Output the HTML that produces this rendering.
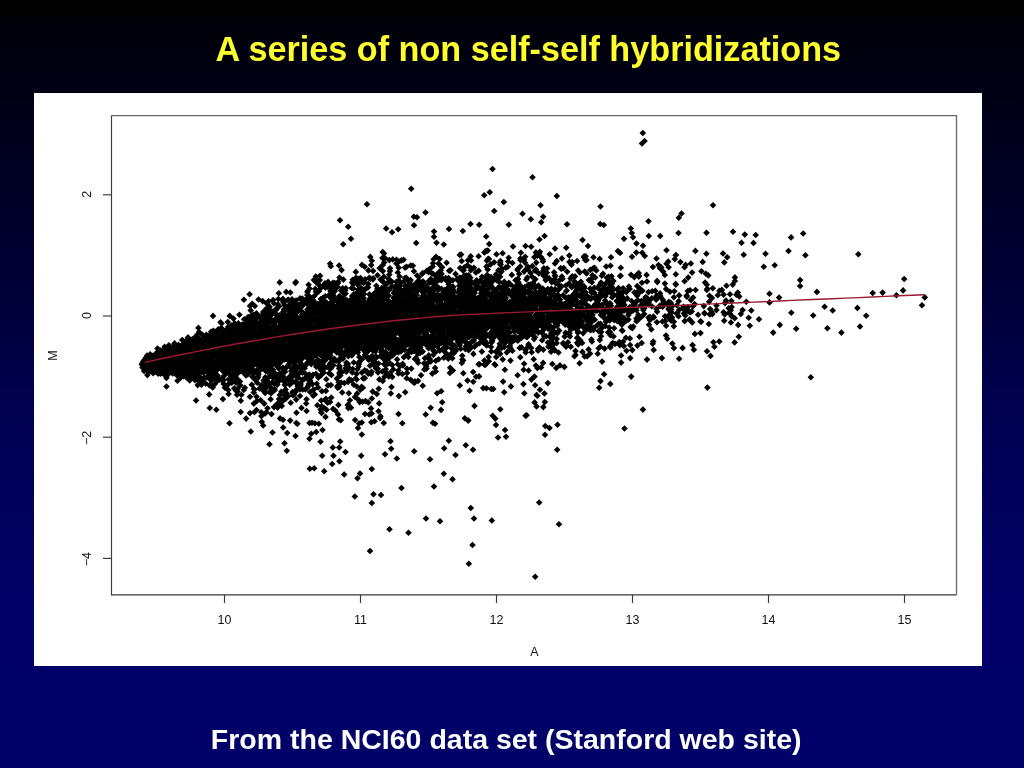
<!DOCTYPE html>
<html><head><meta charset="utf-8"><title>A series of non self-self hybridizations</title>
<style>
html,body{margin:0;padding:0;overflow:hidden;}
html{width:1024px;height:768px;background:#000;}
body{width:1024px;height:768px;overflow:hidden;background:#000;font-family:"Liberation Sans",sans-serif;position:relative;}
#bg{position:absolute;left:0;top:16px;width:1024px;height:752px;background:linear-gradient(to bottom,#000008 0px,#000015 80px,#000035 260px,#000054 420px,#000068 600px,#000069 752px);}
#title{position:absolute;left:31.8px;top:29px;width:992.6px;text-align:center;font-weight:bold;font-size:34.2px;line-height:40px;color:#ffff2e;white-space:nowrap;}
#cap{position:absolute;left:0;top:722.3px;width:1012.4px;text-align:center;font-weight:bold;font-size:28.5px;line-height:34px;color:#fff;white-space:nowrap;}
#plot{position:absolute;left:34px;top:93px;width:948px;height:573px;background:#fff;}
svg{position:absolute;left:0;top:0;will-change:transform;}
#title,#cap{will-change:transform;}
svg text{font-family:"Liberation Sans",sans-serif;font-size:12.5px;fill:#111;}
</style></head><body>
<div id="bg"></div>
<div id="title">A series of non self-self hybridizations</div>
<div id="plot"></div>
<svg width="1024" height="768" viewBox="0 0 1024 768">
<g stroke="#3a3a3a" stroke-width="1.15" fill="none">
<path d="M111.5 115.6V594.8H956.5"/><path d="M111.5 115.6H956.5V594.8" stroke="#666" stroke-width="1.3"/>
<line x1="224.5" y1="595" x2="224.5" y2="603"/><line x1="360.5" y1="595" x2="360.5" y2="603"/><line x1="496.5" y1="595" x2="496.5" y2="603"/><line x1="632.5" y1="595" x2="632.5" y2="603"/><line x1="768.5" y1="595" x2="768.5" y2="603"/><line x1="904.5" y1="595" x2="904.5" y2="603"/><line x1="103" y1="194.8" x2="111.5" y2="194.8"/><line x1="103" y1="316.0" x2="111.5" y2="316.0"/><line x1="103" y1="437.2" x2="111.5" y2="437.2"/><line x1="103" y1="558.4" x2="111.5" y2="558.4"/>
</g>
<text x="224.5" y="624" text-anchor="middle">10</text><text x="360.5" y="624" text-anchor="middle">11</text><text x="496.5" y="624" text-anchor="middle">12</text><text x="632.5" y="624" text-anchor="middle">13</text><text x="768.5" y="624" text-anchor="middle">14</text><text x="904.5" y="624" text-anchor="middle">15</text><text transform="translate(91 194.3) rotate(-90)" text-anchor="middle">2</text><text transform="translate(91 315.5) rotate(-90)" text-anchor="middle">0</text><text transform="translate(91 437.9) rotate(-90)" text-anchor="middle">−2</text><text transform="translate(91 559.1) rotate(-90)" text-anchor="middle">−4</text>
<text x="534.5" y="656" text-anchor="middle">A</text>
<text transform="translate(57.3 355.5) rotate(-90)" text-anchor="middle">M</text>
<path fill="#000" d="M141.8 361.1l3.3 3.3-3.3 3.3-3.3-3.3zM142.2 360.3l3.3 3.3-3.3 3.3-3.3-3.3zM142.2 361.5l3.3 3.3-3.3 3.3-3.3-3.3zM142.5 364.2l3.3 3.3-3.3 3.3-3.3-3.3zM142.7 360.7l3.3 3.3-3.3 3.3-3.3-3.3zM142.9 359.0l3.3 3.3-3.3 3.3-3.3-3.3zM143.0 359.6l3.3 3.3-3.3 3.3-3.3-3.3zM143.3 358.3l3.3 3.3-3.3 3.3-3.3-3.3zM143.8 357.1l3.3 3.3-3.3 3.3-3.3-3.3zM144.1 367.7l3.3 3.3-3.3 3.3-3.3-3.3zM144.6 361.7l3.3 3.3-3.3 3.3-3.3-3.3zM144.8 362.8l3.3 3.3-3.3 3.3-3.3-3.3zM145.7 359.9l3.3 3.3-3.3 3.3-3.3-3.3zM145.8 354.5l3.3 3.3-3.3 3.3-3.3-3.3zM146.3 361.9l3.3 3.3-3.3 3.3-3.3-3.3zM147.1 352.3l3.3 3.3-3.3 3.3-3.3-3.3zM147.2 365.8l3.3 3.3-3.3 3.3-3.3-3.3zM147.3 365.2l3.3 3.3-3.3 3.3-3.3-3.3zM147.4 371.8l3.3 3.3-3.3 3.3-3.3-3.3zM147.5 363.7l3.3 3.3-3.3 3.3-3.3-3.3zM148.0 357.9l3.3 3.3-3.3 3.3-3.3-3.3zM148.1 358.2l3.3 3.3-3.3 3.3-3.3-3.3zM148.2 368.3l3.3 3.3-3.3 3.3-3.3-3.3zM148.2 354.6l3.3 3.3-3.3 3.3-3.3-3.3zM148.3 367.5l3.3 3.3-3.3 3.3-3.3-3.3zM148.8 353.8l3.3 3.3-3.3 3.3-3.3-3.3zM149.7 367.3l3.3 3.3-3.3 3.3-3.3-3.3zM149.7 356.7l3.3 3.3-3.3 3.3-3.3-3.3zM150.2 350.9l3.3 3.3-3.3 3.3-3.3-3.3zM150.3 361.5l3.3 3.3-3.3 3.3-3.3-3.3zM150.3 353.0l3.3 3.3-3.3 3.3-3.3-3.3zM150.4 358.2l3.3 3.3-3.3 3.3-3.3-3.3zM150.5 351.5l3.3 3.3-3.3 3.3-3.3-3.3zM150.8 358.8l3.3 3.3-3.3 3.3-3.3-3.3zM150.9 356.0l3.3 3.3-3.3 3.3-3.3-3.3zM151.0 360.9l3.3 3.3-3.3 3.3-3.3-3.3zM151.3 365.1l3.3 3.3-3.3 3.3-3.3-3.3zM151.5 361.2l3.3 3.3-3.3 3.3-3.3-3.3zM152.1 352.5l3.3 3.3-3.3 3.3-3.3-3.3zM152.4 369.0l3.3 3.3-3.3 3.3-3.3-3.3zM152.6 356.8l3.3 3.3-3.3 3.3-3.3-3.3zM152.6 360.4l3.3 3.3-3.3 3.3-3.3-3.3zM153.0 353.2l3.3 3.3-3.3 3.3-3.3-3.3zM153.1 370.0l3.3 3.3-3.3 3.3-3.3-3.3zM153.7 361.5l3.3 3.3-3.3 3.3-3.3-3.3zM154.0 364.1l3.3 3.3-3.3 3.3-3.3-3.3zM154.0 356.2l3.3 3.3-3.3 3.3-3.3-3.3zM154.1 353.2l3.3 3.3-3.3 3.3-3.3-3.3zM154.1 365.1l3.3 3.3-3.3 3.3-3.3-3.3zM154.4 358.4l3.3 3.3-3.3 3.3-3.3-3.3zM155.1 353.2l3.3 3.3-3.3 3.3-3.3-3.3zM155.5 367.7l3.3 3.3-3.3 3.3-3.3-3.3zM155.6 353.7l3.3 3.3-3.3 3.3-3.3-3.3zM155.9 350.3l3.3 3.3-3.3 3.3-3.3-3.3zM156.0 367.5l3.3 3.3-3.3 3.3-3.3-3.3zM156.1 368.8l3.3 3.3-3.3 3.3-3.3-3.3zM156.3 356.4l3.3 3.3-3.3 3.3-3.3-3.3zM156.8 363.3l3.3 3.3-3.3 3.3-3.3-3.3zM157.4 360.7l3.3 3.3-3.3 3.3-3.3-3.3zM157.5 345.3l3.3 3.3-3.3 3.3-3.3-3.3zM157.9 352.0l3.3 3.3-3.3 3.3-3.3-3.3zM158.1 352.3l3.3 3.3-3.3 3.3-3.3-3.3zM158.2 351.8l3.3 3.3-3.3 3.3-3.3-3.3zM158.2 370.3l3.3 3.3-3.3 3.3-3.3-3.3zM158.3 360.4l3.3 3.3-3.3 3.3-3.3-3.3zM158.3 353.6l3.3 3.3-3.3 3.3-3.3-3.3zM158.5 349.0l3.3 3.3-3.3 3.3-3.3-3.3zM159.1 363.6l3.3 3.3-3.3 3.3-3.3-3.3zM159.4 358.5l3.3 3.3-3.3 3.3-3.3-3.3zM159.9 368.8l3.3 3.3-3.3 3.3-3.3-3.3zM160.5 370.4l3.3 3.3-3.3 3.3-3.3-3.3zM160.6 347.3l3.3 3.3-3.3 3.3-3.3-3.3zM160.7 354.1l3.3 3.3-3.3 3.3-3.3-3.3zM160.8 365.6l3.3 3.3-3.3 3.3-3.3-3.3zM160.9 352.3l3.3 3.3-3.3 3.3-3.3-3.3zM160.9 360.4l3.3 3.3-3.3 3.3-3.3-3.3zM161.1 353.8l3.3 3.3-3.3 3.3-3.3-3.3zM161.2 363.7l3.3 3.3-3.3 3.3-3.3-3.3zM161.5 349.5l3.3 3.3-3.3 3.3-3.3-3.3zM162.4 360.4l3.3 3.3-3.3 3.3-3.3-3.3zM163.1 370.1l3.3 3.3-3.3 3.3-3.3-3.3zM163.2 347.2l3.3 3.3-3.3 3.3-3.3-3.3zM163.3 369.0l3.3 3.3-3.3 3.3-3.3-3.3zM163.3 352.0l3.3 3.3-3.3 3.3-3.3-3.3zM163.6 357.8l3.3 3.3-3.3 3.3-3.3-3.3zM164.2 346.4l3.3 3.3-3.3 3.3-3.3-3.3zM164.3 352.2l3.3 3.3-3.3 3.3-3.3-3.3zM164.5 346.8l3.3 3.3-3.3 3.3-3.3-3.3zM164.6 343.6l3.3 3.3-3.3 3.3-3.3-3.3zM164.6 364.1l3.3 3.3-3.3 3.3-3.3-3.3zM164.8 362.8l3.3 3.3-3.3 3.3-3.3-3.3zM165.0 371.6l3.3 3.3-3.3 3.3-3.3-3.3zM165.0 348.1l3.3 3.3-3.3 3.3-3.3-3.3zM165.2 360.8l3.3 3.3-3.3 3.3-3.3-3.3zM165.6 368.6l3.3 3.3-3.3 3.3-3.3-3.3zM166.4 374.6l3.3 3.3-3.3 3.3-3.3-3.3zM166.5 383.2l3.3 3.3-3.3 3.3-3.3-3.3zM166.6 351.1l3.3 3.3-3.3 3.3-3.3-3.3zM166.7 357.0l3.3 3.3-3.3 3.3-3.3-3.3zM166.8 365.6l3.3 3.3-3.3 3.3-3.3-3.3zM166.9 345.4l3.3 3.3-3.3 3.3-3.3-3.3zM167.0 345.1l3.3 3.3-3.3 3.3-3.3-3.3zM167.3 357.4l3.3 3.3-3.3 3.3-3.3-3.3zM167.5 362.5l3.3 3.3-3.3 3.3-3.3-3.3zM167.5 355.4l3.3 3.3-3.3 3.3-3.3-3.3zM167.7 371.1l3.3 3.3-3.3 3.3-3.3-3.3zM168.0 371.3l3.3 3.3-3.3 3.3-3.3-3.3zM168.0 348.0l3.3 3.3-3.3 3.3-3.3-3.3zM168.9 342.0l3.3 3.3-3.3 3.3-3.3-3.3zM169.0 342.7l3.3 3.3-3.3 3.3-3.3-3.3zM169.0 369.9l3.3 3.3-3.3 3.3-3.3-3.3zM169.1 362.8l3.3 3.3-3.3 3.3-3.3-3.3zM169.5 360.5l3.3 3.3-3.3 3.3-3.3-3.3zM169.5 353.2l3.3 3.3-3.3 3.3-3.3-3.3zM169.8 366.2l3.3 3.3-3.3 3.3-3.3-3.3zM169.9 344.5l3.3 3.3-3.3 3.3-3.3-3.3zM170.3 343.5l3.3 3.3-3.3 3.3-3.3-3.3zM170.3 360.5l3.3 3.3-3.3 3.3-3.3-3.3zM171.3 350.5l3.3 3.3-3.3 3.3-3.3-3.3zM171.9 350.3l3.3 3.3-3.3 3.3-3.3-3.3zM172.1 355.7l3.3 3.3-3.3 3.3-3.3-3.3zM172.3 358.9l3.3 3.3-3.3 3.3-3.3-3.3zM172.4 346.0l3.3 3.3-3.3 3.3-3.3-3.3zM172.7 359.5l3.3 3.3-3.3 3.3-3.3-3.3zM172.7 370.2l3.3 3.3-3.3 3.3-3.3-3.3zM173.2 343.3l3.3 3.3-3.3 3.3-3.3-3.3zM173.7 348.7l3.3 3.3-3.3 3.3-3.3-3.3zM173.8 357.4l3.3 3.3-3.3 3.3-3.3-3.3zM173.8 349.2l3.3 3.3-3.3 3.3-3.3-3.3zM173.9 368.3l3.3 3.3-3.3 3.3-3.3-3.3zM174.0 364.1l3.3 3.3-3.3 3.3-3.3-3.3zM174.1 353.2l3.3 3.3-3.3 3.3-3.3-3.3zM174.2 361.6l3.3 3.3-3.3 3.3-3.3-3.3zM174.3 369.7l3.3 3.3-3.3 3.3-3.3-3.3zM174.4 359.9l3.3 3.3-3.3 3.3-3.3-3.3zM174.5 340.1l3.3 3.3-3.3 3.3-3.3-3.3zM174.8 343.4l3.3 3.3-3.3 3.3-3.3-3.3zM174.8 365.4l3.3 3.3-3.3 3.3-3.3-3.3zM175.0 359.2l3.3 3.3-3.3 3.3-3.3-3.3zM175.3 355.0l3.3 3.3-3.3 3.3-3.3-3.3zM175.5 357.2l3.3 3.3-3.3 3.3-3.3-3.3zM175.6 354.2l3.3 3.3-3.3 3.3-3.3-3.3zM175.9 349.6l3.3 3.3-3.3 3.3-3.3-3.3zM176.1 350.7l3.3 3.3-3.3 3.3-3.3-3.3zM176.2 345.5l3.3 3.3-3.3 3.3-3.3-3.3zM176.2 361.9l3.3 3.3-3.3 3.3-3.3-3.3zM176.3 344.1l3.3 3.3-3.3 3.3-3.3-3.3zM176.4 368.9l3.3 3.3-3.3 3.3-3.3-3.3zM176.5 344.0l3.3 3.3-3.3 3.3-3.3-3.3zM176.5 355.8l3.3 3.3-3.3 3.3-3.3-3.3zM176.6 346.3l3.3 3.3-3.3 3.3-3.3-3.3zM176.9 371.9l3.3 3.3-3.3 3.3-3.3-3.3zM176.9 346.0l3.3 3.3-3.3 3.3-3.3-3.3zM177.5 377.4l3.3 3.3-3.3 3.3-3.3-3.3zM178.1 349.1l3.3 3.3-3.3 3.3-3.3-3.3zM178.4 352.7l3.3 3.3-3.3 3.3-3.3-3.3zM178.5 367.4l3.3 3.3-3.3 3.3-3.3-3.3zM178.6 341.6l3.3 3.3-3.3 3.3-3.3-3.3zM178.7 358.5l3.3 3.3-3.3 3.3-3.3-3.3zM178.8 364.1l3.3 3.3-3.3 3.3-3.3-3.3zM179.0 360.1l3.3 3.3-3.3 3.3-3.3-3.3zM179.8 348.2l3.3 3.3-3.3 3.3-3.3-3.3zM180.0 347.5l3.3 3.3-3.3 3.3-3.3-3.3zM180.2 344.9l3.3 3.3-3.3 3.3-3.3-3.3zM180.3 350.1l3.3 3.3-3.3 3.3-3.3-3.3zM180.4 373.7l3.3 3.3-3.3 3.3-3.3-3.3zM180.5 374.4l3.3 3.3-3.3 3.3-3.3-3.3zM180.5 357.2l3.3 3.3-3.3 3.3-3.3-3.3zM180.6 364.4l3.3 3.3-3.3 3.3-3.3-3.3zM180.7 354.9l3.3 3.3-3.3 3.3-3.3-3.3zM180.9 370.2l3.3 3.3-3.3 3.3-3.3-3.3zM181.1 371.0l3.3 3.3-3.3 3.3-3.3-3.3zM181.5 372.7l3.3 3.3-3.3 3.3-3.3-3.3zM181.5 343.1l3.3 3.3-3.3 3.3-3.3-3.3zM181.7 362.7l3.3 3.3-3.3 3.3-3.3-3.3zM181.7 366.3l3.3 3.3-3.3 3.3-3.3-3.3zM181.9 341.9l3.3 3.3-3.3 3.3-3.3-3.3zM181.9 349.9l3.3 3.3-3.3 3.3-3.3-3.3zM181.9 360.4l3.3 3.3-3.3 3.3-3.3-3.3zM182.2 357.3l3.3 3.3-3.3 3.3-3.3-3.3zM182.2 364.8l3.3 3.3-3.3 3.3-3.3-3.3zM182.2 346.9l3.3 3.3-3.3 3.3-3.3-3.3zM182.2 336.7l3.3 3.3-3.3 3.3-3.3-3.3zM182.4 344.2l3.3 3.3-3.3 3.3-3.3-3.3zM182.6 364.6l3.3 3.3-3.3 3.3-3.3-3.3zM182.9 337.2l3.3 3.3-3.3 3.3-3.3-3.3zM183.0 360.6l3.3 3.3-3.3 3.3-3.3-3.3zM183.1 372.8l3.3 3.3-3.3 3.3-3.3-3.3zM183.3 366.1l3.3 3.3-3.3 3.3-3.3-3.3zM183.6 345.1l3.3 3.3-3.3 3.3-3.3-3.3zM183.7 372.6l3.3 3.3-3.3 3.3-3.3-3.3zM183.8 366.8l3.3 3.3-3.3 3.3-3.3-3.3zM183.9 351.1l3.3 3.3-3.3 3.3-3.3-3.3zM184.2 343.7l3.3 3.3-3.3 3.3-3.3-3.3zM184.3 341.6l3.3 3.3-3.3 3.3-3.3-3.3zM184.4 363.7l3.3 3.3-3.3 3.3-3.3-3.3zM184.4 345.6l3.3 3.3-3.3 3.3-3.3-3.3zM184.5 354.6l3.3 3.3-3.3 3.3-3.3-3.3zM184.5 353.5l3.3 3.3-3.3 3.3-3.3-3.3zM184.8 365.7l3.3 3.3-3.3 3.3-3.3-3.3zM184.8 342.5l3.3 3.3-3.3 3.3-3.3-3.3zM184.8 356.5l3.3 3.3-3.3 3.3-3.3-3.3zM185.1 363.3l3.3 3.3-3.3 3.3-3.3-3.3zM185.4 350.7l3.3 3.3-3.3 3.3-3.3-3.3zM185.5 351.1l3.3 3.3-3.3 3.3-3.3-3.3zM185.7 353.5l3.3 3.3-3.3 3.3-3.3-3.3zM185.7 369.8l3.3 3.3-3.3 3.3-3.3-3.3zM185.7 348.3l3.3 3.3-3.3 3.3-3.3-3.3zM185.7 341.7l3.3 3.3-3.3 3.3-3.3-3.3zM186.0 339.5l3.3 3.3-3.3 3.3-3.3-3.3zM186.1 358.4l3.3 3.3-3.3 3.3-3.3-3.3zM186.8 364.0l3.3 3.3-3.3 3.3-3.3-3.3zM187.0 336.7l3.3 3.3-3.3 3.3-3.3-3.3zM187.1 356.2l3.3 3.3-3.3 3.3-3.3-3.3zM187.3 375.0l3.3 3.3-3.3 3.3-3.3-3.3zM187.4 342.0l3.3 3.3-3.3 3.3-3.3-3.3zM187.4 367.8l3.3 3.3-3.3 3.3-3.3-3.3zM187.5 344.6l3.3 3.3-3.3 3.3-3.3-3.3zM187.7 371.4l3.3 3.3-3.3 3.3-3.3-3.3zM187.8 342.7l3.3 3.3-3.3 3.3-3.3-3.3zM188.0 334.1l3.3 3.3-3.3 3.3-3.3-3.3zM188.1 361.0l3.3 3.3-3.3 3.3-3.3-3.3zM188.5 366.6l3.3 3.3-3.3 3.3-3.3-3.3zM188.6 335.2l3.3 3.3-3.3 3.3-3.3-3.3zM188.9 343.9l3.3 3.3-3.3 3.3-3.3-3.3zM189.1 353.6l3.3 3.3-3.3 3.3-3.3-3.3zM189.1 349.3l3.3 3.3-3.3 3.3-3.3-3.3zM189.2 355.9l3.3 3.3-3.3 3.3-3.3-3.3zM189.2 356.1l3.3 3.3-3.3 3.3-3.3-3.3zM189.4 343.8l3.3 3.3-3.3 3.3-3.3-3.3zM189.6 365.8l3.3 3.3-3.3 3.3-3.3-3.3zM189.6 370.8l3.3 3.3-3.3 3.3-3.3-3.3zM189.7 377.2l3.3 3.3-3.3 3.3-3.3-3.3zM190.1 360.3l3.3 3.3-3.3 3.3-3.3-3.3zM190.2 344.1l3.3 3.3-3.3 3.3-3.3-3.3zM190.3 354.1l3.3 3.3-3.3 3.3-3.3-3.3zM190.4 370.7l3.3 3.3-3.3 3.3-3.3-3.3zM190.6 336.7l3.3 3.3-3.3 3.3-3.3-3.3zM190.7 350.5l3.3 3.3-3.3 3.3-3.3-3.3zM190.7 341.6l3.3 3.3-3.3 3.3-3.3-3.3zM190.8 368.6l3.3 3.3-3.3 3.3-3.3-3.3zM190.9 363.3l3.3 3.3-3.3 3.3-3.3-3.3zM191.4 339.3l3.3 3.3-3.3 3.3-3.3-3.3zM191.4 342.7l3.3 3.3-3.3 3.3-3.3-3.3zM191.4 348.5l3.3 3.3-3.3 3.3-3.3-3.3zM191.7 375.1l3.3 3.3-3.3 3.3-3.3-3.3zM191.7 338.5l3.3 3.3-3.3 3.3-3.3-3.3zM191.7 372.0l3.3 3.3-3.3 3.3-3.3-3.3zM191.7 351.4l3.3 3.3-3.3 3.3-3.3-3.3zM192.3 344.9l3.3 3.3-3.3 3.3-3.3-3.3zM192.4 335.9l3.3 3.3-3.3 3.3-3.3-3.3zM192.6 348.3l3.3 3.3-3.3 3.3-3.3-3.3zM193.0 338.2l3.3 3.3-3.3 3.3-3.3-3.3zM193.3 359.4l3.3 3.3-3.3 3.3-3.3-3.3zM193.3 335.7l3.3 3.3-3.3 3.3-3.3-3.3zM193.3 358.0l3.3 3.3-3.3 3.3-3.3-3.3zM193.7 366.9l3.3 3.3-3.3 3.3-3.3-3.3zM193.8 375.4l3.3 3.3-3.3 3.3-3.3-3.3zM193.9 371.7l3.3 3.3-3.3 3.3-3.3-3.3zM194.1 369.3l3.3 3.3-3.3 3.3-3.3-3.3zM194.3 356.2l3.3 3.3-3.3 3.3-3.3-3.3zM194.4 361.9l3.3 3.3-3.3 3.3-3.3-3.3zM194.6 337.1l3.3 3.3-3.3 3.3-3.3-3.3zM194.6 350.7l3.3 3.3-3.3 3.3-3.3-3.3zM194.6 344.7l3.3 3.3-3.3 3.3-3.3-3.3zM195.0 376.8l3.3 3.3-3.3 3.3-3.3-3.3zM195.2 364.7l3.3 3.3-3.3 3.3-3.3-3.3zM195.7 353.5l3.3 3.3-3.3 3.3-3.3-3.3zM195.7 341.2l3.3 3.3-3.3 3.3-3.3-3.3zM196.1 397.2l3.3 3.3-3.3 3.3-3.3-3.3zM196.3 357.1l3.3 3.3-3.3 3.3-3.3-3.3zM196.5 332.1l3.3 3.3-3.3 3.3-3.3-3.3zM196.5 371.7l3.3 3.3-3.3 3.3-3.3-3.3zM196.5 361.9l3.3 3.3-3.3 3.3-3.3-3.3zM196.5 368.0l3.3 3.3-3.3 3.3-3.3-3.3zM196.7 333.9l3.3 3.3-3.3 3.3-3.3-3.3zM196.8 362.4l3.3 3.3-3.3 3.3-3.3-3.3zM196.8 375.4l3.3 3.3-3.3 3.3-3.3-3.3zM197.1 347.7l3.3 3.3-3.3 3.3-3.3-3.3zM197.4 365.0l3.3 3.3-3.3 3.3-3.3-3.3zM197.5 359.6l3.3 3.3-3.3 3.3-3.3-3.3zM197.7 381.8l3.3 3.3-3.3 3.3-3.3-3.3zM197.9 334.4l3.3 3.3-3.3 3.3-3.3-3.3zM198.0 349.9l3.3 3.3-3.3 3.3-3.3-3.3zM198.1 375.6l3.3 3.3-3.3 3.3-3.3-3.3zM198.4 342.4l3.3 3.3-3.3 3.3-3.3-3.3zM198.4 324.6l3.3 3.3-3.3 3.3-3.3-3.3zM198.4 351.0l3.3 3.3-3.3 3.3-3.3-3.3zM198.7 334.8l3.3 3.3-3.3 3.3-3.3-3.3zM198.8 374.8l3.3 3.3-3.3 3.3-3.3-3.3zM199.0 336.4l3.3 3.3-3.3 3.3-3.3-3.3zM199.1 328.7l3.3 3.3-3.3 3.3-3.3-3.3zM199.1 339.3l3.3 3.3-3.3 3.3-3.3-3.3zM199.4 336.7l3.3 3.3-3.3 3.3-3.3-3.3zM199.4 370.2l3.3 3.3-3.3 3.3-3.3-3.3zM199.5 358.5l3.3 3.3-3.3 3.3-3.3-3.3zM199.5 378.4l3.3 3.3-3.3 3.3-3.3-3.3zM199.6 366.5l3.3 3.3-3.3 3.3-3.3-3.3zM199.6 373.2l3.3 3.3-3.3 3.3-3.3-3.3zM199.6 356.3l3.3 3.3-3.3 3.3-3.3-3.3zM200.1 342.0l3.3 3.3-3.3 3.3-3.3-3.3zM200.3 346.4l3.3 3.3-3.3 3.3-3.3-3.3zM200.6 350.7l3.3 3.3-3.3 3.3-3.3-3.3zM200.6 367.1l3.3 3.3-3.3 3.3-3.3-3.3zM200.7 380.7l3.3 3.3-3.3 3.3-3.3-3.3zM200.8 341.2l3.3 3.3-3.3 3.3-3.3-3.3zM200.9 379.2l3.3 3.3-3.3 3.3-3.3-3.3zM201.1 345.0l3.3 3.3-3.3 3.3-3.3-3.3zM201.2 349.5l3.3 3.3-3.3 3.3-3.3-3.3zM201.2 340.0l3.3 3.3-3.3 3.3-3.3-3.3zM201.3 335.9l3.3 3.3-3.3 3.3-3.3-3.3zM201.4 355.2l3.3 3.3-3.3 3.3-3.3-3.3zM201.4 354.9l3.3 3.3-3.3 3.3-3.3-3.3zM201.5 381.5l3.3 3.3-3.3 3.3-3.3-3.3zM201.6 367.0l3.3 3.3-3.3 3.3-3.3-3.3zM201.8 364.6l3.3 3.3-3.3 3.3-3.3-3.3zM201.8 361.3l3.3 3.3-3.3 3.3-3.3-3.3zM202.2 363.4l3.3 3.3-3.3 3.3-3.3-3.3zM202.4 347.3l3.3 3.3-3.3 3.3-3.3-3.3zM202.4 331.4l3.3 3.3-3.3 3.3-3.3-3.3zM202.5 355.0l3.3 3.3-3.3 3.3-3.3-3.3zM203.0 348.8l3.3 3.3-3.3 3.3-3.3-3.3zM203.1 376.8l3.3 3.3-3.3 3.3-3.3-3.3zM203.6 369.5l3.3 3.3-3.3 3.3-3.3-3.3zM203.8 336.7l3.3 3.3-3.3 3.3-3.3-3.3zM203.8 341.6l3.3 3.3-3.3 3.3-3.3-3.3zM204.0 349.7l3.3 3.3-3.3 3.3-3.3-3.3zM204.0 374.2l3.3 3.3-3.3 3.3-3.3-3.3zM204.0 374.6l3.3 3.3-3.3 3.3-3.3-3.3zM204.2 366.8l3.3 3.3-3.3 3.3-3.3-3.3zM204.2 338.2l3.3 3.3-3.3 3.3-3.3-3.3zM204.5 368.0l3.3 3.3-3.3 3.3-3.3-3.3zM204.5 363.6l3.3 3.3-3.3 3.3-3.3-3.3zM204.8 368.1l3.3 3.3-3.3 3.3-3.3-3.3zM204.9 343.1l3.3 3.3-3.3 3.3-3.3-3.3zM205.1 355.0l3.3 3.3-3.3 3.3-3.3-3.3zM205.2 357.2l3.3 3.3-3.3 3.3-3.3-3.3zM205.4 355.3l3.3 3.3-3.3 3.3-3.3-3.3zM205.5 344.4l3.3 3.3-3.3 3.3-3.3-3.3zM205.5 358.2l3.3 3.3-3.3 3.3-3.3-3.3zM205.7 380.3l3.3 3.3-3.3 3.3-3.3-3.3zM205.9 334.6l3.3 3.3-3.3 3.3-3.3-3.3zM206.1 359.0l3.3 3.3-3.3 3.3-3.3-3.3zM206.2 355.2l3.3 3.3-3.3 3.3-3.3-3.3zM206.3 331.5l3.3 3.3-3.3 3.3-3.3-3.3zM206.5 367.8l3.3 3.3-3.3 3.3-3.3-3.3zM206.6 363.4l3.3 3.3-3.3 3.3-3.3-3.3zM206.6 338.9l3.3 3.3-3.3 3.3-3.3-3.3zM206.8 341.6l3.3 3.3-3.3 3.3-3.3-3.3zM207.1 373.8l3.3 3.3-3.3 3.3-3.3-3.3zM207.1 333.1l3.3 3.3-3.3 3.3-3.3-3.3zM207.2 361.5l3.3 3.3-3.3 3.3-3.3-3.3zM207.2 345.5l3.3 3.3-3.3 3.3-3.3-3.3zM207.6 352.4l3.3 3.3-3.3 3.3-3.3-3.3zM207.8 359.1l3.3 3.3-3.3 3.3-3.3-3.3zM207.8 348.3l3.3 3.3-3.3 3.3-3.3-3.3zM208.1 364.2l3.3 3.3-3.3 3.3-3.3-3.3zM208.3 347.2l3.3 3.3-3.3 3.3-3.3-3.3zM208.4 348.8l3.3 3.3-3.3 3.3-3.3-3.3zM208.5 356.8l3.3 3.3-3.3 3.3-3.3-3.3zM208.8 371.7l3.3 3.3-3.3 3.3-3.3-3.3zM209.0 345.1l3.3 3.3-3.3 3.3-3.3-3.3zM209.0 338.7l3.3 3.3-3.3 3.3-3.3-3.3zM209.1 367.0l3.3 3.3-3.3 3.3-3.3-3.3zM209.1 375.1l3.3 3.3-3.3 3.3-3.3-3.3zM209.1 336.1l3.3 3.3-3.3 3.3-3.3-3.3zM209.2 391.1l3.3 3.3-3.3 3.3-3.3-3.3zM209.2 340.1l3.3 3.3-3.3 3.3-3.3-3.3zM209.3 332.2l3.3 3.3-3.3 3.3-3.3-3.3zM209.4 351.2l3.3 3.3-3.3 3.3-3.3-3.3zM209.5 364.6l3.3 3.3-3.3 3.3-3.3-3.3zM209.7 382.1l3.3 3.3-3.3 3.3-3.3-3.3zM209.8 404.7l3.3 3.3-3.3 3.3-3.3-3.3zM209.9 373.5l3.3 3.3-3.3 3.3-3.3-3.3zM209.9 351.1l3.3 3.3-3.3 3.3-3.3-3.3zM210.2 350.3l3.3 3.3-3.3 3.3-3.3-3.3zM210.2 374.0l3.3 3.3-3.3 3.3-3.3-3.3zM210.2 340.5l3.3 3.3-3.3 3.3-3.3-3.3zM210.2 381.2l3.3 3.3-3.3 3.3-3.3-3.3zM210.3 359.7l3.3 3.3-3.3 3.3-3.3-3.3zM210.3 339.0l3.3 3.3-3.3 3.3-3.3-3.3zM210.5 360.5l3.3 3.3-3.3 3.3-3.3-3.3zM210.8 351.8l3.3 3.3-3.3 3.3-3.3-3.3zM210.9 335.5l3.3 3.3-3.3 3.3-3.3-3.3zM211.1 328.4l3.3 3.3-3.3 3.3-3.3-3.3zM211.2 375.7l3.3 3.3-3.3 3.3-3.3-3.3zM211.2 347.5l3.3 3.3-3.3 3.3-3.3-3.3zM211.4 362.9l3.3 3.3-3.3 3.3-3.3-3.3zM211.4 336.2l3.3 3.3-3.3 3.3-3.3-3.3zM211.4 377.2l3.3 3.3-3.3 3.3-3.3-3.3zM211.5 363.8l3.3 3.3-3.3 3.3-3.3-3.3zM211.5 355.5l3.3 3.3-3.3 3.3-3.3-3.3zM211.5 371.4l3.3 3.3-3.3 3.3-3.3-3.3zM211.6 368.5l3.3 3.3-3.3 3.3-3.3-3.3zM211.8 341.6l3.3 3.3-3.3 3.3-3.3-3.3zM211.9 372.0l3.3 3.3-3.3 3.3-3.3-3.3zM212.0 356.4l3.3 3.3-3.3 3.3-3.3-3.3zM212.2 354.8l3.3 3.3-3.3 3.3-3.3-3.3zM212.3 336.4l3.3 3.3-3.3 3.3-3.3-3.3zM212.4 344.2l3.3 3.3-3.3 3.3-3.3-3.3zM212.7 351.8l3.3 3.3-3.3 3.3-3.3-3.3zM212.7 384.1l3.3 3.3-3.3 3.3-3.3-3.3zM212.8 333.6l3.3 3.3-3.3 3.3-3.3-3.3zM212.8 363.4l3.3 3.3-3.3 3.3-3.3-3.3zM212.8 337.6l3.3 3.3-3.3 3.3-3.3-3.3zM213.0 312.6l3.3 3.3-3.3 3.3-3.3-3.3zM213.0 354.9l3.3 3.3-3.3 3.3-3.3-3.3zM213.0 351.4l3.3 3.3-3.3 3.3-3.3-3.3zM213.1 342.0l3.3 3.3-3.3 3.3-3.3-3.3zM213.4 327.4l3.3 3.3-3.3 3.3-3.3-3.3zM213.4 336.3l3.3 3.3-3.3 3.3-3.3-3.3zM213.4 338.7l3.3 3.3-3.3 3.3-3.3-3.3zM213.6 351.5l3.3 3.3-3.3 3.3-3.3-3.3zM213.7 372.7l3.3 3.3-3.3 3.3-3.3-3.3zM213.7 342.2l3.3 3.3-3.3 3.3-3.3-3.3zM213.8 330.4l3.3 3.3-3.3 3.3-3.3-3.3zM214.5 360.0l3.3 3.3-3.3 3.3-3.3-3.3zM214.5 364.7l3.3 3.3-3.3 3.3-3.3-3.3zM214.7 362.5l3.3 3.3-3.3 3.3-3.3-3.3zM214.8 380.8l3.3 3.3-3.3 3.3-3.3-3.3zM215.0 368.7l3.3 3.3-3.3 3.3-3.3-3.3zM215.1 366.1l3.3 3.3-3.3 3.3-3.3-3.3zM215.1 364.5l3.3 3.3-3.3 3.3-3.3-3.3zM215.2 346.5l3.3 3.3-3.3 3.3-3.3-3.3zM215.4 337.1l3.3 3.3-3.3 3.3-3.3-3.3zM215.4 359.0l3.3 3.3-3.3 3.3-3.3-3.3zM215.5 362.0l3.3 3.3-3.3 3.3-3.3-3.3zM215.6 337.8l3.3 3.3-3.3 3.3-3.3-3.3zM215.8 351.9l3.3 3.3-3.3 3.3-3.3-3.3zM215.9 370.4l3.3 3.3-3.3 3.3-3.3-3.3zM216.0 376.0l3.3 3.3-3.3 3.3-3.3-3.3zM216.1 335.4l3.3 3.3-3.3 3.3-3.3-3.3zM216.1 329.1l3.3 3.3-3.3 3.3-3.3-3.3zM216.3 406.4l3.3 3.3-3.3 3.3-3.3-3.3zM216.4 342.8l3.3 3.3-3.3 3.3-3.3-3.3zM216.4 338.2l3.3 3.3-3.3 3.3-3.3-3.3zM216.7 376.3l3.3 3.3-3.3 3.3-3.3-3.3zM216.7 364.2l3.3 3.3-3.3 3.3-3.3-3.3zM217.2 338.0l3.3 3.3-3.3 3.3-3.3-3.3zM217.3 349.1l3.3 3.3-3.3 3.3-3.3-3.3zM217.4 349.3l3.3 3.3-3.3 3.3-3.3-3.3zM217.5 333.2l3.3 3.3-3.3 3.3-3.3-3.3zM217.5 372.1l3.3 3.3-3.3 3.3-3.3-3.3zM217.5 377.4l3.3 3.3-3.3 3.3-3.3-3.3zM217.6 366.2l3.3 3.3-3.3 3.3-3.3-3.3zM217.6 354.4l3.3 3.3-3.3 3.3-3.3-3.3zM217.7 326.5l3.3 3.3-3.3 3.3-3.3-3.3zM217.9 340.2l3.3 3.3-3.3 3.3-3.3-3.3zM218.0 342.7l3.3 3.3-3.3 3.3-3.3-3.3zM218.2 351.2l3.3 3.3-3.3 3.3-3.3-3.3zM218.3 356.4l3.3 3.3-3.3 3.3-3.3-3.3zM218.5 362.8l3.3 3.3-3.3 3.3-3.3-3.3zM218.6 326.1l3.3 3.3-3.3 3.3-3.3-3.3zM218.6 332.0l3.3 3.3-3.3 3.3-3.3-3.3zM218.7 362.8l3.3 3.3-3.3 3.3-3.3-3.3zM218.8 355.4l3.3 3.3-3.3 3.3-3.3-3.3zM218.9 361.4l3.3 3.3-3.3 3.3-3.3-3.3zM218.9 354.3l3.3 3.3-3.3 3.3-3.3-3.3zM219.1 331.8l3.3 3.3-3.3 3.3-3.3-3.3zM219.2 357.9l3.3 3.3-3.3 3.3-3.3-3.3zM219.3 343.1l3.3 3.3-3.3 3.3-3.3-3.3zM219.4 337.8l3.3 3.3-3.3 3.3-3.3-3.3zM219.6 376.3l3.3 3.3-3.3 3.3-3.3-3.3zM219.9 345.0l3.3 3.3-3.3 3.3-3.3-3.3zM220.1 335.6l3.3 3.3-3.3 3.3-3.3-3.3zM220.2 350.9l3.3 3.3-3.3 3.3-3.3-3.3zM220.5 319.0l3.3 3.3-3.3 3.3-3.3-3.3zM220.6 354.7l3.3 3.3-3.3 3.3-3.3-3.3zM220.9 346.8l3.3 3.3-3.3 3.3-3.3-3.3zM221.0 336.8l3.3 3.3-3.3 3.3-3.3-3.3zM221.1 360.4l3.3 3.3-3.3 3.3-3.3-3.3zM221.1 363.7l3.3 3.3-3.3 3.3-3.3-3.3zM221.4 324.6l3.3 3.3-3.3 3.3-3.3-3.3zM221.5 345.8l3.3 3.3-3.3 3.3-3.3-3.3zM221.5 327.5l3.3 3.3-3.3 3.3-3.3-3.3zM221.6 320.1l3.3 3.3-3.3 3.3-3.3-3.3zM221.7 356.7l3.3 3.3-3.3 3.3-3.3-3.3zM221.8 365.3l3.3 3.3-3.3 3.3-3.3-3.3zM221.8 342.8l3.3 3.3-3.3 3.3-3.3-3.3zM221.8 338.7l3.3 3.3-3.3 3.3-3.3-3.3zM221.8 375.8l3.3 3.3-3.3 3.3-3.3-3.3zM221.8 344.3l3.3 3.3-3.3 3.3-3.3-3.3zM221.9 366.8l3.3 3.3-3.3 3.3-3.3-3.3zM222.0 350.1l3.3 3.3-3.3 3.3-3.3-3.3zM222.2 356.8l3.3 3.3-3.3 3.3-3.3-3.3zM222.4 334.0l3.3 3.3-3.3 3.3-3.3-3.3zM222.5 361.4l3.3 3.3-3.3 3.3-3.3-3.3zM222.7 377.7l3.3 3.3-3.3 3.3-3.3-3.3zM222.8 352.8l3.3 3.3-3.3 3.3-3.3-3.3zM222.8 354.4l3.3 3.3-3.3 3.3-3.3-3.3zM222.9 332.5l3.3 3.3-3.3 3.3-3.3-3.3zM222.9 395.8l3.3 3.3-3.3 3.3-3.3-3.3zM223.0 365.7l3.3 3.3-3.3 3.3-3.3-3.3zM223.1 346.4l3.3 3.3-3.3 3.3-3.3-3.3zM223.3 363.5l3.3 3.3-3.3 3.3-3.3-3.3zM223.3 340.0l3.3 3.3-3.3 3.3-3.3-3.3zM223.4 330.0l3.3 3.3-3.3 3.3-3.3-3.3zM223.5 373.1l3.3 3.3-3.3 3.3-3.3-3.3zM223.5 376.6l3.3 3.3-3.3 3.3-3.3-3.3zM223.5 362.7l3.3 3.3-3.3 3.3-3.3-3.3zM223.7 333.8l3.3 3.3-3.3 3.3-3.3-3.3zM223.7 380.6l3.3 3.3-3.3 3.3-3.3-3.3zM223.8 359.1l3.3 3.3-3.3 3.3-3.3-3.3zM223.8 343.2l3.3 3.3-3.3 3.3-3.3-3.3zM224.1 359.0l3.3 3.3-3.3 3.3-3.3-3.3zM224.1 337.6l3.3 3.3-3.3 3.3-3.3-3.3zM224.5 359.9l3.3 3.3-3.3 3.3-3.3-3.3zM224.5 348.1l3.3 3.3-3.3 3.3-3.3-3.3zM224.6 330.9l3.3 3.3-3.3 3.3-3.3-3.3zM224.8 369.6l3.3 3.3-3.3 3.3-3.3-3.3zM224.8 348.4l3.3 3.3-3.3 3.3-3.3-3.3zM224.9 384.4l3.3 3.3-3.3 3.3-3.3-3.3zM225.0 369.9l3.3 3.3-3.3 3.3-3.3-3.3zM225.0 341.1l3.3 3.3-3.3 3.3-3.3-3.3zM225.4 351.6l3.3 3.3-3.3 3.3-3.3-3.3zM225.5 329.4l3.3 3.3-3.3 3.3-3.3-3.3zM225.5 349.5l3.3 3.3-3.3 3.3-3.3-3.3zM225.5 356.7l3.3 3.3-3.3 3.3-3.3-3.3zM225.6 335.1l3.3 3.3-3.3 3.3-3.3-3.3zM225.7 343.0l3.3 3.3-3.3 3.3-3.3-3.3zM226.0 330.7l3.3 3.3-3.3 3.3-3.3-3.3zM226.1 326.7l3.3 3.3-3.3 3.3-3.3-3.3zM226.4 365.3l3.3 3.3-3.3 3.3-3.3-3.3zM226.4 350.0l3.3 3.3-3.3 3.3-3.3-3.3zM226.5 353.3l3.3 3.3-3.3 3.3-3.3-3.3zM226.7 339.9l3.3 3.3-3.3 3.3-3.3-3.3zM226.7 369.6l3.3 3.3-3.3 3.3-3.3-3.3zM226.7 369.1l3.3 3.3-3.3 3.3-3.3-3.3zM226.8 355.0l3.3 3.3-3.3 3.3-3.3-3.3zM226.9 334.5l3.3 3.3-3.3 3.3-3.3-3.3zM227.0 363.2l3.3 3.3-3.3 3.3-3.3-3.3zM227.1 351.6l3.3 3.3-3.3 3.3-3.3-3.3zM227.1 382.3l3.3 3.3-3.3 3.3-3.3-3.3zM227.4 358.8l3.3 3.3-3.3 3.3-3.3-3.3zM227.7 344.9l3.3 3.3-3.3 3.3-3.3-3.3zM227.8 318.8l3.3 3.3-3.3 3.3-3.3-3.3zM227.8 347.7l3.3 3.3-3.3 3.3-3.3-3.3zM228.0 325.4l3.3 3.3-3.3 3.3-3.3-3.3zM228.1 343.3l3.3 3.3-3.3 3.3-3.3-3.3zM228.2 361.1l3.3 3.3-3.3 3.3-3.3-3.3zM228.3 323.4l3.3 3.3-3.3 3.3-3.3-3.3zM228.3 386.8l3.3 3.3-3.3 3.3-3.3-3.3zM228.5 345.5l3.3 3.3-3.3 3.3-3.3-3.3zM228.6 376.1l3.3 3.3-3.3 3.3-3.3-3.3zM228.6 390.7l3.3 3.3-3.3 3.3-3.3-3.3zM228.7 339.2l3.3 3.3-3.3 3.3-3.3-3.3zM228.7 342.0l3.3 3.3-3.3 3.3-3.3-3.3zM228.8 380.4l3.3 3.3-3.3 3.3-3.3-3.3zM228.8 326.0l3.3 3.3-3.3 3.3-3.3-3.3zM228.9 359.1l3.3 3.3-3.3 3.3-3.3-3.3zM229.3 359.4l3.3 3.3-3.3 3.3-3.3-3.3zM229.4 370.7l3.3 3.3-3.3 3.3-3.3-3.3zM229.5 420.0l3.3 3.3-3.3 3.3-3.3-3.3zM229.6 358.8l3.3 3.3-3.3 3.3-3.3-3.3zM229.6 329.3l3.3 3.3-3.3 3.3-3.3-3.3zM229.7 312.6l3.3 3.3-3.3 3.3-3.3-3.3zM229.8 346.0l3.3 3.3-3.3 3.3-3.3-3.3zM229.9 348.1l3.3 3.3-3.3 3.3-3.3-3.3zM230.1 365.8l3.3 3.3-3.3 3.3-3.3-3.3zM230.2 344.0l3.3 3.3-3.3 3.3-3.3-3.3zM230.5 370.5l3.3 3.3-3.3 3.3-3.3-3.3zM230.7 375.4l3.3 3.3-3.3 3.3-3.3-3.3zM230.9 332.4l3.3 3.3-3.3 3.3-3.3-3.3zM231.0 354.1l3.3 3.3-3.3 3.3-3.3-3.3zM231.0 335.6l3.3 3.3-3.3 3.3-3.3-3.3zM231.1 337.9l3.3 3.3-3.3 3.3-3.3-3.3zM231.1 364.7l3.3 3.3-3.3 3.3-3.3-3.3zM231.1 338.1l3.3 3.3-3.3 3.3-3.3-3.3zM231.2 337.3l3.3 3.3-3.3 3.3-3.3-3.3zM231.4 322.2l3.3 3.3-3.3 3.3-3.3-3.3zM231.5 362.5l3.3 3.3-3.3 3.3-3.3-3.3zM231.8 379.5l3.3 3.3-3.3 3.3-3.3-3.3zM231.9 351.5l3.3 3.3-3.3 3.3-3.3-3.3zM231.9 357.6l3.3 3.3-3.3 3.3-3.3-3.3zM231.9 364.7l3.3 3.3-3.3 3.3-3.3-3.3zM232.0 326.1l3.3 3.3-3.3 3.3-3.3-3.3zM232.1 375.2l3.3 3.3-3.3 3.3-3.3-3.3zM232.2 376.8l3.3 3.3-3.3 3.3-3.3-3.3zM232.3 348.3l3.3 3.3-3.3 3.3-3.3-3.3zM232.4 370.5l3.3 3.3-3.3 3.3-3.3-3.3zM232.4 333.1l3.3 3.3-3.3 3.3-3.3-3.3zM232.4 341.6l3.3 3.3-3.3 3.3-3.3-3.3zM232.5 325.8l3.3 3.3-3.3 3.3-3.3-3.3zM232.5 343.1l3.3 3.3-3.3 3.3-3.3-3.3zM232.6 358.8l3.3 3.3-3.3 3.3-3.3-3.3zM232.6 335.3l3.3 3.3-3.3 3.3-3.3-3.3zM232.7 373.2l3.3 3.3-3.3 3.3-3.3-3.3zM232.9 354.2l3.3 3.3-3.3 3.3-3.3-3.3zM233.1 350.0l3.3 3.3-3.3 3.3-3.3-3.3zM233.2 364.1l3.3 3.3-3.3 3.3-3.3-3.3zM233.3 342.2l3.3 3.3-3.3 3.3-3.3-3.3zM233.4 325.9l3.3 3.3-3.3 3.3-3.3-3.3zM233.4 315.3l3.3 3.3-3.3 3.3-3.3-3.3zM233.5 346.7l3.3 3.3-3.3 3.3-3.3-3.3zM233.6 351.9l3.3 3.3-3.3 3.3-3.3-3.3zM233.6 371.2l3.3 3.3-3.3 3.3-3.3-3.3zM233.7 344.3l3.3 3.3-3.3 3.3-3.3-3.3zM233.7 365.3l3.3 3.3-3.3 3.3-3.3-3.3zM233.9 337.1l3.3 3.3-3.3 3.3-3.3-3.3zM234.0 363.0l3.3 3.3-3.3 3.3-3.3-3.3zM234.0 338.3l3.3 3.3-3.3 3.3-3.3-3.3zM234.0 336.6l3.3 3.3-3.3 3.3-3.3-3.3zM234.2 325.0l3.3 3.3-3.3 3.3-3.3-3.3zM234.3 385.0l3.3 3.3-3.3 3.3-3.3-3.3zM234.4 330.4l3.3 3.3-3.3 3.3-3.3-3.3zM234.4 333.9l3.3 3.3-3.3 3.3-3.3-3.3zM234.5 349.4l3.3 3.3-3.3 3.3-3.3-3.3zM234.8 320.1l3.3 3.3-3.3 3.3-3.3-3.3zM234.8 353.7l3.3 3.3-3.3 3.3-3.3-3.3zM234.9 358.3l3.3 3.3-3.3 3.3-3.3-3.3zM235.2 363.1l3.3 3.3-3.3 3.3-3.3-3.3zM235.5 368.9l3.3 3.3-3.3 3.3-3.3-3.3zM235.5 360.0l3.3 3.3-3.3 3.3-3.3-3.3zM235.7 330.7l3.3 3.3-3.3 3.3-3.3-3.3zM235.9 387.1l3.3 3.3-3.3 3.3-3.3-3.3zM235.9 333.3l3.3 3.3-3.3 3.3-3.3-3.3zM236.0 332.2l3.3 3.3-3.3 3.3-3.3-3.3zM236.1 379.5l3.3 3.3-3.3 3.3-3.3-3.3zM236.3 374.4l3.3 3.3-3.3 3.3-3.3-3.3zM236.3 329.6l3.3 3.3-3.3 3.3-3.3-3.3zM236.4 375.9l3.3 3.3-3.3 3.3-3.3-3.3zM236.5 326.8l3.3 3.3-3.3 3.3-3.3-3.3zM236.5 336.1l3.3 3.3-3.3 3.3-3.3-3.3zM236.6 327.8l3.3 3.3-3.3 3.3-3.3-3.3zM236.7 370.2l3.3 3.3-3.3 3.3-3.3-3.3zM236.7 336.6l3.3 3.3-3.3 3.3-3.3-3.3zM236.8 324.5l3.3 3.3-3.3 3.3-3.3-3.3zM236.8 352.6l3.3 3.3-3.3 3.3-3.3-3.3zM236.8 344.3l3.3 3.3-3.3 3.3-3.3-3.3zM236.8 363.8l3.3 3.3-3.3 3.3-3.3-3.3zM236.9 341.7l3.3 3.3-3.3 3.3-3.3-3.3zM237.0 391.5l3.3 3.3-3.3 3.3-3.3-3.3zM237.2 354.0l3.3 3.3-3.3 3.3-3.3-3.3zM237.3 370.4l3.3 3.3-3.3 3.3-3.3-3.3zM237.5 330.8l3.3 3.3-3.3 3.3-3.3-3.3zM237.5 388.3l3.3 3.3-3.3 3.3-3.3-3.3zM237.5 340.4l3.3 3.3-3.3 3.3-3.3-3.3zM237.6 385.4l3.3 3.3-3.3 3.3-3.3-3.3zM237.6 348.6l3.3 3.3-3.3 3.3-3.3-3.3zM237.6 359.9l3.3 3.3-3.3 3.3-3.3-3.3zM237.6 336.8l3.3 3.3-3.3 3.3-3.3-3.3zM238.0 369.1l3.3 3.3-3.3 3.3-3.3-3.3zM238.3 320.1l3.3 3.3-3.3 3.3-3.3-3.3zM238.5 346.6l3.3 3.3-3.3 3.3-3.3-3.3zM238.8 350.8l3.3 3.3-3.3 3.3-3.3-3.3zM239.0 363.3l3.3 3.3-3.3 3.3-3.3-3.3zM239.4 337.0l3.3 3.3-3.3 3.3-3.3-3.3zM239.4 311.4l3.3 3.3-3.3 3.3-3.3-3.3zM239.4 367.7l3.3 3.3-3.3 3.3-3.3-3.3zM239.6 339.4l3.3 3.3-3.3 3.3-3.3-3.3zM239.7 353.2l3.3 3.3-3.3 3.3-3.3-3.3zM239.9 378.1l3.3 3.3-3.3 3.3-3.3-3.3zM240.1 332.9l3.3 3.3-3.3 3.3-3.3-3.3zM240.1 342.2l3.3 3.3-3.3 3.3-3.3-3.3zM240.3 382.0l3.3 3.3-3.3 3.3-3.3-3.3zM240.3 356.1l3.3 3.3-3.3 3.3-3.3-3.3zM240.3 324.1l3.3 3.3-3.3 3.3-3.3-3.3zM240.3 346.9l3.3 3.3-3.3 3.3-3.3-3.3zM240.3 332.6l3.3 3.3-3.3 3.3-3.3-3.3zM240.7 408.7l3.3 3.3-3.3 3.3-3.3-3.3zM240.7 327.5l3.3 3.3-3.3 3.3-3.3-3.3zM240.8 397.4l3.3 3.3-3.3 3.3-3.3-3.3zM240.9 367.8l3.3 3.3-3.3 3.3-3.3-3.3zM240.9 363.5l3.3 3.3-3.3 3.3-3.3-3.3zM241.1 352.5l3.3 3.3-3.3 3.3-3.3-3.3zM241.4 391.4l3.3 3.3-3.3 3.3-3.3-3.3zM241.4 335.1l3.3 3.3-3.3 3.3-3.3-3.3zM241.5 356.1l3.3 3.3-3.3 3.3-3.3-3.3zM241.6 352.8l3.3 3.3-3.3 3.3-3.3-3.3zM241.8 361.5l3.3 3.3-3.3 3.3-3.3-3.3zM241.9 348.1l3.3 3.3-3.3 3.3-3.3-3.3zM242.0 366.2l3.3 3.3-3.3 3.3-3.3-3.3zM242.1 321.2l3.3 3.3-3.3 3.3-3.3-3.3zM242.3 339.4l3.3 3.3-3.3 3.3-3.3-3.3zM242.5 367.4l3.3 3.3-3.3 3.3-3.3-3.3zM242.6 345.0l3.3 3.3-3.3 3.3-3.3-3.3zM242.9 358.8l3.3 3.3-3.3 3.3-3.3-3.3zM243.0 321.9l3.3 3.3-3.3 3.3-3.3-3.3zM243.1 325.6l3.3 3.3-3.3 3.3-3.3-3.3zM243.2 330.6l3.3 3.3-3.3 3.3-3.3-3.3zM243.5 354.6l3.3 3.3-3.3 3.3-3.3-3.3zM243.6 332.9l3.3 3.3-3.3 3.3-3.3-3.3zM243.8 386.7l3.3 3.3-3.3 3.3-3.3-3.3zM243.9 296.4l3.3 3.3-3.3 3.3-3.3-3.3zM244.2 316.0l3.3 3.3-3.3 3.3-3.3-3.3zM244.3 323.9l3.3 3.3-3.3 3.3-3.3-3.3zM244.5 370.3l3.3 3.3-3.3 3.3-3.3-3.3zM244.6 336.4l3.3 3.3-3.3 3.3-3.3-3.3zM244.7 342.1l3.3 3.3-3.3 3.3-3.3-3.3zM244.8 384.5l3.3 3.3-3.3 3.3-3.3-3.3zM244.9 356.5l3.3 3.3-3.3 3.3-3.3-3.3zM245.0 350.1l3.3 3.3-3.3 3.3-3.3-3.3zM245.2 362.8l3.3 3.3-3.3 3.3-3.3-3.3zM245.3 330.1l3.3 3.3-3.3 3.3-3.3-3.3zM245.3 327.4l3.3 3.3-3.3 3.3-3.3-3.3zM245.4 351.8l3.3 3.3-3.3 3.3-3.3-3.3zM245.4 368.5l3.3 3.3-3.3 3.3-3.3-3.3zM245.4 371.5l3.3 3.3-3.3 3.3-3.3-3.3zM245.5 369.2l3.3 3.3-3.3 3.3-3.3-3.3zM245.6 325.2l3.3 3.3-3.3 3.3-3.3-3.3zM245.7 320.7l3.3 3.3-3.3 3.3-3.3-3.3zM245.7 346.4l3.3 3.3-3.3 3.3-3.3-3.3zM245.9 337.6l3.3 3.3-3.3 3.3-3.3-3.3zM245.9 359.0l3.3 3.3-3.3 3.3-3.3-3.3zM246.0 339.5l3.3 3.3-3.3 3.3-3.3-3.3zM246.0 350.8l3.3 3.3-3.3 3.3-3.3-3.3zM246.0 319.5l3.3 3.3-3.3 3.3-3.3-3.3zM246.1 372.1l3.3 3.3-3.3 3.3-3.3-3.3zM246.1 415.3l3.3 3.3-3.3 3.3-3.3-3.3zM246.7 323.4l3.3 3.3-3.3 3.3-3.3-3.3zM246.8 342.9l3.3 3.3-3.3 3.3-3.3-3.3zM246.8 351.0l3.3 3.3-3.3 3.3-3.3-3.3zM246.8 337.6l3.3 3.3-3.3 3.3-3.3-3.3zM246.9 358.4l3.3 3.3-3.3 3.3-3.3-3.3zM247.1 370.0l3.3 3.3-3.3 3.3-3.3-3.3zM247.2 362.6l3.3 3.3-3.3 3.3-3.3-3.3zM247.4 331.6l3.3 3.3-3.3 3.3-3.3-3.3zM247.5 334.5l3.3 3.3-3.3 3.3-3.3-3.3zM247.5 329.1l3.3 3.3-3.3 3.3-3.3-3.3zM247.5 345.4l3.3 3.3-3.3 3.3-3.3-3.3zM247.5 365.6l3.3 3.3-3.3 3.3-3.3-3.3zM247.6 331.6l3.3 3.3-3.3 3.3-3.3-3.3zM247.6 359.1l3.3 3.3-3.3 3.3-3.3-3.3zM247.8 341.0l3.3 3.3-3.3 3.3-3.3-3.3zM247.9 352.0l3.3 3.3-3.3 3.3-3.3-3.3zM247.9 371.0l3.3 3.3-3.3 3.3-3.3-3.3zM248.1 313.7l3.3 3.3-3.3 3.3-3.3-3.3zM248.3 315.1l3.3 3.3-3.3 3.3-3.3-3.3zM248.3 329.7l3.3 3.3-3.3 3.3-3.3-3.3zM248.4 363.7l3.3 3.3-3.3 3.3-3.3-3.3zM248.7 336.6l3.3 3.3-3.3 3.3-3.3-3.3zM248.8 353.9l3.3 3.3-3.3 3.3-3.3-3.3zM249.2 317.5l3.3 3.3-3.3 3.3-3.3-3.3zM249.3 321.5l3.3 3.3-3.3 3.3-3.3-3.3zM249.3 347.5l3.3 3.3-3.3 3.3-3.3-3.3zM249.3 346.1l3.3 3.3-3.3 3.3-3.3-3.3zM249.5 368.1l3.3 3.3-3.3 3.3-3.3-3.3zM249.5 353.7l3.3 3.3-3.3 3.3-3.3-3.3zM249.5 325.2l3.3 3.3-3.3 3.3-3.3-3.3zM249.6 290.9l3.3 3.3-3.3 3.3-3.3-3.3zM249.7 362.7l3.3 3.3-3.3 3.3-3.3-3.3zM250.0 302.6l3.3 3.3-3.3 3.3-3.3-3.3zM250.0 393.5l3.3 3.3-3.3 3.3-3.3-3.3zM250.0 409.8l3.3 3.3-3.3 3.3-3.3-3.3zM250.0 340.1l3.3 3.3-3.3 3.3-3.3-3.3zM250.1 358.3l3.3 3.3-3.3 3.3-3.3-3.3zM250.1 349.4l3.3 3.3-3.3 3.3-3.3-3.3zM250.2 328.4l3.3 3.3-3.3 3.3-3.3-3.3zM250.2 331.3l3.3 3.3-3.3 3.3-3.3-3.3zM250.2 359.3l3.3 3.3-3.3 3.3-3.3-3.3zM250.3 331.0l3.3 3.3-3.3 3.3-3.3-3.3zM250.3 347.3l3.3 3.3-3.3 3.3-3.3-3.3zM250.3 323.5l3.3 3.3-3.3 3.3-3.3-3.3zM250.4 321.0l3.3 3.3-3.3 3.3-3.3-3.3zM250.6 334.5l3.3 3.3-3.3 3.3-3.3-3.3zM250.6 333.7l3.3 3.3-3.3 3.3-3.3-3.3zM250.7 351.0l3.3 3.3-3.3 3.3-3.3-3.3zM250.7 328.4l3.3 3.3-3.3 3.3-3.3-3.3zM250.7 307.1l3.3 3.3-3.3 3.3-3.3-3.3zM250.8 428.2l3.3 3.3-3.3 3.3-3.3-3.3zM250.8 356.0l3.3 3.3-3.3 3.3-3.3-3.3zM250.8 340.4l3.3 3.3-3.3 3.3-3.3-3.3zM251.0 364.5l3.3 3.3-3.3 3.3-3.3-3.3zM251.0 312.5l3.3 3.3-3.3 3.3-3.3-3.3zM251.3 360.3l3.3 3.3-3.3 3.3-3.3-3.3zM251.4 344.9l3.3 3.3-3.3 3.3-3.3-3.3zM251.4 366.5l3.3 3.3-3.3 3.3-3.3-3.3zM251.5 332.0l3.3 3.3-3.3 3.3-3.3-3.3zM251.6 361.0l3.3 3.3-3.3 3.3-3.3-3.3zM251.6 344.2l3.3 3.3-3.3 3.3-3.3-3.3zM251.7 341.3l3.3 3.3-3.3 3.3-3.3-3.3zM251.7 325.9l3.3 3.3-3.3 3.3-3.3-3.3zM251.8 381.4l3.3 3.3-3.3 3.3-3.3-3.3zM251.9 338.6l3.3 3.3-3.3 3.3-3.3-3.3zM251.9 312.9l3.3 3.3-3.3 3.3-3.3-3.3zM252.1 351.2l3.3 3.3-3.3 3.3-3.3-3.3zM252.1 345.1l3.3 3.3-3.3 3.3-3.3-3.3zM252.2 300.4l3.3 3.3-3.3 3.3-3.3-3.3zM252.3 373.4l3.3 3.3-3.3 3.3-3.3-3.3zM252.4 341.0l3.3 3.3-3.3 3.3-3.3-3.3zM252.5 319.8l3.3 3.3-3.3 3.3-3.3-3.3zM252.6 362.9l3.3 3.3-3.3 3.3-3.3-3.3zM252.6 315.8l3.3 3.3-3.3 3.3-3.3-3.3zM252.7 366.2l3.3 3.3-3.3 3.3-3.3-3.3zM252.8 354.6l3.3 3.3-3.3 3.3-3.3-3.3zM252.8 351.2l3.3 3.3-3.3 3.3-3.3-3.3zM253.2 351.4l3.3 3.3-3.3 3.3-3.3-3.3zM253.2 325.7l3.3 3.3-3.3 3.3-3.3-3.3zM253.3 329.6l3.3 3.3-3.3 3.3-3.3-3.3zM253.3 369.9l3.3 3.3-3.3 3.3-3.3-3.3zM253.4 329.5l3.3 3.3-3.3 3.3-3.3-3.3zM253.4 311.6l3.3 3.3-3.3 3.3-3.3-3.3zM253.6 327.7l3.3 3.3-3.3 3.3-3.3-3.3zM253.8 389.2l3.3 3.3-3.3 3.3-3.3-3.3zM253.9 400.3l3.3 3.3-3.3 3.3-3.3-3.3zM253.9 385.7l3.3 3.3-3.3 3.3-3.3-3.3zM253.9 345.3l3.3 3.3-3.3 3.3-3.3-3.3zM254.0 344.3l3.3 3.3-3.3 3.3-3.3-3.3zM254.0 374.0l3.3 3.3-3.3 3.3-3.3-3.3zM254.0 339.6l3.3 3.3-3.3 3.3-3.3-3.3zM254.2 336.2l3.3 3.3-3.3 3.3-3.3-3.3zM254.2 314.3l3.3 3.3-3.3 3.3-3.3-3.3zM254.3 349.8l3.3 3.3-3.3 3.3-3.3-3.3zM254.4 408.8l3.3 3.3-3.3 3.3-3.3-3.3zM254.4 322.1l3.3 3.3-3.3 3.3-3.3-3.3zM254.4 386.1l3.3 3.3-3.3 3.3-3.3-3.3zM254.5 375.8l3.3 3.3-3.3 3.3-3.3-3.3zM254.8 302.7l3.3 3.3-3.3 3.3-3.3-3.3zM254.9 354.3l3.3 3.3-3.3 3.3-3.3-3.3zM254.9 358.8l3.3 3.3-3.3 3.3-3.3-3.3zM254.9 316.2l3.3 3.3-3.3 3.3-3.3-3.3zM255.0 368.7l3.3 3.3-3.3 3.3-3.3-3.3zM255.3 376.4l3.3 3.3-3.3 3.3-3.3-3.3zM255.4 355.5l3.3 3.3-3.3 3.3-3.3-3.3zM255.5 349.5l3.3 3.3-3.3 3.3-3.3-3.3zM255.6 349.8l3.3 3.3-3.3 3.3-3.3-3.3zM255.6 343.0l3.3 3.3-3.3 3.3-3.3-3.3zM255.7 324.2l3.3 3.3-3.3 3.3-3.3-3.3zM255.8 358.8l3.3 3.3-3.3 3.3-3.3-3.3zM255.8 351.7l3.3 3.3-3.3 3.3-3.3-3.3zM255.8 333.1l3.3 3.3-3.3 3.3-3.3-3.3zM255.9 360.6l3.3 3.3-3.3 3.3-3.3-3.3zM255.9 344.9l3.3 3.3-3.3 3.3-3.3-3.3zM256.0 315.3l3.3 3.3-3.3 3.3-3.3-3.3zM256.0 353.4l3.3 3.3-3.3 3.3-3.3-3.3zM256.0 358.4l3.3 3.3-3.3 3.3-3.3-3.3zM256.1 329.4l3.3 3.3-3.3 3.3-3.3-3.3zM256.2 341.9l3.3 3.3-3.3 3.3-3.3-3.3zM256.2 343.0l3.3 3.3-3.3 3.3-3.3-3.3zM256.4 334.6l3.3 3.3-3.3 3.3-3.3-3.3zM256.4 367.3l3.3 3.3-3.3 3.3-3.3-3.3zM256.4 330.5l3.3 3.3-3.3 3.3-3.3-3.3zM256.4 310.0l3.3 3.3-3.3 3.3-3.3-3.3zM256.5 406.8l3.3 3.3-3.3 3.3-3.3-3.3zM256.6 340.3l3.3 3.3-3.3 3.3-3.3-3.3zM256.6 393.4l3.3 3.3-3.3 3.3-3.3-3.3zM256.8 335.3l3.3 3.3-3.3 3.3-3.3-3.3zM256.8 320.2l3.3 3.3-3.3 3.3-3.3-3.3zM256.9 397.6l3.3 3.3-3.3 3.3-3.3-3.3zM257.0 347.6l3.3 3.3-3.3 3.3-3.3-3.3zM257.1 319.3l3.3 3.3-3.3 3.3-3.3-3.3zM257.2 379.5l3.3 3.3-3.3 3.3-3.3-3.3zM257.4 375.1l3.3 3.3-3.3 3.3-3.3-3.3zM257.5 330.4l3.3 3.3-3.3 3.3-3.3-3.3zM257.6 355.2l3.3 3.3-3.3 3.3-3.3-3.3zM257.7 339.6l3.3 3.3-3.3 3.3-3.3-3.3zM257.9 336.7l3.3 3.3-3.3 3.3-3.3-3.3zM257.9 328.7l3.3 3.3-3.3 3.3-3.3-3.3zM258.0 352.9l3.3 3.3-3.3 3.3-3.3-3.3zM258.1 373.7l3.3 3.3-3.3 3.3-3.3-3.3zM258.1 370.1l3.3 3.3-3.3 3.3-3.3-3.3zM258.1 367.8l3.3 3.3-3.3 3.3-3.3-3.3zM258.3 312.3l3.3 3.3-3.3 3.3-3.3-3.3zM258.4 356.2l3.3 3.3-3.3 3.3-3.3-3.3zM258.4 324.7l3.3 3.3-3.3 3.3-3.3-3.3zM258.4 354.1l3.3 3.3-3.3 3.3-3.3-3.3zM258.5 362.7l3.3 3.3-3.3 3.3-3.3-3.3zM258.5 296.2l3.3 3.3-3.3 3.3-3.3-3.3zM258.5 371.3l3.3 3.3-3.3 3.3-3.3-3.3zM258.5 355.2l3.3 3.3-3.3 3.3-3.3-3.3zM258.6 354.1l3.3 3.3-3.3 3.3-3.3-3.3zM258.8 347.2l3.3 3.3-3.3 3.3-3.3-3.3zM258.8 367.5l3.3 3.3-3.3 3.3-3.3-3.3zM259.1 357.4l3.3 3.3-3.3 3.3-3.3-3.3zM259.2 334.9l3.3 3.3-3.3 3.3-3.3-3.3zM259.5 359.3l3.3 3.3-3.3 3.3-3.3-3.3zM259.5 385.2l3.3 3.3-3.3 3.3-3.3-3.3zM259.6 326.0l3.3 3.3-3.3 3.3-3.3-3.3zM259.6 354.8l3.3 3.3-3.3 3.3-3.3-3.3zM259.6 348.6l3.3 3.3-3.3 3.3-3.3-3.3zM259.6 351.0l3.3 3.3-3.3 3.3-3.3-3.3zM259.8 319.8l3.3 3.3-3.3 3.3-3.3-3.3zM259.9 346.8l3.3 3.3-3.3 3.3-3.3-3.3zM259.9 332.9l3.3 3.3-3.3 3.3-3.3-3.3zM260.0 337.0l3.3 3.3-3.3 3.3-3.3-3.3zM260.1 345.8l3.3 3.3-3.3 3.3-3.3-3.3zM260.2 332.9l3.3 3.3-3.3 3.3-3.3-3.3zM260.3 357.7l3.3 3.3-3.3 3.3-3.3-3.3zM260.5 331.9l3.3 3.3-3.3 3.3-3.3-3.3zM260.7 396.9l3.3 3.3-3.3 3.3-3.3-3.3zM260.7 352.8l3.3 3.3-3.3 3.3-3.3-3.3zM260.7 313.8l3.3 3.3-3.3 3.3-3.3-3.3zM260.8 360.8l3.3 3.3-3.3 3.3-3.3-3.3zM260.9 313.0l3.3 3.3-3.3 3.3-3.3-3.3zM261.0 366.1l3.3 3.3-3.3 3.3-3.3-3.3zM261.1 323.4l3.3 3.3-3.3 3.3-3.3-3.3zM261.2 355.1l3.3 3.3-3.3 3.3-3.3-3.3zM261.3 409.0l3.3 3.3-3.3 3.3-3.3-3.3zM261.4 315.7l3.3 3.3-3.3 3.3-3.3-3.3zM261.4 412.8l3.3 3.3-3.3 3.3-3.3-3.3zM261.4 340.4l3.3 3.3-3.3 3.3-3.3-3.3zM261.4 381.9l3.3 3.3-3.3 3.3-3.3-3.3zM261.5 321.5l3.3 3.3-3.3 3.3-3.3-3.3zM261.6 316.8l3.3 3.3-3.3 3.3-3.3-3.3zM261.6 361.3l3.3 3.3-3.3 3.3-3.3-3.3zM261.6 346.3l3.3 3.3-3.3 3.3-3.3-3.3zM261.7 328.7l3.3 3.3-3.3 3.3-3.3-3.3zM261.8 330.0l3.3 3.3-3.3 3.3-3.3-3.3zM261.8 329.5l3.3 3.3-3.3 3.3-3.3-3.3zM261.8 418.6l3.3 3.3-3.3 3.3-3.3-3.3zM261.8 331.3l3.3 3.3-3.3 3.3-3.3-3.3zM262.0 337.1l3.3 3.3-3.3 3.3-3.3-3.3zM262.1 342.3l3.3 3.3-3.3 3.3-3.3-3.3zM262.2 352.4l3.3 3.3-3.3 3.3-3.3-3.3zM262.4 338.9l3.3 3.3-3.3 3.3-3.3-3.3zM262.5 384.7l3.3 3.3-3.3 3.3-3.3-3.3zM262.6 325.3l3.3 3.3-3.3 3.3-3.3-3.3zM262.6 297.8l3.3 3.3-3.3 3.3-3.3-3.3zM262.7 320.1l3.3 3.3-3.3 3.3-3.3-3.3zM262.7 347.9l3.3 3.3-3.3 3.3-3.3-3.3zM262.7 364.2l3.3 3.3-3.3 3.3-3.3-3.3zM262.7 343.4l3.3 3.3-3.3 3.3-3.3-3.3zM263.1 358.4l3.3 3.3-3.3 3.3-3.3-3.3zM263.2 315.2l3.3 3.3-3.3 3.3-3.3-3.3zM263.2 308.8l3.3 3.3-3.3 3.3-3.3-3.3zM263.2 422.2l3.3 3.3-3.3 3.3-3.3-3.3zM263.3 355.9l3.3 3.3-3.3 3.3-3.3-3.3zM263.5 346.4l3.3 3.3-3.3 3.3-3.3-3.3zM263.6 328.2l3.3 3.3-3.3 3.3-3.3-3.3zM263.6 377.3l3.3 3.3-3.3 3.3-3.3-3.3zM263.6 355.3l3.3 3.3-3.3 3.3-3.3-3.3zM263.6 387.6l3.3 3.3-3.3 3.3-3.3-3.3zM263.8 335.1l3.3 3.3-3.3 3.3-3.3-3.3zM264.0 340.3l3.3 3.3-3.3 3.3-3.3-3.3zM264.1 311.5l3.3 3.3-3.3 3.3-3.3-3.3zM264.1 362.5l3.3 3.3-3.3 3.3-3.3-3.3zM264.2 400.3l3.3 3.3-3.3 3.3-3.3-3.3zM264.2 330.6l3.3 3.3-3.3 3.3-3.3-3.3zM264.5 353.2l3.3 3.3-3.3 3.3-3.3-3.3zM264.7 349.1l3.3 3.3-3.3 3.3-3.3-3.3zM264.7 383.0l3.3 3.3-3.3 3.3-3.3-3.3zM264.7 324.2l3.3 3.3-3.3 3.3-3.3-3.3zM264.7 386.3l3.3 3.3-3.3 3.3-3.3-3.3zM264.8 384.8l3.3 3.3-3.3 3.3-3.3-3.3zM265.0 334.3l3.3 3.3-3.3 3.3-3.3-3.3zM265.1 375.7l3.3 3.3-3.3 3.3-3.3-3.3zM265.1 319.5l3.3 3.3-3.3 3.3-3.3-3.3zM265.1 389.6l3.3 3.3-3.3 3.3-3.3-3.3zM265.2 365.7l3.3 3.3-3.3 3.3-3.3-3.3zM265.2 410.1l3.3 3.3-3.3 3.3-3.3-3.3zM265.3 374.0l3.3 3.3-3.3 3.3-3.3-3.3zM265.3 378.7l3.3 3.3-3.3 3.3-3.3-3.3zM265.6 306.1l3.3 3.3-3.3 3.3-3.3-3.3zM265.7 367.6l3.3 3.3-3.3 3.3-3.3-3.3zM266.0 326.6l3.3 3.3-3.3 3.3-3.3-3.3zM266.0 360.4l3.3 3.3-3.3 3.3-3.3-3.3zM266.1 376.5l3.3 3.3-3.3 3.3-3.3-3.3zM266.2 318.7l3.3 3.3-3.3 3.3-3.3-3.3zM266.2 335.5l3.3 3.3-3.3 3.3-3.3-3.3zM266.3 339.2l3.3 3.3-3.3 3.3-3.3-3.3zM266.4 408.9l3.3 3.3-3.3 3.3-3.3-3.3zM266.5 360.5l3.3 3.3-3.3 3.3-3.3-3.3zM266.6 349.5l3.3 3.3-3.3 3.3-3.3-3.3zM266.7 300.1l3.3 3.3-3.3 3.3-3.3-3.3zM266.7 350.3l3.3 3.3-3.3 3.3-3.3-3.3zM266.8 318.4l3.3 3.3-3.3 3.3-3.3-3.3zM266.8 358.5l3.3 3.3-3.3 3.3-3.3-3.3zM266.8 354.9l3.3 3.3-3.3 3.3-3.3-3.3zM266.9 310.3l3.3 3.3-3.3 3.3-3.3-3.3zM267.1 354.5l3.3 3.3-3.3 3.3-3.3-3.3zM267.1 383.1l3.3 3.3-3.3 3.3-3.3-3.3zM267.2 346.8l3.3 3.3-3.3 3.3-3.3-3.3zM267.2 367.7l3.3 3.3-3.3 3.3-3.3-3.3zM267.3 341.6l3.3 3.3-3.3 3.3-3.3-3.3zM267.3 338.3l3.3 3.3-3.3 3.3-3.3-3.3zM267.5 404.9l3.3 3.3-3.3 3.3-3.3-3.3zM267.6 343.9l3.3 3.3-3.3 3.3-3.3-3.3zM267.7 313.7l3.3 3.3-3.3 3.3-3.3-3.3zM267.8 359.4l3.3 3.3-3.3 3.3-3.3-3.3zM267.8 340.6l3.3 3.3-3.3 3.3-3.3-3.3zM268.1 342.6l3.3 3.3-3.3 3.3-3.3-3.3zM268.1 315.2l3.3 3.3-3.3 3.3-3.3-3.3zM268.1 374.6l3.3 3.3-3.3 3.3-3.3-3.3zM268.1 378.7l3.3 3.3-3.3 3.3-3.3-3.3zM268.2 327.7l3.3 3.3-3.3 3.3-3.3-3.3zM268.3 352.4l3.3 3.3-3.3 3.3-3.3-3.3zM268.4 336.2l3.3 3.3-3.3 3.3-3.3-3.3zM268.4 369.1l3.3 3.3-3.3 3.3-3.3-3.3zM268.5 342.8l3.3 3.3-3.3 3.3-3.3-3.3zM268.5 322.5l3.3 3.3-3.3 3.3-3.3-3.3zM268.6 366.9l3.3 3.3-3.3 3.3-3.3-3.3zM268.6 297.9l3.3 3.3-3.3 3.3-3.3-3.3zM268.7 331.9l3.3 3.3-3.3 3.3-3.3-3.3zM268.7 363.5l3.3 3.3-3.3 3.3-3.3-3.3zM268.7 359.3l3.3 3.3-3.3 3.3-3.3-3.3zM268.8 381.3l3.3 3.3-3.3 3.3-3.3-3.3zM268.8 323.1l3.3 3.3-3.3 3.3-3.3-3.3zM268.8 346.9l3.3 3.3-3.3 3.3-3.3-3.3zM268.9 318.4l3.3 3.3-3.3 3.3-3.3-3.3zM268.9 356.7l3.3 3.3-3.3 3.3-3.3-3.3zM269.0 306.3l3.3 3.3-3.3 3.3-3.3-3.3zM269.0 332.8l3.3 3.3-3.3 3.3-3.3-3.3zM269.2 311.6l3.3 3.3-3.3 3.3-3.3-3.3zM269.3 358.5l3.3 3.3-3.3 3.3-3.3-3.3zM269.4 388.6l3.3 3.3-3.3 3.3-3.3-3.3zM269.4 364.3l3.3 3.3-3.3 3.3-3.3-3.3zM269.5 440.9l3.3 3.3-3.3 3.3-3.3-3.3zM269.6 335.9l3.3 3.3-3.3 3.3-3.3-3.3zM269.6 303.5l3.3 3.3-3.3 3.3-3.3-3.3zM269.6 329.3l3.3 3.3-3.3 3.3-3.3-3.3zM269.6 344.5l3.3 3.3-3.3 3.3-3.3-3.3zM269.6 349.5l3.3 3.3-3.3 3.3-3.3-3.3zM269.7 327.9l3.3 3.3-3.3 3.3-3.3-3.3zM269.8 354.4l3.3 3.3-3.3 3.3-3.3-3.3zM269.9 360.1l3.3 3.3-3.3 3.3-3.3-3.3zM270.1 340.5l3.3 3.3-3.3 3.3-3.3-3.3zM270.2 306.9l3.3 3.3-3.3 3.3-3.3-3.3zM270.6 396.0l3.3 3.3-3.3 3.3-3.3-3.3zM270.6 358.0l3.3 3.3-3.3 3.3-3.3-3.3zM270.7 384.3l3.3 3.3-3.3 3.3-3.3-3.3zM270.8 362.7l3.3 3.3-3.3 3.3-3.3-3.3zM270.8 315.7l3.3 3.3-3.3 3.3-3.3-3.3zM270.9 335.4l3.3 3.3-3.3 3.3-3.3-3.3zM271.0 352.4l3.3 3.3-3.3 3.3-3.3-3.3zM271.1 390.0l3.3 3.3-3.3 3.3-3.3-3.3zM271.1 372.2l3.3 3.3-3.3 3.3-3.3-3.3zM271.5 410.8l3.3 3.3-3.3 3.3-3.3-3.3zM271.5 354.5l3.3 3.3-3.3 3.3-3.3-3.3zM271.7 341.1l3.3 3.3-3.3 3.3-3.3-3.3zM271.8 328.4l3.3 3.3-3.3 3.3-3.3-3.3zM271.8 351.3l3.3 3.3-3.3 3.3-3.3-3.3zM272.0 366.3l3.3 3.3-3.3 3.3-3.3-3.3zM272.2 325.8l3.3 3.3-3.3 3.3-3.3-3.3zM272.3 352.4l3.3 3.3-3.3 3.3-3.3-3.3zM272.3 310.7l3.3 3.3-3.3 3.3-3.3-3.3zM272.3 373.7l3.3 3.3-3.3 3.3-3.3-3.3zM272.4 379.0l3.3 3.3-3.3 3.3-3.3-3.3zM272.5 429.2l3.3 3.3-3.3 3.3-3.3-3.3zM272.7 346.2l3.3 3.3-3.3 3.3-3.3-3.3zM272.7 344.7l3.3 3.3-3.3 3.3-3.3-3.3zM272.9 366.5l3.3 3.3-3.3 3.3-3.3-3.3zM272.9 308.3l3.3 3.3-3.3 3.3-3.3-3.3zM273.0 374.3l3.3 3.3-3.3 3.3-3.3-3.3zM273.0 354.3l3.3 3.3-3.3 3.3-3.3-3.3zM273.0 339.1l3.3 3.3-3.3 3.3-3.3-3.3zM273.0 333.5l3.3 3.3-3.3 3.3-3.3-3.3zM273.1 296.8l3.3 3.3-3.3 3.3-3.3-3.3zM273.1 320.1l3.3 3.3-3.3 3.3-3.3-3.3zM273.2 332.1l3.3 3.3-3.3 3.3-3.3-3.3zM273.2 320.4l3.3 3.3-3.3 3.3-3.3-3.3zM273.2 324.4l3.3 3.3-3.3 3.3-3.3-3.3zM273.3 341.8l3.3 3.3-3.3 3.3-3.3-3.3zM273.9 300.0l3.3 3.3-3.3 3.3-3.3-3.3zM274.0 344.4l3.3 3.3-3.3 3.3-3.3-3.3zM274.0 346.2l3.3 3.3-3.3 3.3-3.3-3.3zM274.0 403.8l3.3 3.3-3.3 3.3-3.3-3.3zM274.0 337.5l3.3 3.3-3.3 3.3-3.3-3.3zM274.1 345.3l3.3 3.3-3.3 3.3-3.3-3.3zM274.1 358.7l3.3 3.3-3.3 3.3-3.3-3.3zM274.1 353.7l3.3 3.3-3.3 3.3-3.3-3.3zM274.2 320.8l3.3 3.3-3.3 3.3-3.3-3.3zM274.3 380.5l3.3 3.3-3.3 3.3-3.3-3.3zM274.4 317.2l3.3 3.3-3.3 3.3-3.3-3.3zM274.5 369.5l3.3 3.3-3.3 3.3-3.3-3.3zM274.5 360.5l3.3 3.3-3.3 3.3-3.3-3.3zM274.6 374.0l3.3 3.3-3.3 3.3-3.3-3.3zM274.6 387.0l3.3 3.3-3.3 3.3-3.3-3.3zM274.6 346.5l3.3 3.3-3.3 3.3-3.3-3.3zM274.6 385.7l3.3 3.3-3.3 3.3-3.3-3.3zM274.8 370.5l3.3 3.3-3.3 3.3-3.3-3.3zM274.9 310.0l3.3 3.3-3.3 3.3-3.3-3.3zM274.9 306.9l3.3 3.3-3.3 3.3-3.3-3.3zM275.0 323.6l3.3 3.3-3.3 3.3-3.3-3.3zM275.0 316.0l3.3 3.3-3.3 3.3-3.3-3.3zM275.1 332.3l3.3 3.3-3.3 3.3-3.3-3.3zM275.2 348.4l3.3 3.3-3.3 3.3-3.3-3.3zM275.4 356.3l3.3 3.3-3.3 3.3-3.3-3.3zM275.5 337.6l3.3 3.3-3.3 3.3-3.3-3.3zM275.5 379.2l3.3 3.3-3.3 3.3-3.3-3.3zM275.6 317.9l3.3 3.3-3.3 3.3-3.3-3.3zM275.6 326.6l3.3 3.3-3.3 3.3-3.3-3.3zM275.7 353.8l3.3 3.3-3.3 3.3-3.3-3.3zM275.9 330.6l3.3 3.3-3.3 3.3-3.3-3.3zM276.0 306.6l3.3 3.3-3.3 3.3-3.3-3.3zM276.1 310.7l3.3 3.3-3.3 3.3-3.3-3.3zM276.1 362.1l3.3 3.3-3.3 3.3-3.3-3.3zM276.2 327.2l3.3 3.3-3.3 3.3-3.3-3.3zM276.2 353.6l3.3 3.3-3.3 3.3-3.3-3.3zM276.3 326.7l3.3 3.3-3.3 3.3-3.3-3.3zM276.3 314.6l3.3 3.3-3.3 3.3-3.3-3.3zM276.4 306.0l3.3 3.3-3.3 3.3-3.3-3.3zM276.5 333.4l3.3 3.3-3.3 3.3-3.3-3.3zM276.5 360.0l3.3 3.3-3.3 3.3-3.3-3.3zM276.6 323.6l3.3 3.3-3.3 3.3-3.3-3.3zM276.9 352.3l3.3 3.3-3.3 3.3-3.3-3.3zM276.9 375.7l3.3 3.3-3.3 3.3-3.3-3.3zM276.9 304.7l3.3 3.3-3.3 3.3-3.3-3.3zM276.9 348.6l3.3 3.3-3.3 3.3-3.3-3.3zM277.1 350.4l3.3 3.3-3.3 3.3-3.3-3.3zM277.3 328.1l3.3 3.3-3.3 3.3-3.3-3.3zM277.3 400.4l3.3 3.3-3.3 3.3-3.3-3.3zM277.3 381.3l3.3 3.3-3.3 3.3-3.3-3.3zM277.5 331.4l3.3 3.3-3.3 3.3-3.3-3.3zM277.5 341.7l3.3 3.3-3.3 3.3-3.3-3.3zM277.6 404.3l3.3 3.3-3.3 3.3-3.3-3.3zM277.6 371.7l3.3 3.3-3.3 3.3-3.3-3.3zM277.7 337.7l3.3 3.3-3.3 3.3-3.3-3.3zM277.7 316.5l3.3 3.3-3.3 3.3-3.3-3.3zM277.8 313.0l3.3 3.3-3.3 3.3-3.3-3.3zM277.9 301.0l3.3 3.3-3.3 3.3-3.3-3.3zM277.9 336.1l3.3 3.3-3.3 3.3-3.3-3.3zM278.0 342.1l3.3 3.3-3.3 3.3-3.3-3.3zM278.1 362.9l3.3 3.3-3.3 3.3-3.3-3.3zM278.2 351.7l3.3 3.3-3.3 3.3-3.3-3.3zM278.4 295.7l3.3 3.3-3.3 3.3-3.3-3.3zM278.6 317.8l3.3 3.3-3.3 3.3-3.3-3.3zM278.7 371.5l3.3 3.3-3.3 3.3-3.3-3.3zM278.8 365.3l3.3 3.3-3.3 3.3-3.3-3.3zM278.8 333.7l3.3 3.3-3.3 3.3-3.3-3.3zM278.8 290.0l3.3 3.3-3.3 3.3-3.3-3.3zM278.8 377.9l3.3 3.3-3.3 3.3-3.3-3.3zM279.0 303.1l3.3 3.3-3.3 3.3-3.3-3.3zM279.0 395.8l3.3 3.3-3.3 3.3-3.3-3.3zM279.1 344.3l3.3 3.3-3.3 3.3-3.3-3.3zM279.2 370.9l3.3 3.3-3.3 3.3-3.3-3.3zM279.3 347.6l3.3 3.3-3.3 3.3-3.3-3.3zM279.3 357.1l3.3 3.3-3.3 3.3-3.3-3.3zM279.4 312.0l3.3 3.3-3.3 3.3-3.3-3.3zM279.6 360.3l3.3 3.3-3.3 3.3-3.3-3.3zM279.6 317.3l3.3 3.3-3.3 3.3-3.3-3.3zM279.7 279.1l3.3 3.3-3.3 3.3-3.3-3.3zM279.7 400.8l3.3 3.3-3.3 3.3-3.3-3.3zM279.8 391.6l3.3 3.3-3.3 3.3-3.3-3.3zM279.8 325.6l3.3 3.3-3.3 3.3-3.3-3.3zM280.0 356.9l3.3 3.3-3.3 3.3-3.3-3.3zM280.1 415.1l3.3 3.3-3.3 3.3-3.3-3.3zM280.1 358.9l3.3 3.3-3.3 3.3-3.3-3.3zM280.3 352.6l3.3 3.3-3.3 3.3-3.3-3.3zM280.6 338.5l3.3 3.3-3.3 3.3-3.3-3.3zM280.7 321.6l3.3 3.3-3.3 3.3-3.3-3.3zM280.7 312.0l3.3 3.3-3.3 3.3-3.3-3.3zM280.9 325.7l3.3 3.3-3.3 3.3-3.3-3.3zM280.9 343.7l3.3 3.3-3.3 3.3-3.3-3.3zM281.1 328.9l3.3 3.3-3.3 3.3-3.3-3.3zM281.2 313.8l3.3 3.3-3.3 3.3-3.3-3.3zM281.3 374.8l3.3 3.3-3.3 3.3-3.3-3.3zM281.3 388.4l3.3 3.3-3.3 3.3-3.3-3.3zM281.3 321.6l3.3 3.3-3.3 3.3-3.3-3.3zM281.3 327.8l3.3 3.3-3.3 3.3-3.3-3.3zM281.4 336.2l3.3 3.3-3.3 3.3-3.3-3.3zM281.4 318.8l3.3 3.3-3.3 3.3-3.3-3.3zM281.5 345.2l3.3 3.3-3.3 3.3-3.3-3.3zM281.7 357.0l3.3 3.3-3.3 3.3-3.3-3.3zM281.8 402.7l3.3 3.3-3.3 3.3-3.3-3.3zM282.0 396.4l3.3 3.3-3.3 3.3-3.3-3.3zM282.0 339.9l3.3 3.3-3.3 3.3-3.3-3.3zM282.0 348.9l3.3 3.3-3.3 3.3-3.3-3.3zM282.3 333.4l3.3 3.3-3.3 3.3-3.3-3.3zM282.4 372.1l3.3 3.3-3.3 3.3-3.3-3.3zM282.4 343.3l3.3 3.3-3.3 3.3-3.3-3.3zM282.6 330.5l3.3 3.3-3.3 3.3-3.3-3.3zM282.7 330.8l3.3 3.3-3.3 3.3-3.3-3.3zM282.8 317.7l3.3 3.3-3.3 3.3-3.3-3.3zM282.9 368.2l3.3 3.3-3.3 3.3-3.3-3.3zM282.9 295.6l3.3 3.3-3.3 3.3-3.3-3.3zM283.0 416.4l3.3 3.3-3.3 3.3-3.3-3.3zM283.0 364.4l3.3 3.3-3.3 3.3-3.3-3.3zM283.1 397.5l3.3 3.3-3.3 3.3-3.3-3.3zM283.1 373.3l3.3 3.3-3.3 3.3-3.3-3.3zM283.2 424.2l3.3 3.3-3.3 3.3-3.3-3.3zM283.3 308.4l3.3 3.3-3.3 3.3-3.3-3.3zM283.3 297.1l3.3 3.3-3.3 3.3-3.3-3.3zM283.3 297.9l3.3 3.3-3.3 3.3-3.3-3.3zM283.4 377.7l3.3 3.3-3.3 3.3-3.3-3.3zM283.5 299.2l3.3 3.3-3.3 3.3-3.3-3.3zM283.7 339.0l3.3 3.3-3.3 3.3-3.3-3.3zM283.8 308.4l3.3 3.3-3.3 3.3-3.3-3.3zM283.9 367.4l3.3 3.3-3.3 3.3-3.3-3.3zM284.0 310.3l3.3 3.3-3.3 3.3-3.3-3.3zM284.0 306.1l3.3 3.3-3.3 3.3-3.3-3.3zM284.1 354.8l3.3 3.3-3.3 3.3-3.3-3.3zM284.1 320.3l3.3 3.3-3.3 3.3-3.3-3.3zM284.1 369.5l3.3 3.3-3.3 3.3-3.3-3.3zM284.2 368.7l3.3 3.3-3.3 3.3-3.3-3.3zM284.2 354.5l3.3 3.3-3.3 3.3-3.3-3.3zM284.2 356.5l3.3 3.3-3.3 3.3-3.3-3.3zM284.2 329.1l3.3 3.3-3.3 3.3-3.3-3.3zM284.4 301.8l3.3 3.3-3.3 3.3-3.3-3.3zM284.5 391.9l3.3 3.3-3.3 3.3-3.3-3.3zM284.5 439.9l3.3 3.3-3.3 3.3-3.3-3.3zM284.5 311.4l3.3 3.3-3.3 3.3-3.3-3.3zM284.6 377.4l3.3 3.3-3.3 3.3-3.3-3.3zM284.6 337.9l3.3 3.3-3.3 3.3-3.3-3.3zM284.6 352.1l3.3 3.3-3.3 3.3-3.3-3.3zM284.6 325.0l3.3 3.3-3.3 3.3-3.3-3.3zM284.8 381.6l3.3 3.3-3.3 3.3-3.3-3.3zM284.8 346.5l3.3 3.3-3.3 3.3-3.3-3.3zM284.9 354.9l3.3 3.3-3.3 3.3-3.3-3.3zM285.0 315.6l3.3 3.3-3.3 3.3-3.3-3.3zM285.2 368.4l3.3 3.3-3.3 3.3-3.3-3.3zM285.2 333.9l3.3 3.3-3.3 3.3-3.3-3.3zM285.3 365.3l3.3 3.3-3.3 3.3-3.3-3.3zM285.3 302.3l3.3 3.3-3.3 3.3-3.3-3.3zM285.5 381.2l3.3 3.3-3.3 3.3-3.3-3.3zM285.6 386.3l3.3 3.3-3.3 3.3-3.3-3.3zM285.7 320.8l3.3 3.3-3.3 3.3-3.3-3.3zM285.8 395.5l3.3 3.3-3.3 3.3-3.3-3.3zM286.0 350.5l3.3 3.3-3.3 3.3-3.3-3.3zM286.0 303.0l3.3 3.3-3.3 3.3-3.3-3.3zM286.1 305.5l3.3 3.3-3.3 3.3-3.3-3.3zM286.2 314.9l3.3 3.3-3.3 3.3-3.3-3.3zM286.2 355.6l3.3 3.3-3.3 3.3-3.3-3.3zM286.2 344.7l3.3 3.3-3.3 3.3-3.3-3.3zM286.2 376.8l3.3 3.3-3.3 3.3-3.3-3.3zM286.2 288.6l3.3 3.3-3.3 3.3-3.3-3.3zM286.5 390.0l3.3 3.3-3.3 3.3-3.3-3.3zM286.5 341.4l3.3 3.3-3.3 3.3-3.3-3.3zM286.5 343.5l3.3 3.3-3.3 3.3-3.3-3.3zM286.7 390.7l3.3 3.3-3.3 3.3-3.3-3.3zM286.7 337.0l3.3 3.3-3.3 3.3-3.3-3.3zM286.8 447.4l3.3 3.3-3.3 3.3-3.3-3.3zM286.8 304.5l3.3 3.3-3.3 3.3-3.3-3.3zM286.8 355.5l3.3 3.3-3.3 3.3-3.3-3.3zM286.8 314.3l3.3 3.3-3.3 3.3-3.3-3.3zM287.0 323.4l3.3 3.3-3.3 3.3-3.3-3.3zM287.2 429.7l3.3 3.3-3.3 3.3-3.3-3.3zM287.5 327.8l3.3 3.3-3.3 3.3-3.3-3.3zM287.6 330.3l3.3 3.3-3.3 3.3-3.3-3.3zM287.6 296.7l3.3 3.3-3.3 3.3-3.3-3.3zM287.9 326.2l3.3 3.3-3.3 3.3-3.3-3.3zM287.9 393.3l3.3 3.3-3.3 3.3-3.3-3.3zM288.1 319.0l3.3 3.3-3.3 3.3-3.3-3.3zM288.2 362.0l3.3 3.3-3.3 3.3-3.3-3.3zM288.2 305.0l3.3 3.3-3.3 3.3-3.3-3.3zM288.3 332.8l3.3 3.3-3.3 3.3-3.3-3.3zM288.4 296.4l3.3 3.3-3.3 3.3-3.3-3.3zM288.5 354.8l3.3 3.3-3.3 3.3-3.3-3.3zM288.5 377.2l3.3 3.3-3.3 3.3-3.3-3.3zM288.6 348.8l3.3 3.3-3.3 3.3-3.3-3.3zM288.7 311.1l3.3 3.3-3.3 3.3-3.3-3.3zM288.8 343.5l3.3 3.3-3.3 3.3-3.3-3.3zM288.9 315.5l3.3 3.3-3.3 3.3-3.3-3.3zM289.0 327.9l3.3 3.3-3.3 3.3-3.3-3.3zM289.0 342.9l3.3 3.3-3.3 3.3-3.3-3.3zM289.0 336.3l3.3 3.3-3.3 3.3-3.3-3.3zM289.0 357.4l3.3 3.3-3.3 3.3-3.3-3.3zM289.0 322.2l3.3 3.3-3.3 3.3-3.3-3.3zM289.0 373.9l3.3 3.3-3.3 3.3-3.3-3.3zM289.1 360.6l3.3 3.3-3.3 3.3-3.3-3.3zM289.5 340.9l3.3 3.3-3.3 3.3-3.3-3.3zM289.5 352.2l3.3 3.3-3.3 3.3-3.3-3.3zM289.8 381.3l3.3 3.3-3.3 3.3-3.3-3.3zM289.9 315.5l3.3 3.3-3.3 3.3-3.3-3.3zM289.9 308.8l3.3 3.3-3.3 3.3-3.3-3.3zM290.1 325.3l3.3 3.3-3.3 3.3-3.3-3.3zM290.1 308.3l3.3 3.3-3.3 3.3-3.3-3.3zM290.1 353.7l3.3 3.3-3.3 3.3-3.3-3.3zM290.2 417.3l3.3 3.3-3.3 3.3-3.3-3.3zM290.3 289.2l3.3 3.3-3.3 3.3-3.3-3.3zM290.4 300.7l3.3 3.3-3.3 3.3-3.3-3.3zM290.7 399.4l3.3 3.3-3.3 3.3-3.3-3.3zM290.8 375.6l3.3 3.3-3.3 3.3-3.3-3.3zM290.8 311.2l3.3 3.3-3.3 3.3-3.3-3.3zM290.8 339.6l3.3 3.3-3.3 3.3-3.3-3.3zM290.9 322.0l3.3 3.3-3.3 3.3-3.3-3.3zM291.0 330.0l3.3 3.3-3.3 3.3-3.3-3.3zM291.1 315.7l3.3 3.3-3.3 3.3-3.3-3.3zM291.1 334.7l3.3 3.3-3.3 3.3-3.3-3.3zM291.2 357.2l3.3 3.3-3.3 3.3-3.3-3.3zM291.2 351.1l3.3 3.3-3.3 3.3-3.3-3.3zM291.3 345.8l3.3 3.3-3.3 3.3-3.3-3.3zM291.3 367.7l3.3 3.3-3.3 3.3-3.3-3.3zM291.3 306.4l3.3 3.3-3.3 3.3-3.3-3.3zM291.4 349.8l3.3 3.3-3.3 3.3-3.3-3.3zM291.4 351.4l3.3 3.3-3.3 3.3-3.3-3.3zM291.6 365.2l3.3 3.3-3.3 3.3-3.3-3.3zM291.7 355.2l3.3 3.3-3.3 3.3-3.3-3.3zM291.8 319.1l3.3 3.3-3.3 3.3-3.3-3.3zM291.8 335.8l3.3 3.3-3.3 3.3-3.3-3.3zM291.9 370.3l3.3 3.3-3.3 3.3-3.3-3.3zM292.0 295.9l3.3 3.3-3.3 3.3-3.3-3.3zM292.1 352.5l3.3 3.3-3.3 3.3-3.3-3.3zM292.2 373.3l3.3 3.3-3.3 3.3-3.3-3.3zM292.2 321.5l3.3 3.3-3.3 3.3-3.3-3.3zM292.3 353.1l3.3 3.3-3.3 3.3-3.3-3.3zM292.4 332.7l3.3 3.3-3.3 3.3-3.3-3.3zM292.4 345.9l3.3 3.3-3.3 3.3-3.3-3.3zM292.4 299.4l3.3 3.3-3.3 3.3-3.3-3.3zM292.5 379.0l3.3 3.3-3.3 3.3-3.3-3.3zM292.5 346.2l3.3 3.3-3.3 3.3-3.3-3.3zM292.6 388.7l3.3 3.3-3.3 3.3-3.3-3.3zM292.7 316.6l3.3 3.3-3.3 3.3-3.3-3.3zM292.7 329.9l3.3 3.3-3.3 3.3-3.3-3.3zM292.8 391.9l3.3 3.3-3.3 3.3-3.3-3.3zM292.8 306.8l3.3 3.3-3.3 3.3-3.3-3.3zM292.8 313.4l3.3 3.3-3.3 3.3-3.3-3.3zM292.8 326.9l3.3 3.3-3.3 3.3-3.3-3.3zM292.9 390.0l3.3 3.3-3.3 3.3-3.3-3.3zM292.9 302.6l3.3 3.3-3.3 3.3-3.3-3.3zM293.1 323.8l3.3 3.3-3.3 3.3-3.3-3.3zM293.1 301.4l3.3 3.3-3.3 3.3-3.3-3.3zM293.3 356.1l3.3 3.3-3.3 3.3-3.3-3.3zM293.3 319.7l3.3 3.3-3.3 3.3-3.3-3.3zM293.3 356.0l3.3 3.3-3.3 3.3-3.3-3.3zM293.5 359.1l3.3 3.3-3.3 3.3-3.3-3.3zM293.5 342.6l3.3 3.3-3.3 3.3-3.3-3.3zM293.6 359.9l3.3 3.3-3.3 3.3-3.3-3.3zM293.6 346.2l3.3 3.3-3.3 3.3-3.3-3.3zM293.7 355.2l3.3 3.3-3.3 3.3-3.3-3.3zM293.7 314.0l3.3 3.3-3.3 3.3-3.3-3.3zM293.7 363.6l3.3 3.3-3.3 3.3-3.3-3.3zM294.0 391.5l3.3 3.3-3.3 3.3-3.3-3.3zM294.2 339.5l3.3 3.3-3.3 3.3-3.3-3.3zM294.2 307.3l3.3 3.3-3.3 3.3-3.3-3.3zM294.5 329.3l3.3 3.3-3.3 3.3-3.3-3.3zM294.6 359.5l3.3 3.3-3.3 3.3-3.3-3.3zM294.7 325.4l3.3 3.3-3.3 3.3-3.3-3.3zM294.8 328.2l3.3 3.3-3.3 3.3-3.3-3.3zM294.8 322.1l3.3 3.3-3.3 3.3-3.3-3.3zM294.8 352.3l3.3 3.3-3.3 3.3-3.3-3.3zM294.8 313.9l3.3 3.3-3.3 3.3-3.3-3.3zM294.9 343.8l3.3 3.3-3.3 3.3-3.3-3.3zM295.1 308.9l3.3 3.3-3.3 3.3-3.3-3.3zM295.2 351.1l3.3 3.3-3.3 3.3-3.3-3.3zM295.3 310.5l3.3 3.3-3.3 3.3-3.3-3.3zM295.4 332.4l3.3 3.3-3.3 3.3-3.3-3.3zM295.4 279.7l3.3 3.3-3.3 3.3-3.3-3.3zM295.4 368.2l3.3 3.3-3.3 3.3-3.3-3.3zM295.4 388.8l3.3 3.3-3.3 3.3-3.3-3.3zM295.5 432.7l3.3 3.3-3.3 3.3-3.3-3.3zM295.6 378.3l3.3 3.3-3.3 3.3-3.3-3.3zM295.6 302.0l3.3 3.3-3.3 3.3-3.3-3.3zM295.8 372.9l3.3 3.3-3.3 3.3-3.3-3.3zM295.9 278.8l3.3 3.3-3.3 3.3-3.3-3.3zM295.9 387.0l3.3 3.3-3.3 3.3-3.3-3.3zM296.0 297.2l3.3 3.3-3.3 3.3-3.3-3.3zM296.0 366.3l3.3 3.3-3.3 3.3-3.3-3.3zM296.2 396.3l3.3 3.3-3.3 3.3-3.3-3.3zM296.2 297.2l3.3 3.3-3.3 3.3-3.3-3.3zM296.2 419.7l3.3 3.3-3.3 3.3-3.3-3.3zM296.3 303.4l3.3 3.3-3.3 3.3-3.3-3.3zM296.3 372.3l3.3 3.3-3.3 3.3-3.3-3.3zM296.4 362.7l3.3 3.3-3.3 3.3-3.3-3.3zM296.4 355.7l3.3 3.3-3.3 3.3-3.3-3.3zM296.5 409.4l3.3 3.3-3.3 3.3-3.3-3.3zM296.5 313.2l3.3 3.3-3.3 3.3-3.3-3.3zM296.6 349.7l3.3 3.3-3.3 3.3-3.3-3.3zM296.6 315.3l3.3 3.3-3.3 3.3-3.3-3.3zM296.6 340.6l3.3 3.3-3.3 3.3-3.3-3.3zM296.7 300.5l3.3 3.3-3.3 3.3-3.3-3.3zM296.7 323.8l3.3 3.3-3.3 3.3-3.3-3.3zM296.7 335.5l3.3 3.3-3.3 3.3-3.3-3.3zM296.7 330.2l3.3 3.3-3.3 3.3-3.3-3.3zM296.9 343.9l3.3 3.3-3.3 3.3-3.3-3.3zM297.0 380.4l3.3 3.3-3.3 3.3-3.3-3.3zM297.1 344.4l3.3 3.3-3.3 3.3-3.3-3.3zM297.2 344.6l3.3 3.3-3.3 3.3-3.3-3.3zM297.2 316.8l3.3 3.3-3.3 3.3-3.3-3.3zM297.2 347.5l3.3 3.3-3.3 3.3-3.3-3.3zM297.2 318.5l3.3 3.3-3.3 3.3-3.3-3.3zM297.3 335.8l3.3 3.3-3.3 3.3-3.3-3.3zM297.3 334.6l3.3 3.3-3.3 3.3-3.3-3.3zM297.4 346.2l3.3 3.3-3.3 3.3-3.3-3.3zM297.4 420.5l3.3 3.3-3.3 3.3-3.3-3.3zM297.6 353.2l3.3 3.3-3.3 3.3-3.3-3.3zM297.7 382.9l3.3 3.3-3.3 3.3-3.3-3.3zM297.7 342.6l3.3 3.3-3.3 3.3-3.3-3.3zM297.8 316.4l3.3 3.3-3.3 3.3-3.3-3.3zM298.0 317.0l3.3 3.3-3.3 3.3-3.3-3.3zM298.0 323.6l3.3 3.3-3.3 3.3-3.3-3.3zM298.1 308.0l3.3 3.3-3.3 3.3-3.3-3.3zM298.3 344.4l3.3 3.3-3.3 3.3-3.3-3.3zM298.3 320.2l3.3 3.3-3.3 3.3-3.3-3.3zM298.4 345.8l3.3 3.3-3.3 3.3-3.3-3.3zM298.4 356.9l3.3 3.3-3.3 3.3-3.3-3.3zM298.5 374.5l3.3 3.3-3.3 3.3-3.3-3.3zM298.6 355.5l3.3 3.3-3.3 3.3-3.3-3.3zM298.8 325.8l3.3 3.3-3.3 3.3-3.3-3.3zM298.8 384.2l3.3 3.3-3.3 3.3-3.3-3.3zM298.8 338.1l3.3 3.3-3.3 3.3-3.3-3.3zM299.1 370.2l3.3 3.3-3.3 3.3-3.3-3.3zM299.3 320.8l3.3 3.3-3.3 3.3-3.3-3.3zM299.3 363.5l3.3 3.3-3.3 3.3-3.3-3.3zM299.4 341.7l3.3 3.3-3.3 3.3-3.3-3.3zM299.4 315.7l3.3 3.3-3.3 3.3-3.3-3.3zM299.5 305.9l3.3 3.3-3.3 3.3-3.3-3.3zM299.6 301.7l3.3 3.3-3.3 3.3-3.3-3.3zM299.6 350.8l3.3 3.3-3.3 3.3-3.3-3.3zM299.7 314.9l3.3 3.3-3.3 3.3-3.3-3.3zM299.8 353.3l3.3 3.3-3.3 3.3-3.3-3.3zM299.9 386.2l3.3 3.3-3.3 3.3-3.3-3.3zM299.9 381.3l3.3 3.3-3.3 3.3-3.3-3.3zM300.0 392.7l3.3 3.3-3.3 3.3-3.3-3.3zM300.0 295.1l3.3 3.3-3.3 3.3-3.3-3.3zM300.2 359.1l3.3 3.3-3.3 3.3-3.3-3.3zM300.3 354.3l3.3 3.3-3.3 3.3-3.3-3.3zM300.3 332.3l3.3 3.3-3.3 3.3-3.3-3.3zM300.4 382.2l3.3 3.3-3.3 3.3-3.3-3.3zM300.4 321.5l3.3 3.3-3.3 3.3-3.3-3.3zM300.4 325.8l3.3 3.3-3.3 3.3-3.3-3.3zM300.4 328.4l3.3 3.3-3.3 3.3-3.3-3.3zM300.4 353.7l3.3 3.3-3.3 3.3-3.3-3.3zM300.5 349.6l3.3 3.3-3.3 3.3-3.3-3.3zM300.5 381.5l3.3 3.3-3.3 3.3-3.3-3.3zM300.7 379.6l3.3 3.3-3.3 3.3-3.3-3.3zM300.8 365.4l3.3 3.3-3.3 3.3-3.3-3.3zM300.9 320.9l3.3 3.3-3.3 3.3-3.3-3.3zM301.0 333.3l3.3 3.3-3.3 3.3-3.3-3.3zM301.0 314.3l3.3 3.3-3.3 3.3-3.3-3.3zM301.2 345.6l3.3 3.3-3.3 3.3-3.3-3.3zM301.4 300.1l3.3 3.3-3.3 3.3-3.3-3.3zM301.4 303.7l3.3 3.3-3.3 3.3-3.3-3.3zM301.5 404.6l3.3 3.3-3.3 3.3-3.3-3.3zM301.5 330.5l3.3 3.3-3.3 3.3-3.3-3.3zM301.6 362.1l3.3 3.3-3.3 3.3-3.3-3.3zM301.7 331.9l3.3 3.3-3.3 3.3-3.3-3.3zM301.7 339.2l3.3 3.3-3.3 3.3-3.3-3.3zM301.7 361.2l3.3 3.3-3.3 3.3-3.3-3.3zM301.9 332.4l3.3 3.3-3.3 3.3-3.3-3.3zM302.1 311.2l3.3 3.3-3.3 3.3-3.3-3.3zM302.1 315.3l3.3 3.3-3.3 3.3-3.3-3.3zM302.2 337.2l3.3 3.3-3.3 3.3-3.3-3.3zM302.2 326.8l3.3 3.3-3.3 3.3-3.3-3.3zM302.3 295.2l3.3 3.3-3.3 3.3-3.3-3.3zM302.3 362.6l3.3 3.3-3.3 3.3-3.3-3.3zM302.3 302.3l3.3 3.3-3.3 3.3-3.3-3.3zM302.3 343.8l3.3 3.3-3.3 3.3-3.3-3.3zM302.4 369.5l3.3 3.3-3.3 3.3-3.3-3.3zM302.4 335.3l3.3 3.3-3.3 3.3-3.3-3.3zM302.5 337.9l3.3 3.3-3.3 3.3-3.3-3.3zM302.5 352.6l3.3 3.3-3.3 3.3-3.3-3.3zM302.6 354.9l3.3 3.3-3.3 3.3-3.3-3.3zM302.7 318.5l3.3 3.3-3.3 3.3-3.3-3.3zM302.7 308.9l3.3 3.3-3.3 3.3-3.3-3.3zM302.7 376.2l3.3 3.3-3.3 3.3-3.3-3.3zM302.7 328.1l3.3 3.3-3.3 3.3-3.3-3.3zM302.7 386.2l3.3 3.3-3.3 3.3-3.3-3.3zM302.9 337.3l3.3 3.3-3.3 3.3-3.3-3.3zM303.1 310.9l3.3 3.3-3.3 3.3-3.3-3.3zM303.2 318.3l3.3 3.3-3.3 3.3-3.3-3.3zM303.3 319.4l3.3 3.3-3.3 3.3-3.3-3.3zM303.3 364.1l3.3 3.3-3.3 3.3-3.3-3.3zM303.3 320.6l3.3 3.3-3.3 3.3-3.3-3.3zM303.4 301.4l3.3 3.3-3.3 3.3-3.3-3.3zM303.4 326.4l3.3 3.3-3.3 3.3-3.3-3.3zM303.5 332.6l3.3 3.3-3.3 3.3-3.3-3.3zM303.5 323.7l3.3 3.3-3.3 3.3-3.3-3.3zM303.6 334.5l3.3 3.3-3.3 3.3-3.3-3.3zM303.6 347.7l3.3 3.3-3.3 3.3-3.3-3.3zM304.0 329.1l3.3 3.3-3.3 3.3-3.3-3.3zM304.1 339.7l3.3 3.3-3.3 3.3-3.3-3.3zM304.2 324.6l3.3 3.3-3.3 3.3-3.3-3.3zM304.3 375.7l3.3 3.3-3.3 3.3-3.3-3.3zM304.3 316.3l3.3 3.3-3.3 3.3-3.3-3.3zM304.5 340.0l3.3 3.3-3.3 3.3-3.3-3.3zM304.6 365.0l3.3 3.3-3.3 3.3-3.3-3.3zM304.7 363.2l3.3 3.3-3.3 3.3-3.3-3.3zM305.1 297.4l3.3 3.3-3.3 3.3-3.3-3.3zM305.1 327.2l3.3 3.3-3.3 3.3-3.3-3.3zM305.2 313.5l3.3 3.3-3.3 3.3-3.3-3.3zM305.2 350.9l3.3 3.3-3.3 3.3-3.3-3.3zM305.3 343.5l3.3 3.3-3.3 3.3-3.3-3.3zM305.3 320.7l3.3 3.3-3.3 3.3-3.3-3.3zM305.4 386.2l3.3 3.3-3.3 3.3-3.3-3.3zM305.5 325.0l3.3 3.3-3.3 3.3-3.3-3.3zM305.8 370.7l3.3 3.3-3.3 3.3-3.3-3.3zM305.9 341.2l3.3 3.3-3.3 3.3-3.3-3.3zM305.9 349.1l3.3 3.3-3.3 3.3-3.3-3.3zM306.1 311.2l3.3 3.3-3.3 3.3-3.3-3.3zM306.2 309.9l3.3 3.3-3.3 3.3-3.3-3.3zM306.2 328.6l3.3 3.3-3.3 3.3-3.3-3.3zM306.2 400.2l3.3 3.3-3.3 3.3-3.3-3.3zM306.4 354.0l3.3 3.3-3.3 3.3-3.3-3.3zM306.5 396.0l3.3 3.3-3.3 3.3-3.3-3.3zM306.5 317.8l3.3 3.3-3.3 3.3-3.3-3.3zM306.6 407.7l3.3 3.3-3.3 3.3-3.3-3.3zM306.6 319.9l3.3 3.3-3.3 3.3-3.3-3.3zM306.7 352.4l3.3 3.3-3.3 3.3-3.3-3.3zM306.7 300.2l3.3 3.3-3.3 3.3-3.3-3.3zM306.8 310.9l3.3 3.3-3.3 3.3-3.3-3.3zM306.9 337.0l3.3 3.3-3.3 3.3-3.3-3.3zM307.0 344.8l3.3 3.3-3.3 3.3-3.3-3.3zM307.1 360.7l3.3 3.3-3.3 3.3-3.3-3.3zM307.1 359.8l3.3 3.3-3.3 3.3-3.3-3.3zM307.2 351.7l3.3 3.3-3.3 3.3-3.3-3.3zM307.2 310.7l3.3 3.3-3.3 3.3-3.3-3.3zM307.3 333.6l3.3 3.3-3.3 3.3-3.3-3.3zM307.3 291.8l3.3 3.3-3.3 3.3-3.3-3.3zM307.3 318.9l3.3 3.3-3.3 3.3-3.3-3.3zM307.4 306.1l3.3 3.3-3.3 3.3-3.3-3.3zM307.5 288.7l3.3 3.3-3.3 3.3-3.3-3.3zM307.5 384.1l3.3 3.3-3.3 3.3-3.3-3.3zM307.6 325.4l3.3 3.3-3.3 3.3-3.3-3.3zM307.6 287.9l3.3 3.3-3.3 3.3-3.3-3.3zM307.7 376.0l3.3 3.3-3.3 3.3-3.3-3.3zM307.8 319.5l3.3 3.3-3.3 3.3-3.3-3.3zM307.9 351.0l3.3 3.3-3.3 3.3-3.3-3.3zM307.9 383.0l3.3 3.3-3.3 3.3-3.3-3.3zM307.9 373.2l3.3 3.3-3.3 3.3-3.3-3.3zM307.9 346.8l3.3 3.3-3.3 3.3-3.3-3.3zM308.0 294.1l3.3 3.3-3.3 3.3-3.3-3.3zM308.2 305.8l3.3 3.3-3.3 3.3-3.3-3.3zM308.2 317.0l3.3 3.3-3.3 3.3-3.3-3.3zM308.4 344.1l3.3 3.3-3.3 3.3-3.3-3.3zM308.5 302.3l3.3 3.3-3.3 3.3-3.3-3.3zM308.6 281.5l3.3 3.3-3.3 3.3-3.3-3.3zM308.8 333.4l3.3 3.3-3.3 3.3-3.3-3.3zM308.8 380.6l3.3 3.3-3.3 3.3-3.3-3.3zM308.9 329.1l3.3 3.3-3.3 3.3-3.3-3.3zM309.0 340.4l3.3 3.3-3.3 3.3-3.3-3.3zM309.0 316.5l3.3 3.3-3.3 3.3-3.3-3.3zM309.2 297.0l3.3 3.3-3.3 3.3-3.3-3.3zM309.2 371.2l3.3 3.3-3.3 3.3-3.3-3.3zM309.3 298.0l3.3 3.3-3.3 3.3-3.3-3.3zM309.4 312.8l3.3 3.3-3.3 3.3-3.3-3.3zM309.5 356.4l3.3 3.3-3.3 3.3-3.3-3.3zM309.5 419.7l3.3 3.3-3.3 3.3-3.3-3.3zM309.5 435.4l3.3 3.3-3.3 3.3-3.3-3.3zM309.5 285.3l3.3 3.3-3.3 3.3-3.3-3.3zM309.6 293.3l3.3 3.3-3.3 3.3-3.3-3.3zM309.6 343.5l3.3 3.3-3.3 3.3-3.3-3.3zM309.6 331.1l3.3 3.3-3.3 3.3-3.3-3.3zM309.7 328.6l3.3 3.3-3.3 3.3-3.3-3.3zM309.7 308.8l3.3 3.3-3.3 3.3-3.3-3.3zM309.8 465.4l3.3 3.3-3.3 3.3-3.3-3.3zM309.9 331.2l3.3 3.3-3.3 3.3-3.3-3.3zM310.0 340.7l3.3 3.3-3.3 3.3-3.3-3.3zM310.0 377.2l3.3 3.3-3.3 3.3-3.3-3.3zM310.0 354.3l3.3 3.3-3.3 3.3-3.3-3.3zM310.1 388.7l3.3 3.3-3.3 3.3-3.3-3.3zM310.1 332.9l3.3 3.3-3.3 3.3-3.3-3.3zM310.1 295.1l3.3 3.3-3.3 3.3-3.3-3.3zM310.2 338.2l3.3 3.3-3.3 3.3-3.3-3.3zM310.4 346.0l3.3 3.3-3.3 3.3-3.3-3.3zM310.5 323.3l3.3 3.3-3.3 3.3-3.3-3.3zM310.7 328.7l3.3 3.3-3.3 3.3-3.3-3.3zM310.7 327.7l3.3 3.3-3.3 3.3-3.3-3.3zM310.8 336.8l3.3 3.3-3.3 3.3-3.3-3.3zM310.9 322.4l3.3 3.3-3.3 3.3-3.3-3.3zM311.0 374.2l3.3 3.3-3.3 3.3-3.3-3.3zM311.1 348.4l3.3 3.3-3.3 3.3-3.3-3.3zM311.2 360.8l3.3 3.3-3.3 3.3-3.3-3.3zM311.2 329.0l3.3 3.3-3.3 3.3-3.3-3.3zM311.2 430.4l3.3 3.3-3.3 3.3-3.3-3.3zM311.3 330.4l3.3 3.3-3.3 3.3-3.3-3.3zM311.6 319.3l3.3 3.3-3.3 3.3-3.3-3.3zM311.6 297.3l3.3 3.3-3.3 3.3-3.3-3.3zM312.0 301.7l3.3 3.3-3.3 3.3-3.3-3.3zM312.0 419.5l3.3 3.3-3.3 3.3-3.3-3.3zM312.0 358.0l3.3 3.3-3.3 3.3-3.3-3.3zM312.0 310.1l3.3 3.3-3.3 3.3-3.3-3.3zM312.3 380.8l3.3 3.3-3.3 3.3-3.3-3.3zM312.3 309.4l3.3 3.3-3.3 3.3-3.3-3.3zM312.3 352.3l3.3 3.3-3.3 3.3-3.3-3.3zM312.4 310.1l3.3 3.3-3.3 3.3-3.3-3.3zM312.4 348.8l3.3 3.3-3.3 3.3-3.3-3.3zM312.5 325.6l3.3 3.3-3.3 3.3-3.3-3.3zM312.9 371.5l3.3 3.3-3.3 3.3-3.3-3.3zM312.9 339.6l3.3 3.3-3.3 3.3-3.3-3.3zM313.0 307.5l3.3 3.3-3.3 3.3-3.3-3.3zM313.0 353.7l3.3 3.3-3.3 3.3-3.3-3.3zM313.0 308.4l3.3 3.3-3.3 3.3-3.3-3.3zM313.1 347.6l3.3 3.3-3.3 3.3-3.3-3.3zM313.1 304.4l3.3 3.3-3.3 3.3-3.3-3.3zM313.2 304.6l3.3 3.3-3.3 3.3-3.3-3.3zM313.2 392.5l3.3 3.3-3.3 3.3-3.3-3.3zM313.3 342.9l3.3 3.3-3.3 3.3-3.3-3.3zM313.7 386.3l3.3 3.3-3.3 3.3-3.3-3.3zM313.7 297.6l3.3 3.3-3.3 3.3-3.3-3.3zM313.7 314.9l3.3 3.3-3.3 3.3-3.3-3.3zM313.9 333.9l3.3 3.3-3.3 3.3-3.3-3.3zM313.9 276.8l3.3 3.3-3.3 3.3-3.3-3.3zM314.1 292.9l3.3 3.3-3.3 3.3-3.3-3.3zM314.1 358.9l3.3 3.3-3.3 3.3-3.3-3.3zM314.1 328.1l3.3 3.3-3.3 3.3-3.3-3.3zM314.2 464.9l3.3 3.3-3.3 3.3-3.3-3.3zM314.3 339.1l3.3 3.3-3.3 3.3-3.3-3.3zM314.3 359.4l3.3 3.3-3.3 3.3-3.3-3.3zM314.4 323.2l3.3 3.3-3.3 3.3-3.3-3.3zM314.6 300.0l3.3 3.3-3.3 3.3-3.3-3.3zM314.6 349.0l3.3 3.3-3.3 3.3-3.3-3.3zM314.8 391.1l3.3 3.3-3.3 3.3-3.3-3.3zM314.9 420.0l3.3 3.3-3.3 3.3-3.3-3.3zM315.0 323.8l3.3 3.3-3.3 3.3-3.3-3.3zM315.1 346.7l3.3 3.3-3.3 3.3-3.3-3.3zM315.1 347.4l3.3 3.3-3.3 3.3-3.3-3.3zM315.1 341.0l3.3 3.3-3.3 3.3-3.3-3.3zM315.3 275.2l3.3 3.3-3.3 3.3-3.3-3.3zM315.3 308.2l3.3 3.3-3.3 3.3-3.3-3.3zM315.3 301.6l3.3 3.3-3.3 3.3-3.3-3.3zM315.3 285.6l3.3 3.3-3.3 3.3-3.3-3.3zM315.4 315.0l3.3 3.3-3.3 3.3-3.3-3.3zM315.7 331.5l3.3 3.3-3.3 3.3-3.3-3.3zM315.7 310.1l3.3 3.3-3.3 3.3-3.3-3.3zM315.8 336.5l3.3 3.3-3.3 3.3-3.3-3.3zM315.8 329.4l3.3 3.3-3.3 3.3-3.3-3.3zM315.8 273.3l3.3 3.3-3.3 3.3-3.3-3.3zM315.9 288.5l3.3 3.3-3.3 3.3-3.3-3.3zM315.9 352.2l3.3 3.3-3.3 3.3-3.3-3.3zM316.0 370.5l3.3 3.3-3.3 3.3-3.3-3.3zM316.1 334.3l3.3 3.3-3.3 3.3-3.3-3.3zM316.1 347.9l3.3 3.3-3.3 3.3-3.3-3.3zM316.1 279.0l3.3 3.3-3.3 3.3-3.3-3.3zM316.2 344.6l3.3 3.3-3.3 3.3-3.3-3.3zM316.2 428.7l3.3 3.3-3.3 3.3-3.3-3.3zM316.3 304.8l3.3 3.3-3.3 3.3-3.3-3.3zM316.3 363.5l3.3 3.3-3.3 3.3-3.3-3.3zM316.3 318.7l3.3 3.3-3.3 3.3-3.3-3.3zM316.4 322.6l3.3 3.3-3.3 3.3-3.3-3.3zM316.6 329.1l3.3 3.3-3.3 3.3-3.3-3.3zM316.7 380.4l3.3 3.3-3.3 3.3-3.3-3.3zM316.7 311.2l3.3 3.3-3.3 3.3-3.3-3.3zM316.8 289.8l3.3 3.3-3.3 3.3-3.3-3.3zM316.8 318.7l3.3 3.3-3.3 3.3-3.3-3.3zM316.9 332.6l3.3 3.3-3.3 3.3-3.3-3.3zM316.9 334.4l3.3 3.3-3.3 3.3-3.3-3.3zM317.0 305.1l3.3 3.3-3.3 3.3-3.3-3.3zM317.0 345.2l3.3 3.3-3.3 3.3-3.3-3.3zM317.1 321.0l3.3 3.3-3.3 3.3-3.3-3.3zM317.2 331.0l3.3 3.3-3.3 3.3-3.3-3.3zM317.2 315.5l3.3 3.3-3.3 3.3-3.3-3.3zM317.4 401.9l3.3 3.3-3.3 3.3-3.3-3.3zM317.4 322.9l3.3 3.3-3.3 3.3-3.3-3.3zM317.5 325.5l3.3 3.3-3.3 3.3-3.3-3.3zM317.5 324.0l3.3 3.3-3.3 3.3-3.3-3.3zM317.6 356.6l3.3 3.3-3.3 3.3-3.3-3.3zM317.7 350.1l3.3 3.3-3.3 3.3-3.3-3.3zM317.9 349.5l3.3 3.3-3.3 3.3-3.3-3.3zM317.9 314.7l3.3 3.3-3.3 3.3-3.3-3.3zM317.9 300.4l3.3 3.3-3.3 3.3-3.3-3.3zM318.1 360.5l3.3 3.3-3.3 3.3-3.3-3.3zM318.1 356.8l3.3 3.3-3.3 3.3-3.3-3.3zM318.1 300.8l3.3 3.3-3.3 3.3-3.3-3.3zM318.2 384.2l3.3 3.3-3.3 3.3-3.3-3.3zM318.2 310.4l3.3 3.3-3.3 3.3-3.3-3.3zM318.3 331.1l3.3 3.3-3.3 3.3-3.3-3.3zM318.3 374.3l3.3 3.3-3.3 3.3-3.3-3.3zM318.3 319.2l3.3 3.3-3.3 3.3-3.3-3.3zM318.6 373.5l3.3 3.3-3.3 3.3-3.3-3.3zM318.7 281.3l3.3 3.3-3.3 3.3-3.3-3.3zM318.7 335.0l3.3 3.3-3.3 3.3-3.3-3.3zM318.8 420.4l3.3 3.3-3.3 3.3-3.3-3.3zM319.0 311.7l3.3 3.3-3.3 3.3-3.3-3.3zM319.0 287.9l3.3 3.3-3.3 3.3-3.3-3.3zM319.1 314.5l3.3 3.3-3.3 3.3-3.3-3.3zM319.3 339.5l3.3 3.3-3.3 3.3-3.3-3.3zM319.5 363.6l3.3 3.3-3.3 3.3-3.3-3.3zM319.6 362.7l3.3 3.3-3.3 3.3-3.3-3.3zM319.6 363.9l3.3 3.3-3.3 3.3-3.3-3.3zM319.6 303.3l3.3 3.3-3.3 3.3-3.3-3.3zM319.8 344.5l3.3 3.3-3.3 3.3-3.3-3.3zM319.8 276.8l3.3 3.3-3.3 3.3-3.3-3.3zM319.9 341.9l3.3 3.3-3.3 3.3-3.3-3.3zM319.9 285.7l3.3 3.3-3.3 3.3-3.3-3.3zM319.9 309.0l3.3 3.3-3.3 3.3-3.3-3.3zM320.1 272.5l3.3 3.3-3.3 3.3-3.3-3.3zM320.2 301.2l3.3 3.3-3.3 3.3-3.3-3.3zM320.2 326.4l3.3 3.3-3.3 3.3-3.3-3.3zM320.3 323.2l3.3 3.3-3.3 3.3-3.3-3.3zM320.4 351.7l3.3 3.3-3.3 3.3-3.3-3.3zM320.5 346.0l3.3 3.3-3.3 3.3-3.3-3.3zM320.5 438.4l3.3 3.3-3.3 3.3-3.3-3.3zM320.6 328.8l3.3 3.3-3.3 3.3-3.3-3.3zM320.6 366.2l3.3 3.3-3.3 3.3-3.3-3.3zM320.7 372.3l3.3 3.3-3.3 3.3-3.3-3.3zM320.7 406.3l3.3 3.3-3.3 3.3-3.3-3.3zM320.9 295.8l3.3 3.3-3.3 3.3-3.3-3.3zM321.1 342.0l3.3 3.3-3.3 3.3-3.3-3.3zM321.1 351.7l3.3 3.3-3.3 3.3-3.3-3.3zM321.2 326.9l3.3 3.3-3.3 3.3-3.3-3.3zM321.2 409.3l3.3 3.3-3.3 3.3-3.3-3.3zM321.2 397.2l3.3 3.3-3.3 3.3-3.3-3.3zM321.3 367.1l3.3 3.3-3.3 3.3-3.3-3.3zM321.3 314.9l3.3 3.3-3.3 3.3-3.3-3.3zM321.4 307.0l3.3 3.3-3.3 3.3-3.3-3.3zM321.6 409.7l3.3 3.3-3.3 3.3-3.3-3.3zM321.6 311.9l3.3 3.3-3.3 3.3-3.3-3.3zM321.6 359.2l3.3 3.3-3.3 3.3-3.3-3.3zM321.7 343.3l3.3 3.3-3.3 3.3-3.3-3.3zM321.7 322.6l3.3 3.3-3.3 3.3-3.3-3.3zM321.8 347.0l3.3 3.3-3.3 3.3-3.3-3.3zM321.9 403.1l3.3 3.3-3.3 3.3-3.3-3.3zM321.9 321.8l3.3 3.3-3.3 3.3-3.3-3.3zM321.9 387.9l3.3 3.3-3.3 3.3-3.3-3.3zM322.0 357.6l3.3 3.3-3.3 3.3-3.3-3.3zM322.1 298.1l3.3 3.3-3.3 3.3-3.3-3.3zM322.2 333.9l3.3 3.3-3.3 3.3-3.3-3.3zM322.2 452.4l3.3 3.3-3.3 3.3-3.3-3.3zM322.3 302.0l3.3 3.3-3.3 3.3-3.3-3.3zM322.4 322.6l3.3 3.3-3.3 3.3-3.3-3.3zM322.4 347.8l3.3 3.3-3.3 3.3-3.3-3.3zM322.5 426.7l3.3 3.3-3.3 3.3-3.3-3.3zM322.5 344.8l3.3 3.3-3.3 3.3-3.3-3.3zM322.6 339.5l3.3 3.3-3.3 3.3-3.3-3.3zM322.6 317.3l3.3 3.3-3.3 3.3-3.3-3.3zM322.7 330.8l3.3 3.3-3.3 3.3-3.3-3.3zM322.7 309.6l3.3 3.3-3.3 3.3-3.3-3.3zM322.8 362.8l3.3 3.3-3.3 3.3-3.3-3.3zM322.9 282.9l3.3 3.3-3.3 3.3-3.3-3.3zM322.9 294.8l3.3 3.3-3.3 3.3-3.3-3.3zM322.9 336.3l3.3 3.3-3.3 3.3-3.3-3.3zM323.0 298.3l3.3 3.3-3.3 3.3-3.3-3.3zM323.1 325.2l3.3 3.3-3.3 3.3-3.3-3.3zM323.2 319.0l3.3 3.3-3.3 3.3-3.3-3.3zM323.3 343.3l3.3 3.3-3.3 3.3-3.3-3.3zM323.3 337.0l3.3 3.3-3.3 3.3-3.3-3.3zM323.5 306.8l3.3 3.3-3.3 3.3-3.3-3.3zM323.5 282.2l3.3 3.3-3.3 3.3-3.3-3.3zM323.6 304.8l3.3 3.3-3.3 3.3-3.3-3.3zM323.6 363.2l3.3 3.3-3.3 3.3-3.3-3.3zM323.7 369.3l3.3 3.3-3.3 3.3-3.3-3.3zM323.8 330.2l3.3 3.3-3.3 3.3-3.3-3.3zM323.8 323.6l3.3 3.3-3.3 3.3-3.3-3.3zM323.8 303.7l3.3 3.3-3.3 3.3-3.3-3.3zM323.8 308.1l3.3 3.3-3.3 3.3-3.3-3.3zM323.9 357.8l3.3 3.3-3.3 3.3-3.3-3.3zM323.9 355.2l3.3 3.3-3.3 3.3-3.3-3.3zM324.2 404.8l3.3 3.3-3.3 3.3-3.3-3.3zM324.2 467.9l3.3 3.3-3.3 3.3-3.3-3.3zM324.4 351.2l3.3 3.3-3.3 3.3-3.3-3.3zM324.4 315.2l3.3 3.3-3.3 3.3-3.3-3.3zM324.4 327.3l3.3 3.3-3.3 3.3-3.3-3.3zM324.4 298.3l3.3 3.3-3.3 3.3-3.3-3.3zM324.6 314.3l3.3 3.3-3.3 3.3-3.3-3.3zM324.6 317.4l3.3 3.3-3.3 3.3-3.3-3.3zM324.7 348.9l3.3 3.3-3.3 3.3-3.3-3.3zM324.7 329.6l3.3 3.3-3.3 3.3-3.3-3.3zM324.7 320.4l3.3 3.3-3.3 3.3-3.3-3.3zM324.8 363.6l3.3 3.3-3.3 3.3-3.3-3.3zM324.9 303.4l3.3 3.3-3.3 3.3-3.3-3.3zM324.9 364.7l3.3 3.3-3.3 3.3-3.3-3.3zM325.0 280.0l3.3 3.3-3.3 3.3-3.3-3.3zM325.0 343.3l3.3 3.3-3.3 3.3-3.3-3.3zM325.1 357.3l3.3 3.3-3.3 3.3-3.3-3.3zM325.2 352.9l3.3 3.3-3.3 3.3-3.3-3.3zM325.2 293.0l3.3 3.3-3.3 3.3-3.3-3.3zM325.2 355.2l3.3 3.3-3.3 3.3-3.3-3.3zM325.4 284.3l3.3 3.3-3.3 3.3-3.3-3.3zM325.5 413.6l3.3 3.3-3.3 3.3-3.3-3.3zM325.6 329.8l3.3 3.3-3.3 3.3-3.3-3.3zM325.6 311.7l3.3 3.3-3.3 3.3-3.3-3.3zM325.6 330.7l3.3 3.3-3.3 3.3-3.3-3.3zM325.9 387.6l3.3 3.3-3.3 3.3-3.3-3.3zM325.9 397.6l3.3 3.3-3.3 3.3-3.3-3.3zM325.9 395.4l3.3 3.3-3.3 3.3-3.3-3.3zM326.0 320.7l3.3 3.3-3.3 3.3-3.3-3.3zM326.1 341.1l3.3 3.3-3.3 3.3-3.3-3.3zM326.2 299.0l3.3 3.3-3.3 3.3-3.3-3.3zM326.2 306.3l3.3 3.3-3.3 3.3-3.3-3.3zM326.3 375.9l3.3 3.3-3.3 3.3-3.3-3.3zM326.4 325.7l3.3 3.3-3.3 3.3-3.3-3.3zM326.6 406.5l3.3 3.3-3.3 3.3-3.3-3.3zM326.7 338.6l3.3 3.3-3.3 3.3-3.3-3.3zM326.9 318.3l3.3 3.3-3.3 3.3-3.3-3.3zM327.0 334.1l3.3 3.3-3.3 3.3-3.3-3.3zM327.1 315.4l3.3 3.3-3.3 3.3-3.3-3.3zM327.2 354.4l3.3 3.3-3.3 3.3-3.3-3.3zM327.2 336.5l3.3 3.3-3.3 3.3-3.3-3.3zM327.3 344.9l3.3 3.3-3.3 3.3-3.3-3.3zM327.4 349.6l3.3 3.3-3.3 3.3-3.3-3.3zM327.6 311.3l3.3 3.3-3.3 3.3-3.3-3.3zM327.6 303.4l3.3 3.3-3.3 3.3-3.3-3.3zM327.6 399.4l3.3 3.3-3.3 3.3-3.3-3.3zM327.6 283.5l3.3 3.3-3.3 3.3-3.3-3.3zM327.7 347.5l3.3 3.3-3.3 3.3-3.3-3.3zM327.9 353.5l3.3 3.3-3.3 3.3-3.3-3.3zM327.9 382.1l3.3 3.3-3.3 3.3-3.3-3.3zM328.1 278.6l3.3 3.3-3.3 3.3-3.3-3.3zM328.1 342.5l3.3 3.3-3.3 3.3-3.3-3.3zM328.3 319.2l3.3 3.3-3.3 3.3-3.3-3.3zM328.3 363.5l3.3 3.3-3.3 3.3-3.3-3.3zM328.4 344.1l3.3 3.3-3.3 3.3-3.3-3.3zM328.4 292.4l3.3 3.3-3.3 3.3-3.3-3.3zM328.5 329.7l3.3 3.3-3.3 3.3-3.3-3.3zM328.5 340.0l3.3 3.3-3.3 3.3-3.3-3.3zM328.5 323.1l3.3 3.3-3.3 3.3-3.3-3.3zM328.7 353.4l3.3 3.3-3.3 3.3-3.3-3.3zM328.7 352.5l3.3 3.3-3.3 3.3-3.3-3.3zM329.1 345.5l3.3 3.3-3.3 3.3-3.3-3.3zM329.1 283.3l3.3 3.3-3.3 3.3-3.3-3.3zM329.2 352.2l3.3 3.3-3.3 3.3-3.3-3.3zM329.2 370.1l3.3 3.3-3.3 3.3-3.3-3.3zM329.3 306.6l3.3 3.3-3.3 3.3-3.3-3.3zM329.4 313.5l3.3 3.3-3.3 3.3-3.3-3.3zM329.5 349.7l3.3 3.3-3.3 3.3-3.3-3.3zM329.6 335.6l3.3 3.3-3.3 3.3-3.3-3.3zM329.6 365.5l3.3 3.3-3.3 3.3-3.3-3.3zM329.7 335.7l3.3 3.3-3.3 3.3-3.3-3.3zM329.7 348.7l3.3 3.3-3.3 3.3-3.3-3.3zM329.8 291.8l3.3 3.3-3.3 3.3-3.3-3.3zM329.9 360.6l3.3 3.3-3.3 3.3-3.3-3.3zM330.0 398.6l3.3 3.3-3.3 3.3-3.3-3.3zM330.0 310.9l3.3 3.3-3.3 3.3-3.3-3.3zM330.1 260.5l3.3 3.3-3.3 3.3-3.3-3.3zM330.1 290.8l3.3 3.3-3.3 3.3-3.3-3.3zM330.3 341.0l3.3 3.3-3.3 3.3-3.3-3.3zM330.3 304.9l3.3 3.3-3.3 3.3-3.3-3.3zM330.4 352.1l3.3 3.3-3.3 3.3-3.3-3.3zM330.5 287.6l3.3 3.3-3.3 3.3-3.3-3.3zM330.6 318.7l3.3 3.3-3.3 3.3-3.3-3.3zM330.7 300.3l3.3 3.3-3.3 3.3-3.3-3.3zM330.7 326.2l3.3 3.3-3.3 3.3-3.3-3.3zM330.8 331.5l3.3 3.3-3.3 3.3-3.3-3.3zM330.8 365.1l3.3 3.3-3.3 3.3-3.3-3.3zM330.8 316.3l3.3 3.3-3.3 3.3-3.3-3.3zM330.8 262.9l3.3 3.3-3.3 3.3-3.3-3.3zM330.9 381.8l3.3 3.3-3.3 3.3-3.3-3.3zM331.0 345.7l3.3 3.3-3.3 3.3-3.3-3.3zM331.0 311.7l3.3 3.3-3.3 3.3-3.3-3.3zM331.1 295.1l3.3 3.3-3.3 3.3-3.3-3.3zM331.2 348.5l3.3 3.3-3.3 3.3-3.3-3.3zM331.2 313.1l3.3 3.3-3.3 3.3-3.3-3.3zM331.2 359.0l3.3 3.3-3.3 3.3-3.3-3.3zM331.3 355.9l3.3 3.3-3.3 3.3-3.3-3.3zM331.3 394.2l3.3 3.3-3.3 3.3-3.3-3.3zM331.4 371.7l3.3 3.3-3.3 3.3-3.3-3.3zM331.5 345.7l3.3 3.3-3.3 3.3-3.3-3.3zM331.6 322.2l3.3 3.3-3.3 3.3-3.3-3.3zM331.6 298.6l3.3 3.3-3.3 3.3-3.3-3.3zM331.6 281.0l3.3 3.3-3.3 3.3-3.3-3.3zM331.7 305.2l3.3 3.3-3.3 3.3-3.3-3.3zM331.8 287.0l3.3 3.3-3.3 3.3-3.3-3.3zM331.8 320.8l3.3 3.3-3.3 3.3-3.3-3.3zM331.8 303.3l3.3 3.3-3.3 3.3-3.3-3.3zM331.9 348.0l3.3 3.3-3.3 3.3-3.3-3.3zM331.9 327.7l3.3 3.3-3.3 3.3-3.3-3.3zM332.0 325.6l3.3 3.3-3.3 3.3-3.3-3.3zM332.0 318.4l3.3 3.3-3.3 3.3-3.3-3.3zM332.0 345.2l3.3 3.3-3.3 3.3-3.3-3.3zM332.1 358.9l3.3 3.3-3.3 3.3-3.3-3.3zM332.1 342.4l3.3 3.3-3.3 3.3-3.3-3.3zM332.2 308.9l3.3 3.3-3.3 3.3-3.3-3.3zM332.2 325.0l3.3 3.3-3.3 3.3-3.3-3.3zM332.2 460.7l3.3 3.3-3.3 3.3-3.3-3.3zM332.3 328.5l3.3 3.3-3.3 3.3-3.3-3.3zM332.5 281.5l3.3 3.3-3.3 3.3-3.3-3.3zM332.7 337.8l3.3 3.3-3.3 3.3-3.3-3.3zM332.7 300.9l3.3 3.3-3.3 3.3-3.3-3.3zM332.8 444.2l3.3 3.3-3.3 3.3-3.3-3.3zM332.8 330.1l3.3 3.3-3.3 3.3-3.3-3.3zM332.8 332.5l3.3 3.3-3.3 3.3-3.3-3.3zM333.0 279.4l3.3 3.3-3.3 3.3-3.3-3.3zM333.0 293.7l3.3 3.3-3.3 3.3-3.3-3.3zM333.1 291.8l3.3 3.3-3.3 3.3-3.3-3.3zM333.1 405.6l3.3 3.3-3.3 3.3-3.3-3.3zM333.2 318.0l3.3 3.3-3.3 3.3-3.3-3.3zM333.4 362.0l3.3 3.3-3.3 3.3-3.3-3.3zM333.4 339.1l3.3 3.3-3.3 3.3-3.3-3.3zM333.5 452.4l3.3 3.3-3.3 3.3-3.3-3.3zM333.6 337.4l3.3 3.3-3.3 3.3-3.3-3.3zM333.7 293.3l3.3 3.3-3.3 3.3-3.3-3.3zM334.0 327.0l3.3 3.3-3.3 3.3-3.3-3.3zM334.0 314.3l3.3 3.3-3.3 3.3-3.3-3.3zM334.4 297.2l3.3 3.3-3.3 3.3-3.3-3.3zM334.4 331.7l3.3 3.3-3.3 3.3-3.3-3.3zM334.4 355.4l3.3 3.3-3.3 3.3-3.3-3.3zM334.5 310.9l3.3 3.3-3.3 3.3-3.3-3.3zM334.7 279.9l3.3 3.3-3.3 3.3-3.3-3.3zM334.7 279.8l3.3 3.3-3.3 3.3-3.3-3.3zM334.7 338.9l3.3 3.3-3.3 3.3-3.3-3.3zM334.8 287.9l3.3 3.3-3.3 3.3-3.3-3.3zM335.1 285.5l3.3 3.3-3.3 3.3-3.3-3.3zM335.3 329.0l3.3 3.3-3.3 3.3-3.3-3.3zM335.3 305.8l3.3 3.3-3.3 3.3-3.3-3.3zM335.3 407.2l3.3 3.3-3.3 3.3-3.3-3.3zM335.3 306.6l3.3 3.3-3.3 3.3-3.3-3.3zM335.5 341.0l3.3 3.3-3.3 3.3-3.3-3.3zM335.5 342.6l3.3 3.3-3.3 3.3-3.3-3.3zM335.6 319.5l3.3 3.3-3.3 3.3-3.3-3.3zM335.7 341.9l3.3 3.3-3.3 3.3-3.3-3.3zM335.9 342.9l3.3 3.3-3.3 3.3-3.3-3.3zM336.0 327.5l3.3 3.3-3.3 3.3-3.3-3.3zM336.1 314.4l3.3 3.3-3.3 3.3-3.3-3.3zM336.2 303.6l3.3 3.3-3.3 3.3-3.3-3.3zM336.2 357.5l3.3 3.3-3.3 3.3-3.3-3.3zM336.3 337.0l3.3 3.3-3.3 3.3-3.3-3.3zM336.3 344.3l3.3 3.3-3.3 3.3-3.3-3.3zM336.4 336.2l3.3 3.3-3.3 3.3-3.3-3.3zM336.5 324.0l3.3 3.3-3.3 3.3-3.3-3.3zM336.7 346.7l3.3 3.3-3.3 3.3-3.3-3.3zM336.7 314.3l3.3 3.3-3.3 3.3-3.3-3.3zM336.8 349.2l3.3 3.3-3.3 3.3-3.3-3.3zM336.9 310.0l3.3 3.3-3.3 3.3-3.3-3.3zM336.9 375.3l3.3 3.3-3.3 3.3-3.3-3.3zM337.1 324.2l3.3 3.3-3.3 3.3-3.3-3.3zM337.3 383.0l3.3 3.3-3.3 3.3-3.3-3.3zM337.4 320.9l3.3 3.3-3.3 3.3-3.3-3.3zM337.5 283.4l3.3 3.3-3.3 3.3-3.3-3.3zM337.5 333.1l3.3 3.3-3.3 3.3-3.3-3.3zM337.6 384.5l3.3 3.3-3.3 3.3-3.3-3.3zM337.7 330.4l3.3 3.3-3.3 3.3-3.3-3.3zM337.7 298.7l3.3 3.3-3.3 3.3-3.3-3.3zM337.8 295.9l3.3 3.3-3.3 3.3-3.3-3.3zM337.9 280.0l3.3 3.3-3.3 3.3-3.3-3.3zM337.9 331.8l3.3 3.3-3.3 3.3-3.3-3.3zM338.0 411.1l3.3 3.3-3.3 3.3-3.3-3.3zM338.2 278.4l3.3 3.3-3.3 3.3-3.3-3.3zM338.3 339.8l3.3 3.3-3.3 3.3-3.3-3.3zM338.4 401.6l3.3 3.3-3.3 3.3-3.3-3.3zM338.5 322.7l3.3 3.3-3.3 3.3-3.3-3.3zM338.5 321.4l3.3 3.3-3.3 3.3-3.3-3.3zM338.6 341.4l3.3 3.3-3.3 3.3-3.3-3.3zM338.6 344.7l3.3 3.3-3.3 3.3-3.3-3.3zM338.7 378.9l3.3 3.3-3.3 3.3-3.3-3.3zM338.7 358.2l3.3 3.3-3.3 3.3-3.3-3.3zM338.8 339.4l3.3 3.3-3.3 3.3-3.3-3.3zM338.9 318.7l3.3 3.3-3.3 3.3-3.3-3.3zM339.0 416.1l3.3 3.3-3.3 3.3-3.3-3.3zM339.0 306.9l3.3 3.3-3.3 3.3-3.3-3.3zM339.0 296.0l3.3 3.3-3.3 3.3-3.3-3.3zM339.0 383.8l3.3 3.3-3.3 3.3-3.3-3.3zM339.1 262.2l3.3 3.3-3.3 3.3-3.3-3.3zM339.1 349.9l3.3 3.3-3.3 3.3-3.3-3.3zM339.2 365.5l3.3 3.3-3.3 3.3-3.3-3.3zM339.2 444.2l3.3 3.3-3.3 3.3-3.3-3.3zM339.3 362.5l3.3 3.3-3.3 3.3-3.3-3.3zM339.3 293.0l3.3 3.3-3.3 3.3-3.3-3.3zM339.4 363.7l3.3 3.3-3.3 3.3-3.3-3.3zM339.5 370.7l3.3 3.3-3.3 3.3-3.3-3.3zM339.5 457.9l3.3 3.3-3.3 3.3-3.3-3.3zM339.5 274.2l3.3 3.3-3.3 3.3-3.3-3.3zM339.6 323.9l3.3 3.3-3.3 3.3-3.3-3.3zM339.6 369.2l3.3 3.3-3.3 3.3-3.3-3.3zM339.8 293.0l3.3 3.3-3.3 3.3-3.3-3.3zM339.8 326.9l3.3 3.3-3.3 3.3-3.3-3.3zM339.9 313.4l3.3 3.3-3.3 3.3-3.3-3.3zM340.0 216.9l3.3 3.3-3.3 3.3-3.3-3.3zM340.2 438.2l3.3 3.3-3.3 3.3-3.3-3.3zM340.3 323.3l3.3 3.3-3.3 3.3-3.3-3.3zM340.3 320.0l3.3 3.3-3.3 3.3-3.3-3.3zM340.3 349.6l3.3 3.3-3.3 3.3-3.3-3.3zM340.4 344.3l3.3 3.3-3.3 3.3-3.3-3.3zM340.4 295.0l3.3 3.3-3.3 3.3-3.3-3.3zM340.4 354.7l3.3 3.3-3.3 3.3-3.3-3.3zM340.4 372.2l3.3 3.3-3.3 3.3-3.3-3.3zM340.5 301.3l3.3 3.3-3.3 3.3-3.3-3.3zM340.6 334.5l3.3 3.3-3.3 3.3-3.3-3.3zM340.7 315.6l3.3 3.3-3.3 3.3-3.3-3.3zM340.7 312.8l3.3 3.3-3.3 3.3-3.3-3.3zM340.8 417.0l3.3 3.3-3.3 3.3-3.3-3.3zM340.8 354.8l3.3 3.3-3.3 3.3-3.3-3.3zM340.9 308.0l3.3 3.3-3.3 3.3-3.3-3.3zM341.0 368.1l3.3 3.3-3.3 3.3-3.3-3.3zM341.0 300.0l3.3 3.3-3.3 3.3-3.3-3.3zM341.0 287.1l3.3 3.3-3.3 3.3-3.3-3.3zM341.0 329.9l3.3 3.3-3.3 3.3-3.3-3.3zM341.0 305.9l3.3 3.3-3.3 3.3-3.3-3.3zM341.0 340.2l3.3 3.3-3.3 3.3-3.3-3.3zM341.1 305.3l3.3 3.3-3.3 3.3-3.3-3.3zM341.1 301.2l3.3 3.3-3.3 3.3-3.3-3.3zM341.1 324.9l3.3 3.3-3.3 3.3-3.3-3.3zM341.1 367.9l3.3 3.3-3.3 3.3-3.3-3.3zM341.2 347.5l3.3 3.3-3.3 3.3-3.3-3.3zM341.3 379.4l3.3 3.3-3.3 3.3-3.3-3.3zM341.5 323.9l3.3 3.3-3.3 3.3-3.3-3.3zM341.6 337.4l3.3 3.3-3.3 3.3-3.3-3.3zM341.6 266.8l3.3 3.3-3.3 3.3-3.3-3.3zM341.6 323.3l3.3 3.3-3.3 3.3-3.3-3.3zM341.7 348.8l3.3 3.3-3.3 3.3-3.3-3.3zM341.7 326.0l3.3 3.3-3.3 3.3-3.3-3.3zM341.8 317.4l3.3 3.3-3.3 3.3-3.3-3.3zM341.8 368.9l3.3 3.3-3.3 3.3-3.3-3.3zM341.9 327.3l3.3 3.3-3.3 3.3-3.3-3.3zM342.2 313.8l3.3 3.3-3.3 3.3-3.3-3.3zM342.2 389.2l3.3 3.3-3.3 3.3-3.3-3.3zM342.4 316.6l3.3 3.3-3.3 3.3-3.3-3.3zM342.5 316.8l3.3 3.3-3.3 3.3-3.3-3.3zM342.5 319.9l3.3 3.3-3.3 3.3-3.3-3.3zM342.6 332.3l3.3 3.3-3.3 3.3-3.3-3.3zM342.6 285.0l3.3 3.3-3.3 3.3-3.3-3.3zM342.7 342.9l3.3 3.3-3.3 3.3-3.3-3.3zM342.8 298.4l3.3 3.3-3.3 3.3-3.3-3.3zM342.8 286.7l3.3 3.3-3.3 3.3-3.3-3.3zM342.8 351.3l3.3 3.3-3.3 3.3-3.3-3.3zM342.9 352.7l3.3 3.3-3.3 3.3-3.3-3.3zM343.0 355.4l3.3 3.3-3.3 3.3-3.3-3.3zM343.2 289.5l3.3 3.3-3.3 3.3-3.3-3.3zM343.2 240.9l3.3 3.3-3.3 3.3-3.3-3.3zM343.3 295.0l3.3 3.3-3.3 3.3-3.3-3.3zM343.3 301.7l3.3 3.3-3.3 3.3-3.3-3.3zM343.3 335.0l3.3 3.3-3.3 3.3-3.3-3.3zM343.4 350.6l3.3 3.3-3.3 3.3-3.3-3.3zM343.4 276.3l3.3 3.3-3.3 3.3-3.3-3.3zM343.4 336.2l3.3 3.3-3.3 3.3-3.3-3.3zM343.4 338.0l3.3 3.3-3.3 3.3-3.3-3.3zM343.5 308.6l3.3 3.3-3.3 3.3-3.3-3.3zM343.8 313.3l3.3 3.3-3.3 3.3-3.3-3.3zM343.8 308.0l3.3 3.3-3.3 3.3-3.3-3.3zM343.9 352.3l3.3 3.3-3.3 3.3-3.3-3.3zM344.1 289.2l3.3 3.3-3.3 3.3-3.3-3.3zM344.1 301.4l3.3 3.3-3.3 3.3-3.3-3.3zM344.2 471.2l3.3 3.3-3.3 3.3-3.3-3.3zM344.4 379.7l3.3 3.3-3.3 3.3-3.3-3.3zM344.5 311.1l3.3 3.3-3.3 3.3-3.3-3.3zM344.5 316.8l3.3 3.3-3.3 3.3-3.3-3.3zM344.9 339.3l3.3 3.3-3.3 3.3-3.3-3.3zM345.1 306.4l3.3 3.3-3.3 3.3-3.3-3.3zM345.1 287.1l3.3 3.3-3.3 3.3-3.3-3.3zM345.1 286.6l3.3 3.3-3.3 3.3-3.3-3.3zM345.2 323.3l3.3 3.3-3.3 3.3-3.3-3.3zM345.2 298.0l3.3 3.3-3.3 3.3-3.3-3.3zM345.4 290.3l3.3 3.3-3.3 3.3-3.3-3.3zM345.5 331.6l3.3 3.3-3.3 3.3-3.3-3.3zM345.5 448.7l3.3 3.3-3.3 3.3-3.3-3.3zM345.5 327.7l3.3 3.3-3.3 3.3-3.3-3.3zM345.6 365.0l3.3 3.3-3.3 3.3-3.3-3.3zM345.6 290.3l3.3 3.3-3.3 3.3-3.3-3.3zM345.7 301.3l3.3 3.3-3.3 3.3-3.3-3.3zM345.8 335.3l3.3 3.3-3.3 3.3-3.3-3.3zM345.8 285.0l3.3 3.3-3.3 3.3-3.3-3.3zM345.9 329.1l3.3 3.3-3.3 3.3-3.3-3.3zM346.2 362.2l3.3 3.3-3.3 3.3-3.3-3.3zM346.2 365.9l3.3 3.3-3.3 3.3-3.3-3.3zM346.2 367.7l3.3 3.3-3.3 3.3-3.3-3.3zM346.3 368.5l3.3 3.3-3.3 3.3-3.3-3.3zM346.4 350.3l3.3 3.3-3.3 3.3-3.3-3.3zM346.5 359.4l3.3 3.3-3.3 3.3-3.3-3.3zM346.5 297.0l3.3 3.3-3.3 3.3-3.3-3.3zM346.5 347.1l3.3 3.3-3.3 3.3-3.3-3.3zM346.6 310.5l3.3 3.3-3.3 3.3-3.3-3.3zM346.7 296.7l3.3 3.3-3.3 3.3-3.3-3.3zM346.7 341.2l3.3 3.3-3.3 3.3-3.3-3.3zM346.7 327.8l3.3 3.3-3.3 3.3-3.3-3.3zM346.7 315.1l3.3 3.3-3.3 3.3-3.3-3.3zM346.7 344.7l3.3 3.3-3.3 3.3-3.3-3.3zM346.8 335.4l3.3 3.3-3.3 3.3-3.3-3.3zM346.8 348.6l3.3 3.3-3.3 3.3-3.3-3.3zM346.9 320.2l3.3 3.3-3.3 3.3-3.3-3.3zM347.0 305.3l3.3 3.3-3.3 3.3-3.3-3.3zM347.2 328.7l3.3 3.3-3.3 3.3-3.3-3.3zM347.2 316.1l3.3 3.3-3.3 3.3-3.3-3.3zM347.2 319.8l3.3 3.3-3.3 3.3-3.3-3.3zM347.2 350.4l3.3 3.3-3.3 3.3-3.3-3.3zM347.5 303.6l3.3 3.3-3.3 3.3-3.3-3.3zM347.7 304.8l3.3 3.3-3.3 3.3-3.3-3.3zM347.7 318.0l3.3 3.3-3.3 3.3-3.3-3.3zM347.8 401.9l3.3 3.3-3.3 3.3-3.3-3.3zM347.9 302.6l3.3 3.3-3.3 3.3-3.3-3.3zM348.0 336.6l3.3 3.3-3.3 3.3-3.3-3.3zM348.0 360.7l3.3 3.3-3.3 3.3-3.3-3.3zM348.1 378.6l3.3 3.3-3.3 3.3-3.3-3.3zM348.1 330.4l3.3 3.3-3.3 3.3-3.3-3.3zM348.1 326.7l3.3 3.3-3.3 3.3-3.3-3.3zM348.2 401.3l3.3 3.3-3.3 3.3-3.3-3.3zM348.2 223.4l3.3 3.3-3.3 3.3-3.3-3.3zM348.3 404.8l3.3 3.3-3.3 3.3-3.3-3.3zM348.3 352.9l3.3 3.3-3.3 3.3-3.3-3.3zM348.3 347.9l3.3 3.3-3.3 3.3-3.3-3.3zM348.4 311.6l3.3 3.3-3.3 3.3-3.3-3.3zM348.4 320.6l3.3 3.3-3.3 3.3-3.3-3.3zM348.8 308.7l3.3 3.3-3.3 3.3-3.3-3.3zM348.8 390.0l3.3 3.3-3.3 3.3-3.3-3.3zM349.1 331.9l3.3 3.3-3.3 3.3-3.3-3.3zM349.1 348.9l3.3 3.3-3.3 3.3-3.3-3.3zM349.2 351.9l3.3 3.3-3.3 3.3-3.3-3.3zM349.3 376.1l3.3 3.3-3.3 3.3-3.3-3.3zM349.4 302.3l3.3 3.3-3.3 3.3-3.3-3.3zM349.4 311.5l3.3 3.3-3.3 3.3-3.3-3.3zM349.5 305.6l3.3 3.3-3.3 3.3-3.3-3.3zM349.5 339.7l3.3 3.3-3.3 3.3-3.3-3.3zM349.5 364.9l3.3 3.3-3.3 3.3-3.3-3.3zM349.6 309.7l3.3 3.3-3.3 3.3-3.3-3.3zM349.6 337.9l3.3 3.3-3.3 3.3-3.3-3.3zM349.7 345.0l3.3 3.3-3.3 3.3-3.3-3.3zM349.7 299.5l3.3 3.3-3.3 3.3-3.3-3.3zM349.8 307.9l3.3 3.3-3.3 3.3-3.3-3.3zM349.9 297.2l3.3 3.3-3.3 3.3-3.3-3.3zM349.9 396.9l3.3 3.3-3.3 3.3-3.3-3.3zM350.2 324.3l3.3 3.3-3.3 3.3-3.3-3.3zM350.3 310.2l3.3 3.3-3.3 3.3-3.3-3.3zM350.4 320.1l3.3 3.3-3.3 3.3-3.3-3.3zM350.6 334.9l3.3 3.3-3.3 3.3-3.3-3.3zM350.6 298.4l3.3 3.3-3.3 3.3-3.3-3.3zM350.8 336.9l3.3 3.3-3.3 3.3-3.3-3.3zM350.9 303.3l3.3 3.3-3.3 3.3-3.3-3.3zM350.9 350.1l3.3 3.3-3.3 3.3-3.3-3.3zM350.9 340.6l3.3 3.3-3.3 3.3-3.3-3.3zM351.0 404.5l3.3 3.3-3.3 3.3-3.3-3.3zM351.0 235.4l3.3 3.3-3.3 3.3-3.3-3.3zM351.0 322.7l3.3 3.3-3.3 3.3-3.3-3.3zM351.2 313.5l3.3 3.3-3.3 3.3-3.3-3.3zM351.3 335.1l3.3 3.3-3.3 3.3-3.3-3.3zM351.3 377.1l3.3 3.3-3.3 3.3-3.3-3.3zM351.4 334.2l3.3 3.3-3.3 3.3-3.3-3.3zM351.4 303.2l3.3 3.3-3.3 3.3-3.3-3.3zM351.6 317.0l3.3 3.3-3.3 3.3-3.3-3.3zM351.7 284.7l3.3 3.3-3.3 3.3-3.3-3.3zM351.8 351.3l3.3 3.3-3.3 3.3-3.3-3.3zM351.8 352.1l3.3 3.3-3.3 3.3-3.3-3.3zM352.0 346.3l3.3 3.3-3.3 3.3-3.3-3.3zM352.1 279.2l3.3 3.3-3.3 3.3-3.3-3.3zM352.2 292.8l3.3 3.3-3.3 3.3-3.3-3.3zM352.3 308.7l3.3 3.3-3.3 3.3-3.3-3.3zM352.3 330.3l3.3 3.3-3.3 3.3-3.3-3.3zM352.3 369.2l3.3 3.3-3.3 3.3-3.3-3.3zM352.3 294.9l3.3 3.3-3.3 3.3-3.3-3.3zM352.5 341.2l3.3 3.3-3.3 3.3-3.3-3.3zM352.6 294.0l3.3 3.3-3.3 3.3-3.3-3.3zM352.8 365.7l3.3 3.3-3.3 3.3-3.3-3.3zM352.8 328.3l3.3 3.3-3.3 3.3-3.3-3.3zM352.8 276.4l3.3 3.3-3.3 3.3-3.3-3.3zM352.9 321.8l3.3 3.3-3.3 3.3-3.3-3.3zM353.1 301.8l3.3 3.3-3.3 3.3-3.3-3.3zM353.1 344.3l3.3 3.3-3.3 3.3-3.3-3.3zM353.2 280.6l3.3 3.3-3.3 3.3-3.3-3.3zM353.2 305.8l3.3 3.3-3.3 3.3-3.3-3.3zM353.3 285.2l3.3 3.3-3.3 3.3-3.3-3.3zM353.5 291.2l3.3 3.3-3.3 3.3-3.3-3.3zM353.5 317.3l3.3 3.3-3.3 3.3-3.3-3.3zM353.7 381.5l3.3 3.3-3.3 3.3-3.3-3.3zM353.8 338.7l3.3 3.3-3.3 3.3-3.3-3.3zM353.8 327.7l3.3 3.3-3.3 3.3-3.3-3.3zM353.8 359.2l3.3 3.3-3.3 3.3-3.3-3.3zM353.8 311.8l3.3 3.3-3.3 3.3-3.3-3.3zM353.9 349.7l3.3 3.3-3.3 3.3-3.3-3.3zM354.0 323.6l3.3 3.3-3.3 3.3-3.3-3.3zM354.0 333.9l3.3 3.3-3.3 3.3-3.3-3.3zM354.0 301.6l3.3 3.3-3.3 3.3-3.3-3.3zM354.0 322.1l3.3 3.3-3.3 3.3-3.3-3.3zM354.2 346.7l3.3 3.3-3.3 3.3-3.3-3.3zM354.2 330.6l3.3 3.3-3.3 3.3-3.3-3.3zM354.4 311.0l3.3 3.3-3.3 3.3-3.3-3.3zM354.4 327.3l3.3 3.3-3.3 3.3-3.3-3.3zM354.4 279.5l3.3 3.3-3.3 3.3-3.3-3.3zM354.6 305.2l3.3 3.3-3.3 3.3-3.3-3.3zM354.6 329.9l3.3 3.3-3.3 3.3-3.3-3.3zM354.8 493.2l3.3 3.3-3.3 3.3-3.3-3.3zM355.0 393.6l3.3 3.3-3.3 3.3-3.3-3.3zM355.0 311.7l3.3 3.3-3.3 3.3-3.3-3.3zM355.1 416.7l3.3 3.3-3.3 3.3-3.3-3.3zM355.5 337.7l3.3 3.3-3.3 3.3-3.3-3.3zM355.5 290.6l3.3 3.3-3.3 3.3-3.3-3.3zM355.6 279.0l3.3 3.3-3.3 3.3-3.3-3.3zM355.7 375.1l3.3 3.3-3.3 3.3-3.3-3.3zM355.8 268.6l3.3 3.3-3.3 3.3-3.3-3.3zM355.9 297.7l3.3 3.3-3.3 3.3-3.3-3.3zM356.0 274.5l3.3 3.3-3.3 3.3-3.3-3.3zM356.2 310.0l3.3 3.3-3.3 3.3-3.3-3.3zM356.2 314.7l3.3 3.3-3.3 3.3-3.3-3.3zM356.3 318.6l3.3 3.3-3.3 3.3-3.3-3.3zM356.3 337.0l3.3 3.3-3.3 3.3-3.3-3.3zM356.3 323.0l3.3 3.3-3.3 3.3-3.3-3.3zM356.5 370.6l3.3 3.3-3.3 3.3-3.3-3.3zM356.6 306.4l3.3 3.3-3.3 3.3-3.3-3.3zM356.6 294.4l3.3 3.3-3.3 3.3-3.3-3.3zM356.6 299.4l3.3 3.3-3.3 3.3-3.3-3.3zM356.7 305.1l3.3 3.3-3.3 3.3-3.3-3.3zM356.7 376.2l3.3 3.3-3.3 3.3-3.3-3.3zM356.8 343.2l3.3 3.3-3.3 3.3-3.3-3.3zM356.8 383.2l3.3 3.3-3.3 3.3-3.3-3.3zM356.9 289.7l3.3 3.3-3.3 3.3-3.3-3.3zM356.9 280.7l3.3 3.3-3.3 3.3-3.3-3.3zM357.1 390.3l3.3 3.3-3.3 3.3-3.3-3.3zM357.2 328.9l3.3 3.3-3.3 3.3-3.3-3.3zM357.2 320.3l3.3 3.3-3.3 3.3-3.3-3.3zM357.3 332.5l3.3 3.3-3.3 3.3-3.3-3.3zM357.4 345.6l3.3 3.3-3.3 3.3-3.3-3.3zM357.4 292.8l3.3 3.3-3.3 3.3-3.3-3.3zM357.4 366.0l3.3 3.3-3.3 3.3-3.3-3.3zM357.5 474.9l3.3 3.3-3.3 3.3-3.3-3.3zM357.6 339.6l3.3 3.3-3.3 3.3-3.3-3.3zM357.7 316.9l3.3 3.3-3.3 3.3-3.3-3.3zM357.8 349.2l3.3 3.3-3.3 3.3-3.3-3.3zM358.0 315.9l3.3 3.3-3.3 3.3-3.3-3.3zM358.0 424.7l3.3 3.3-3.3 3.3-3.3-3.3zM358.1 281.5l3.3 3.3-3.3 3.3-3.3-3.3zM358.1 295.6l3.3 3.3-3.3 3.3-3.3-3.3zM358.3 286.3l3.3 3.3-3.3 3.3-3.3-3.3zM358.5 311.9l3.3 3.3-3.3 3.3-3.3-3.3zM358.5 363.3l3.3 3.3-3.3 3.3-3.3-3.3zM358.5 275.6l3.3 3.3-3.3 3.3-3.3-3.3zM358.6 359.3l3.3 3.3-3.3 3.3-3.3-3.3zM358.7 396.6l3.3 3.3-3.3 3.3-3.3-3.3zM358.9 360.8l3.3 3.3-3.3 3.3-3.3-3.3zM359.0 289.7l3.3 3.3-3.3 3.3-3.3-3.3zM359.1 292.5l3.3 3.3-3.3 3.3-3.3-3.3zM359.1 306.9l3.3 3.3-3.3 3.3-3.3-3.3zM359.1 420.2l3.3 3.3-3.3 3.3-3.3-3.3zM359.3 353.7l3.3 3.3-3.3 3.3-3.3-3.3zM359.4 338.8l3.3 3.3-3.3 3.3-3.3-3.3zM359.5 301.2l3.3 3.3-3.3 3.3-3.3-3.3zM359.5 294.9l3.3 3.3-3.3 3.3-3.3-3.3zM359.6 325.9l3.3 3.3-3.3 3.3-3.3-3.3zM359.7 398.8l3.3 3.3-3.3 3.3-3.3-3.3zM359.7 295.7l3.3 3.3-3.3 3.3-3.3-3.3zM359.8 318.4l3.3 3.3-3.3 3.3-3.3-3.3zM360.0 305.4l3.3 3.3-3.3 3.3-3.3-3.3zM360.0 470.2l3.3 3.3-3.3 3.3-3.3-3.3zM360.1 306.7l3.3 3.3-3.3 3.3-3.3-3.3zM360.1 345.0l3.3 3.3-3.3 3.3-3.3-3.3zM360.4 386.5l3.3 3.3-3.3 3.3-3.3-3.3zM360.5 274.8l3.3 3.3-3.3 3.3-3.3-3.3zM360.5 293.2l3.3 3.3-3.3 3.3-3.3-3.3zM360.5 308.3l3.3 3.3-3.3 3.3-3.3-3.3zM360.6 322.7l3.3 3.3-3.3 3.3-3.3-3.3zM360.6 327.7l3.3 3.3-3.3 3.3-3.3-3.3zM360.7 342.5l3.3 3.3-3.3 3.3-3.3-3.3zM360.7 335.2l3.3 3.3-3.3 3.3-3.3-3.3zM360.9 315.2l3.3 3.3-3.3 3.3-3.3-3.3zM360.9 325.1l3.3 3.3-3.3 3.3-3.3-3.3zM361.1 278.4l3.3 3.3-3.3 3.3-3.3-3.3zM361.1 333.8l3.3 3.3-3.3 3.3-3.3-3.3zM361.2 452.4l3.3 3.3-3.3 3.3-3.3-3.3zM361.3 307.2l3.3 3.3-3.3 3.3-3.3-3.3zM361.4 311.5l3.3 3.3-3.3 3.3-3.3-3.3zM361.4 306.9l3.3 3.3-3.3 3.3-3.3-3.3zM361.4 285.0l3.3 3.3-3.3 3.3-3.3-3.3zM361.5 330.1l3.3 3.3-3.3 3.3-3.3-3.3zM361.6 383.5l3.3 3.3-3.3 3.3-3.3-3.3zM361.6 310.6l3.3 3.3-3.3 3.3-3.3-3.3zM361.7 313.9l3.3 3.3-3.3 3.3-3.3-3.3zM361.8 419.2l3.3 3.3-3.3 3.3-3.3-3.3zM361.8 431.2l3.3 3.3-3.3 3.3-3.3-3.3zM361.8 318.5l3.3 3.3-3.3 3.3-3.3-3.3zM361.9 261.6l3.3 3.3-3.3 3.3-3.3-3.3zM361.9 356.2l3.3 3.3-3.3 3.3-3.3-3.3zM361.9 369.3l3.3 3.3-3.3 3.3-3.3-3.3zM362.0 345.0l3.3 3.3-3.3 3.3-3.3-3.3zM362.0 335.5l3.3 3.3-3.3 3.3-3.3-3.3zM362.0 298.9l3.3 3.3-3.3 3.3-3.3-3.3zM362.1 287.6l3.3 3.3-3.3 3.3-3.3-3.3zM362.2 328.6l3.3 3.3-3.3 3.3-3.3-3.3zM362.2 321.3l3.3 3.3-3.3 3.3-3.3-3.3zM362.5 292.5l3.3 3.3-3.3 3.3-3.3-3.3zM362.7 398.5l3.3 3.3-3.3 3.3-3.3-3.3zM362.8 298.5l3.3 3.3-3.3 3.3-3.3-3.3zM362.9 384.5l3.3 3.3-3.3 3.3-3.3-3.3zM363.0 323.0l3.3 3.3-3.3 3.3-3.3-3.3zM363.2 375.1l3.3 3.3-3.3 3.3-3.3-3.3zM363.3 321.6l3.3 3.3-3.3 3.3-3.3-3.3zM363.4 302.6l3.3 3.3-3.3 3.3-3.3-3.3zM363.5 338.9l3.3 3.3-3.3 3.3-3.3-3.3zM363.5 294.8l3.3 3.3-3.3 3.3-3.3-3.3zM363.6 279.7l3.3 3.3-3.3 3.3-3.3-3.3zM363.6 297.1l3.3 3.3-3.3 3.3-3.3-3.3zM363.8 286.8l3.3 3.3-3.3 3.3-3.3-3.3zM363.9 305.8l3.3 3.3-3.3 3.3-3.3-3.3zM363.9 278.7l3.3 3.3-3.3 3.3-3.3-3.3zM363.9 300.7l3.3 3.3-3.3 3.3-3.3-3.3zM364.1 290.7l3.3 3.3-3.3 3.3-3.3-3.3zM364.4 325.0l3.3 3.3-3.3 3.3-3.3-3.3zM364.4 315.3l3.3 3.3-3.3 3.3-3.3-3.3zM364.7 330.7l3.3 3.3-3.3 3.3-3.3-3.3zM364.7 263.5l3.3 3.3-3.3 3.3-3.3-3.3zM364.7 367.1l3.3 3.3-3.3 3.3-3.3-3.3zM364.8 374.8l3.3 3.3-3.3 3.3-3.3-3.3zM364.8 348.3l3.3 3.3-3.3 3.3-3.3-3.3zM364.8 310.8l3.3 3.3-3.3 3.3-3.3-3.3zM364.8 300.9l3.3 3.3-3.3 3.3-3.3-3.3zM364.9 332.8l3.3 3.3-3.3 3.3-3.3-3.3zM365.0 410.7l3.3 3.3-3.3 3.3-3.3-3.3zM365.0 328.3l3.3 3.3-3.3 3.3-3.3-3.3zM365.1 304.1l3.3 3.3-3.3 3.3-3.3-3.3zM365.1 276.1l3.3 3.3-3.3 3.3-3.3-3.3zM365.2 351.2l3.3 3.3-3.3 3.3-3.3-3.3zM365.2 352.6l3.3 3.3-3.3 3.3-3.3-3.3zM365.3 302.7l3.3 3.3-3.3 3.3-3.3-3.3zM365.3 345.6l3.3 3.3-3.3 3.3-3.3-3.3zM365.3 313.0l3.3 3.3-3.3 3.3-3.3-3.3zM365.4 313.9l3.3 3.3-3.3 3.3-3.3-3.3zM365.5 311.5l3.3 3.3-3.3 3.3-3.3-3.3zM365.5 334.3l3.3 3.3-3.3 3.3-3.3-3.3zM365.6 344.0l3.3 3.3-3.3 3.3-3.3-3.3zM365.6 397.8l3.3 3.3-3.3 3.3-3.3-3.3zM365.7 309.0l3.3 3.3-3.3 3.3-3.3-3.3zM365.8 318.8l3.3 3.3-3.3 3.3-3.3-3.3zM365.8 285.5l3.3 3.3-3.3 3.3-3.3-3.3zM365.8 285.2l3.3 3.3-3.3 3.3-3.3-3.3zM366.0 340.4l3.3 3.3-3.3 3.3-3.3-3.3zM366.2 331.5l3.3 3.3-3.3 3.3-3.3-3.3zM366.2 312.0l3.3 3.3-3.3 3.3-3.3-3.3zM366.2 323.0l3.3 3.3-3.3 3.3-3.3-3.3zM366.4 323.3l3.3 3.3-3.3 3.3-3.3-3.3zM366.6 340.4l3.3 3.3-3.3 3.3-3.3-3.3zM366.8 313.3l3.3 3.3-3.3 3.3-3.3-3.3zM366.9 284.4l3.3 3.3-3.3 3.3-3.3-3.3zM366.9 368.1l3.3 3.3-3.3 3.3-3.3-3.3zM367.0 200.9l3.3 3.3-3.3 3.3-3.3-3.3zM367.5 316.3l3.3 3.3-3.3 3.3-3.3-3.3zM367.7 299.6l3.3 3.3-3.3 3.3-3.3-3.3zM367.8 332.5l3.3 3.3-3.3 3.3-3.3-3.3zM367.8 328.0l3.3 3.3-3.3 3.3-3.3-3.3zM367.9 336.3l3.3 3.3-3.3 3.3-3.3-3.3zM368.0 313.5l3.3 3.3-3.3 3.3-3.3-3.3zM368.0 284.1l3.3 3.3-3.3 3.3-3.3-3.3zM368.2 347.8l3.3 3.3-3.3 3.3-3.3-3.3zM368.2 307.3l3.3 3.3-3.3 3.3-3.3-3.3zM368.3 399.1l3.3 3.3-3.3 3.3-3.3-3.3zM368.3 280.6l3.3 3.3-3.3 3.3-3.3-3.3zM368.3 370.5l3.3 3.3-3.3 3.3-3.3-3.3zM368.4 323.5l3.3 3.3-3.3 3.3-3.3-3.3zM368.4 267.1l3.3 3.3-3.3 3.3-3.3-3.3zM368.6 356.4l3.3 3.3-3.3 3.3-3.3-3.3zM368.6 321.7l3.3 3.3-3.3 3.3-3.3-3.3zM368.7 316.1l3.3 3.3-3.3 3.3-3.3-3.3zM368.7 326.1l3.3 3.3-3.3 3.3-3.3-3.3zM368.7 354.8l3.3 3.3-3.3 3.3-3.3-3.3zM368.8 341.4l3.3 3.3-3.3 3.3-3.3-3.3zM368.9 343.5l3.3 3.3-3.3 3.3-3.3-3.3zM369.0 321.7l3.3 3.3-3.3 3.3-3.3-3.3zM369.1 345.4l3.3 3.3-3.3 3.3-3.3-3.3zM369.1 336.5l3.3 3.3-3.3 3.3-3.3-3.3zM369.2 274.7l3.3 3.3-3.3 3.3-3.3-3.3zM369.2 274.4l3.3 3.3-3.3 3.3-3.3-3.3zM369.3 411.1l3.3 3.3-3.3 3.3-3.3-3.3zM369.3 338.6l3.3 3.3-3.3 3.3-3.3-3.3zM369.3 303.9l3.3 3.3-3.3 3.3-3.3-3.3zM369.5 291.1l3.3 3.3-3.3 3.3-3.3-3.3zM369.6 295.6l3.3 3.3-3.3 3.3-3.3-3.3zM369.9 296.1l3.3 3.3-3.3 3.3-3.3-3.3zM370.0 296.1l3.3 3.3-3.3 3.3-3.3-3.3zM370.0 312.0l3.3 3.3-3.3 3.3-3.3-3.3zM370.0 362.5l3.3 3.3-3.3 3.3-3.3-3.3zM370.0 547.7l3.3 3.3-3.3 3.3-3.3-3.3zM370.3 330.4l3.3 3.3-3.3 3.3-3.3-3.3zM370.3 253.6l3.3 3.3-3.3 3.3-3.3-3.3zM370.4 275.3l3.3 3.3-3.3 3.3-3.3-3.3zM370.4 335.0l3.3 3.3-3.3 3.3-3.3-3.3zM370.4 329.7l3.3 3.3-3.3 3.3-3.3-3.3zM370.5 309.1l3.3 3.3-3.3 3.3-3.3-3.3zM370.7 327.7l3.3 3.3-3.3 3.3-3.3-3.3zM370.7 305.8l3.3 3.3-3.3 3.3-3.3-3.3zM371.0 299.3l3.3 3.3-3.3 3.3-3.3-3.3zM371.0 370.6l3.3 3.3-3.3 3.3-3.3-3.3zM371.0 405.1l3.3 3.3-3.3 3.3-3.3-3.3zM371.0 301.6l3.3 3.3-3.3 3.3-3.3-3.3zM371.2 261.8l3.3 3.3-3.3 3.3-3.3-3.3zM371.2 305.2l3.3 3.3-3.3 3.3-3.3-3.3zM371.2 312.8l3.3 3.3-3.3 3.3-3.3-3.3zM371.3 419.0l3.3 3.3-3.3 3.3-3.3-3.3zM371.4 326.4l3.3 3.3-3.3 3.3-3.3-3.3zM371.4 307.3l3.3 3.3-3.3 3.3-3.3-3.3zM371.5 354.6l3.3 3.3-3.3 3.3-3.3-3.3zM371.5 317.6l3.3 3.3-3.3 3.3-3.3-3.3zM371.6 295.4l3.3 3.3-3.3 3.3-3.3-3.3zM371.6 368.4l3.3 3.3-3.3 3.3-3.3-3.3zM371.7 356.5l3.3 3.3-3.3 3.3-3.3-3.3zM371.7 410.2l3.3 3.3-3.3 3.3-3.3-3.3zM371.7 327.2l3.3 3.3-3.3 3.3-3.3-3.3zM371.8 465.7l3.3 3.3-3.3 3.3-3.3-3.3zM371.8 499.7l3.3 3.3-3.3 3.3-3.3-3.3zM371.8 345.1l3.3 3.3-3.3 3.3-3.3-3.3zM371.8 395.2l3.3 3.3-3.3 3.3-3.3-3.3zM371.8 330.6l3.3 3.3-3.3 3.3-3.3-3.3zM371.8 257.4l3.3 3.3-3.3 3.3-3.3-3.3zM372.0 320.8l3.3 3.3-3.3 3.3-3.3-3.3zM372.1 352.7l3.3 3.3-3.3 3.3-3.3-3.3zM372.3 317.5l3.3 3.3-3.3 3.3-3.3-3.3zM372.4 298.2l3.3 3.3-3.3 3.3-3.3-3.3zM372.6 292.9l3.3 3.3-3.3 3.3-3.3-3.3zM372.7 388.3l3.3 3.3-3.3 3.3-3.3-3.3zM372.7 360.1l3.3 3.3-3.3 3.3-3.3-3.3zM372.9 276.1l3.3 3.3-3.3 3.3-3.3-3.3zM373.0 347.4l3.3 3.3-3.3 3.3-3.3-3.3zM373.0 305.8l3.3 3.3-3.3 3.3-3.3-3.3zM373.1 267.6l3.3 3.3-3.3 3.3-3.3-3.3zM373.1 291.2l3.3 3.3-3.3 3.3-3.3-3.3zM373.2 274.9l3.3 3.3-3.3 3.3-3.3-3.3zM373.3 339.8l3.3 3.3-3.3 3.3-3.3-3.3zM373.3 306.0l3.3 3.3-3.3 3.3-3.3-3.3zM373.4 337.9l3.3 3.3-3.3 3.3-3.3-3.3zM373.5 314.8l3.3 3.3-3.3 3.3-3.3-3.3zM373.5 490.9l3.3 3.3-3.3 3.3-3.3-3.3zM373.5 331.9l3.3 3.3-3.3 3.3-3.3-3.3zM373.8 337.6l3.3 3.3-3.3 3.3-3.3-3.3zM373.9 362.0l3.3 3.3-3.3 3.3-3.3-3.3zM374.0 324.8l3.3 3.3-3.3 3.3-3.3-3.3zM374.0 342.0l3.3 3.3-3.3 3.3-3.3-3.3zM374.1 308.1l3.3 3.3-3.3 3.3-3.3-3.3zM374.5 417.9l3.3 3.3-3.3 3.3-3.3-3.3zM374.6 343.6l3.3 3.3-3.3 3.3-3.3-3.3zM374.6 325.4l3.3 3.3-3.3 3.3-3.3-3.3zM374.7 302.6l3.3 3.3-3.3 3.3-3.3-3.3zM374.7 311.6l3.3 3.3-3.3 3.3-3.3-3.3zM374.7 300.7l3.3 3.3-3.3 3.3-3.3-3.3zM374.7 334.8l3.3 3.3-3.3 3.3-3.3-3.3zM374.8 297.8l3.3 3.3-3.3 3.3-3.3-3.3zM374.8 311.7l3.3 3.3-3.3 3.3-3.3-3.3zM374.8 319.6l3.3 3.3-3.3 3.3-3.3-3.3zM374.9 312.8l3.3 3.3-3.3 3.3-3.3-3.3zM374.9 316.4l3.3 3.3-3.3 3.3-3.3-3.3zM374.9 313.1l3.3 3.3-3.3 3.3-3.3-3.3zM374.9 326.6l3.3 3.3-3.3 3.3-3.3-3.3zM375.0 359.0l3.3 3.3-3.3 3.3-3.3-3.3zM375.1 289.4l3.3 3.3-3.3 3.3-3.3-3.3zM375.3 297.6l3.3 3.3-3.3 3.3-3.3-3.3zM375.3 325.7l3.3 3.3-3.3 3.3-3.3-3.3zM375.4 348.2l3.3 3.3-3.3 3.3-3.3-3.3zM375.4 334.4l3.3 3.3-3.3 3.3-3.3-3.3zM375.5 301.1l3.3 3.3-3.3 3.3-3.3-3.3zM375.5 345.8l3.3 3.3-3.3 3.3-3.3-3.3zM375.7 342.0l3.3 3.3-3.3 3.3-3.3-3.3zM375.8 339.0l3.3 3.3-3.3 3.3-3.3-3.3zM375.8 355.0l3.3 3.3-3.3 3.3-3.3-3.3zM375.9 330.0l3.3 3.3-3.3 3.3-3.3-3.3zM376.0 365.2l3.3 3.3-3.3 3.3-3.3-3.3zM376.0 353.1l3.3 3.3-3.3 3.3-3.3-3.3zM376.1 307.9l3.3 3.3-3.3 3.3-3.3-3.3zM376.1 292.5l3.3 3.3-3.3 3.3-3.3-3.3zM376.2 335.6l3.3 3.3-3.3 3.3-3.3-3.3zM376.3 282.4l3.3 3.3-3.3 3.3-3.3-3.3zM376.3 345.6l3.3 3.3-3.3 3.3-3.3-3.3zM376.4 318.8l3.3 3.3-3.3 3.3-3.3-3.3zM376.5 343.6l3.3 3.3-3.3 3.3-3.3-3.3zM376.5 320.5l3.3 3.3-3.3 3.3-3.3-3.3zM376.5 291.6l3.3 3.3-3.3 3.3-3.3-3.3zM376.8 390.7l3.3 3.3-3.3 3.3-3.3-3.3zM376.8 343.7l3.3 3.3-3.3 3.3-3.3-3.3zM377.0 321.5l3.3 3.3-3.3 3.3-3.3-3.3zM377.0 323.3l3.3 3.3-3.3 3.3-3.3-3.3zM377.0 326.4l3.3 3.3-3.3 3.3-3.3-3.3zM377.1 365.4l3.3 3.3-3.3 3.3-3.3-3.3zM377.3 337.8l3.3 3.3-3.3 3.3-3.3-3.3zM377.3 296.0l3.3 3.3-3.3 3.3-3.3-3.3zM377.4 301.2l3.3 3.3-3.3 3.3-3.3-3.3zM377.4 285.5l3.3 3.3-3.3 3.3-3.3-3.3zM377.5 271.9l3.3 3.3-3.3 3.3-3.3-3.3zM377.5 319.2l3.3 3.3-3.3 3.3-3.3-3.3zM377.5 301.4l3.3 3.3-3.3 3.3-3.3-3.3zM377.6 286.5l3.3 3.3-3.3 3.3-3.3-3.3zM377.6 304.1l3.3 3.3-3.3 3.3-3.3-3.3zM377.8 365.4l3.3 3.3-3.3 3.3-3.3-3.3zM377.8 299.7l3.3 3.3-3.3 3.3-3.3-3.3zM377.8 317.7l3.3 3.3-3.3 3.3-3.3-3.3zM378.0 328.0l3.3 3.3-3.3 3.3-3.3-3.3zM378.0 369.1l3.3 3.3-3.3 3.3-3.3-3.3zM378.3 303.5l3.3 3.3-3.3 3.3-3.3-3.3zM378.4 314.9l3.3 3.3-3.3 3.3-3.3-3.3zM378.5 360.2l3.3 3.3-3.3 3.3-3.3-3.3zM378.5 407.9l3.3 3.3-3.3 3.3-3.3-3.3zM378.5 294.0l3.3 3.3-3.3 3.3-3.3-3.3zM378.7 385.5l3.3 3.3-3.3 3.3-3.3-3.3zM378.8 328.4l3.3 3.3-3.3 3.3-3.3-3.3zM378.9 319.1l3.3 3.3-3.3 3.3-3.3-3.3zM378.9 292.1l3.3 3.3-3.3 3.3-3.3-3.3zM378.9 343.3l3.3 3.3-3.3 3.3-3.3-3.3zM379.0 317.4l3.3 3.3-3.3 3.3-3.3-3.3zM379.1 335.4l3.3 3.3-3.3 3.3-3.3-3.3zM379.2 331.9l3.3 3.3-3.3 3.3-3.3-3.3zM379.2 306.2l3.3 3.3-3.3 3.3-3.3-3.3zM379.2 335.3l3.3 3.3-3.3 3.3-3.3-3.3zM379.2 400.1l3.3 3.3-3.3 3.3-3.3-3.3zM379.4 376.1l3.3 3.3-3.3 3.3-3.3-3.3zM379.6 264.9l3.3 3.3-3.3 3.3-3.3-3.3zM379.7 292.0l3.3 3.3-3.3 3.3-3.3-3.3zM379.7 339.7l3.3 3.3-3.3 3.3-3.3-3.3zM379.7 326.3l3.3 3.3-3.3 3.3-3.3-3.3zM379.9 342.1l3.3 3.3-3.3 3.3-3.3-3.3zM380.1 414.8l3.3 3.3-3.3 3.3-3.3-3.3zM380.1 310.4l3.3 3.3-3.3 3.3-3.3-3.3zM380.3 353.0l3.3 3.3-3.3 3.3-3.3-3.3zM380.3 324.3l3.3 3.3-3.3 3.3-3.3-3.3zM380.5 339.1l3.3 3.3-3.3 3.3-3.3-3.3zM380.5 412.9l3.3 3.3-3.3 3.3-3.3-3.3zM380.6 276.3l3.3 3.3-3.3 3.3-3.3-3.3zM380.6 288.5l3.3 3.3-3.3 3.3-3.3-3.3zM380.9 297.5l3.3 3.3-3.3 3.3-3.3-3.3zM380.9 317.3l3.3 3.3-3.3 3.3-3.3-3.3zM381.0 317.0l3.3 3.3-3.3 3.3-3.3-3.3zM381.0 491.7l3.3 3.3-3.3 3.3-3.3-3.3zM381.1 300.6l3.3 3.3-3.3 3.3-3.3-3.3zM381.3 335.0l3.3 3.3-3.3 3.3-3.3-3.3zM381.4 326.6l3.3 3.3-3.3 3.3-3.3-3.3zM381.4 349.2l3.3 3.3-3.3 3.3-3.3-3.3zM381.4 345.8l3.3 3.3-3.3 3.3-3.3-3.3zM381.6 322.8l3.3 3.3-3.3 3.3-3.3-3.3zM381.7 323.9l3.3 3.3-3.3 3.3-3.3-3.3zM381.7 347.4l3.3 3.3-3.3 3.3-3.3-3.3zM381.8 284.7l3.3 3.3-3.3 3.3-3.3-3.3zM381.8 298.5l3.3 3.3-3.3 3.3-3.3-3.3zM381.9 353.6l3.3 3.3-3.3 3.3-3.3-3.3zM382.0 286.5l3.3 3.3-3.3 3.3-3.3-3.3zM382.0 292.7l3.3 3.3-3.3 3.3-3.3-3.3zM382.0 327.0l3.3 3.3-3.3 3.3-3.3-3.3zM382.1 308.2l3.3 3.3-3.3 3.3-3.3-3.3zM382.2 315.9l3.3 3.3-3.3 3.3-3.3-3.3zM382.2 330.9l3.3 3.3-3.3 3.3-3.3-3.3zM382.3 277.6l3.3 3.3-3.3 3.3-3.3-3.3zM382.3 314.0l3.3 3.3-3.3 3.3-3.3-3.3zM382.4 254.7l3.3 3.3-3.3 3.3-3.3-3.3zM382.4 368.2l3.3 3.3-3.3 3.3-3.3-3.3zM382.5 299.3l3.3 3.3-3.3 3.3-3.3-3.3zM382.5 342.6l3.3 3.3-3.3 3.3-3.3-3.3zM382.7 248.7l3.3 3.3-3.3 3.3-3.3-3.3zM382.8 267.8l3.3 3.3-3.3 3.3-3.3-3.3zM382.8 316.3l3.3 3.3-3.3 3.3-3.3-3.3zM382.8 377.6l3.3 3.3-3.3 3.3-3.3-3.3zM382.8 261.7l3.3 3.3-3.3 3.3-3.3-3.3zM382.9 291.4l3.3 3.3-3.3 3.3-3.3-3.3zM383.0 303.0l3.3 3.3-3.3 3.3-3.3-3.3zM383.1 339.0l3.3 3.3-3.3 3.3-3.3-3.3zM383.3 273.9l3.3 3.3-3.3 3.3-3.3-3.3zM383.3 339.5l3.3 3.3-3.3 3.3-3.3-3.3zM383.4 335.7l3.3 3.3-3.3 3.3-3.3-3.3zM383.4 285.3l3.3 3.3-3.3 3.3-3.3-3.3zM383.6 304.3l3.3 3.3-3.3 3.3-3.3-3.3zM383.6 318.1l3.3 3.3-3.3 3.3-3.3-3.3zM383.6 329.8l3.3 3.3-3.3 3.3-3.3-3.3zM383.6 287.4l3.3 3.3-3.3 3.3-3.3-3.3zM383.7 318.9l3.3 3.3-3.3 3.3-3.3-3.3zM383.8 419.7l3.3 3.3-3.3 3.3-3.3-3.3zM383.9 312.3l3.3 3.3-3.3 3.3-3.3-3.3zM383.9 329.0l3.3 3.3-3.3 3.3-3.3-3.3zM383.9 250.3l3.3 3.3-3.3 3.3-3.3-3.3zM383.9 294.5l3.3 3.3-3.3 3.3-3.3-3.3zM384.0 273.4l3.3 3.3-3.3 3.3-3.3-3.3zM384.1 326.3l3.3 3.3-3.3 3.3-3.3-3.3zM384.1 294.8l3.3 3.3-3.3 3.3-3.3-3.3zM384.1 279.7l3.3 3.3-3.3 3.3-3.3-3.3zM384.1 293.4l3.3 3.3-3.3 3.3-3.3-3.3zM384.2 361.0l3.3 3.3-3.3 3.3-3.3-3.3zM384.2 356.3l3.3 3.3-3.3 3.3-3.3-3.3zM384.2 259.2l3.3 3.3-3.3 3.3-3.3-3.3zM384.3 326.6l3.3 3.3-3.3 3.3-3.3-3.3zM384.4 334.3l3.3 3.3-3.3 3.3-3.3-3.3zM384.4 291.9l3.3 3.3-3.3 3.3-3.3-3.3zM384.4 337.0l3.3 3.3-3.3 3.3-3.3-3.3zM384.4 323.5l3.3 3.3-3.3 3.3-3.3-3.3zM384.5 334.5l3.3 3.3-3.3 3.3-3.3-3.3zM384.5 373.5l3.3 3.3-3.3 3.3-3.3-3.3zM384.7 305.1l3.3 3.3-3.3 3.3-3.3-3.3zM384.7 354.6l3.3 3.3-3.3 3.3-3.3-3.3zM384.9 328.5l3.3 3.3-3.3 3.3-3.3-3.3zM384.9 254.7l3.3 3.3-3.3 3.3-3.3-3.3zM384.9 329.2l3.3 3.3-3.3 3.3-3.3-3.3zM385.0 450.9l3.3 3.3-3.3 3.3-3.3-3.3zM385.3 355.4l3.3 3.3-3.3 3.3-3.3-3.3zM385.4 351.8l3.3 3.3-3.3 3.3-3.3-3.3zM385.4 348.8l3.3 3.3-3.3 3.3-3.3-3.3zM385.5 360.9l3.3 3.3-3.3 3.3-3.3-3.3zM385.6 336.4l3.3 3.3-3.3 3.3-3.3-3.3zM385.8 302.0l3.3 3.3-3.3 3.3-3.3-3.3zM385.8 365.9l3.3 3.3-3.3 3.3-3.3-3.3zM385.8 339.2l3.3 3.3-3.3 3.3-3.3-3.3zM386.0 281.5l3.3 3.3-3.3 3.3-3.3-3.3zM386.1 301.5l3.3 3.3-3.3 3.3-3.3-3.3zM386.2 225.2l3.3 3.3-3.3 3.3-3.3-3.3zM386.3 343.2l3.3 3.3-3.3 3.3-3.3-3.3zM386.3 286.2l3.3 3.3-3.3 3.3-3.3-3.3zM386.4 310.0l3.3 3.3-3.3 3.3-3.3-3.3zM386.4 285.6l3.3 3.3-3.3 3.3-3.3-3.3zM386.4 353.3l3.3 3.3-3.3 3.3-3.3-3.3zM386.6 296.3l3.3 3.3-3.3 3.3-3.3-3.3zM386.8 331.9l3.3 3.3-3.3 3.3-3.3-3.3zM387.0 315.8l3.3 3.3-3.3 3.3-3.3-3.3zM387.0 370.3l3.3 3.3-3.3 3.3-3.3-3.3zM387.0 305.3l3.3 3.3-3.3 3.3-3.3-3.3zM387.1 304.0l3.3 3.3-3.3 3.3-3.3-3.3zM387.1 288.4l3.3 3.3-3.3 3.3-3.3-3.3zM387.1 355.8l3.3 3.3-3.3 3.3-3.3-3.3zM387.1 320.6l3.3 3.3-3.3 3.3-3.3-3.3zM387.2 340.0l3.3 3.3-3.3 3.3-3.3-3.3zM387.4 292.1l3.3 3.3-3.3 3.3-3.3-3.3zM387.5 360.7l3.3 3.3-3.3 3.3-3.3-3.3zM387.5 308.7l3.3 3.3-3.3 3.3-3.3-3.3zM387.6 337.0l3.3 3.3-3.3 3.3-3.3-3.3zM387.7 314.6l3.3 3.3-3.3 3.3-3.3-3.3zM387.7 279.2l3.3 3.3-3.3 3.3-3.3-3.3zM387.8 341.5l3.3 3.3-3.3 3.3-3.3-3.3zM388.0 330.9l3.3 3.3-3.3 3.3-3.3-3.3zM388.1 322.7l3.3 3.3-3.3 3.3-3.3-3.3zM388.2 318.9l3.3 3.3-3.3 3.3-3.3-3.3zM388.4 302.4l3.3 3.3-3.3 3.3-3.3-3.3zM388.5 297.3l3.3 3.3-3.3 3.3-3.3-3.3zM388.5 332.4l3.3 3.3-3.3 3.3-3.3-3.3zM388.6 344.6l3.3 3.3-3.3 3.3-3.3-3.3zM388.7 275.5l3.3 3.3-3.3 3.3-3.3-3.3zM388.7 292.3l3.3 3.3-3.3 3.3-3.3-3.3zM388.7 314.6l3.3 3.3-3.3 3.3-3.3-3.3zM388.8 373.1l3.3 3.3-3.3 3.3-3.3-3.3zM388.9 314.7l3.3 3.3-3.3 3.3-3.3-3.3zM388.9 325.4l3.3 3.3-3.3 3.3-3.3-3.3zM389.0 355.0l3.3 3.3-3.3 3.3-3.3-3.3zM389.0 314.8l3.3 3.3-3.3 3.3-3.3-3.3zM389.1 286.6l3.3 3.3-3.3 3.3-3.3-3.3zM389.2 311.5l3.3 3.3-3.3 3.3-3.3-3.3zM389.3 271.3l3.3 3.3-3.3 3.3-3.3-3.3zM389.3 256.8l3.3 3.3-3.3 3.3-3.3-3.3zM389.4 351.0l3.3 3.3-3.3 3.3-3.3-3.3zM389.4 304.2l3.3 3.3-3.3 3.3-3.3-3.3zM389.5 526.0l3.3 3.3-3.3 3.3-3.3-3.3zM389.6 343.3l3.3 3.3-3.3 3.3-3.3-3.3zM389.7 300.0l3.3 3.3-3.3 3.3-3.3-3.3zM389.8 278.3l3.3 3.3-3.3 3.3-3.3-3.3zM389.9 285.1l3.3 3.3-3.3 3.3-3.3-3.3zM389.9 267.8l3.3 3.3-3.3 3.3-3.3-3.3zM389.9 325.1l3.3 3.3-3.3 3.3-3.3-3.3zM390.0 327.2l3.3 3.3-3.3 3.3-3.3-3.3zM390.0 325.8l3.3 3.3-3.3 3.3-3.3-3.3zM390.0 265.0l3.3 3.3-3.3 3.3-3.3-3.3zM390.0 340.0l3.3 3.3-3.3 3.3-3.3-3.3zM390.0 267.6l3.3 3.3-3.3 3.3-3.3-3.3zM390.1 369.8l3.3 3.3-3.3 3.3-3.3-3.3zM390.1 301.6l3.3 3.3-3.3 3.3-3.3-3.3zM390.2 326.7l3.3 3.3-3.3 3.3-3.3-3.3zM390.2 304.2l3.3 3.3-3.3 3.3-3.3-3.3zM390.2 333.3l3.3 3.3-3.3 3.3-3.3-3.3zM390.3 312.7l3.3 3.3-3.3 3.3-3.3-3.3zM390.3 360.2l3.3 3.3-3.3 3.3-3.3-3.3zM390.4 304.7l3.3 3.3-3.3 3.3-3.3-3.3zM390.5 437.9l3.3 3.3-3.3 3.3-3.3-3.3zM390.5 319.9l3.3 3.3-3.3 3.3-3.3-3.3zM390.8 390.2l3.3 3.3-3.3 3.3-3.3-3.3zM390.9 284.2l3.3 3.3-3.3 3.3-3.3-3.3zM391.0 315.9l3.3 3.3-3.3 3.3-3.3-3.3zM391.1 303.0l3.3 3.3-3.3 3.3-3.3-3.3zM391.1 321.8l3.3 3.3-3.3 3.3-3.3-3.3zM391.2 325.7l3.3 3.3-3.3 3.3-3.3-3.3zM391.2 309.5l3.3 3.3-3.3 3.3-3.3-3.3zM391.2 445.4l3.3 3.3-3.3 3.3-3.3-3.3zM391.4 299.9l3.3 3.3-3.3 3.3-3.3-3.3zM391.5 383.7l3.3 3.3-3.3 3.3-3.3-3.3zM391.6 329.3l3.3 3.3-3.3 3.3-3.3-3.3zM391.6 349.7l3.3 3.3-3.3 3.3-3.3-3.3zM391.6 335.9l3.3 3.3-3.3 3.3-3.3-3.3zM391.7 278.3l3.3 3.3-3.3 3.3-3.3-3.3zM391.8 346.3l3.3 3.3-3.3 3.3-3.3-3.3zM391.8 302.8l3.3 3.3-3.3 3.3-3.3-3.3zM391.9 309.7l3.3 3.3-3.3 3.3-3.3-3.3zM392.0 228.9l3.3 3.3-3.3 3.3-3.3-3.3zM392.1 282.9l3.3 3.3-3.3 3.3-3.3-3.3zM392.2 361.7l3.3 3.3-3.3 3.3-3.3-3.3zM392.2 373.6l3.3 3.3-3.3 3.3-3.3-3.3zM392.7 352.1l3.3 3.3-3.3 3.3-3.3-3.3zM392.7 304.0l3.3 3.3-3.3 3.3-3.3-3.3zM392.7 304.6l3.3 3.3-3.3 3.3-3.3-3.3zM392.8 256.1l3.3 3.3-3.3 3.3-3.3-3.3zM392.9 310.3l3.3 3.3-3.3 3.3-3.3-3.3zM393.1 326.0l3.3 3.3-3.3 3.3-3.3-3.3zM393.3 366.1l3.3 3.3-3.3 3.3-3.3-3.3zM393.3 349.1l3.3 3.3-3.3 3.3-3.3-3.3zM393.5 298.4l3.3 3.3-3.3 3.3-3.3-3.3zM393.5 311.6l3.3 3.3-3.3 3.3-3.3-3.3zM393.5 307.3l3.3 3.3-3.3 3.3-3.3-3.3zM393.6 314.5l3.3 3.3-3.3 3.3-3.3-3.3zM393.6 332.1l3.3 3.3-3.3 3.3-3.3-3.3zM393.6 345.1l3.3 3.3-3.3 3.3-3.3-3.3zM393.7 313.0l3.3 3.3-3.3 3.3-3.3-3.3zM393.8 309.7l3.3 3.3-3.3 3.3-3.3-3.3zM393.8 294.1l3.3 3.3-3.3 3.3-3.3-3.3zM393.9 331.4l3.3 3.3-3.3 3.3-3.3-3.3zM393.9 315.6l3.3 3.3-3.3 3.3-3.3-3.3zM393.9 289.6l3.3 3.3-3.3 3.3-3.3-3.3zM394.0 317.1l3.3 3.3-3.3 3.3-3.3-3.3zM394.0 350.8l3.3 3.3-3.3 3.3-3.3-3.3zM394.0 295.1l3.3 3.3-3.3 3.3-3.3-3.3zM394.0 301.1l3.3 3.3-3.3 3.3-3.3-3.3zM394.1 289.2l3.3 3.3-3.3 3.3-3.3-3.3zM394.2 320.8l3.3 3.3-3.3 3.3-3.3-3.3zM394.2 298.5l3.3 3.3-3.3 3.3-3.3-3.3zM394.3 347.1l3.3 3.3-3.3 3.3-3.3-3.3zM394.4 341.7l3.3 3.3-3.3 3.3-3.3-3.3zM394.6 337.6l3.3 3.3-3.3 3.3-3.3-3.3zM394.7 338.9l3.3 3.3-3.3 3.3-3.3-3.3zM394.8 334.9l3.3 3.3-3.3 3.3-3.3-3.3zM394.9 330.9l3.3 3.3-3.3 3.3-3.3-3.3zM394.9 283.8l3.3 3.3-3.3 3.3-3.3-3.3zM395.1 301.1l3.3 3.3-3.3 3.3-3.3-3.3zM395.1 287.2l3.3 3.3-3.3 3.3-3.3-3.3zM395.4 312.4l3.3 3.3-3.3 3.3-3.3-3.3zM395.5 324.0l3.3 3.3-3.3 3.3-3.3-3.3zM395.6 300.9l3.3 3.3-3.3 3.3-3.3-3.3zM395.7 303.1l3.3 3.3-3.3 3.3-3.3-3.3zM396.4 278.4l3.3 3.3-3.3 3.3-3.3-3.3zM396.4 326.6l3.3 3.3-3.3 3.3-3.3-3.3zM396.5 256.4l3.3 3.3-3.3 3.3-3.3-3.3zM396.5 311.5l3.3 3.3-3.3 3.3-3.3-3.3zM396.5 260.3l3.3 3.3-3.3 3.3-3.3-3.3zM396.5 318.3l3.3 3.3-3.3 3.3-3.3-3.3zM396.6 292.8l3.3 3.3-3.3 3.3-3.3-3.3zM396.6 286.0l3.3 3.3-3.3 3.3-3.3-3.3zM396.6 295.3l3.3 3.3-3.3 3.3-3.3-3.3zM396.8 455.2l3.3 3.3-3.3 3.3-3.3-3.3zM396.8 327.5l3.3 3.3-3.3 3.3-3.3-3.3zM396.9 336.4l3.3 3.3-3.3 3.3-3.3-3.3zM397.0 293.2l3.3 3.3-3.3 3.3-3.3-3.3zM397.1 340.7l3.3 3.3-3.3 3.3-3.3-3.3zM397.1 279.5l3.3 3.3-3.3 3.3-3.3-3.3zM397.1 329.0l3.3 3.3-3.3 3.3-3.3-3.3zM397.1 356.1l3.3 3.3-3.3 3.3-3.3-3.3zM397.4 308.8l3.3 3.3-3.3 3.3-3.3-3.3zM397.4 306.6l3.3 3.3-3.3 3.3-3.3-3.3zM397.5 290.3l3.3 3.3-3.3 3.3-3.3-3.3zM397.5 281.7l3.3 3.3-3.3 3.3-3.3-3.3zM397.6 290.6l3.3 3.3-3.3 3.3-3.3-3.3zM397.6 328.1l3.3 3.3-3.3 3.3-3.3-3.3zM397.6 291.2l3.3 3.3-3.3 3.3-3.3-3.3zM397.7 361.0l3.3 3.3-3.3 3.3-3.3-3.3zM397.8 344.6l3.3 3.3-3.3 3.3-3.3-3.3zM397.8 305.9l3.3 3.3-3.3 3.3-3.3-3.3zM397.8 269.2l3.3 3.3-3.3 3.3-3.3-3.3zM397.9 338.6l3.3 3.3-3.3 3.3-3.3-3.3zM398.0 277.9l3.3 3.3-3.3 3.3-3.3-3.3zM398.1 315.5l3.3 3.3-3.3 3.3-3.3-3.3zM398.1 323.4l3.3 3.3-3.3 3.3-3.3-3.3zM398.2 225.9l3.3 3.3-3.3 3.3-3.3-3.3zM398.3 349.1l3.3 3.3-3.3 3.3-3.3-3.3zM398.4 367.2l3.3 3.3-3.3 3.3-3.3-3.3zM398.4 337.1l3.3 3.3-3.3 3.3-3.3-3.3zM398.4 370.1l3.3 3.3-3.3 3.3-3.3-3.3zM398.5 410.7l3.3 3.3-3.3 3.3-3.3-3.3zM398.7 264.4l3.3 3.3-3.3 3.3-3.3-3.3zM398.8 300.3l3.3 3.3-3.3 3.3-3.3-3.3zM398.9 392.8l3.3 3.3-3.3 3.3-3.3-3.3zM398.9 297.0l3.3 3.3-3.3 3.3-3.3-3.3zM399.1 258.2l3.3 3.3-3.3 3.3-3.3-3.3zM399.1 315.8l3.3 3.3-3.3 3.3-3.3-3.3zM399.1 341.7l3.3 3.3-3.3 3.3-3.3-3.3zM399.1 324.5l3.3 3.3-3.3 3.3-3.3-3.3zM399.2 340.7l3.3 3.3-3.3 3.3-3.3-3.3zM399.2 307.7l3.3 3.3-3.3 3.3-3.3-3.3zM399.2 317.5l3.3 3.3-3.3 3.3-3.3-3.3zM399.3 339.4l3.3 3.3-3.3 3.3-3.3-3.3zM399.3 327.7l3.3 3.3-3.3 3.3-3.3-3.3zM399.5 273.3l3.3 3.3-3.3 3.3-3.3-3.3zM399.6 341.1l3.3 3.3-3.3 3.3-3.3-3.3zM399.7 321.2l3.3 3.3-3.3 3.3-3.3-3.3zM399.7 298.3l3.3 3.3-3.3 3.3-3.3-3.3zM399.7 312.0l3.3 3.3-3.3 3.3-3.3-3.3zM399.7 300.1l3.3 3.3-3.3 3.3-3.3-3.3zM399.7 344.4l3.3 3.3-3.3 3.3-3.3-3.3zM399.8 301.3l3.3 3.3-3.3 3.3-3.3-3.3zM399.8 282.7l3.3 3.3-3.3 3.3-3.3-3.3zM400.1 330.9l3.3 3.3-3.3 3.3-3.3-3.3zM400.1 288.2l3.3 3.3-3.3 3.3-3.3-3.3zM400.2 278.5l3.3 3.3-3.3 3.3-3.3-3.3zM400.2 362.6l3.3 3.3-3.3 3.3-3.3-3.3zM400.3 321.9l3.3 3.3-3.3 3.3-3.3-3.3zM400.6 279.9l3.3 3.3-3.3 3.3-3.3-3.3zM400.6 287.2l3.3 3.3-3.3 3.3-3.3-3.3zM400.6 296.1l3.3 3.3-3.3 3.3-3.3-3.3zM400.6 331.8l3.3 3.3-3.3 3.3-3.3-3.3zM400.7 315.8l3.3 3.3-3.3 3.3-3.3-3.3zM400.7 286.2l3.3 3.3-3.3 3.3-3.3-3.3zM400.7 306.1l3.3 3.3-3.3 3.3-3.3-3.3zM400.7 327.6l3.3 3.3-3.3 3.3-3.3-3.3zM400.8 299.0l3.3 3.3-3.3 3.3-3.3-3.3zM400.9 348.2l3.3 3.3-3.3 3.3-3.3-3.3zM401.0 308.8l3.3 3.3-3.3 3.3-3.3-3.3zM401.2 347.8l3.3 3.3-3.3 3.3-3.3-3.3zM401.2 311.5l3.3 3.3-3.3 3.3-3.3-3.3zM401.4 257.1l3.3 3.3-3.3 3.3-3.3-3.3zM401.5 484.7l3.3 3.3-3.3 3.3-3.3-3.3zM401.6 315.8l3.3 3.3-3.3 3.3-3.3-3.3zM401.6 335.3l3.3 3.3-3.3 3.3-3.3-3.3zM401.7 342.5l3.3 3.3-3.3 3.3-3.3-3.3zM401.7 325.7l3.3 3.3-3.3 3.3-3.3-3.3zM401.9 311.2l3.3 3.3-3.3 3.3-3.3-3.3zM401.9 297.5l3.3 3.3-3.3 3.3-3.3-3.3zM402.0 321.3l3.3 3.3-3.3 3.3-3.3-3.3zM402.1 292.4l3.3 3.3-3.3 3.3-3.3-3.3zM402.1 326.8l3.3 3.3-3.3 3.3-3.3-3.3zM402.2 334.1l3.3 3.3-3.3 3.3-3.3-3.3zM402.3 420.0l3.3 3.3-3.3 3.3-3.3-3.3zM402.3 301.7l3.3 3.3-3.3 3.3-3.3-3.3zM402.4 331.8l3.3 3.3-3.3 3.3-3.3-3.3zM402.4 304.8l3.3 3.3-3.3 3.3-3.3-3.3zM402.4 370.7l3.3 3.3-3.3 3.3-3.3-3.3zM402.5 293.7l3.3 3.3-3.3 3.3-3.3-3.3zM402.5 339.7l3.3 3.3-3.3 3.3-3.3-3.3zM402.6 301.8l3.3 3.3-3.3 3.3-3.3-3.3zM402.7 360.6l3.3 3.3-3.3 3.3-3.3-3.3zM402.7 307.7l3.3 3.3-3.3 3.3-3.3-3.3zM402.7 337.2l3.3 3.3-3.3 3.3-3.3-3.3zM402.8 298.1l3.3 3.3-3.3 3.3-3.3-3.3zM402.9 338.2l3.3 3.3-3.3 3.3-3.3-3.3zM403.0 362.1l3.3 3.3-3.3 3.3-3.3-3.3zM403.0 330.5l3.3 3.3-3.3 3.3-3.3-3.3zM403.2 325.1l3.3 3.3-3.3 3.3-3.3-3.3zM403.5 343.9l3.3 3.3-3.3 3.3-3.3-3.3zM403.6 301.3l3.3 3.3-3.3 3.3-3.3-3.3zM403.6 256.5l3.3 3.3-3.3 3.3-3.3-3.3zM403.7 318.4l3.3 3.3-3.3 3.3-3.3-3.3zM403.8 325.2l3.3 3.3-3.3 3.3-3.3-3.3zM403.9 302.4l3.3 3.3-3.3 3.3-3.3-3.3zM403.9 354.0l3.3 3.3-3.3 3.3-3.3-3.3zM404.0 290.1l3.3 3.3-3.3 3.3-3.3-3.3zM404.0 290.8l3.3 3.3-3.3 3.3-3.3-3.3zM404.1 310.3l3.3 3.3-3.3 3.3-3.3-3.3zM404.2 340.1l3.3 3.3-3.3 3.3-3.3-3.3zM404.2 320.2l3.3 3.3-3.3 3.3-3.3-3.3zM404.3 289.3l3.3 3.3-3.3 3.3-3.3-3.3zM404.3 316.3l3.3 3.3-3.3 3.3-3.3-3.3zM404.3 303.8l3.3 3.3-3.3 3.3-3.3-3.3zM404.5 277.6l3.3 3.3-3.3 3.3-3.3-3.3zM404.5 346.4l3.3 3.3-3.3 3.3-3.3-3.3zM404.6 312.5l3.3 3.3-3.3 3.3-3.3-3.3zM404.7 317.9l3.3 3.3-3.3 3.3-3.3-3.3zM404.9 274.7l3.3 3.3-3.3 3.3-3.3-3.3zM405.0 282.6l3.3 3.3-3.3 3.3-3.3-3.3zM405.0 264.3l3.3 3.3-3.3 3.3-3.3-3.3zM405.0 326.3l3.3 3.3-3.3 3.3-3.3-3.3zM405.1 296.1l3.3 3.3-3.3 3.3-3.3-3.3zM405.1 335.1l3.3 3.3-3.3 3.3-3.3-3.3zM405.2 389.0l3.3 3.3-3.3 3.3-3.3-3.3zM405.3 342.4l3.3 3.3-3.3 3.3-3.3-3.3zM405.3 285.4l3.3 3.3-3.3 3.3-3.3-3.3zM405.5 290.0l3.3 3.3-3.3 3.3-3.3-3.3zM405.5 342.1l3.3 3.3-3.3 3.3-3.3-3.3zM405.8 336.7l3.3 3.3-3.3 3.3-3.3-3.3zM406.0 316.6l3.3 3.3-3.3 3.3-3.3-3.3zM406.1 319.1l3.3 3.3-3.3 3.3-3.3-3.3zM406.2 311.5l3.3 3.3-3.3 3.3-3.3-3.3zM406.2 308.1l3.3 3.3-3.3 3.3-3.3-3.3zM406.3 319.9l3.3 3.3-3.3 3.3-3.3-3.3zM406.3 283.7l3.3 3.3-3.3 3.3-3.3-3.3zM406.4 298.3l3.3 3.3-3.3 3.3-3.3-3.3zM406.4 274.6l3.3 3.3-3.3 3.3-3.3-3.3zM406.5 326.5l3.3 3.3-3.3 3.3-3.3-3.3zM406.6 263.4l3.3 3.3-3.3 3.3-3.3-3.3zM406.6 375.0l3.3 3.3-3.3 3.3-3.3-3.3zM406.7 327.6l3.3 3.3-3.3 3.3-3.3-3.3zM406.7 326.4l3.3 3.3-3.3 3.3-3.3-3.3zM406.7 341.7l3.3 3.3-3.3 3.3-3.3-3.3zM406.7 322.6l3.3 3.3-3.3 3.3-3.3-3.3zM406.7 288.8l3.3 3.3-3.3 3.3-3.3-3.3zM406.8 285.0l3.3 3.3-3.3 3.3-3.3-3.3zM406.8 305.4l3.3 3.3-3.3 3.3-3.3-3.3zM407.0 291.2l3.3 3.3-3.3 3.3-3.3-3.3zM407.0 369.6l3.3 3.3-3.3 3.3-3.3-3.3zM407.0 365.5l3.3 3.3-3.3 3.3-3.3-3.3zM407.0 350.9l3.3 3.3-3.3 3.3-3.3-3.3zM407.1 332.1l3.3 3.3-3.3 3.3-3.3-3.3zM407.3 318.5l3.3 3.3-3.3 3.3-3.3-3.3zM407.3 296.7l3.3 3.3-3.3 3.3-3.3-3.3zM407.4 282.6l3.3 3.3-3.3 3.3-3.3-3.3zM407.4 327.8l3.3 3.3-3.3 3.3-3.3-3.3zM407.7 329.8l3.3 3.3-3.3 3.3-3.3-3.3zM408.0 307.4l3.3 3.3-3.3 3.3-3.3-3.3zM408.1 324.2l3.3 3.3-3.3 3.3-3.3-3.3zM408.1 291.2l3.3 3.3-3.3 3.3-3.3-3.3zM408.4 277.4l3.3 3.3-3.3 3.3-3.3-3.3zM408.4 353.7l3.3 3.3-3.3 3.3-3.3-3.3zM408.4 315.8l3.3 3.3-3.3 3.3-3.3-3.3zM408.5 529.5l3.3 3.3-3.3 3.3-3.3-3.3zM408.5 303.6l3.3 3.3-3.3 3.3-3.3-3.3zM408.5 330.1l3.3 3.3-3.3 3.3-3.3-3.3zM408.7 323.9l3.3 3.3-3.3 3.3-3.3-3.3zM408.7 313.5l3.3 3.3-3.3 3.3-3.3-3.3zM408.8 339.9l3.3 3.3-3.3 3.3-3.3-3.3zM408.8 288.7l3.3 3.3-3.3 3.3-3.3-3.3zM409.0 290.8l3.3 3.3-3.3 3.3-3.3-3.3zM409.1 297.6l3.3 3.3-3.3 3.3-3.3-3.3zM409.2 347.1l3.3 3.3-3.3 3.3-3.3-3.3zM409.4 301.7l3.3 3.3-3.3 3.3-3.3-3.3zM409.4 337.7l3.3 3.3-3.3 3.3-3.3-3.3zM409.5 279.9l3.3 3.3-3.3 3.3-3.3-3.3zM409.9 335.9l3.3 3.3-3.3 3.3-3.3-3.3zM409.9 285.2l3.3 3.3-3.3 3.3-3.3-3.3zM410.1 277.7l3.3 3.3-3.3 3.3-3.3-3.3zM410.4 342.4l3.3 3.3-3.3 3.3-3.3-3.3zM410.6 276.7l3.3 3.3-3.3 3.3-3.3-3.3zM410.6 330.2l3.3 3.3-3.3 3.3-3.3-3.3zM410.6 293.8l3.3 3.3-3.3 3.3-3.3-3.3zM410.7 262.2l3.3 3.3-3.3 3.3-3.3-3.3zM410.8 376.6l3.3 3.3-3.3 3.3-3.3-3.3zM411.0 286.6l3.3 3.3-3.3 3.3-3.3-3.3zM411.1 296.0l3.3 3.3-3.3 3.3-3.3-3.3zM411.2 320.9l3.3 3.3-3.3 3.3-3.3-3.3zM411.2 334.2l3.3 3.3-3.3 3.3-3.3-3.3zM411.2 296.8l3.3 3.3-3.3 3.3-3.3-3.3zM411.2 302.6l3.3 3.3-3.3 3.3-3.3-3.3zM411.2 185.4l3.3 3.3-3.3 3.3-3.3-3.3zM411.3 365.3l3.3 3.3-3.3 3.3-3.3-3.3zM411.3 342.4l3.3 3.3-3.3 3.3-3.3-3.3zM411.4 348.7l3.3 3.3-3.3 3.3-3.3-3.3zM411.5 315.5l3.3 3.3-3.3 3.3-3.3-3.3zM411.5 300.3l3.3 3.3-3.3 3.3-3.3-3.3zM411.5 327.3l3.3 3.3-3.3 3.3-3.3-3.3zM411.7 287.8l3.3 3.3-3.3 3.3-3.3-3.3zM411.7 317.3l3.3 3.3-3.3 3.3-3.3-3.3zM411.8 282.0l3.3 3.3-3.3 3.3-3.3-3.3zM411.8 337.2l3.3 3.3-3.3 3.3-3.3-3.3zM411.8 309.8l3.3 3.3-3.3 3.3-3.3-3.3zM411.9 299.0l3.3 3.3-3.3 3.3-3.3-3.3zM411.9 306.1l3.3 3.3-3.3 3.3-3.3-3.3zM411.9 293.8l3.3 3.3-3.3 3.3-3.3-3.3zM412.0 337.3l3.3 3.3-3.3 3.3-3.3-3.3zM412.4 339.6l3.3 3.3-3.3 3.3-3.3-3.3zM412.4 326.2l3.3 3.3-3.3 3.3-3.3-3.3zM412.5 324.3l3.3 3.3-3.3 3.3-3.3-3.3zM412.6 285.1l3.3 3.3-3.3 3.3-3.3-3.3zM412.9 262.4l3.3 3.3-3.3 3.3-3.3-3.3zM413.0 331.2l3.3 3.3-3.3 3.3-3.3-3.3zM413.0 325.3l3.3 3.3-3.3 3.3-3.3-3.3zM413.3 311.7l3.3 3.3-3.3 3.3-3.3-3.3zM413.4 379.0l3.3 3.3-3.3 3.3-3.3-3.3zM413.5 347.6l3.3 3.3-3.3 3.3-3.3-3.3zM413.6 332.1l3.3 3.3-3.3 3.3-3.3-3.3zM413.6 291.9l3.3 3.3-3.3 3.3-3.3-3.3zM413.7 344.4l3.3 3.3-3.3 3.3-3.3-3.3zM413.7 322.6l3.3 3.3-3.3 3.3-3.3-3.3zM413.8 213.4l3.3 3.3-3.3 3.3-3.3-3.3zM413.9 304.3l3.3 3.3-3.3 3.3-3.3-3.3zM413.9 268.0l3.3 3.3-3.3 3.3-3.3-3.3zM414.0 337.5l3.3 3.3-3.3 3.3-3.3-3.3zM414.0 221.9l3.3 3.3-3.3 3.3-3.3-3.3zM414.0 311.7l3.3 3.3-3.3 3.3-3.3-3.3zM414.2 307.1l3.3 3.3-3.3 3.3-3.3-3.3zM414.2 347.1l3.3 3.3-3.3 3.3-3.3-3.3zM414.2 347.7l3.3 3.3-3.3 3.3-3.3-3.3zM414.2 447.9l3.3 3.3-3.3 3.3-3.3-3.3zM414.4 342.1l3.3 3.3-3.3 3.3-3.3-3.3zM414.5 283.9l3.3 3.3-3.3 3.3-3.3-3.3zM414.5 379.5l3.3 3.3-3.3 3.3-3.3-3.3zM414.6 317.6l3.3 3.3-3.3 3.3-3.3-3.3zM414.7 341.2l3.3 3.3-3.3 3.3-3.3-3.3zM414.9 308.6l3.3 3.3-3.3 3.3-3.3-3.3zM414.9 355.7l3.3 3.3-3.3 3.3-3.3-3.3zM414.9 377.9l3.3 3.3-3.3 3.3-3.3-3.3zM415.0 330.9l3.3 3.3-3.3 3.3-3.3-3.3zM415.1 321.9l3.3 3.3-3.3 3.3-3.3-3.3zM415.3 296.3l3.3 3.3-3.3 3.3-3.3-3.3zM415.4 302.0l3.3 3.3-3.3 3.3-3.3-3.3zM415.4 280.5l3.3 3.3-3.3 3.3-3.3-3.3zM415.5 313.8l3.3 3.3-3.3 3.3-3.3-3.3zM415.6 299.6l3.3 3.3-3.3 3.3-3.3-3.3zM415.6 303.9l3.3 3.3-3.3 3.3-3.3-3.3zM415.6 321.7l3.3 3.3-3.3 3.3-3.3-3.3zM415.7 339.9l3.3 3.3-3.3 3.3-3.3-3.3zM415.7 290.8l3.3 3.3-3.3 3.3-3.3-3.3zM415.7 312.3l3.3 3.3-3.3 3.3-3.3-3.3zM415.8 313.6l3.3 3.3-3.3 3.3-3.3-3.3zM415.9 342.6l3.3 3.3-3.3 3.3-3.3-3.3zM415.9 354.6l3.3 3.3-3.3 3.3-3.3-3.3zM415.9 321.8l3.3 3.3-3.3 3.3-3.3-3.3zM416.0 318.3l3.3 3.3-3.3 3.3-3.3-3.3zM416.1 286.4l3.3 3.3-3.3 3.3-3.3-3.3zM416.2 345.9l3.3 3.3-3.3 3.3-3.3-3.3zM416.2 299.7l3.3 3.3-3.3 3.3-3.3-3.3zM416.2 239.7l3.3 3.3-3.3 3.3-3.3-3.3zM416.3 326.9l3.3 3.3-3.3 3.3-3.3-3.3zM416.4 291.3l3.3 3.3-3.3 3.3-3.3-3.3zM416.5 286.0l3.3 3.3-3.3 3.3-3.3-3.3zM416.5 328.7l3.3 3.3-3.3 3.3-3.3-3.3zM416.6 334.3l3.3 3.3-3.3 3.3-3.3-3.3zM416.6 335.8l3.3 3.3-3.3 3.3-3.3-3.3zM416.7 332.5l3.3 3.3-3.3 3.3-3.3-3.3zM416.8 333.1l3.3 3.3-3.3 3.3-3.3-3.3zM416.8 314.1l3.3 3.3-3.3 3.3-3.3-3.3zM416.9 298.1l3.3 3.3-3.3 3.3-3.3-3.3zM416.9 291.7l3.3 3.3-3.3 3.3-3.3-3.3zM417.0 213.9l3.3 3.3-3.3 3.3-3.3-3.3zM417.1 272.2l3.3 3.3-3.3 3.3-3.3-3.3zM417.3 331.3l3.3 3.3-3.3 3.3-3.3-3.3zM417.3 323.8l3.3 3.3-3.3 3.3-3.3-3.3zM417.3 295.9l3.3 3.3-3.3 3.3-3.3-3.3zM417.3 356.8l3.3 3.3-3.3 3.3-3.3-3.3zM417.6 298.4l3.3 3.3-3.3 3.3-3.3-3.3zM417.8 308.2l3.3 3.3-3.3 3.3-3.3-3.3zM417.9 348.6l3.3 3.3-3.3 3.3-3.3-3.3zM418.0 377.6l3.3 3.3-3.3 3.3-3.3-3.3zM418.0 350.4l3.3 3.3-3.3 3.3-3.3-3.3zM418.1 359.4l3.3 3.3-3.3 3.3-3.3-3.3zM418.1 341.6l3.3 3.3-3.3 3.3-3.3-3.3zM418.2 324.9l3.3 3.3-3.3 3.3-3.3-3.3zM418.2 340.3l3.3 3.3-3.3 3.3-3.3-3.3zM418.3 333.4l3.3 3.3-3.3 3.3-3.3-3.3zM418.3 279.1l3.3 3.3-3.3 3.3-3.3-3.3zM418.3 286.8l3.3 3.3-3.3 3.3-3.3-3.3zM418.4 303.9l3.3 3.3-3.3 3.3-3.3-3.3zM418.4 284.3l3.3 3.3-3.3 3.3-3.3-3.3zM418.5 312.9l3.3 3.3-3.3 3.3-3.3-3.3zM418.5 277.2l3.3 3.3-3.3 3.3-3.3-3.3zM418.6 302.6l3.3 3.3-3.3 3.3-3.3-3.3zM418.6 330.9l3.3 3.3-3.3 3.3-3.3-3.3zM418.6 325.3l3.3 3.3-3.3 3.3-3.3-3.3zM418.7 321.1l3.3 3.3-3.3 3.3-3.3-3.3zM418.8 273.7l3.3 3.3-3.3 3.3-3.3-3.3zM418.8 329.6l3.3 3.3-3.3 3.3-3.3-3.3zM418.8 336.8l3.3 3.3-3.3 3.3-3.3-3.3zM418.9 326.6l3.3 3.3-3.3 3.3-3.3-3.3zM418.9 310.5l3.3 3.3-3.3 3.3-3.3-3.3zM419.4 303.3l3.3 3.3-3.3 3.3-3.3-3.3zM419.4 309.5l3.3 3.3-3.3 3.3-3.3-3.3zM419.5 317.4l3.3 3.3-3.3 3.3-3.3-3.3zM419.5 341.9l3.3 3.3-3.3 3.3-3.3-3.3zM419.8 309.6l3.3 3.3-3.3 3.3-3.3-3.3zM419.9 325.5l3.3 3.3-3.3 3.3-3.3-3.3zM420.0 312.2l3.3 3.3-3.3 3.3-3.3-3.3zM420.0 281.3l3.3 3.3-3.3 3.3-3.3-3.3zM420.0 349.7l3.3 3.3-3.3 3.3-3.3-3.3zM420.3 344.1l3.3 3.3-3.3 3.3-3.3-3.3zM420.3 348.5l3.3 3.3-3.3 3.3-3.3-3.3zM420.4 278.9l3.3 3.3-3.3 3.3-3.3-3.3zM420.4 299.8l3.3 3.3-3.3 3.3-3.3-3.3zM420.5 339.1l3.3 3.3-3.3 3.3-3.3-3.3zM420.8 325.0l3.3 3.3-3.3 3.3-3.3-3.3zM420.9 283.8l3.3 3.3-3.3 3.3-3.3-3.3zM421.0 371.9l3.3 3.3-3.3 3.3-3.3-3.3zM421.0 318.9l3.3 3.3-3.3 3.3-3.3-3.3zM421.0 305.5l3.3 3.3-3.3 3.3-3.3-3.3zM421.1 340.1l3.3 3.3-3.3 3.3-3.3-3.3zM421.4 287.3l3.3 3.3-3.3 3.3-3.3-3.3zM421.4 335.5l3.3 3.3-3.3 3.3-3.3-3.3zM421.6 325.0l3.3 3.3-3.3 3.3-3.3-3.3zM421.7 294.3l3.3 3.3-3.3 3.3-3.3-3.3zM421.7 325.1l3.3 3.3-3.3 3.3-3.3-3.3zM421.8 280.9l3.3 3.3-3.3 3.3-3.3-3.3zM421.9 340.9l3.3 3.3-3.3 3.3-3.3-3.3zM421.9 337.9l3.3 3.3-3.3 3.3-3.3-3.3zM422.0 279.1l3.3 3.3-3.3 3.3-3.3-3.3zM422.2 295.6l3.3 3.3-3.3 3.3-3.3-3.3zM422.2 334.4l3.3 3.3-3.3 3.3-3.3-3.3zM422.4 327.9l3.3 3.3-3.3 3.3-3.3-3.3zM422.4 270.4l3.3 3.3-3.3 3.3-3.3-3.3zM422.4 325.4l3.3 3.3-3.3 3.3-3.3-3.3zM422.6 293.5l3.3 3.3-3.3 3.3-3.3-3.3zM422.7 348.3l3.3 3.3-3.3 3.3-3.3-3.3zM422.7 269.8l3.3 3.3-3.3 3.3-3.3-3.3zM422.7 382.4l3.3 3.3-3.3 3.3-3.3-3.3zM422.8 278.2l3.3 3.3-3.3 3.3-3.3-3.3zM422.9 317.7l3.3 3.3-3.3 3.3-3.3-3.3zM423.0 306.3l3.3 3.3-3.3 3.3-3.3-3.3zM423.0 302.0l3.3 3.3-3.3 3.3-3.3-3.3zM423.0 315.8l3.3 3.3-3.3 3.3-3.3-3.3zM423.0 292.5l3.3 3.3-3.3 3.3-3.3-3.3zM423.1 278.3l3.3 3.3-3.3 3.3-3.3-3.3zM423.1 285.6l3.3 3.3-3.3 3.3-3.3-3.3zM423.4 290.0l3.3 3.3-3.3 3.3-3.3-3.3zM423.4 309.8l3.3 3.3-3.3 3.3-3.3-3.3zM423.6 323.3l3.3 3.3-3.3 3.3-3.3-3.3zM423.8 297.4l3.3 3.3-3.3 3.3-3.3-3.3zM423.8 324.0l3.3 3.3-3.3 3.3-3.3-3.3zM423.9 313.8l3.3 3.3-3.3 3.3-3.3-3.3zM424.0 283.0l3.3 3.3-3.3 3.3-3.3-3.3zM424.0 329.2l3.3 3.3-3.3 3.3-3.3-3.3zM424.1 359.9l3.3 3.3-3.3 3.3-3.3-3.3zM424.1 291.6l3.3 3.3-3.3 3.3-3.3-3.3zM424.2 281.2l3.3 3.3-3.3 3.3-3.3-3.3zM424.2 321.5l3.3 3.3-3.3 3.3-3.3-3.3zM424.2 318.5l3.3 3.3-3.3 3.3-3.3-3.3zM424.3 366.2l3.3 3.3-3.3 3.3-3.3-3.3zM424.5 316.1l3.3 3.3-3.3 3.3-3.3-3.3zM424.7 332.6l3.3 3.3-3.3 3.3-3.3-3.3zM424.9 296.5l3.3 3.3-3.3 3.3-3.3-3.3zM424.9 355.0l3.3 3.3-3.3 3.3-3.3-3.3zM425.1 296.0l3.3 3.3-3.3 3.3-3.3-3.3zM425.1 295.0l3.3 3.3-3.3 3.3-3.3-3.3zM425.3 304.4l3.3 3.3-3.3 3.3-3.3-3.3zM425.3 361.1l3.3 3.3-3.3 3.3-3.3-3.3zM425.3 313.8l3.3 3.3-3.3 3.3-3.3-3.3zM425.4 281.6l3.3 3.3-3.3 3.3-3.3-3.3zM425.4 308.9l3.3 3.3-3.3 3.3-3.3-3.3zM425.5 209.2l3.3 3.3-3.3 3.3-3.3-3.3zM425.5 293.7l3.3 3.3-3.3 3.3-3.3-3.3zM425.6 337.6l3.3 3.3-3.3 3.3-3.3-3.3zM425.6 287.0l3.3 3.3-3.3 3.3-3.3-3.3zM425.6 338.5l3.3 3.3-3.3 3.3-3.3-3.3zM425.7 411.2l3.3 3.3-3.3 3.3-3.3-3.3zM425.7 341.1l3.3 3.3-3.3 3.3-3.3-3.3zM425.8 327.2l3.3 3.3-3.3 3.3-3.3-3.3zM426.0 515.2l3.3 3.3-3.3 3.3-3.3-3.3zM426.0 336.3l3.3 3.3-3.3 3.3-3.3-3.3zM426.1 329.7l3.3 3.3-3.3 3.3-3.3-3.3zM426.1 329.5l3.3 3.3-3.3 3.3-3.3-3.3zM426.1 321.7l3.3 3.3-3.3 3.3-3.3-3.3zM426.2 363.0l3.3 3.3-3.3 3.3-3.3-3.3zM426.2 302.0l3.3 3.3-3.3 3.3-3.3-3.3zM426.4 299.3l3.3 3.3-3.3 3.3-3.3-3.3zM426.4 334.5l3.3 3.3-3.3 3.3-3.3-3.3zM426.5 365.3l3.3 3.3-3.3 3.3-3.3-3.3zM426.6 283.4l3.3 3.3-3.3 3.3-3.3-3.3zM426.6 317.0l3.3 3.3-3.3 3.3-3.3-3.3zM426.7 267.6l3.3 3.3-3.3 3.3-3.3-3.3zM426.7 331.3l3.3 3.3-3.3 3.3-3.3-3.3zM426.7 305.7l3.3 3.3-3.3 3.3-3.3-3.3zM426.9 310.7l3.3 3.3-3.3 3.3-3.3-3.3zM427.1 319.6l3.3 3.3-3.3 3.3-3.3-3.3zM427.2 287.4l3.3 3.3-3.3 3.3-3.3-3.3zM427.2 325.0l3.3 3.3-3.3 3.3-3.3-3.3zM427.5 360.0l3.3 3.3-3.3 3.3-3.3-3.3zM427.6 333.6l3.3 3.3-3.3 3.3-3.3-3.3zM427.7 333.0l3.3 3.3-3.3 3.3-3.3-3.3zM428.1 309.1l3.3 3.3-3.3 3.3-3.3-3.3zM428.3 306.6l3.3 3.3-3.3 3.3-3.3-3.3zM428.3 301.2l3.3 3.3-3.3 3.3-3.3-3.3zM428.4 342.2l3.3 3.3-3.3 3.3-3.3-3.3zM428.4 269.0l3.3 3.3-3.3 3.3-3.3-3.3zM428.4 303.8l3.3 3.3-3.3 3.3-3.3-3.3zM428.5 344.9l3.3 3.3-3.3 3.3-3.3-3.3zM428.5 295.7l3.3 3.3-3.3 3.3-3.3-3.3zM428.6 301.0l3.3 3.3-3.3 3.3-3.3-3.3zM428.7 322.0l3.3 3.3-3.3 3.3-3.3-3.3zM428.7 320.9l3.3 3.3-3.3 3.3-3.3-3.3zM428.8 352.1l3.3 3.3-3.3 3.3-3.3-3.3zM428.9 338.0l3.3 3.3-3.3 3.3-3.3-3.3zM428.9 277.7l3.3 3.3-3.3 3.3-3.3-3.3zM428.9 295.5l3.3 3.3-3.3 3.3-3.3-3.3zM429.1 266.1l3.3 3.3-3.3 3.3-3.3-3.3zM429.2 334.3l3.3 3.3-3.3 3.3-3.3-3.3zM429.2 355.5l3.3 3.3-3.3 3.3-3.3-3.3zM429.3 340.9l3.3 3.3-3.3 3.3-3.3-3.3zM429.3 317.2l3.3 3.3-3.3 3.3-3.3-3.3zM429.4 338.7l3.3 3.3-3.3 3.3-3.3-3.3zM429.4 292.2l3.3 3.3-3.3 3.3-3.3-3.3zM429.4 297.1l3.3 3.3-3.3 3.3-3.3-3.3zM429.5 309.7l3.3 3.3-3.3 3.3-3.3-3.3zM429.7 318.9l3.3 3.3-3.3 3.3-3.3-3.3zM429.7 279.5l3.3 3.3-3.3 3.3-3.3-3.3zM429.9 320.8l3.3 3.3-3.3 3.3-3.3-3.3zM429.9 355.8l3.3 3.3-3.3 3.3-3.3-3.3zM429.9 325.1l3.3 3.3-3.3 3.3-3.3-3.3zM429.9 277.9l3.3 3.3-3.3 3.3-3.3-3.3zM430.0 289.0l3.3 3.3-3.3 3.3-3.3-3.3zM430.0 300.2l3.3 3.3-3.3 3.3-3.3-3.3zM430.0 455.9l3.3 3.3-3.3 3.3-3.3-3.3zM430.0 314.0l3.3 3.3-3.3 3.3-3.3-3.3zM430.2 288.0l3.3 3.3-3.3 3.3-3.3-3.3zM430.4 341.1l3.3 3.3-3.3 3.3-3.3-3.3zM430.5 334.2l3.3 3.3-3.3 3.3-3.3-3.3zM430.5 290.6l3.3 3.3-3.3 3.3-3.3-3.3zM430.6 286.0l3.3 3.3-3.3 3.3-3.3-3.3zM430.7 404.5l3.3 3.3-3.3 3.3-3.3-3.3zM430.7 358.2l3.3 3.3-3.3 3.3-3.3-3.3zM430.7 307.6l3.3 3.3-3.3 3.3-3.3-3.3zM430.7 275.8l3.3 3.3-3.3 3.3-3.3-3.3zM430.8 295.1l3.3 3.3-3.3 3.3-3.3-3.3zM430.8 333.3l3.3 3.3-3.3 3.3-3.3-3.3zM430.9 338.0l3.3 3.3-3.3 3.3-3.3-3.3zM430.9 327.2l3.3 3.3-3.3 3.3-3.3-3.3zM431.0 343.5l3.3 3.3-3.3 3.3-3.3-3.3zM431.1 323.2l3.3 3.3-3.3 3.3-3.3-3.3zM431.1 327.2l3.3 3.3-3.3 3.3-3.3-3.3zM431.2 312.5l3.3 3.3-3.3 3.3-3.3-3.3zM431.4 294.8l3.3 3.3-3.3 3.3-3.3-3.3zM431.4 304.6l3.3 3.3-3.3 3.3-3.3-3.3zM431.4 316.7l3.3 3.3-3.3 3.3-3.3-3.3zM431.6 296.7l3.3 3.3-3.3 3.3-3.3-3.3zM431.7 269.9l3.3 3.3-3.3 3.3-3.3-3.3zM432.0 333.8l3.3 3.3-3.3 3.3-3.3-3.3zM432.1 304.9l3.3 3.3-3.3 3.3-3.3-3.3zM432.2 318.1l3.3 3.3-3.3 3.3-3.3-3.3zM432.2 337.3l3.3 3.3-3.3 3.3-3.3-3.3zM432.3 370.3l3.3 3.3-3.3 3.3-3.3-3.3zM432.3 333.1l3.3 3.3-3.3 3.3-3.3-3.3zM432.3 312.0l3.3 3.3-3.3 3.3-3.3-3.3zM432.5 289.6l3.3 3.3-3.3 3.3-3.3-3.3zM432.6 263.2l3.3 3.3-3.3 3.3-3.3-3.3zM432.6 341.0l3.3 3.3-3.3 3.3-3.3-3.3zM432.6 284.9l3.3 3.3-3.3 3.3-3.3-3.3zM432.6 288.1l3.3 3.3-3.3 3.3-3.3-3.3zM432.6 300.6l3.3 3.3-3.3 3.3-3.3-3.3zM432.7 309.4l3.3 3.3-3.3 3.3-3.3-3.3zM432.8 419.4l3.3 3.3-3.3 3.3-3.3-3.3zM432.8 278.1l3.3 3.3-3.3 3.3-3.3-3.3zM433.0 259.9l3.3 3.3-3.3 3.3-3.3-3.3zM433.1 270.6l3.3 3.3-3.3 3.3-3.3-3.3zM433.3 296.6l3.3 3.3-3.3 3.3-3.3-3.3zM433.3 347.3l3.3 3.3-3.3 3.3-3.3-3.3zM433.4 305.9l3.3 3.3-3.3 3.3-3.3-3.3zM433.4 351.4l3.3 3.3-3.3 3.3-3.3-3.3zM433.6 255.9l3.3 3.3-3.3 3.3-3.3-3.3zM433.6 324.6l3.3 3.3-3.3 3.3-3.3-3.3zM433.6 292.4l3.3 3.3-3.3 3.3-3.3-3.3zM433.9 336.6l3.3 3.3-3.3 3.3-3.3-3.3zM433.9 281.3l3.3 3.3-3.3 3.3-3.3-3.3zM433.9 306.7l3.3 3.3-3.3 3.3-3.3-3.3zM434.0 228.2l3.3 3.3-3.3 3.3-3.3-3.3zM434.0 233.4l3.3 3.3-3.3 3.3-3.3-3.3zM434.0 483.2l3.3 3.3-3.3 3.3-3.3-3.3zM434.0 347.6l3.3 3.3-3.3 3.3-3.3-3.3zM434.2 330.1l3.3 3.3-3.3 3.3-3.3-3.3zM434.2 320.5l3.3 3.3-3.3 3.3-3.3-3.3zM434.2 278.3l3.3 3.3-3.3 3.3-3.3-3.3zM434.3 305.6l3.3 3.3-3.3 3.3-3.3-3.3zM434.3 302.4l3.3 3.3-3.3 3.3-3.3-3.3zM434.4 332.5l3.3 3.3-3.3 3.3-3.3-3.3zM434.4 337.4l3.3 3.3-3.3 3.3-3.3-3.3zM434.6 291.2l3.3 3.3-3.3 3.3-3.3-3.3zM434.7 282.1l3.3 3.3-3.3 3.3-3.3-3.3zM434.7 303.8l3.3 3.3-3.3 3.3-3.3-3.3zM434.8 341.7l3.3 3.3-3.3 3.3-3.3-3.3zM434.8 326.8l3.3 3.3-3.3 3.3-3.3-3.3zM434.8 296.0l3.3 3.3-3.3 3.3-3.3-3.3zM434.8 278.3l3.3 3.3-3.3 3.3-3.3-3.3zM435.0 420.4l3.3 3.3-3.3 3.3-3.3-3.3zM435.0 349.4l3.3 3.3-3.3 3.3-3.3-3.3zM435.1 284.5l3.3 3.3-3.3 3.3-3.3-3.3zM435.1 364.6l3.3 3.3-3.3 3.3-3.3-3.3zM435.2 281.3l3.3 3.3-3.3 3.3-3.3-3.3zM435.3 307.8l3.3 3.3-3.3 3.3-3.3-3.3zM435.4 326.2l3.3 3.3-3.3 3.3-3.3-3.3zM435.4 315.1l3.3 3.3-3.3 3.3-3.3-3.3zM435.5 319.5l3.3 3.3-3.3 3.3-3.3-3.3zM435.6 294.1l3.3 3.3-3.3 3.3-3.3-3.3zM435.7 333.9l3.3 3.3-3.3 3.3-3.3-3.3zM435.8 275.5l3.3 3.3-3.3 3.3-3.3-3.3zM435.8 368.2l3.3 3.3-3.3 3.3-3.3-3.3zM435.8 357.5l3.3 3.3-3.3 3.3-3.3-3.3zM436.0 253.5l3.3 3.3-3.3 3.3-3.3-3.3zM436.1 278.3l3.3 3.3-3.3 3.3-3.3-3.3zM436.2 317.5l3.3 3.3-3.3 3.3-3.3-3.3zM436.3 338.6l3.3 3.3-3.3 3.3-3.3-3.3zM436.4 294.2l3.3 3.3-3.3 3.3-3.3-3.3zM436.4 324.4l3.3 3.3-3.3 3.3-3.3-3.3zM436.5 274.6l3.3 3.3-3.3 3.3-3.3-3.3zM436.5 239.4l3.3 3.3-3.3 3.3-3.3-3.3zM437.0 285.9l3.3 3.3-3.3 3.3-3.3-3.3zM437.1 273.2l3.3 3.3-3.3 3.3-3.3-3.3zM437.1 390.0l3.3 3.3-3.3 3.3-3.3-3.3zM437.1 335.0l3.3 3.3-3.3 3.3-3.3-3.3zM437.1 311.4l3.3 3.3-3.3 3.3-3.3-3.3zM437.3 343.5l3.3 3.3-3.3 3.3-3.3-3.3zM437.3 270.4l3.3 3.3-3.3 3.3-3.3-3.3zM437.4 303.6l3.3 3.3-3.3 3.3-3.3-3.3zM437.5 310.5l3.3 3.3-3.3 3.3-3.3-3.3zM437.6 290.9l3.3 3.3-3.3 3.3-3.3-3.3zM437.6 339.0l3.3 3.3-3.3 3.3-3.3-3.3zM437.7 322.8l3.3 3.3-3.3 3.3-3.3-3.3zM437.7 285.9l3.3 3.3-3.3 3.3-3.3-3.3zM437.8 299.0l3.3 3.3-3.3 3.3-3.3-3.3zM437.8 283.7l3.3 3.3-3.3 3.3-3.3-3.3zM438.0 328.6l3.3 3.3-3.3 3.3-3.3-3.3zM438.1 306.5l3.3 3.3-3.3 3.3-3.3-3.3zM438.3 286.7l3.3 3.3-3.3 3.3-3.3-3.3zM438.5 260.2l3.3 3.3-3.3 3.3-3.3-3.3zM438.6 276.8l3.3 3.3-3.3 3.3-3.3-3.3zM438.6 356.0l3.3 3.3-3.3 3.3-3.3-3.3zM438.9 332.5l3.3 3.3-3.3 3.3-3.3-3.3zM439.0 316.3l3.3 3.3-3.3 3.3-3.3-3.3zM439.0 297.5l3.3 3.3-3.3 3.3-3.3-3.3zM439.0 304.1l3.3 3.3-3.3 3.3-3.3-3.3zM439.1 320.1l3.3 3.3-3.3 3.3-3.3-3.3zM439.1 260.8l3.3 3.3-3.3 3.3-3.3-3.3zM439.1 274.1l3.3 3.3-3.3 3.3-3.3-3.3zM439.2 334.6l3.3 3.3-3.3 3.3-3.3-3.3zM439.2 298.2l3.3 3.3-3.3 3.3-3.3-3.3zM439.3 275.5l3.3 3.3-3.3 3.3-3.3-3.3zM439.3 325.8l3.3 3.3-3.3 3.3-3.3-3.3zM439.3 314.0l3.3 3.3-3.3 3.3-3.3-3.3zM439.3 292.8l3.3 3.3-3.3 3.3-3.3-3.3zM439.5 340.4l3.3 3.3-3.3 3.3-3.3-3.3zM439.6 310.4l3.3 3.3-3.3 3.3-3.3-3.3zM439.6 336.0l3.3 3.3-3.3 3.3-3.3-3.3zM439.6 255.7l3.3 3.3-3.3 3.3-3.3-3.3zM439.7 347.5l3.3 3.3-3.3 3.3-3.3-3.3zM439.8 326.0l3.3 3.3-3.3 3.3-3.3-3.3zM439.8 271.0l3.3 3.3-3.3 3.3-3.3-3.3zM439.8 298.8l3.3 3.3-3.3 3.3-3.3-3.3zM439.9 321.4l3.3 3.3-3.3 3.3-3.3-3.3zM440.0 518.0l3.3 3.3-3.3 3.3-3.3-3.3zM440.2 300.9l3.3 3.3-3.3 3.3-3.3-3.3zM440.3 296.0l3.3 3.3-3.3 3.3-3.3-3.3zM440.6 292.9l3.3 3.3-3.3 3.3-3.3-3.3zM440.7 321.4l3.3 3.3-3.3 3.3-3.3-3.3zM440.7 267.1l3.3 3.3-3.3 3.3-3.3-3.3zM440.8 318.0l3.3 3.3-3.3 3.3-3.3-3.3zM440.9 273.4l3.3 3.3-3.3 3.3-3.3-3.3zM441.0 406.6l3.3 3.3-3.3 3.3-3.3-3.3zM441.1 292.2l3.3 3.3-3.3 3.3-3.3-3.3zM441.2 304.5l3.3 3.3-3.3 3.3-3.3-3.3zM441.2 388.0l3.3 3.3-3.3 3.3-3.3-3.3zM441.2 300.7l3.3 3.3-3.3 3.3-3.3-3.3zM441.3 339.5l3.3 3.3-3.3 3.3-3.3-3.3zM441.4 276.9l3.3 3.3-3.3 3.3-3.3-3.3zM441.4 313.4l3.3 3.3-3.3 3.3-3.3-3.3zM441.5 285.6l3.3 3.3-3.3 3.3-3.3-3.3zM441.5 270.6l3.3 3.3-3.3 3.3-3.3-3.3zM441.5 294.5l3.3 3.3-3.3 3.3-3.3-3.3zM441.5 302.5l3.3 3.3-3.3 3.3-3.3-3.3zM442.0 308.7l3.3 3.3-3.3 3.3-3.3-3.3zM442.0 333.3l3.3 3.3-3.3 3.3-3.3-3.3zM442.0 295.9l3.3 3.3-3.3 3.3-3.3-3.3zM442.0 328.4l3.3 3.3-3.3 3.3-3.3-3.3zM442.1 321.4l3.3 3.3-3.3 3.3-3.3-3.3zM442.1 263.9l3.3 3.3-3.3 3.3-3.3-3.3zM442.2 399.0l3.3 3.3-3.3 3.3-3.3-3.3zM442.2 301.5l3.3 3.3-3.3 3.3-3.3-3.3zM442.2 303.9l3.3 3.3-3.3 3.3-3.3-3.3zM442.3 330.0l3.3 3.3-3.3 3.3-3.3-3.3zM442.3 286.7l3.3 3.3-3.3 3.3-3.3-3.3zM442.4 320.7l3.3 3.3-3.3 3.3-3.3-3.3zM442.6 334.4l3.3 3.3-3.3 3.3-3.3-3.3zM442.8 313.2l3.3 3.3-3.3 3.3-3.3-3.3zM442.8 333.4l3.3 3.3-3.3 3.3-3.3-3.3zM442.9 346.6l3.3 3.3-3.3 3.3-3.3-3.3zM442.9 324.6l3.3 3.3-3.3 3.3-3.3-3.3zM443.2 322.4l3.3 3.3-3.3 3.3-3.3-3.3zM443.3 339.0l3.3 3.3-3.3 3.3-3.3-3.3zM443.3 345.0l3.3 3.3-3.3 3.3-3.3-3.3zM443.4 314.2l3.3 3.3-3.3 3.3-3.3-3.3zM443.5 289.1l3.3 3.3-3.3 3.3-3.3-3.3zM443.8 241.2l3.3 3.3-3.3 3.3-3.3-3.3zM443.8 470.4l3.3 3.3-3.3 3.3-3.3-3.3zM443.8 325.7l3.3 3.3-3.3 3.3-3.3-3.3zM443.9 354.5l3.3 3.3-3.3 3.3-3.3-3.3zM443.9 329.7l3.3 3.3-3.3 3.3-3.3-3.3zM443.9 302.7l3.3 3.3-3.3 3.3-3.3-3.3zM444.1 301.4l3.3 3.3-3.3 3.3-3.3-3.3zM444.2 444.9l3.3 3.3-3.3 3.3-3.3-3.3zM444.5 307.5l3.3 3.3-3.3 3.3-3.3-3.3zM444.5 315.8l3.3 3.3-3.3 3.3-3.3-3.3zM444.6 303.3l3.3 3.3-3.3 3.3-3.3-3.3zM444.7 286.7l3.3 3.3-3.3 3.3-3.3-3.3zM444.9 335.6l3.3 3.3-3.3 3.3-3.3-3.3zM445.1 312.3l3.3 3.3-3.3 3.3-3.3-3.3zM445.5 289.1l3.3 3.3-3.3 3.3-3.3-3.3zM445.5 341.9l3.3 3.3-3.3 3.3-3.3-3.3zM445.6 294.1l3.3 3.3-3.3 3.3-3.3-3.3zM445.7 274.7l3.3 3.3-3.3 3.3-3.3-3.3zM445.7 309.1l3.3 3.3-3.3 3.3-3.3-3.3zM445.8 317.9l3.3 3.3-3.3 3.3-3.3-3.3zM445.9 344.3l3.3 3.3-3.3 3.3-3.3-3.3zM445.9 349.8l3.3 3.3-3.3 3.3-3.3-3.3zM446.2 296.3l3.3 3.3-3.3 3.3-3.3-3.3zM446.5 277.5l3.3 3.3-3.3 3.3-3.3-3.3zM446.6 259.5l3.3 3.3-3.3 3.3-3.3-3.3zM446.6 298.8l3.3 3.3-3.3 3.3-3.3-3.3zM446.8 344.2l3.3 3.3-3.3 3.3-3.3-3.3zM447.1 329.1l3.3 3.3-3.3 3.3-3.3-3.3zM447.1 335.2l3.3 3.3-3.3 3.3-3.3-3.3zM447.1 340.0l3.3 3.3-3.3 3.3-3.3-3.3zM447.2 321.7l3.3 3.3-3.3 3.3-3.3-3.3zM447.2 333.2l3.3 3.3-3.3 3.3-3.3-3.3zM447.3 306.3l3.3 3.3-3.3 3.3-3.3-3.3zM447.6 321.5l3.3 3.3-3.3 3.3-3.3-3.3zM447.6 311.5l3.3 3.3-3.3 3.3-3.3-3.3zM447.8 318.0l3.3 3.3-3.3 3.3-3.3-3.3zM447.9 285.0l3.3 3.3-3.3 3.3-3.3-3.3zM448.1 314.7l3.3 3.3-3.3 3.3-3.3-3.3zM448.2 297.6l3.3 3.3-3.3 3.3-3.3-3.3zM448.2 316.6l3.3 3.3-3.3 3.3-3.3-3.3zM448.3 355.4l3.3 3.3-3.3 3.3-3.3-3.3zM448.3 330.5l3.3 3.3-3.3 3.3-3.3-3.3zM448.3 324.5l3.3 3.3-3.3 3.3-3.3-3.3zM448.4 330.9l3.3 3.3-3.3 3.3-3.3-3.3zM448.4 287.3l3.3 3.3-3.3 3.3-3.3-3.3zM448.4 284.0l3.3 3.3-3.3 3.3-3.3-3.3zM448.5 300.8l3.3 3.3-3.3 3.3-3.3-3.3zM448.6 274.8l3.3 3.3-3.3 3.3-3.3-3.3zM448.7 280.9l3.3 3.3-3.3 3.3-3.3-3.3zM448.8 437.4l3.3 3.3-3.3 3.3-3.3-3.3zM448.9 326.9l3.3 3.3-3.3 3.3-3.3-3.3zM449.0 292.1l3.3 3.3-3.3 3.3-3.3-3.3zM449.0 279.0l3.3 3.3-3.3 3.3-3.3-3.3zM449.0 225.7l3.3 3.3-3.3 3.3-3.3-3.3zM449.1 267.4l3.3 3.3-3.3 3.3-3.3-3.3zM449.2 278.8l3.3 3.3-3.3 3.3-3.3-3.3zM449.3 308.5l3.3 3.3-3.3 3.3-3.3-3.3zM449.4 324.8l3.3 3.3-3.3 3.3-3.3-3.3zM449.4 352.9l3.3 3.3-3.3 3.3-3.3-3.3zM449.6 301.9l3.3 3.3-3.3 3.3-3.3-3.3zM449.7 300.2l3.3 3.3-3.3 3.3-3.3-3.3zM449.7 321.7l3.3 3.3-3.3 3.3-3.3-3.3zM449.8 328.3l3.3 3.3-3.3 3.3-3.3-3.3zM449.8 286.7l3.3 3.3-3.3 3.3-3.3-3.3zM449.9 338.0l3.3 3.3-3.3 3.3-3.3-3.3zM449.9 369.6l3.3 3.3-3.3 3.3-3.3-3.3zM450.1 267.3l3.3 3.3-3.3 3.3-3.3-3.3zM450.2 364.4l3.3 3.3-3.3 3.3-3.3-3.3zM450.3 335.7l3.3 3.3-3.3 3.3-3.3-3.3zM450.3 320.2l3.3 3.3-3.3 3.3-3.3-3.3zM450.4 322.2l3.3 3.3-3.3 3.3-3.3-3.3zM450.5 297.7l3.3 3.3-3.3 3.3-3.3-3.3zM450.5 266.9l3.3 3.3-3.3 3.3-3.3-3.3zM450.5 340.6l3.3 3.3-3.3 3.3-3.3-3.3zM450.6 277.2l3.3 3.3-3.3 3.3-3.3-3.3zM451.1 305.3l3.3 3.3-3.3 3.3-3.3-3.3zM451.1 314.6l3.3 3.3-3.3 3.3-3.3-3.3zM451.3 344.9l3.3 3.3-3.3 3.3-3.3-3.3zM451.4 296.5l3.3 3.3-3.3 3.3-3.3-3.3zM451.4 290.0l3.3 3.3-3.3 3.3-3.3-3.3zM451.4 336.3l3.3 3.3-3.3 3.3-3.3-3.3zM451.6 309.0l3.3 3.3-3.3 3.3-3.3-3.3zM451.8 349.8l3.3 3.3-3.3 3.3-3.3-3.3zM451.9 319.2l3.3 3.3-3.3 3.3-3.3-3.3zM451.9 293.2l3.3 3.3-3.3 3.3-3.3-3.3zM451.9 329.4l3.3 3.3-3.3 3.3-3.3-3.3zM452.0 340.6l3.3 3.3-3.3 3.3-3.3-3.3zM452.1 283.9l3.3 3.3-3.3 3.3-3.3-3.3zM452.1 303.6l3.3 3.3-3.3 3.3-3.3-3.3zM452.2 319.4l3.3 3.3-3.3 3.3-3.3-3.3zM452.2 332.6l3.3 3.3-3.3 3.3-3.3-3.3zM452.3 354.9l3.3 3.3-3.3 3.3-3.3-3.3zM452.5 475.9l3.3 3.3-3.3 3.3-3.3-3.3zM452.6 343.8l3.3 3.3-3.3 3.3-3.3-3.3zM452.7 290.9l3.3 3.3-3.3 3.3-3.3-3.3zM452.9 367.2l3.3 3.3-3.3 3.3-3.3-3.3zM452.9 313.1l3.3 3.3-3.3 3.3-3.3-3.3zM452.9 283.2l3.3 3.3-3.3 3.3-3.3-3.3zM452.9 276.9l3.3 3.3-3.3 3.3-3.3-3.3zM453.0 286.3l3.3 3.3-3.3 3.3-3.3-3.3zM453.2 313.9l3.3 3.3-3.3 3.3-3.3-3.3zM453.2 325.3l3.3 3.3-3.3 3.3-3.3-3.3zM453.2 283.6l3.3 3.3-3.3 3.3-3.3-3.3zM453.5 297.1l3.3 3.3-3.3 3.3-3.3-3.3zM453.7 312.1l3.3 3.3-3.3 3.3-3.3-3.3zM453.9 296.3l3.3 3.3-3.3 3.3-3.3-3.3zM454.0 308.4l3.3 3.3-3.3 3.3-3.3-3.3zM454.0 349.6l3.3 3.3-3.3 3.3-3.3-3.3zM454.1 295.6l3.3 3.3-3.3 3.3-3.3-3.3zM454.1 317.8l3.3 3.3-3.3 3.3-3.3-3.3zM454.2 322.0l3.3 3.3-3.3 3.3-3.3-3.3zM454.2 288.2l3.3 3.3-3.3 3.3-3.3-3.3zM454.3 300.7l3.3 3.3-3.3 3.3-3.3-3.3zM454.4 323.9l3.3 3.3-3.3 3.3-3.3-3.3zM454.5 325.6l3.3 3.3-3.3 3.3-3.3-3.3zM454.6 300.6l3.3 3.3-3.3 3.3-3.3-3.3zM454.6 334.1l3.3 3.3-3.3 3.3-3.3-3.3zM454.6 342.4l3.3 3.3-3.3 3.3-3.3-3.3zM455.0 304.2l3.3 3.3-3.3 3.3-3.3-3.3zM455.2 330.1l3.3 3.3-3.3 3.3-3.3-3.3zM455.2 316.9l3.3 3.3-3.3 3.3-3.3-3.3zM455.3 294.7l3.3 3.3-3.3 3.3-3.3-3.3zM455.4 343.0l3.3 3.3-3.3 3.3-3.3-3.3zM455.5 270.6l3.3 3.3-3.3 3.3-3.3-3.3zM455.5 451.7l3.3 3.3-3.3 3.3-3.3-3.3zM455.6 347.7l3.3 3.3-3.3 3.3-3.3-3.3zM455.8 334.5l3.3 3.3-3.3 3.3-3.3-3.3zM455.8 310.4l3.3 3.3-3.3 3.3-3.3-3.3zM456.0 311.6l3.3 3.3-3.3 3.3-3.3-3.3zM456.1 294.6l3.3 3.3-3.3 3.3-3.3-3.3zM456.2 346.2l3.3 3.3-3.3 3.3-3.3-3.3zM456.3 298.9l3.3 3.3-3.3 3.3-3.3-3.3zM456.8 331.3l3.3 3.3-3.3 3.3-3.3-3.3zM456.8 321.5l3.3 3.3-3.3 3.3-3.3-3.3zM457.0 325.3l3.3 3.3-3.3 3.3-3.3-3.3zM457.0 294.7l3.3 3.3-3.3 3.3-3.3-3.3zM457.3 275.5l3.3 3.3-3.3 3.3-3.3-3.3zM457.5 328.8l3.3 3.3-3.3 3.3-3.3-3.3zM457.6 324.3l3.3 3.3-3.3 3.3-3.3-3.3zM457.8 324.5l3.3 3.3-3.3 3.3-3.3-3.3zM457.9 338.3l3.3 3.3-3.3 3.3-3.3-3.3zM458.0 296.3l3.3 3.3-3.3 3.3-3.3-3.3zM458.0 318.3l3.3 3.3-3.3 3.3-3.3-3.3zM458.0 308.0l3.3 3.3-3.3 3.3-3.3-3.3zM458.0 277.3l3.3 3.3-3.3 3.3-3.3-3.3zM458.1 302.5l3.3 3.3-3.3 3.3-3.3-3.3zM458.1 300.7l3.3 3.3-3.3 3.3-3.3-3.3zM458.2 289.2l3.3 3.3-3.3 3.3-3.3-3.3zM458.3 334.8l3.3 3.3-3.3 3.3-3.3-3.3zM458.3 295.6l3.3 3.3-3.3 3.3-3.3-3.3zM458.5 334.0l3.3 3.3-3.3 3.3-3.3-3.3zM458.6 289.7l3.3 3.3-3.3 3.3-3.3-3.3zM458.7 339.5l3.3 3.3-3.3 3.3-3.3-3.3zM458.8 299.1l3.3 3.3-3.3 3.3-3.3-3.3zM459.0 324.2l3.3 3.3-3.3 3.3-3.3-3.3zM459.0 317.1l3.3 3.3-3.3 3.3-3.3-3.3zM459.1 307.9l3.3 3.3-3.3 3.3-3.3-3.3zM459.3 282.7l3.3 3.3-3.3 3.3-3.3-3.3zM459.3 320.7l3.3 3.3-3.3 3.3-3.3-3.3zM459.3 330.2l3.3 3.3-3.3 3.3-3.3-3.3zM459.3 314.5l3.3 3.3-3.3 3.3-3.3-3.3zM459.4 293.3l3.3 3.3-3.3 3.3-3.3-3.3zM459.5 282.1l3.3 3.3-3.3 3.3-3.3-3.3zM459.5 307.0l3.3 3.3-3.3 3.3-3.3-3.3zM459.5 274.4l3.3 3.3-3.3 3.3-3.3-3.3zM459.6 286.1l3.3 3.3-3.3 3.3-3.3-3.3zM459.7 285.5l3.3 3.3-3.3 3.3-3.3-3.3zM459.7 311.4l3.3 3.3-3.3 3.3-3.3-3.3zM459.7 341.8l3.3 3.3-3.3 3.3-3.3-3.3zM459.8 382.1l3.3 3.3-3.3 3.3-3.3-3.3zM459.8 327.3l3.3 3.3-3.3 3.3-3.3-3.3zM459.8 251.6l3.3 3.3-3.3 3.3-3.3-3.3zM459.9 316.2l3.3 3.3-3.3 3.3-3.3-3.3zM460.1 264.7l3.3 3.3-3.3 3.3-3.3-3.3zM460.2 303.5l3.3 3.3-3.3 3.3-3.3-3.3zM460.3 323.3l3.3 3.3-3.3 3.3-3.3-3.3zM460.3 326.0l3.3 3.3-3.3 3.3-3.3-3.3zM460.5 292.8l3.3 3.3-3.3 3.3-3.3-3.3zM460.5 286.7l3.3 3.3-3.3 3.3-3.3-3.3zM460.6 336.3l3.3 3.3-3.3 3.3-3.3-3.3zM460.7 345.5l3.3 3.3-3.3 3.3-3.3-3.3zM460.9 274.7l3.3 3.3-3.3 3.3-3.3-3.3zM461.1 314.3l3.3 3.3-3.3 3.3-3.3-3.3zM461.1 251.3l3.3 3.3-3.3 3.3-3.3-3.3zM461.2 306.3l3.3 3.3-3.3 3.3-3.3-3.3zM461.3 330.7l3.3 3.3-3.3 3.3-3.3-3.3zM461.7 257.7l3.3 3.3-3.3 3.3-3.3-3.3zM461.7 293.9l3.3 3.3-3.3 3.3-3.3-3.3zM461.8 359.6l3.3 3.3-3.3 3.3-3.3-3.3zM462.0 324.1l3.3 3.3-3.3 3.3-3.3-3.3zM462.1 333.3l3.3 3.3-3.3 3.3-3.3-3.3zM462.1 299.1l3.3 3.3-3.3 3.3-3.3-3.3zM462.1 296.0l3.3 3.3-3.3 3.3-3.3-3.3zM462.1 301.2l3.3 3.3-3.3 3.3-3.3-3.3zM462.1 337.7l3.3 3.3-3.3 3.3-3.3-3.3zM462.2 319.2l3.3 3.3-3.3 3.3-3.3-3.3zM462.2 295.0l3.3 3.3-3.3 3.3-3.3-3.3zM462.3 352.4l3.3 3.3-3.3 3.3-3.3-3.3zM462.4 356.2l3.3 3.3-3.3 3.3-3.3-3.3zM462.5 316.3l3.3 3.3-3.3 3.3-3.3-3.3zM462.6 291.2l3.3 3.3-3.3 3.3-3.3-3.3zM462.6 311.4l3.3 3.3-3.3 3.3-3.3-3.3zM462.6 279.7l3.3 3.3-3.3 3.3-3.3-3.3zM462.8 227.7l3.3 3.3-3.3 3.3-3.3-3.3zM462.8 278.2l3.3 3.3-3.3 3.3-3.3-3.3zM463.0 276.5l3.3 3.3-3.3 3.3-3.3-3.3zM463.1 267.5l3.3 3.3-3.3 3.3-3.3-3.3zM463.1 357.2l3.3 3.3-3.3 3.3-3.3-3.3zM463.3 278.8l3.3 3.3-3.3 3.3-3.3-3.3zM463.3 370.0l3.3 3.3-3.3 3.3-3.3-3.3zM463.5 276.2l3.3 3.3-3.3 3.3-3.3-3.3zM463.6 284.4l3.3 3.3-3.3 3.3-3.3-3.3zM463.7 267.0l3.3 3.3-3.3 3.3-3.3-3.3zM463.7 309.1l3.3 3.3-3.3 3.3-3.3-3.3zM463.9 272.6l3.3 3.3-3.3 3.3-3.3-3.3zM463.9 287.4l3.3 3.3-3.3 3.3-3.3-3.3zM464.3 314.4l3.3 3.3-3.3 3.3-3.3-3.3zM464.3 305.7l3.3 3.3-3.3 3.3-3.3-3.3zM464.4 263.9l3.3 3.3-3.3 3.3-3.3-3.3zM464.4 321.2l3.3 3.3-3.3 3.3-3.3-3.3zM464.6 301.6l3.3 3.3-3.3 3.3-3.3-3.3zM464.6 273.4l3.3 3.3-3.3 3.3-3.3-3.3zM464.6 338.1l3.3 3.3-3.3 3.3-3.3-3.3zM464.8 326.1l3.3 3.3-3.3 3.3-3.3-3.3zM464.8 414.9l3.3 3.3-3.3 3.3-3.3-3.3zM464.8 337.9l3.3 3.3-3.3 3.3-3.3-3.3zM464.8 302.1l3.3 3.3-3.3 3.3-3.3-3.3zM464.8 292.7l3.3 3.3-3.3 3.3-3.3-3.3zM465.0 281.1l3.3 3.3-3.3 3.3-3.3-3.3zM465.0 328.2l3.3 3.3-3.3 3.3-3.3-3.3zM465.1 332.2l3.3 3.3-3.3 3.3-3.3-3.3zM465.1 302.1l3.3 3.3-3.3 3.3-3.3-3.3zM465.3 295.7l3.3 3.3-3.3 3.3-3.3-3.3zM465.4 345.8l3.3 3.3-3.3 3.3-3.3-3.3zM465.6 272.4l3.3 3.3-3.3 3.3-3.3-3.3zM465.6 328.3l3.3 3.3-3.3 3.3-3.3-3.3zM465.6 327.6l3.3 3.3-3.3 3.3-3.3-3.3zM465.7 335.6l3.3 3.3-3.3 3.3-3.3-3.3zM465.8 441.9l3.3 3.3-3.3 3.3-3.3-3.3zM465.8 343.1l3.3 3.3-3.3 3.3-3.3-3.3zM465.9 296.4l3.3 3.3-3.3 3.3-3.3-3.3zM466.0 318.8l3.3 3.3-3.3 3.3-3.3-3.3zM466.0 297.4l3.3 3.3-3.3 3.3-3.3-3.3zM466.2 288.6l3.3 3.3-3.3 3.3-3.3-3.3zM466.3 272.2l3.3 3.3-3.3 3.3-3.3-3.3zM466.3 279.5l3.3 3.3-3.3 3.3-3.3-3.3zM466.5 318.4l3.3 3.3-3.3 3.3-3.3-3.3zM466.5 330.4l3.3 3.3-3.3 3.3-3.3-3.3zM466.8 289.4l3.3 3.3-3.3 3.3-3.3-3.3zM466.8 324.7l3.3 3.3-3.3 3.3-3.3-3.3zM466.9 283.6l3.3 3.3-3.3 3.3-3.3-3.3zM467.2 339.8l3.3 3.3-3.3 3.3-3.3-3.3zM467.2 295.5l3.3 3.3-3.3 3.3-3.3-3.3zM467.2 309.4l3.3 3.3-3.3 3.3-3.3-3.3zM467.2 311.7l3.3 3.3-3.3 3.3-3.3-3.3zM467.4 314.0l3.3 3.3-3.3 3.3-3.3-3.3zM467.4 319.7l3.3 3.3-3.3 3.3-3.3-3.3zM467.4 262.0l3.3 3.3-3.3 3.3-3.3-3.3zM467.5 303.2l3.3 3.3-3.3 3.3-3.3-3.3zM467.5 282.7l3.3 3.3-3.3 3.3-3.3-3.3zM467.5 377.3l3.3 3.3-3.3 3.3-3.3-3.3zM467.6 343.1l3.3 3.3-3.3 3.3-3.3-3.3zM467.6 326.6l3.3 3.3-3.3 3.3-3.3-3.3zM467.6 292.5l3.3 3.3-3.3 3.3-3.3-3.3zM467.8 287.3l3.3 3.3-3.3 3.3-3.3-3.3zM467.9 417.2l3.3 3.3-3.3 3.3-3.3-3.3zM467.9 311.5l3.3 3.3-3.3 3.3-3.3-3.3zM467.9 302.1l3.3 3.3-3.3 3.3-3.3-3.3zM467.9 273.9l3.3 3.3-3.3 3.3-3.3-3.3zM468.0 257.0l3.3 3.3-3.3 3.3-3.3-3.3zM468.2 344.7l3.3 3.3-3.3 3.3-3.3-3.3zM468.3 276.4l3.3 3.3-3.3 3.3-3.3-3.3zM468.3 417.3l3.3 3.3-3.3 3.3-3.3-3.3zM468.4 293.9l3.3 3.3-3.3 3.3-3.3-3.3zM468.5 306.2l3.3 3.3-3.3 3.3-3.3-3.3zM468.6 272.0l3.3 3.3-3.3 3.3-3.3-3.3zM468.6 318.3l3.3 3.3-3.3 3.3-3.3-3.3zM468.6 346.9l3.3 3.3-3.3 3.3-3.3-3.3zM468.6 280.3l3.3 3.3-3.3 3.3-3.3-3.3zM468.8 560.5l3.3 3.3-3.3 3.3-3.3-3.3zM468.8 326.4l3.3 3.3-3.3 3.3-3.3-3.3zM468.8 302.3l3.3 3.3-3.3 3.3-3.3-3.3zM469.2 333.6l3.3 3.3-3.3 3.3-3.3-3.3zM469.2 328.9l3.3 3.3-3.3 3.3-3.3-3.3zM469.5 342.3l3.3 3.3-3.3 3.3-3.3-3.3zM469.5 323.2l3.3 3.3-3.3 3.3-3.3-3.3zM469.6 387.4l3.3 3.3-3.3 3.3-3.3-3.3zM469.7 288.1l3.3 3.3-3.3 3.3-3.3-3.3zM469.9 286.2l3.3 3.3-3.3 3.3-3.3-3.3zM470.2 345.3l3.3 3.3-3.3 3.3-3.3-3.3zM470.2 280.7l3.3 3.3-3.3 3.3-3.3-3.3zM470.2 314.3l3.3 3.3-3.3 3.3-3.3-3.3zM470.3 277.3l3.3 3.3-3.3 3.3-3.3-3.3zM470.3 274.4l3.3 3.3-3.3 3.3-3.3-3.3zM470.3 306.3l3.3 3.3-3.3 3.3-3.3-3.3zM470.5 298.4l3.3 3.3-3.3 3.3-3.3-3.3zM470.5 220.7l3.3 3.3-3.3 3.3-3.3-3.3zM470.5 323.0l3.3 3.3-3.3 3.3-3.3-3.3zM470.5 344.9l3.3 3.3-3.3 3.3-3.3-3.3zM470.6 326.6l3.3 3.3-3.3 3.3-3.3-3.3zM470.6 278.3l3.3 3.3-3.3 3.3-3.3-3.3zM470.7 253.0l3.3 3.3-3.3 3.3-3.3-3.3zM470.7 264.5l3.3 3.3-3.3 3.3-3.3-3.3zM470.8 504.7l3.3 3.3-3.3 3.3-3.3-3.3zM470.8 267.0l3.3 3.3-3.3 3.3-3.3-3.3zM470.9 286.8l3.3 3.3-3.3 3.3-3.3-3.3zM471.0 306.2l3.3 3.3-3.3 3.3-3.3-3.3zM471.0 279.7l3.3 3.3-3.3 3.3-3.3-3.3zM471.0 257.1l3.3 3.3-3.3 3.3-3.3-3.3zM471.4 284.9l3.3 3.3-3.3 3.3-3.3-3.3zM471.4 331.8l3.3 3.3-3.3 3.3-3.3-3.3zM471.5 338.8l3.3 3.3-3.3 3.3-3.3-3.3zM471.7 290.9l3.3 3.3-3.3 3.3-3.3-3.3zM471.8 332.2l3.3 3.3-3.3 3.3-3.3-3.3zM471.8 309.6l3.3 3.3-3.3 3.3-3.3-3.3zM471.9 297.5l3.3 3.3-3.3 3.3-3.3-3.3zM471.9 299.8l3.3 3.3-3.3 3.3-3.3-3.3zM472.0 317.8l3.3 3.3-3.3 3.3-3.3-3.3zM472.1 296.7l3.3 3.3-3.3 3.3-3.3-3.3zM472.2 310.1l3.3 3.3-3.3 3.3-3.3-3.3zM472.4 319.3l3.3 3.3-3.3 3.3-3.3-3.3zM472.5 541.7l3.3 3.3-3.3 3.3-3.3-3.3zM472.5 295.9l3.3 3.3-3.3 3.3-3.3-3.3zM472.7 291.2l3.3 3.3-3.3 3.3-3.3-3.3zM472.8 315.2l3.3 3.3-3.3 3.3-3.3-3.3zM472.8 316.5l3.3 3.3-3.3 3.3-3.3-3.3zM472.8 291.4l3.3 3.3-3.3 3.3-3.3-3.3zM473.0 446.4l3.3 3.3-3.3 3.3-3.3-3.3zM473.1 368.7l3.3 3.3-3.3 3.3-3.3-3.3zM473.1 323.5l3.3 3.3-3.3 3.3-3.3-3.3zM473.2 291.8l3.3 3.3-3.3 3.3-3.3-3.3zM473.2 303.3l3.3 3.3-3.3 3.3-3.3-3.3zM473.3 378.5l3.3 3.3-3.3 3.3-3.3-3.3zM473.4 350.6l3.3 3.3-3.3 3.3-3.3-3.3zM473.5 289.4l3.3 3.3-3.3 3.3-3.3-3.3zM473.7 337.2l3.3 3.3-3.3 3.3-3.3-3.3zM473.8 295.2l3.3 3.3-3.3 3.3-3.3-3.3zM473.9 328.6l3.3 3.3-3.3 3.3-3.3-3.3zM473.9 264.4l3.3 3.3-3.3 3.3-3.3-3.3zM474.0 515.2l3.3 3.3-3.3 3.3-3.3-3.3zM474.1 320.2l3.3 3.3-3.3 3.3-3.3-3.3zM474.2 287.1l3.3 3.3-3.3 3.3-3.3-3.3zM474.3 316.4l3.3 3.3-3.3 3.3-3.3-3.3zM474.3 297.2l3.3 3.3-3.3 3.3-3.3-3.3zM474.4 280.8l3.3 3.3-3.3 3.3-3.3-3.3zM474.5 343.3l3.3 3.3-3.3 3.3-3.3-3.3zM474.5 324.1l3.3 3.3-3.3 3.3-3.3-3.3zM474.5 402.6l3.3 3.3-3.3 3.3-3.3-3.3zM474.6 301.5l3.3 3.3-3.3 3.3-3.3-3.3zM474.7 289.6l3.3 3.3-3.3 3.3-3.3-3.3zM474.8 306.7l3.3 3.3-3.3 3.3-3.3-3.3zM474.9 313.5l3.3 3.3-3.3 3.3-3.3-3.3zM475.1 333.1l3.3 3.3-3.3 3.3-3.3-3.3zM475.2 329.0l3.3 3.3-3.3 3.3-3.3-3.3zM475.3 334.3l3.3 3.3-3.3 3.3-3.3-3.3zM475.3 313.4l3.3 3.3-3.3 3.3-3.3-3.3zM475.5 294.8l3.3 3.3-3.3 3.3-3.3-3.3zM475.8 321.5l3.3 3.3-3.3 3.3-3.3-3.3zM475.9 306.5l3.3 3.3-3.3 3.3-3.3-3.3zM475.9 285.6l3.3 3.3-3.3 3.3-3.3-3.3zM475.9 269.2l3.3 3.3-3.3 3.3-3.3-3.3zM476.1 373.4l3.3 3.3-3.3 3.3-3.3-3.3zM476.3 341.6l3.3 3.3-3.3 3.3-3.3-3.3zM476.6 297.5l3.3 3.3-3.3 3.3-3.3-3.3zM476.6 276.9l3.3 3.3-3.3 3.3-3.3-3.3zM476.7 284.6l3.3 3.3-3.3 3.3-3.3-3.3zM476.8 285.2l3.3 3.3-3.3 3.3-3.3-3.3zM476.8 280.1l3.3 3.3-3.3 3.3-3.3-3.3zM476.9 296.4l3.3 3.3-3.3 3.3-3.3-3.3zM477.0 305.9l3.3 3.3-3.3 3.3-3.3-3.3zM477.1 326.3l3.3 3.3-3.3 3.3-3.3-3.3zM477.1 301.2l3.3 3.3-3.3 3.3-3.3-3.3zM477.5 320.3l3.3 3.3-3.3 3.3-3.3-3.3zM477.8 323.9l3.3 3.3-3.3 3.3-3.3-3.3zM478.0 298.1l3.3 3.3-3.3 3.3-3.3-3.3zM478.1 310.0l3.3 3.3-3.3 3.3-3.3-3.3zM478.1 282.7l3.3 3.3-3.3 3.3-3.3-3.3zM478.1 318.3l3.3 3.3-3.3 3.3-3.3-3.3zM478.2 294.5l3.3 3.3-3.3 3.3-3.3-3.3zM478.3 283.7l3.3 3.3-3.3 3.3-3.3-3.3zM478.6 253.0l3.3 3.3-3.3 3.3-3.3-3.3zM478.6 361.0l3.3 3.3-3.3 3.3-3.3-3.3zM478.7 267.4l3.3 3.3-3.3 3.3-3.3-3.3zM478.9 332.0l3.3 3.3-3.3 3.3-3.3-3.3zM479.1 373.1l3.3 3.3-3.3 3.3-3.3-3.3zM479.1 294.4l3.3 3.3-3.3 3.3-3.3-3.3zM479.1 315.5l3.3 3.3-3.3 3.3-3.3-3.3zM479.2 221.4l3.3 3.3-3.3 3.3-3.3-3.3zM479.4 304.0l3.3 3.3-3.3 3.3-3.3-3.3zM479.5 340.0l3.3 3.3-3.3 3.3-3.3-3.3zM479.6 361.0l3.3 3.3-3.3 3.3-3.3-3.3zM479.6 305.6l3.3 3.3-3.3 3.3-3.3-3.3zM479.8 294.4l3.3 3.3-3.3 3.3-3.3-3.3zM479.8 285.6l3.3 3.3-3.3 3.3-3.3-3.3zM479.8 313.2l3.3 3.3-3.3 3.3-3.3-3.3zM479.8 330.0l3.3 3.3-3.3 3.3-3.3-3.3zM479.9 319.8l3.3 3.3-3.3 3.3-3.3-3.3zM479.9 294.4l3.3 3.3-3.3 3.3-3.3-3.3zM480.0 277.4l3.3 3.3-3.3 3.3-3.3-3.3zM480.1 319.0l3.3 3.3-3.3 3.3-3.3-3.3zM480.3 294.2l3.3 3.3-3.3 3.3-3.3-3.3zM480.3 317.0l3.3 3.3-3.3 3.3-3.3-3.3zM480.4 314.7l3.3 3.3-3.3 3.3-3.3-3.3zM480.4 326.0l3.3 3.3-3.3 3.3-3.3-3.3zM480.6 320.1l3.3 3.3-3.3 3.3-3.3-3.3zM480.6 329.9l3.3 3.3-3.3 3.3-3.3-3.3zM480.7 335.3l3.3 3.3-3.3 3.3-3.3-3.3zM480.9 329.4l3.3 3.3-3.3 3.3-3.3-3.3zM481.0 299.9l3.3 3.3-3.3 3.3-3.3-3.3zM481.2 301.0l3.3 3.3-3.3 3.3-3.3-3.3zM481.2 290.0l3.3 3.3-3.3 3.3-3.3-3.3zM481.3 335.6l3.3 3.3-3.3 3.3-3.3-3.3zM481.5 277.8l3.3 3.3-3.3 3.3-3.3-3.3zM481.6 332.3l3.3 3.3-3.3 3.3-3.3-3.3zM481.7 320.5l3.3 3.3-3.3 3.3-3.3-3.3zM481.7 317.1l3.3 3.3-3.3 3.3-3.3-3.3zM481.8 305.8l3.3 3.3-3.3 3.3-3.3-3.3zM481.8 317.6l3.3 3.3-3.3 3.3-3.3-3.3zM481.9 325.4l3.3 3.3-3.3 3.3-3.3-3.3zM481.9 348.3l3.3 3.3-3.3 3.3-3.3-3.3zM482.0 273.4l3.3 3.3-3.3 3.3-3.3-3.3zM482.0 319.9l3.3 3.3-3.3 3.3-3.3-3.3zM482.1 327.7l3.3 3.3-3.3 3.3-3.3-3.3zM482.2 283.6l3.3 3.3-3.3 3.3-3.3-3.3zM482.2 337.0l3.3 3.3-3.3 3.3-3.3-3.3zM482.3 319.9l3.3 3.3-3.3 3.3-3.3-3.3zM482.3 279.6l3.3 3.3-3.3 3.3-3.3-3.3zM482.3 307.5l3.3 3.3-3.3 3.3-3.3-3.3zM482.4 333.1l3.3 3.3-3.3 3.3-3.3-3.3zM482.5 309.7l3.3 3.3-3.3 3.3-3.3-3.3zM482.5 309.6l3.3 3.3-3.3 3.3-3.3-3.3zM482.6 296.0l3.3 3.3-3.3 3.3-3.3-3.3zM482.7 286.6l3.3 3.3-3.3 3.3-3.3-3.3zM482.7 294.7l3.3 3.3-3.3 3.3-3.3-3.3zM482.7 333.7l3.3 3.3-3.3 3.3-3.3-3.3zM482.9 293.7l3.3 3.3-3.3 3.3-3.3-3.3zM483.2 384.8l3.3 3.3-3.3 3.3-3.3-3.3zM483.4 315.0l3.3 3.3-3.3 3.3-3.3-3.3zM483.5 285.5l3.3 3.3-3.3 3.3-3.3-3.3zM483.5 283.5l3.3 3.3-3.3 3.3-3.3-3.3zM483.6 339.7l3.3 3.3-3.3 3.3-3.3-3.3zM483.6 320.6l3.3 3.3-3.3 3.3-3.3-3.3zM483.7 304.7l3.3 3.3-3.3 3.3-3.3-3.3zM483.8 281.5l3.3 3.3-3.3 3.3-3.3-3.3zM484.0 309.9l3.3 3.3-3.3 3.3-3.3-3.3zM484.1 286.3l3.3 3.3-3.3 3.3-3.3-3.3zM484.2 300.2l3.3 3.3-3.3 3.3-3.3-3.3zM484.2 191.9l3.3 3.3-3.3 3.3-3.3-3.3zM484.3 289.7l3.3 3.3-3.3 3.3-3.3-3.3zM484.3 361.3l3.3 3.3-3.3 3.3-3.3-3.3zM484.4 357.3l3.3 3.3-3.3 3.3-3.3-3.3zM484.4 249.1l3.3 3.3-3.3 3.3-3.3-3.3zM484.4 327.1l3.3 3.3-3.3 3.3-3.3-3.3zM484.5 324.4l3.3 3.3-3.3 3.3-3.3-3.3zM484.5 317.2l3.3 3.3-3.3 3.3-3.3-3.3zM484.6 311.0l3.3 3.3-3.3 3.3-3.3-3.3zM485.1 330.3l3.3 3.3-3.3 3.3-3.3-3.3zM485.2 333.0l3.3 3.3-3.3 3.3-3.3-3.3zM485.3 306.2l3.3 3.3-3.3 3.3-3.3-3.3zM485.3 293.3l3.3 3.3-3.3 3.3-3.3-3.3zM485.3 320.6l3.3 3.3-3.3 3.3-3.3-3.3zM485.3 306.6l3.3 3.3-3.3 3.3-3.3-3.3zM485.3 288.8l3.3 3.3-3.3 3.3-3.3-3.3zM485.4 312.5l3.3 3.3-3.3 3.3-3.3-3.3zM485.4 338.0l3.3 3.3-3.3 3.3-3.3-3.3zM485.5 274.6l3.3 3.3-3.3 3.3-3.3-3.3zM485.5 248.0l3.3 3.3-3.3 3.3-3.3-3.3zM485.6 278.1l3.3 3.3-3.3 3.3-3.3-3.3zM485.7 361.3l3.3 3.3-3.3 3.3-3.3-3.3zM486.1 340.1l3.3 3.3-3.3 3.3-3.3-3.3zM486.1 247.8l3.3 3.3-3.3 3.3-3.3-3.3zM486.2 233.2l3.3 3.3-3.3 3.3-3.3-3.3zM486.3 325.8l3.3 3.3-3.3 3.3-3.3-3.3zM486.4 303.1l3.3 3.3-3.3 3.3-3.3-3.3zM486.4 385.0l3.3 3.3-3.3 3.3-3.3-3.3zM486.4 263.3l3.3 3.3-3.3 3.3-3.3-3.3zM486.6 321.8l3.3 3.3-3.3 3.3-3.3-3.3zM486.6 342.2l3.3 3.3-3.3 3.3-3.3-3.3zM486.6 332.7l3.3 3.3-3.3 3.3-3.3-3.3zM486.7 296.9l3.3 3.3-3.3 3.3-3.3-3.3zM486.7 287.0l3.3 3.3-3.3 3.3-3.3-3.3zM486.9 257.3l3.3 3.3-3.3 3.3-3.3-3.3zM487.1 271.6l3.3 3.3-3.3 3.3-3.3-3.3zM487.3 317.8l3.3 3.3-3.3 3.3-3.3-3.3zM487.6 315.1l3.3 3.3-3.3 3.3-3.3-3.3zM487.7 320.4l3.3 3.3-3.3 3.3-3.3-3.3zM487.7 308.5l3.3 3.3-3.3 3.3-3.3-3.3zM487.7 247.3l3.3 3.3-3.3 3.3-3.3-3.3zM487.7 266.2l3.3 3.3-3.3 3.3-3.3-3.3zM487.8 315.9l3.3 3.3-3.3 3.3-3.3-3.3zM488.0 298.0l3.3 3.3-3.3 3.3-3.3-3.3zM488.0 331.7l3.3 3.3-3.3 3.3-3.3-3.3zM488.0 314.9l3.3 3.3-3.3 3.3-3.3-3.3zM488.1 315.4l3.3 3.3-3.3 3.3-3.3-3.3zM488.1 312.1l3.3 3.3-3.3 3.3-3.3-3.3zM488.2 255.4l3.3 3.3-3.3 3.3-3.3-3.3zM488.4 332.2l3.3 3.3-3.3 3.3-3.3-3.3zM488.6 353.7l3.3 3.3-3.3 3.3-3.3-3.3zM488.6 280.4l3.3 3.3-3.3 3.3-3.3-3.3zM488.8 275.7l3.3 3.3-3.3 3.3-3.3-3.3zM488.8 358.0l3.3 3.3-3.3 3.3-3.3-3.3zM488.9 323.0l3.3 3.3-3.3 3.3-3.3-3.3zM488.9 309.3l3.3 3.3-3.3 3.3-3.3-3.3zM488.9 304.4l3.3 3.3-3.3 3.3-3.3-3.3zM488.9 303.1l3.3 3.3-3.3 3.3-3.3-3.3zM488.9 282.3l3.3 3.3-3.3 3.3-3.3-3.3zM489.0 255.7l3.3 3.3-3.3 3.3-3.3-3.3zM489.0 314.9l3.3 3.3-3.3 3.3-3.3-3.3zM489.2 240.7l3.3 3.3-3.3 3.3-3.3-3.3zM489.3 292.1l3.3 3.3-3.3 3.3-3.3-3.3zM489.4 290.9l3.3 3.3-3.3 3.3-3.3-3.3zM489.4 285.0l3.3 3.3-3.3 3.3-3.3-3.3zM489.5 331.4l3.3 3.3-3.3 3.3-3.3-3.3zM489.7 279.6l3.3 3.3-3.3 3.3-3.3-3.3zM489.7 302.3l3.3 3.3-3.3 3.3-3.3-3.3zM489.8 188.9l3.3 3.3-3.3 3.3-3.3-3.3zM489.8 319.9l3.3 3.3-3.3 3.3-3.3-3.3zM489.9 305.7l3.3 3.3-3.3 3.3-3.3-3.3zM489.9 316.2l3.3 3.3-3.3 3.3-3.3-3.3zM490.0 291.1l3.3 3.3-3.3 3.3-3.3-3.3zM490.3 274.0l3.3 3.3-3.3 3.3-3.3-3.3zM490.3 322.7l3.3 3.3-3.3 3.3-3.3-3.3zM490.4 313.5l3.3 3.3-3.3 3.3-3.3-3.3zM490.5 301.4l3.3 3.3-3.3 3.3-3.3-3.3zM490.5 261.1l3.3 3.3-3.3 3.3-3.3-3.3zM490.7 333.9l3.3 3.3-3.3 3.3-3.3-3.3zM490.7 296.7l3.3 3.3-3.3 3.3-3.3-3.3zM490.8 301.9l3.3 3.3-3.3 3.3-3.3-3.3zM491.0 343.6l3.3 3.3-3.3 3.3-3.3-3.3zM491.2 282.4l3.3 3.3-3.3 3.3-3.3-3.3zM491.2 274.1l3.3 3.3-3.3 3.3-3.3-3.3zM491.3 348.2l3.3 3.3-3.3 3.3-3.3-3.3zM491.3 385.7l3.3 3.3-3.3 3.3-3.3-3.3zM491.4 282.9l3.3 3.3-3.3 3.3-3.3-3.3zM491.4 329.8l3.3 3.3-3.3 3.3-3.3-3.3zM491.4 279.5l3.3 3.3-3.3 3.3-3.3-3.3zM491.5 324.2l3.3 3.3-3.3 3.3-3.3-3.3zM491.5 277.6l3.3 3.3-3.3 3.3-3.3-3.3zM491.5 339.3l3.3 3.3-3.3 3.3-3.3-3.3zM491.7 332.7l3.3 3.3-3.3 3.3-3.3-3.3zM491.8 517.2l3.3 3.3-3.3 3.3-3.3-3.3zM491.8 320.5l3.3 3.3-3.3 3.3-3.3-3.3zM491.9 328.1l3.3 3.3-3.3 3.3-3.3-3.3zM492.0 337.0l3.3 3.3-3.3 3.3-3.3-3.3zM492.1 284.1l3.3 3.3-3.3 3.3-3.3-3.3zM492.2 337.6l3.3 3.3-3.3 3.3-3.3-3.3zM492.5 165.7l3.3 3.3-3.3 3.3-3.3-3.3zM492.6 310.7l3.3 3.3-3.3 3.3-3.3-3.3zM492.6 293.7l3.3 3.3-3.3 3.3-3.3-3.3zM492.6 335.5l3.3 3.3-3.3 3.3-3.3-3.3zM492.7 412.5l3.3 3.3-3.3 3.3-3.3-3.3zM492.8 290.7l3.3 3.3-3.3 3.3-3.3-3.3zM493.1 308.2l3.3 3.3-3.3 3.3-3.3-3.3zM493.3 385.7l3.3 3.3-3.3 3.3-3.3-3.3zM493.5 301.0l3.3 3.3-3.3 3.3-3.3-3.3zM493.5 311.2l3.3 3.3-3.3 3.3-3.3-3.3zM493.6 287.9l3.3 3.3-3.3 3.3-3.3-3.3zM493.6 301.5l3.3 3.3-3.3 3.3-3.3-3.3zM493.6 276.5l3.3 3.3-3.3 3.3-3.3-3.3zM493.8 289.3l3.3 3.3-3.3 3.3-3.3-3.3zM493.8 305.1l3.3 3.3-3.3 3.3-3.3-3.3zM493.9 319.1l3.3 3.3-3.3 3.3-3.3-3.3zM493.9 300.3l3.3 3.3-3.3 3.3-3.3-3.3zM493.9 324.8l3.3 3.3-3.3 3.3-3.3-3.3zM493.9 318.2l3.3 3.3-3.3 3.3-3.3-3.3zM494.0 299.3l3.3 3.3-3.3 3.3-3.3-3.3zM494.2 323.3l3.3 3.3-3.3 3.3-3.3-3.3zM494.2 258.9l3.3 3.3-3.3 3.3-3.3-3.3zM494.2 207.7l3.3 3.3-3.3 3.3-3.3-3.3zM494.5 288.5l3.3 3.3-3.3 3.3-3.3-3.3zM494.5 315.1l3.3 3.3-3.3 3.3-3.3-3.3zM494.5 306.5l3.3 3.3-3.3 3.3-3.3-3.3zM494.6 361.0l3.3 3.3-3.3 3.3-3.3-3.3zM494.7 302.6l3.3 3.3-3.3 3.3-3.3-3.3zM494.8 291.1l3.3 3.3-3.3 3.3-3.3-3.3zM495.0 333.2l3.3 3.3-3.3 3.3-3.3-3.3zM495.0 328.6l3.3 3.3-3.3 3.3-3.3-3.3zM495.3 415.3l3.3 3.3-3.3 3.3-3.3-3.3zM495.4 361.7l3.3 3.3-3.3 3.3-3.3-3.3zM495.5 323.8l3.3 3.3-3.3 3.3-3.3-3.3zM495.5 310.8l3.3 3.3-3.3 3.3-3.3-3.3zM495.8 308.6l3.3 3.3-3.3 3.3-3.3-3.3zM495.9 274.7l3.3 3.3-3.3 3.3-3.3-3.3zM495.9 271.2l3.3 3.3-3.3 3.3-3.3-3.3zM495.9 348.5l3.3 3.3-3.3 3.3-3.3-3.3zM496.0 291.0l3.3 3.3-3.3 3.3-3.3-3.3zM496.0 421.7l3.3 3.3-3.3 3.3-3.3-3.3zM496.0 288.5l3.3 3.3-3.3 3.3-3.3-3.3zM496.0 295.5l3.3 3.3-3.3 3.3-3.3-3.3zM496.1 330.0l3.3 3.3-3.3 3.3-3.3-3.3zM496.1 303.5l3.3 3.3-3.3 3.3-3.3-3.3zM496.2 316.2l3.3 3.3-3.3 3.3-3.3-3.3zM496.2 273.1l3.3 3.3-3.3 3.3-3.3-3.3zM496.2 271.4l3.3 3.3-3.3 3.3-3.3-3.3zM496.2 353.7l3.3 3.3-3.3 3.3-3.3-3.3zM496.3 300.6l3.3 3.3-3.3 3.3-3.3-3.3zM496.5 251.0l3.3 3.3-3.3 3.3-3.3-3.3zM496.5 277.0l3.3 3.3-3.3 3.3-3.3-3.3zM496.7 312.5l3.3 3.3-3.3 3.3-3.3-3.3zM496.8 326.1l3.3 3.3-3.3 3.3-3.3-3.3zM496.9 311.7l3.3 3.3-3.3 3.3-3.3-3.3zM496.9 347.7l3.3 3.3-3.3 3.3-3.3-3.3zM497.3 296.2l3.3 3.3-3.3 3.3-3.3-3.3zM497.4 295.4l3.3 3.3-3.3 3.3-3.3-3.3zM497.5 285.4l3.3 3.3-3.3 3.3-3.3-3.3zM497.9 284.8l3.3 3.3-3.3 3.3-3.3-3.3zM497.9 306.2l3.3 3.3-3.3 3.3-3.3-3.3zM498.0 319.7l3.3 3.3-3.3 3.3-3.3-3.3zM498.0 434.2l3.3 3.3-3.3 3.3-3.3-3.3zM498.0 303.3l3.3 3.3-3.3 3.3-3.3-3.3zM498.3 277.8l3.3 3.3-3.3 3.3-3.3-3.3zM498.4 333.0l3.3 3.3-3.3 3.3-3.3-3.3zM498.4 314.0l3.3 3.3-3.3 3.3-3.3-3.3zM498.5 267.0l3.3 3.3-3.3 3.3-3.3-3.3zM498.7 317.6l3.3 3.3-3.3 3.3-3.3-3.3zM498.7 297.1l3.3 3.3-3.3 3.3-3.3-3.3zM498.7 323.8l3.3 3.3-3.3 3.3-3.3-3.3zM498.7 291.2l3.3 3.3-3.3 3.3-3.3-3.3zM498.9 295.2l3.3 3.3-3.3 3.3-3.3-3.3zM498.9 344.7l3.3 3.3-3.3 3.3-3.3-3.3zM499.1 331.5l3.3 3.3-3.3 3.3-3.3-3.3zM499.3 278.4l3.3 3.3-3.3 3.3-3.3-3.3zM499.3 283.2l3.3 3.3-3.3 3.3-3.3-3.3zM499.4 316.8l3.3 3.3-3.3 3.3-3.3-3.3zM499.4 306.7l3.3 3.3-3.3 3.3-3.3-3.3zM499.7 308.4l3.3 3.3-3.3 3.3-3.3-3.3zM499.8 309.0l3.3 3.3-3.3 3.3-3.3-3.3zM499.8 340.4l3.3 3.3-3.3 3.3-3.3-3.3zM499.9 350.3l3.3 3.3-3.3 3.3-3.3-3.3zM499.9 293.2l3.3 3.3-3.3 3.3-3.3-3.3zM500.0 296.1l3.3 3.3-3.3 3.3-3.3-3.3zM500.0 320.7l3.3 3.3-3.3 3.3-3.3-3.3zM500.0 328.9l3.3 3.3-3.3 3.3-3.3-3.3zM500.1 350.6l3.3 3.3-3.3 3.3-3.3-3.3zM500.1 273.5l3.3 3.3-3.3 3.3-3.3-3.3zM500.1 342.6l3.3 3.3-3.3 3.3-3.3-3.3zM500.2 303.4l3.3 3.3-3.3 3.3-3.3-3.3zM500.2 259.5l3.3 3.3-3.3 3.3-3.3-3.3zM500.2 261.2l3.3 3.3-3.3 3.3-3.3-3.3zM500.3 406.0l3.3 3.3-3.3 3.3-3.3-3.3zM500.4 257.7l3.3 3.3-3.3 3.3-3.3-3.3zM500.5 303.0l3.3 3.3-3.3 3.3-3.3-3.3zM500.7 335.9l3.3 3.3-3.3 3.3-3.3-3.3zM500.7 261.1l3.3 3.3-3.3 3.3-3.3-3.3zM500.8 268.9l3.3 3.3-3.3 3.3-3.3-3.3zM500.8 285.4l3.3 3.3-3.3 3.3-3.3-3.3zM500.9 336.0l3.3 3.3-3.3 3.3-3.3-3.3zM500.9 289.4l3.3 3.3-3.3 3.3-3.3-3.3zM501.3 300.7l3.3 3.3-3.3 3.3-3.3-3.3zM501.3 296.3l3.3 3.3-3.3 3.3-3.3-3.3zM501.4 310.8l3.3 3.3-3.3 3.3-3.3-3.3zM501.5 289.3l3.3 3.3-3.3 3.3-3.3-3.3zM501.5 268.3l3.3 3.3-3.3 3.3-3.3-3.3zM501.5 331.3l3.3 3.3-3.3 3.3-3.3-3.3zM501.5 344.8l3.3 3.3-3.3 3.3-3.3-3.3zM502.0 265.7l3.3 3.3-3.3 3.3-3.3-3.3zM502.0 327.0l3.3 3.3-3.3 3.3-3.3-3.3zM502.0 286.8l3.3 3.3-3.3 3.3-3.3-3.3zM502.1 321.0l3.3 3.3-3.3 3.3-3.3-3.3zM502.3 332.8l3.3 3.3-3.3 3.3-3.3-3.3zM502.4 317.0l3.3 3.3-3.3 3.3-3.3-3.3zM502.4 313.1l3.3 3.3-3.3 3.3-3.3-3.3zM502.5 337.8l3.3 3.3-3.3 3.3-3.3-3.3zM502.6 250.0l3.3 3.3-3.3 3.3-3.3-3.3zM502.7 356.1l3.3 3.3-3.3 3.3-3.3-3.3zM502.9 297.9l3.3 3.3-3.3 3.3-3.3-3.3zM503.0 318.7l3.3 3.3-3.3 3.3-3.3-3.3zM503.1 378.3l3.3 3.3-3.3 3.3-3.3-3.3zM503.2 291.7l3.3 3.3-3.3 3.3-3.3-3.3zM503.3 338.6l3.3 3.3-3.3 3.3-3.3-3.3zM503.3 330.7l3.3 3.3-3.3 3.3-3.3-3.3zM503.4 337.5l3.3 3.3-3.3 3.3-3.3-3.3zM503.4 279.8l3.3 3.3-3.3 3.3-3.3-3.3zM503.6 304.4l3.3 3.3-3.3 3.3-3.3-3.3zM503.6 307.4l3.3 3.3-3.3 3.3-3.3-3.3zM503.8 198.7l3.3 3.3-3.3 3.3-3.3-3.3zM503.8 282.6l3.3 3.3-3.3 3.3-3.3-3.3zM504.0 338.2l3.3 3.3-3.3 3.3-3.3-3.3zM504.1 338.6l3.3 3.3-3.3 3.3-3.3-3.3zM504.1 292.2l3.3 3.3-3.3 3.3-3.3-3.3zM504.2 389.0l3.3 3.3-3.3 3.3-3.3-3.3zM504.3 332.0l3.3 3.3-3.3 3.3-3.3-3.3zM504.3 322.8l3.3 3.3-3.3 3.3-3.3-3.3zM504.3 278.4l3.3 3.3-3.3 3.3-3.3-3.3zM504.5 310.4l3.3 3.3-3.3 3.3-3.3-3.3zM504.5 343.6l3.3 3.3-3.3 3.3-3.3-3.3zM504.6 285.7l3.3 3.3-3.3 3.3-3.3-3.3zM504.7 318.8l3.3 3.3-3.3 3.3-3.3-3.3zM504.9 366.5l3.3 3.3-3.3 3.3-3.3-3.3zM505.0 426.7l3.3 3.3-3.3 3.3-3.3-3.3zM505.1 296.0l3.3 3.3-3.3 3.3-3.3-3.3zM505.3 333.2l3.3 3.3-3.3 3.3-3.3-3.3zM505.3 312.1l3.3 3.3-3.3 3.3-3.3-3.3zM505.5 314.3l3.3 3.3-3.3 3.3-3.3-3.3zM505.5 326.4l3.3 3.3-3.3 3.3-3.3-3.3zM505.7 281.7l3.3 3.3-3.3 3.3-3.3-3.3zM505.7 298.7l3.3 3.3-3.3 3.3-3.3-3.3zM505.8 289.0l3.3 3.3-3.3 3.3-3.3-3.3zM505.8 264.3l3.3 3.3-3.3 3.3-3.3-3.3zM505.8 294.7l3.3 3.3-3.3 3.3-3.3-3.3zM505.9 320.8l3.3 3.3-3.3 3.3-3.3-3.3zM505.9 338.8l3.3 3.3-3.3 3.3-3.3-3.3zM506.0 433.4l3.3 3.3-3.3 3.3-3.3-3.3zM506.0 331.0l3.3 3.3-3.3 3.3-3.3-3.3zM506.1 309.5l3.3 3.3-3.3 3.3-3.3-3.3zM506.1 318.0l3.3 3.3-3.3 3.3-3.3-3.3zM506.3 327.3l3.3 3.3-3.3 3.3-3.3-3.3zM506.5 329.1l3.3 3.3-3.3 3.3-3.3-3.3zM506.7 300.6l3.3 3.3-3.3 3.3-3.3-3.3zM506.8 323.0l3.3 3.3-3.3 3.3-3.3-3.3zM506.8 349.2l3.3 3.3-3.3 3.3-3.3-3.3zM506.9 308.0l3.3 3.3-3.3 3.3-3.3-3.3zM506.9 330.8l3.3 3.3-3.3 3.3-3.3-3.3zM507.0 301.6l3.3 3.3-3.3 3.3-3.3-3.3zM507.2 281.8l3.3 3.3-3.3 3.3-3.3-3.3zM507.3 335.4l3.3 3.3-3.3 3.3-3.3-3.3zM507.3 286.2l3.3 3.3-3.3 3.3-3.3-3.3zM507.5 317.7l3.3 3.3-3.3 3.3-3.3-3.3zM507.6 286.8l3.3 3.3-3.3 3.3-3.3-3.3zM507.8 318.6l3.3 3.3-3.3 3.3-3.3-3.3zM507.8 263.5l3.3 3.3-3.3 3.3-3.3-3.3zM507.8 306.1l3.3 3.3-3.3 3.3-3.3-3.3zM507.8 305.4l3.3 3.3-3.3 3.3-3.3-3.3zM507.9 306.0l3.3 3.3-3.3 3.3-3.3-3.3zM507.9 332.5l3.3 3.3-3.3 3.3-3.3-3.3zM508.0 300.3l3.3 3.3-3.3 3.3-3.3-3.3zM508.2 258.2l3.3 3.3-3.3 3.3-3.3-3.3zM508.2 281.4l3.3 3.3-3.3 3.3-3.3-3.3zM508.4 347.4l3.3 3.3-3.3 3.3-3.3-3.3zM508.5 289.7l3.3 3.3-3.3 3.3-3.3-3.3zM508.7 254.4l3.3 3.3-3.3 3.3-3.3-3.3zM508.7 290.4l3.3 3.3-3.3 3.3-3.3-3.3zM508.7 324.9l3.3 3.3-3.3 3.3-3.3-3.3zM508.8 221.4l3.3 3.3-3.3 3.3-3.3-3.3zM508.9 279.5l3.3 3.3-3.3 3.3-3.3-3.3zM509.0 309.1l3.3 3.3-3.3 3.3-3.3-3.3zM509.3 287.6l3.3 3.3-3.3 3.3-3.3-3.3zM509.3 328.4l3.3 3.3-3.3 3.3-3.3-3.3zM509.4 333.7l3.3 3.3-3.3 3.3-3.3-3.3zM509.5 316.8l3.3 3.3-3.3 3.3-3.3-3.3zM509.5 312.1l3.3 3.3-3.3 3.3-3.3-3.3zM509.5 305.9l3.3 3.3-3.3 3.3-3.3-3.3zM509.6 335.7l3.3 3.3-3.3 3.3-3.3-3.3zM509.7 314.0l3.3 3.3-3.3 3.3-3.3-3.3zM509.8 329.5l3.3 3.3-3.3 3.3-3.3-3.3zM509.8 333.2l3.3 3.3-3.3 3.3-3.3-3.3zM509.9 298.5l3.3 3.3-3.3 3.3-3.3-3.3zM509.9 318.7l3.3 3.3-3.3 3.3-3.3-3.3zM509.9 342.7l3.3 3.3-3.3 3.3-3.3-3.3zM510.0 307.0l3.3 3.3-3.3 3.3-3.3-3.3zM510.3 344.6l3.3 3.3-3.3 3.3-3.3-3.3zM510.4 318.5l3.3 3.3-3.3 3.3-3.3-3.3zM510.5 357.3l3.3 3.3-3.3 3.3-3.3-3.3zM510.5 339.4l3.3 3.3-3.3 3.3-3.3-3.3zM510.9 383.1l3.3 3.3-3.3 3.3-3.3-3.3zM511.0 281.4l3.3 3.3-3.3 3.3-3.3-3.3zM511.0 299.4l3.3 3.3-3.3 3.3-3.3-3.3zM511.2 301.9l3.3 3.3-3.3 3.3-3.3-3.3zM511.7 314.2l3.3 3.3-3.3 3.3-3.3-3.3zM511.8 304.5l3.3 3.3-3.3 3.3-3.3-3.3zM511.8 271.6l3.3 3.3-3.3 3.3-3.3-3.3zM511.9 317.3l3.3 3.3-3.3 3.3-3.3-3.3zM511.9 322.3l3.3 3.3-3.3 3.3-3.3-3.3zM511.9 309.2l3.3 3.3-3.3 3.3-3.3-3.3zM512.1 298.3l3.3 3.3-3.3 3.3-3.3-3.3zM512.3 338.5l3.3 3.3-3.3 3.3-3.3-3.3zM512.4 303.3l3.3 3.3-3.3 3.3-3.3-3.3zM512.4 259.7l3.3 3.3-3.3 3.3-3.3-3.3zM512.4 347.4l3.3 3.3-3.3 3.3-3.3-3.3zM512.5 287.2l3.3 3.3-3.3 3.3-3.3-3.3zM512.5 293.7l3.3 3.3-3.3 3.3-3.3-3.3zM512.5 324.2l3.3 3.3-3.3 3.3-3.3-3.3zM512.5 293.0l3.3 3.3-3.3 3.3-3.3-3.3zM512.6 321.5l3.3 3.3-3.3 3.3-3.3-3.3zM512.8 305.1l3.3 3.3-3.3 3.3-3.3-3.3zM513.0 243.2l3.3 3.3-3.3 3.3-3.3-3.3zM513.0 334.1l3.3 3.3-3.3 3.3-3.3-3.3zM513.1 289.7l3.3 3.3-3.3 3.3-3.3-3.3zM513.3 300.3l3.3 3.3-3.3 3.3-3.3-3.3zM513.4 319.8l3.3 3.3-3.3 3.3-3.3-3.3zM513.4 306.0l3.3 3.3-3.3 3.3-3.3-3.3zM513.6 297.5l3.3 3.3-3.3 3.3-3.3-3.3zM513.6 321.5l3.3 3.3-3.3 3.3-3.3-3.3zM514.2 315.3l3.3 3.3-3.3 3.3-3.3-3.3zM514.2 328.0l3.3 3.3-3.3 3.3-3.3-3.3zM514.5 302.8l3.3 3.3-3.3 3.3-3.3-3.3zM514.7 336.6l3.3 3.3-3.3 3.3-3.3-3.3zM514.8 293.0l3.3 3.3-3.3 3.3-3.3-3.3zM514.9 313.8l3.3 3.3-3.3 3.3-3.3-3.3zM515.0 283.7l3.3 3.3-3.3 3.3-3.3-3.3zM515.2 285.5l3.3 3.3-3.3 3.3-3.3-3.3zM515.3 325.9l3.3 3.3-3.3 3.3-3.3-3.3zM515.4 333.2l3.3 3.3-3.3 3.3-3.3-3.3zM515.5 277.0l3.3 3.3-3.3 3.3-3.3-3.3zM515.7 312.0l3.3 3.3-3.3 3.3-3.3-3.3zM515.9 304.7l3.3 3.3-3.3 3.3-3.3-3.3zM515.9 296.1l3.3 3.3-3.3 3.3-3.3-3.3zM515.9 312.3l3.3 3.3-3.3 3.3-3.3-3.3zM516.1 308.6l3.3 3.3-3.3 3.3-3.3-3.3zM516.1 323.4l3.3 3.3-3.3 3.3-3.3-3.3zM516.1 301.5l3.3 3.3-3.3 3.3-3.3-3.3zM516.2 323.7l3.3 3.3-3.3 3.3-3.3-3.3zM516.2 294.2l3.3 3.3-3.3 3.3-3.3-3.3zM516.4 287.2l3.3 3.3-3.3 3.3-3.3-3.3zM516.8 290.5l3.3 3.3-3.3 3.3-3.3-3.3zM516.8 318.9l3.3 3.3-3.3 3.3-3.3-3.3zM517.0 314.6l3.3 3.3-3.3 3.3-3.3-3.3zM517.2 283.8l3.3 3.3-3.3 3.3-3.3-3.3zM517.3 309.0l3.3 3.3-3.3 3.3-3.3-3.3zM517.5 266.6l3.3 3.3-3.3 3.3-3.3-3.3zM517.5 327.8l3.3 3.3-3.3 3.3-3.3-3.3zM517.6 315.4l3.3 3.3-3.3 3.3-3.3-3.3zM517.6 371.9l3.3 3.3-3.3 3.3-3.3-3.3zM517.7 337.4l3.3 3.3-3.3 3.3-3.3-3.3zM517.8 265.7l3.3 3.3-3.3 3.3-3.3-3.3zM517.9 280.7l3.3 3.3-3.3 3.3-3.3-3.3zM517.9 275.4l3.3 3.3-3.3 3.3-3.3-3.3zM518.0 318.8l3.3 3.3-3.3 3.3-3.3-3.3zM518.0 275.7l3.3 3.3-3.3 3.3-3.3-3.3zM518.1 326.5l3.3 3.3-3.3 3.3-3.3-3.3zM518.2 335.9l3.3 3.3-3.3 3.3-3.3-3.3zM518.3 315.4l3.3 3.3-3.3 3.3-3.3-3.3zM518.3 322.3l3.3 3.3-3.3 3.3-3.3-3.3zM518.4 278.9l3.3 3.3-3.3 3.3-3.3-3.3zM518.5 282.4l3.3 3.3-3.3 3.3-3.3-3.3zM518.5 311.6l3.3 3.3-3.3 3.3-3.3-3.3zM518.6 281.7l3.3 3.3-3.3 3.3-3.3-3.3zM518.6 304.8l3.3 3.3-3.3 3.3-3.3-3.3zM518.7 297.6l3.3 3.3-3.3 3.3-3.3-3.3zM518.9 334.5l3.3 3.3-3.3 3.3-3.3-3.3zM519.1 317.6l3.3 3.3-3.3 3.3-3.3-3.3zM519.1 308.4l3.3 3.3-3.3 3.3-3.3-3.3zM519.2 306.0l3.3 3.3-3.3 3.3-3.3-3.3zM519.2 270.8l3.3 3.3-3.3 3.3-3.3-3.3zM519.3 320.2l3.3 3.3-3.3 3.3-3.3-3.3zM519.3 315.7l3.3 3.3-3.3 3.3-3.3-3.3zM519.4 335.9l3.3 3.3-3.3 3.3-3.3-3.3zM519.6 329.3l3.3 3.3-3.3 3.3-3.3-3.3zM519.7 344.6l3.3 3.3-3.3 3.3-3.3-3.3zM519.7 307.8l3.3 3.3-3.3 3.3-3.3-3.3zM519.9 292.4l3.3 3.3-3.3 3.3-3.3-3.3zM519.9 307.3l3.3 3.3-3.3 3.3-3.3-3.3zM520.1 287.7l3.3 3.3-3.3 3.3-3.3-3.3zM520.1 300.2l3.3 3.3-3.3 3.3-3.3-3.3zM520.2 263.3l3.3 3.3-3.3 3.3-3.3-3.3zM520.3 354.0l3.3 3.3-3.3 3.3-3.3-3.3zM520.3 295.0l3.3 3.3-3.3 3.3-3.3-3.3zM520.3 315.4l3.3 3.3-3.3 3.3-3.3-3.3zM520.3 282.1l3.3 3.3-3.3 3.3-3.3-3.3zM520.4 255.3l3.3 3.3-3.3 3.3-3.3-3.3zM520.5 257.0l3.3 3.3-3.3 3.3-3.3-3.3zM520.6 322.9l3.3 3.3-3.3 3.3-3.3-3.3zM520.7 314.5l3.3 3.3-3.3 3.3-3.3-3.3zM520.9 249.4l3.3 3.3-3.3 3.3-3.3-3.3zM520.9 302.6l3.3 3.3-3.3 3.3-3.3-3.3zM520.9 288.3l3.3 3.3-3.3 3.3-3.3-3.3zM520.9 329.5l3.3 3.3-3.3 3.3-3.3-3.3zM521.3 324.6l3.3 3.3-3.3 3.3-3.3-3.3zM521.4 344.0l3.3 3.3-3.3 3.3-3.3-3.3zM521.4 334.6l3.3 3.3-3.3 3.3-3.3-3.3zM521.7 305.3l3.3 3.3-3.3 3.3-3.3-3.3zM521.8 296.3l3.3 3.3-3.3 3.3-3.3-3.3zM521.9 331.1l3.3 3.3-3.3 3.3-3.3-3.3zM521.9 285.0l3.3 3.3-3.3 3.3-3.3-3.3zM521.9 301.7l3.3 3.3-3.3 3.3-3.3-3.3zM522.0 292.0l3.3 3.3-3.3 3.3-3.3-3.3zM522.2 322.1l3.3 3.3-3.3 3.3-3.3-3.3zM522.3 333.0l3.3 3.3-3.3 3.3-3.3-3.3zM522.3 308.3l3.3 3.3-3.3 3.3-3.3-3.3zM522.4 286.8l3.3 3.3-3.3 3.3-3.3-3.3zM522.5 327.4l3.3 3.3-3.3 3.3-3.3-3.3zM522.5 210.4l3.3 3.3-3.3 3.3-3.3-3.3zM522.6 317.1l3.3 3.3-3.3 3.3-3.3-3.3zM522.7 302.7l3.3 3.3-3.3 3.3-3.3-3.3zM522.7 329.9l3.3 3.3-3.3 3.3-3.3-3.3zM522.7 314.2l3.3 3.3-3.3 3.3-3.3-3.3zM522.9 313.4l3.3 3.3-3.3 3.3-3.3-3.3zM523.1 292.1l3.3 3.3-3.3 3.3-3.3-3.3zM523.1 309.6l3.3 3.3-3.3 3.3-3.3-3.3zM523.1 297.9l3.3 3.3-3.3 3.3-3.3-3.3zM523.4 380.8l3.3 3.3-3.3 3.3-3.3-3.3zM523.6 297.3l3.3 3.3-3.3 3.3-3.3-3.3zM523.7 366.4l3.3 3.3-3.3 3.3-3.3-3.3zM523.9 289.5l3.3 3.3-3.3 3.3-3.3-3.3zM524.1 256.5l3.3 3.3-3.3 3.3-3.3-3.3zM524.1 268.3l3.3 3.3-3.3 3.3-3.3-3.3zM524.1 360.4l3.3 3.3-3.3 3.3-3.3-3.3zM524.1 307.4l3.3 3.3-3.3 3.3-3.3-3.3zM524.3 390.0l3.3 3.3-3.3 3.3-3.3-3.3zM524.3 293.2l3.3 3.3-3.3 3.3-3.3-3.3zM524.5 314.8l3.3 3.3-3.3 3.3-3.3-3.3zM524.7 287.1l3.3 3.3-3.3 3.3-3.3-3.3zM524.8 332.5l3.3 3.3-3.3 3.3-3.3-3.3zM524.8 283.7l3.3 3.3-3.3 3.3-3.3-3.3zM524.9 299.5l3.3 3.3-3.3 3.3-3.3-3.3zM524.9 289.4l3.3 3.3-3.3 3.3-3.3-3.3zM525.1 259.4l3.3 3.3-3.3 3.3-3.3-3.3zM525.1 332.3l3.3 3.3-3.3 3.3-3.3-3.3zM525.2 253.5l3.3 3.3-3.3 3.3-3.3-3.3zM525.2 322.3l3.3 3.3-3.3 3.3-3.3-3.3zM525.3 307.5l3.3 3.3-3.3 3.3-3.3-3.3zM525.5 320.5l3.3 3.3-3.3 3.3-3.3-3.3zM525.5 319.1l3.3 3.3-3.3 3.3-3.3-3.3zM525.5 412.4l3.3 3.3-3.3 3.3-3.3-3.3zM525.5 242.7l3.3 3.3-3.3 3.3-3.3-3.3zM525.5 312.9l3.3 3.3-3.3 3.3-3.3-3.3zM525.5 346.6l3.3 3.3-3.3 3.3-3.3-3.3zM525.7 349.2l3.3 3.3-3.3 3.3-3.3-3.3zM525.8 310.5l3.3 3.3-3.3 3.3-3.3-3.3zM525.8 266.2l3.3 3.3-3.3 3.3-3.3-3.3zM526.1 303.9l3.3 3.3-3.3 3.3-3.3-3.3zM526.3 276.2l3.3 3.3-3.3 3.3-3.3-3.3zM526.3 320.4l3.3 3.3-3.3 3.3-3.3-3.3zM526.4 295.8l3.3 3.3-3.3 3.3-3.3-3.3zM526.4 321.9l3.3 3.3-3.3 3.3-3.3-3.3zM526.4 326.0l3.3 3.3-3.3 3.3-3.3-3.3zM526.5 333.6l3.3 3.3-3.3 3.3-3.3-3.3zM526.6 412.0l3.3 3.3-3.3 3.3-3.3-3.3zM526.8 317.1l3.3 3.3-3.3 3.3-3.3-3.3zM526.8 328.8l3.3 3.3-3.3 3.3-3.3-3.3zM527.2 311.4l3.3 3.3-3.3 3.3-3.3-3.3zM527.2 333.6l3.3 3.3-3.3 3.3-3.3-3.3zM527.3 274.2l3.3 3.3-3.3 3.3-3.3-3.3zM527.4 299.3l3.3 3.3-3.3 3.3-3.3-3.3zM527.5 288.1l3.3 3.3-3.3 3.3-3.3-3.3zM527.6 332.6l3.3 3.3-3.3 3.3-3.3-3.3zM527.6 300.8l3.3 3.3-3.3 3.3-3.3-3.3zM527.6 318.7l3.3 3.3-3.3 3.3-3.3-3.3zM527.6 321.4l3.3 3.3-3.3 3.3-3.3-3.3zM527.6 303.1l3.3 3.3-3.3 3.3-3.3-3.3zM527.8 322.7l3.3 3.3-3.3 3.3-3.3-3.3zM527.9 263.5l3.3 3.3-3.3 3.3-3.3-3.3zM528.0 288.8l3.3 3.3-3.3 3.3-3.3-3.3zM528.2 281.6l3.3 3.3-3.3 3.3-3.3-3.3zM528.3 342.8l3.3 3.3-3.3 3.3-3.3-3.3zM528.3 310.5l3.3 3.3-3.3 3.3-3.3-3.3zM528.3 266.1l3.3 3.3-3.3 3.3-3.3-3.3zM528.3 316.4l3.3 3.3-3.3 3.3-3.3-3.3zM528.6 310.8l3.3 3.3-3.3 3.3-3.3-3.3zM528.6 340.9l3.3 3.3-3.3 3.3-3.3-3.3zM528.6 367.2l3.3 3.3-3.3 3.3-3.3-3.3zM529.0 328.4l3.3 3.3-3.3 3.3-3.3-3.3zM529.1 312.7l3.3 3.3-3.3 3.3-3.3-3.3zM529.1 295.4l3.3 3.3-3.3 3.3-3.3-3.3zM529.1 331.8l3.3 3.3-3.3 3.3-3.3-3.3zM529.2 309.3l3.3 3.3-3.3 3.3-3.3-3.3zM529.3 290.9l3.3 3.3-3.3 3.3-3.3-3.3zM529.4 294.6l3.3 3.3-3.3 3.3-3.3-3.3zM529.5 311.1l3.3 3.3-3.3 3.3-3.3-3.3zM529.6 302.3l3.3 3.3-3.3 3.3-3.3-3.3zM530.2 281.3l3.3 3.3-3.3 3.3-3.3-3.3zM530.2 314.9l3.3 3.3-3.3 3.3-3.3-3.3zM530.4 284.4l3.3 3.3-3.3 3.3-3.3-3.3zM530.4 320.9l3.3 3.3-3.3 3.3-3.3-3.3zM530.5 306.2l3.3 3.3-3.3 3.3-3.3-3.3zM530.6 269.8l3.3 3.3-3.3 3.3-3.3-3.3zM530.6 308.9l3.3 3.3-3.3 3.3-3.3-3.3zM530.8 215.9l3.3 3.3-3.3 3.3-3.3-3.3zM530.9 301.0l3.3 3.3-3.3 3.3-3.3-3.3zM530.9 307.8l3.3 3.3-3.3 3.3-3.3-3.3zM531.1 288.3l3.3 3.3-3.3 3.3-3.3-3.3zM531.2 283.8l3.3 3.3-3.3 3.3-3.3-3.3zM531.2 298.5l3.3 3.3-3.3 3.3-3.3-3.3zM531.2 344.7l3.3 3.3-3.3 3.3-3.3-3.3zM531.2 243.4l3.3 3.3-3.3 3.3-3.3-3.3zM531.3 303.8l3.3 3.3-3.3 3.3-3.3-3.3zM531.3 317.1l3.3 3.3-3.3 3.3-3.3-3.3zM531.4 376.3l3.3 3.3-3.3 3.3-3.3-3.3zM531.7 324.4l3.3 3.3-3.3 3.3-3.3-3.3zM531.7 327.5l3.3 3.3-3.3 3.3-3.3-3.3zM531.7 300.2l3.3 3.3-3.3 3.3-3.3-3.3zM531.7 348.9l3.3 3.3-3.3 3.3-3.3-3.3zM531.7 292.0l3.3 3.3-3.3 3.3-3.3-3.3zM531.8 331.1l3.3 3.3-3.3 3.3-3.3-3.3zM532.0 314.8l3.3 3.3-3.3 3.3-3.3-3.3zM532.1 307.9l3.3 3.3-3.3 3.3-3.3-3.3zM532.2 299.3l3.3 3.3-3.3 3.3-3.3-3.3zM532.2 273.4l3.3 3.3-3.3 3.3-3.3-3.3zM532.3 262.8l3.3 3.3-3.3 3.3-3.3-3.3zM532.4 293.9l3.3 3.3-3.3 3.3-3.3-3.3zM532.5 173.9l3.3 3.3-3.3 3.3-3.3-3.3zM532.6 307.5l3.3 3.3-3.3 3.3-3.3-3.3zM532.6 298.8l3.3 3.3-3.3 3.3-3.3-3.3zM532.8 307.4l3.3 3.3-3.3 3.3-3.3-3.3zM533.1 318.1l3.3 3.3-3.3 3.3-3.3-3.3zM533.1 279.6l3.3 3.3-3.3 3.3-3.3-3.3zM533.6 313.9l3.3 3.3-3.3 3.3-3.3-3.3zM533.7 355.9l3.3 3.3-3.3 3.3-3.3-3.3zM534.1 327.7l3.3 3.3-3.3 3.3-3.3-3.3zM534.1 335.8l3.3 3.3-3.3 3.3-3.3-3.3zM534.2 305.0l3.3 3.3-3.3 3.3-3.3-3.3zM534.4 253.8l3.3 3.3-3.3 3.3-3.3-3.3zM534.5 373.3l3.3 3.3-3.3 3.3-3.3-3.3zM534.6 399.1l3.3 3.3-3.3 3.3-3.3-3.3zM534.6 316.3l3.3 3.3-3.3 3.3-3.3-3.3zM534.6 322.8l3.3 3.3-3.3 3.3-3.3-3.3zM534.6 304.2l3.3 3.3-3.3 3.3-3.3-3.3zM534.6 327.5l3.3 3.3-3.3 3.3-3.3-3.3zM534.6 321.5l3.3 3.3-3.3 3.3-3.3-3.3zM534.6 328.6l3.3 3.3-3.3 3.3-3.3-3.3zM534.9 284.9l3.3 3.3-3.3 3.3-3.3-3.3zM535.1 381.9l3.3 3.3-3.3 3.3-3.3-3.3zM535.1 334.0l3.3 3.3-3.3 3.3-3.3-3.3zM535.1 295.3l3.3 3.3-3.3 3.3-3.3-3.3zM535.2 267.4l3.3 3.3-3.3 3.3-3.3-3.3zM535.2 573.5l3.3 3.3-3.3 3.3-3.3-3.3zM535.3 302.9l3.3 3.3-3.3 3.3-3.3-3.3zM535.4 276.0l3.3 3.3-3.3 3.3-3.3-3.3zM535.4 301.1l3.3 3.3-3.3 3.3-3.3-3.3zM535.4 290.3l3.3 3.3-3.3 3.3-3.3-3.3zM535.6 282.9l3.3 3.3-3.3 3.3-3.3-3.3zM535.8 305.2l3.3 3.3-3.3 3.3-3.3-3.3zM535.8 311.6l3.3 3.3-3.3 3.3-3.3-3.3zM535.9 306.4l3.3 3.3-3.3 3.3-3.3-3.3zM535.9 362.3l3.3 3.3-3.3 3.3-3.3-3.3zM535.9 266.2l3.3 3.3-3.3 3.3-3.3-3.3zM535.9 249.1l3.3 3.3-3.3 3.3-3.3-3.3zM536.0 301.0l3.3 3.3-3.3 3.3-3.3-3.3zM536.0 295.8l3.3 3.3-3.3 3.3-3.3-3.3zM536.3 259.3l3.3 3.3-3.3 3.3-3.3-3.3zM536.3 323.5l3.3 3.3-3.3 3.3-3.3-3.3zM536.4 289.6l3.3 3.3-3.3 3.3-3.3-3.3zM536.5 403.1l3.3 3.3-3.3 3.3-3.3-3.3zM536.6 301.8l3.3 3.3-3.3 3.3-3.3-3.3zM536.6 391.8l3.3 3.3-3.3 3.3-3.3-3.3zM536.6 324.5l3.3 3.3-3.3 3.3-3.3-3.3zM536.7 319.8l3.3 3.3-3.3 3.3-3.3-3.3zM536.8 315.7l3.3 3.3-3.3 3.3-3.3-3.3zM537.0 307.6l3.3 3.3-3.3 3.3-3.3-3.3zM537.3 364.7l3.3 3.3-3.3 3.3-3.3-3.3zM537.3 299.1l3.3 3.3-3.3 3.3-3.3-3.3zM537.3 252.3l3.3 3.3-3.3 3.3-3.3-3.3zM537.4 392.5l3.3 3.3-3.3 3.3-3.3-3.3zM537.7 292.0l3.3 3.3-3.3 3.3-3.3-3.3zM537.8 328.1l3.3 3.3-3.3 3.3-3.3-3.3zM538.1 347.5l3.3 3.3-3.3 3.3-3.3-3.3zM538.2 345.5l3.3 3.3-3.3 3.3-3.3-3.3zM538.2 329.3l3.3 3.3-3.3 3.3-3.3-3.3zM538.3 311.9l3.3 3.3-3.3 3.3-3.3-3.3zM538.3 290.4l3.3 3.3-3.3 3.3-3.3-3.3zM538.4 300.4l3.3 3.3-3.3 3.3-3.3-3.3zM538.5 282.2l3.3 3.3-3.3 3.3-3.3-3.3zM538.9 283.6l3.3 3.3-3.3 3.3-3.3-3.3zM538.9 270.2l3.3 3.3-3.3 3.3-3.3-3.3zM539.2 499.2l3.3 3.3-3.3 3.3-3.3-3.3zM539.3 294.4l3.3 3.3-3.3 3.3-3.3-3.3zM539.3 249.6l3.3 3.3-3.3 3.3-3.3-3.3zM539.5 344.3l3.3 3.3-3.3 3.3-3.3-3.3zM539.5 236.2l3.3 3.3-3.3 3.3-3.3-3.3zM539.6 315.8l3.3 3.3-3.3 3.3-3.3-3.3zM539.7 313.8l3.3 3.3-3.3 3.3-3.3-3.3zM539.7 316.7l3.3 3.3-3.3 3.3-3.3-3.3zM539.8 248.4l3.3 3.3-3.3 3.3-3.3-3.3zM539.9 308.5l3.3 3.3-3.3 3.3-3.3-3.3zM540.0 386.4l3.3 3.3-3.3 3.3-3.3-3.3zM540.3 296.5l3.3 3.3-3.3 3.3-3.3-3.3zM540.5 201.9l3.3 3.3-3.3 3.3-3.3-3.3zM540.5 321.0l3.3 3.3-3.3 3.3-3.3-3.3zM540.6 287.3l3.3 3.3-3.3 3.3-3.3-3.3zM540.8 302.2l3.3 3.3-3.3 3.3-3.3-3.3zM540.8 293.9l3.3 3.3-3.3 3.3-3.3-3.3zM540.8 322.2l3.3 3.3-3.3 3.3-3.3-3.3zM540.9 291.1l3.3 3.3-3.3 3.3-3.3-3.3zM541.0 364.2l3.3 3.3-3.3 3.3-3.3-3.3zM541.1 306.0l3.3 3.3-3.3 3.3-3.3-3.3zM541.1 291.8l3.3 3.3-3.3 3.3-3.3-3.3zM541.2 253.9l3.3 3.3-3.3 3.3-3.3-3.3zM541.2 218.9l3.3 3.3-3.3 3.3-3.3-3.3zM541.3 312.6l3.3 3.3-3.3 3.3-3.3-3.3zM541.4 310.5l3.3 3.3-3.3 3.3-3.3-3.3zM541.5 286.8l3.3 3.3-3.3 3.3-3.3-3.3zM541.6 303.9l3.3 3.3-3.3 3.3-3.3-3.3zM541.8 287.0l3.3 3.3-3.3 3.3-3.3-3.3zM541.8 309.5l3.3 3.3-3.3 3.3-3.3-3.3zM542.1 336.9l3.3 3.3-3.3 3.3-3.3-3.3zM542.3 330.0l3.3 3.3-3.3 3.3-3.3-3.3zM542.4 290.8l3.3 3.3-3.3 3.3-3.3-3.3zM542.5 310.5l3.3 3.3-3.3 3.3-3.3-3.3zM542.6 256.3l3.3 3.3-3.3 3.3-3.3-3.3zM542.8 317.8l3.3 3.3-3.3 3.3-3.3-3.3zM542.8 285.3l3.3 3.3-3.3 3.3-3.3-3.3zM542.8 290.0l3.3 3.3-3.3 3.3-3.3-3.3zM542.9 312.8l3.3 3.3-3.3 3.3-3.3-3.3zM542.9 327.1l3.3 3.3-3.3 3.3-3.3-3.3zM542.9 322.1l3.3 3.3-3.3 3.3-3.3-3.3zM542.9 306.4l3.3 3.3-3.3 3.3-3.3-3.3zM542.9 269.1l3.3 3.3-3.3 3.3-3.3-3.3zM543.0 258.1l3.3 3.3-3.3 3.3-3.3-3.3zM543.0 314.4l3.3 3.3-3.3 3.3-3.3-3.3zM543.1 287.2l3.3 3.3-3.3 3.3-3.3-3.3zM543.1 359.6l3.3 3.3-3.3 3.3-3.3-3.3zM543.1 292.8l3.3 3.3-3.3 3.3-3.3-3.3zM543.2 213.4l3.3 3.3-3.3 3.3-3.3-3.3zM543.3 346.4l3.3 3.3-3.3 3.3-3.3-3.3zM543.3 317.5l3.3 3.3-3.3 3.3-3.3-3.3zM543.3 403.8l3.3 3.3-3.3 3.3-3.3-3.3zM543.3 300.0l3.3 3.3-3.3 3.3-3.3-3.3zM543.4 267.3l3.3 3.3-3.3 3.3-3.3-3.3zM543.6 272.4l3.3 3.3-3.3 3.3-3.3-3.3zM543.9 265.0l3.3 3.3-3.3 3.3-3.3-3.3zM544.1 325.1l3.3 3.3-3.3 3.3-3.3-3.3zM544.3 332.9l3.3 3.3-3.3 3.3-3.3-3.3zM544.4 390.2l3.3 3.3-3.3 3.3-3.3-3.3zM544.5 232.7l3.3 3.3-3.3 3.3-3.3-3.3zM544.8 398.7l3.3 3.3-3.3 3.3-3.3-3.3zM544.9 306.3l3.3 3.3-3.3 3.3-3.3-3.3zM545.0 431.4l3.3 3.3-3.3 3.3-3.3-3.3zM545.2 422.7l3.3 3.3-3.3 3.3-3.3-3.3zM545.3 294.2l3.3 3.3-3.3 3.3-3.3-3.3zM545.5 321.9l3.3 3.3-3.3 3.3-3.3-3.3zM545.7 276.8l3.3 3.3-3.3 3.3-3.3-3.3zM545.7 295.6l3.3 3.3-3.3 3.3-3.3-3.3zM545.7 302.5l3.3 3.3-3.3 3.3-3.3-3.3zM546.1 290.2l3.3 3.3-3.3 3.3-3.3-3.3zM546.1 333.0l3.3 3.3-3.3 3.3-3.3-3.3zM546.2 308.0l3.3 3.3-3.3 3.3-3.3-3.3zM546.3 302.4l3.3 3.3-3.3 3.3-3.3-3.3zM546.3 273.4l3.3 3.3-3.3 3.3-3.3-3.3zM546.6 322.9l3.3 3.3-3.3 3.3-3.3-3.3zM546.7 297.5l3.3 3.3-3.3 3.3-3.3-3.3zM546.8 269.4l3.3 3.3-3.3 3.3-3.3-3.3zM546.8 322.5l3.3 3.3-3.3 3.3-3.3-3.3zM546.9 298.4l3.3 3.3-3.3 3.3-3.3-3.3zM547.1 314.3l3.3 3.3-3.3 3.3-3.3-3.3zM547.1 318.4l3.3 3.3-3.3 3.3-3.3-3.3zM547.1 265.2l3.3 3.3-3.3 3.3-3.3-3.3zM547.2 306.9l3.3 3.3-3.3 3.3-3.3-3.3zM547.2 315.6l3.3 3.3-3.3 3.3-3.3-3.3zM547.2 303.0l3.3 3.3-3.3 3.3-3.3-3.3zM547.5 317.2l3.3 3.3-3.3 3.3-3.3-3.3zM547.8 285.8l3.3 3.3-3.3 3.3-3.3-3.3zM547.8 379.8l3.3 3.3-3.3 3.3-3.3-3.3zM547.9 339.2l3.3 3.3-3.3 3.3-3.3-3.3zM547.9 314.5l3.3 3.3-3.3 3.3-3.3-3.3zM547.9 312.1l3.3 3.3-3.3 3.3-3.3-3.3zM548.0 325.3l3.3 3.3-3.3 3.3-3.3-3.3zM548.3 296.0l3.3 3.3-3.3 3.3-3.3-3.3zM548.3 312.7l3.3 3.3-3.3 3.3-3.3-3.3zM548.4 343.5l3.3 3.3-3.3 3.3-3.3-3.3zM548.6 318.6l3.3 3.3-3.3 3.3-3.3-3.3zM548.7 304.1l3.3 3.3-3.3 3.3-3.3-3.3zM549.2 275.1l3.3 3.3-3.3 3.3-3.3-3.3zM549.4 296.0l3.3 3.3-3.3 3.3-3.3-3.3zM549.5 342.6l3.3 3.3-3.3 3.3-3.3-3.3zM549.5 424.7l3.3 3.3-3.3 3.3-3.3-3.3zM549.6 289.8l3.3 3.3-3.3 3.3-3.3-3.3zM549.6 317.3l3.3 3.3-3.3 3.3-3.3-3.3zM549.7 297.3l3.3 3.3-3.3 3.3-3.3-3.3zM549.7 333.3l3.3 3.3-3.3 3.3-3.3-3.3zM549.7 251.0l3.3 3.3-3.3 3.3-3.3-3.3zM549.9 318.5l3.3 3.3-3.3 3.3-3.3-3.3zM550.0 294.0l3.3 3.3-3.3 3.3-3.3-3.3zM550.3 338.6l3.3 3.3-3.3 3.3-3.3-3.3zM550.4 312.3l3.3 3.3-3.3 3.3-3.3-3.3zM550.4 310.0l3.3 3.3-3.3 3.3-3.3-3.3zM550.6 326.4l3.3 3.3-3.3 3.3-3.3-3.3zM550.6 343.0l3.3 3.3-3.3 3.3-3.3-3.3zM550.7 291.4l3.3 3.3-3.3 3.3-3.3-3.3zM550.7 323.2l3.3 3.3-3.3 3.3-3.3-3.3zM550.9 316.0l3.3 3.3-3.3 3.3-3.3-3.3zM551.0 348.4l3.3 3.3-3.3 3.3-3.3-3.3zM551.2 330.0l3.3 3.3-3.3 3.3-3.3-3.3zM551.2 300.3l3.3 3.3-3.3 3.3-3.3-3.3zM551.2 298.2l3.3 3.3-3.3 3.3-3.3-3.3zM551.3 285.4l3.3 3.3-3.3 3.3-3.3-3.3zM551.8 279.0l3.3 3.3-3.3 3.3-3.3-3.3zM551.8 310.0l3.3 3.3-3.3 3.3-3.3-3.3zM551.8 344.7l3.3 3.3-3.3 3.3-3.3-3.3zM551.9 298.5l3.3 3.3-3.3 3.3-3.3-3.3zM552.1 286.5l3.3 3.3-3.3 3.3-3.3-3.3zM552.3 360.7l3.3 3.3-3.3 3.3-3.3-3.3zM552.3 286.9l3.3 3.3-3.3 3.3-3.3-3.3zM552.6 333.8l3.3 3.3-3.3 3.3-3.3-3.3zM552.7 344.7l3.3 3.3-3.3 3.3-3.3-3.3zM552.8 290.4l3.3 3.3-3.3 3.3-3.3-3.3zM552.9 335.3l3.3 3.3-3.3 3.3-3.3-3.3zM552.9 331.5l3.3 3.3-3.3 3.3-3.3-3.3zM553.1 305.7l3.3 3.3-3.3 3.3-3.3-3.3zM553.2 317.0l3.3 3.3-3.3 3.3-3.3-3.3zM553.3 315.1l3.3 3.3-3.3 3.3-3.3-3.3zM553.6 340.8l3.3 3.3-3.3 3.3-3.3-3.3zM553.6 324.0l3.3 3.3-3.3 3.3-3.3-3.3zM553.7 303.0l3.3 3.3-3.3 3.3-3.3-3.3zM553.9 298.6l3.3 3.3-3.3 3.3-3.3-3.3zM554.1 346.0l3.3 3.3-3.3 3.3-3.3-3.3zM554.1 268.9l3.3 3.3-3.3 3.3-3.3-3.3zM554.1 302.3l3.3 3.3-3.3 3.3-3.3-3.3zM554.3 291.9l3.3 3.3-3.3 3.3-3.3-3.3zM554.4 296.8l3.3 3.3-3.3 3.3-3.3-3.3zM554.4 296.4l3.3 3.3-3.3 3.3-3.3-3.3zM554.5 328.5l3.3 3.3-3.3 3.3-3.3-3.3zM554.6 275.9l3.3 3.3-3.3 3.3-3.3-3.3zM554.6 300.9l3.3 3.3-3.3 3.3-3.3-3.3zM554.7 347.2l3.3 3.3-3.3 3.3-3.3-3.3zM554.7 291.5l3.3 3.3-3.3 3.3-3.3-3.3zM554.8 286.0l3.3 3.3-3.3 3.3-3.3-3.3zM554.8 311.0l3.3 3.3-3.3 3.3-3.3-3.3zM554.9 272.0l3.3 3.3-3.3 3.3-3.3-3.3zM555.0 260.2l3.3 3.3-3.3 3.3-3.3-3.3zM555.0 245.2l3.3 3.3-3.3 3.3-3.3-3.3zM555.1 285.7l3.3 3.3-3.3 3.3-3.3-3.3zM555.2 273.1l3.3 3.3-3.3 3.3-3.3-3.3zM555.3 314.0l3.3 3.3-3.3 3.3-3.3-3.3zM555.3 299.8l3.3 3.3-3.3 3.3-3.3-3.3zM555.4 279.6l3.3 3.3-3.3 3.3-3.3-3.3zM555.7 320.3l3.3 3.3-3.3 3.3-3.3-3.3zM555.8 302.8l3.3 3.3-3.3 3.3-3.3-3.3zM556.0 311.1l3.3 3.3-3.3 3.3-3.3-3.3zM556.2 364.6l3.3 3.3-3.3 3.3-3.3-3.3zM556.4 322.1l3.3 3.3-3.3 3.3-3.3-3.3zM556.4 306.8l3.3 3.3-3.3 3.3-3.3-3.3zM556.4 309.5l3.3 3.3-3.3 3.3-3.3-3.3zM556.6 339.8l3.3 3.3-3.3 3.3-3.3-3.3zM556.7 315.3l3.3 3.3-3.3 3.3-3.3-3.3zM556.7 308.6l3.3 3.3-3.3 3.3-3.3-3.3zM556.7 257.8l3.3 3.3-3.3 3.3-3.3-3.3zM556.7 335.6l3.3 3.3-3.3 3.3-3.3-3.3zM556.8 192.7l3.3 3.3-3.3 3.3-3.3-3.3zM556.9 312.6l3.3 3.3-3.3 3.3-3.3-3.3zM556.9 306.7l3.3 3.3-3.3 3.3-3.3-3.3zM557.2 322.3l3.3 3.3-3.3 3.3-3.3-3.3zM557.2 295.1l3.3 3.3-3.3 3.3-3.3-3.3zM557.2 446.4l3.3 3.3-3.3 3.3-3.3-3.3zM557.5 329.8l3.3 3.3-3.3 3.3-3.3-3.3zM557.5 421.4l3.3 3.3-3.3 3.3-3.3-3.3zM557.5 294.4l3.3 3.3-3.3 3.3-3.3-3.3zM557.8 287.1l3.3 3.3-3.3 3.3-3.3-3.3zM557.8 280.6l3.3 3.3-3.3 3.3-3.3-3.3zM557.9 293.2l3.3 3.3-3.3 3.3-3.3-3.3zM557.9 310.3l3.3 3.3-3.3 3.3-3.3-3.3zM558.0 309.1l3.3 3.3-3.3 3.3-3.3-3.3zM558.1 291.8l3.3 3.3-3.3 3.3-3.3-3.3zM558.2 317.3l3.3 3.3-3.3 3.3-3.3-3.3zM558.4 319.1l3.3 3.3-3.3 3.3-3.3-3.3zM558.5 349.2l3.3 3.3-3.3 3.3-3.3-3.3zM558.8 306.1l3.3 3.3-3.3 3.3-3.3-3.3zM559.0 521.0l3.3 3.3-3.3 3.3-3.3-3.3zM559.1 327.3l3.3 3.3-3.3 3.3-3.3-3.3zM559.2 296.1l3.3 3.3-3.3 3.3-3.3-3.3zM559.2 282.1l3.3 3.3-3.3 3.3-3.3-3.3zM559.3 285.8l3.3 3.3-3.3 3.3-3.3-3.3zM559.3 302.8l3.3 3.3-3.3 3.3-3.3-3.3zM559.3 302.7l3.3 3.3-3.3 3.3-3.3-3.3zM559.9 276.7l3.3 3.3-3.3 3.3-3.3-3.3zM560.0 301.2l3.3 3.3-3.3 3.3-3.3-3.3zM560.0 362.1l3.3 3.3-3.3 3.3-3.3-3.3zM560.1 296.3l3.3 3.3-3.3 3.3-3.3-3.3zM560.5 265.0l3.3 3.3-3.3 3.3-3.3-3.3zM560.6 299.4l3.3 3.3-3.3 3.3-3.3-3.3zM560.8 314.8l3.3 3.3-3.3 3.3-3.3-3.3zM561.0 302.4l3.3 3.3-3.3 3.3-3.3-3.3zM561.1 308.5l3.3 3.3-3.3 3.3-3.3-3.3zM561.5 283.1l3.3 3.3-3.3 3.3-3.3-3.3zM561.5 265.4l3.3 3.3-3.3 3.3-3.3-3.3zM561.9 273.2l3.3 3.3-3.3 3.3-3.3-3.3zM561.9 255.1l3.3 3.3-3.3 3.3-3.3-3.3zM562.1 311.8l3.3 3.3-3.3 3.3-3.3-3.3zM562.2 275.5l3.3 3.3-3.3 3.3-3.3-3.3zM562.5 318.7l3.3 3.3-3.3 3.3-3.3-3.3zM562.6 304.6l3.3 3.3-3.3 3.3-3.3-3.3zM562.6 275.5l3.3 3.3-3.3 3.3-3.3-3.3zM563.1 292.0l3.3 3.3-3.3 3.3-3.3-3.3zM563.2 339.7l3.3 3.3-3.3 3.3-3.3-3.3zM563.2 303.6l3.3 3.3-3.3 3.3-3.3-3.3zM563.5 340.8l3.3 3.3-3.3 3.3-3.3-3.3zM563.7 264.8l3.3 3.3-3.3 3.3-3.3-3.3zM563.8 310.2l3.3 3.3-3.3 3.3-3.3-3.3zM564.2 300.7l3.3 3.3-3.3 3.3-3.3-3.3zM564.4 363.6l3.3 3.3-3.3 3.3-3.3-3.3zM564.7 333.3l3.3 3.3-3.3 3.3-3.3-3.3zM565.0 301.0l3.3 3.3-3.3 3.3-3.3-3.3zM565.1 314.6l3.3 3.3-3.3 3.3-3.3-3.3zM565.2 321.5l3.3 3.3-3.3 3.3-3.3-3.3zM565.2 307.5l3.3 3.3-3.3 3.3-3.3-3.3zM565.3 310.3l3.3 3.3-3.3 3.3-3.3-3.3zM565.6 329.5l3.3 3.3-3.3 3.3-3.3-3.3zM565.9 294.6l3.3 3.3-3.3 3.3-3.3-3.3zM565.9 282.3l3.3 3.3-3.3 3.3-3.3-3.3zM565.9 308.5l3.3 3.3-3.3 3.3-3.3-3.3zM566.0 343.5l3.3 3.3-3.3 3.3-3.3-3.3zM566.1 287.9l3.3 3.3-3.3 3.3-3.3-3.3zM566.2 244.4l3.3 3.3-3.3 3.3-3.3-3.3zM566.3 318.8l3.3 3.3-3.3 3.3-3.3-3.3zM566.4 343.0l3.3 3.3-3.3 3.3-3.3-3.3zM566.5 303.6l3.3 3.3-3.3 3.3-3.3-3.3zM566.7 287.3l3.3 3.3-3.3 3.3-3.3-3.3zM566.8 310.7l3.3 3.3-3.3 3.3-3.3-3.3zM566.8 303.6l3.3 3.3-3.3 3.3-3.3-3.3zM566.9 313.0l3.3 3.3-3.3 3.3-3.3-3.3zM566.9 306.2l3.3 3.3-3.3 3.3-3.3-3.3zM566.9 342.6l3.3 3.3-3.3 3.3-3.3-3.3zM567.0 220.9l3.3 3.3-3.3 3.3-3.3-3.3zM567.2 268.4l3.3 3.3-3.3 3.3-3.3-3.3zM567.2 299.3l3.3 3.3-3.3 3.3-3.3-3.3zM567.9 339.0l3.3 3.3-3.3 3.3-3.3-3.3zM568.2 317.4l3.3 3.3-3.3 3.3-3.3-3.3zM568.2 313.5l3.3 3.3-3.3 3.3-3.3-3.3zM568.2 321.7l3.3 3.3-3.3 3.3-3.3-3.3zM568.3 293.9l3.3 3.3-3.3 3.3-3.3-3.3zM568.3 304.3l3.3 3.3-3.3 3.3-3.3-3.3zM568.5 320.5l3.3 3.3-3.3 3.3-3.3-3.3zM568.6 330.0l3.3 3.3-3.3 3.3-3.3-3.3zM568.9 280.3l3.3 3.3-3.3 3.3-3.3-3.3zM569.2 323.3l3.3 3.3-3.3 3.3-3.3-3.3zM569.2 295.2l3.3 3.3-3.3 3.3-3.3-3.3zM569.3 252.3l3.3 3.3-3.3 3.3-3.3-3.3zM569.5 258.6l3.3 3.3-3.3 3.3-3.3-3.3zM569.6 329.9l3.3 3.3-3.3 3.3-3.3-3.3zM569.6 296.6l3.3 3.3-3.3 3.3-3.3-3.3zM569.7 311.2l3.3 3.3-3.3 3.3-3.3-3.3zM570.0 333.1l3.3 3.3-3.3 3.3-3.3-3.3zM570.1 299.8l3.3 3.3-3.3 3.3-3.3-3.3zM570.3 306.1l3.3 3.3-3.3 3.3-3.3-3.3zM570.3 298.9l3.3 3.3-3.3 3.3-3.3-3.3zM570.5 275.1l3.3 3.3-3.3 3.3-3.3-3.3zM570.8 315.9l3.3 3.3-3.3 3.3-3.3-3.3zM570.8 343.5l3.3 3.3-3.3 3.3-3.3-3.3zM570.8 314.6l3.3 3.3-3.3 3.3-3.3-3.3zM570.8 326.3l3.3 3.3-3.3 3.3-3.3-3.3zM571.0 296.5l3.3 3.3-3.3 3.3-3.3-3.3zM571.0 301.4l3.3 3.3-3.3 3.3-3.3-3.3zM571.3 317.3l3.3 3.3-3.3 3.3-3.3-3.3zM571.5 261.5l3.3 3.3-3.3 3.3-3.3-3.3zM571.6 306.4l3.3 3.3-3.3 3.3-3.3-3.3zM571.6 310.0l3.3 3.3-3.3 3.3-3.3-3.3zM571.6 311.1l3.3 3.3-3.3 3.3-3.3-3.3zM571.6 298.7l3.3 3.3-3.3 3.3-3.3-3.3zM571.7 283.9l3.3 3.3-3.3 3.3-3.3-3.3zM571.7 307.9l3.3 3.3-3.3 3.3-3.3-3.3zM571.7 318.1l3.3 3.3-3.3 3.3-3.3-3.3zM571.9 295.3l3.3 3.3-3.3 3.3-3.3-3.3zM572.2 308.3l3.3 3.3-3.3 3.3-3.3-3.3zM572.2 320.8l3.3 3.3-3.3 3.3-3.3-3.3zM572.2 272.9l3.3 3.3-3.3 3.3-3.3-3.3zM572.2 258.8l3.3 3.3-3.3 3.3-3.3-3.3zM572.4 292.4l3.3 3.3-3.3 3.3-3.3-3.3zM572.6 291.9l3.3 3.3-3.3 3.3-3.3-3.3zM572.6 283.1l3.3 3.3-3.3 3.3-3.3-3.3zM573.0 300.9l3.3 3.3-3.3 3.3-3.3-3.3zM573.3 310.8l3.3 3.3-3.3 3.3-3.3-3.3zM573.7 324.3l3.3 3.3-3.3 3.3-3.3-3.3zM573.9 297.6l3.3 3.3-3.3 3.3-3.3-3.3zM574.2 290.2l3.3 3.3-3.3 3.3-3.3-3.3zM574.4 278.3l3.3 3.3-3.3 3.3-3.3-3.3zM574.5 353.0l3.3 3.3-3.3 3.3-3.3-3.3zM574.5 318.1l3.3 3.3-3.3 3.3-3.3-3.3zM574.9 282.7l3.3 3.3-3.3 3.3-3.3-3.3zM575.0 273.1l3.3 3.3-3.3 3.3-3.3-3.3zM575.4 317.9l3.3 3.3-3.3 3.3-3.3-3.3zM575.5 313.8l3.3 3.3-3.3 3.3-3.3-3.3zM575.5 351.6l3.3 3.3-3.3 3.3-3.3-3.3zM575.5 347.6l3.3 3.3-3.3 3.3-3.3-3.3zM575.6 290.8l3.3 3.3-3.3 3.3-3.3-3.3zM575.7 307.2l3.3 3.3-3.3 3.3-3.3-3.3zM575.8 294.2l3.3 3.3-3.3 3.3-3.3-3.3zM575.8 318.0l3.3 3.3-3.3 3.3-3.3-3.3zM575.9 279.5l3.3 3.3-3.3 3.3-3.3-3.3zM576.0 287.6l3.3 3.3-3.3 3.3-3.3-3.3zM576.1 320.9l3.3 3.3-3.3 3.3-3.3-3.3zM576.2 311.4l3.3 3.3-3.3 3.3-3.3-3.3zM576.2 325.7l3.3 3.3-3.3 3.3-3.3-3.3zM576.2 322.5l3.3 3.3-3.3 3.3-3.3-3.3zM576.3 318.2l3.3 3.3-3.3 3.3-3.3-3.3zM576.6 290.3l3.3 3.3-3.3 3.3-3.3-3.3zM576.6 302.8l3.3 3.3-3.3 3.3-3.3-3.3zM577.1 257.7l3.3 3.3-3.3 3.3-3.3-3.3zM577.1 334.6l3.3 3.3-3.3 3.3-3.3-3.3zM577.2 298.5l3.3 3.3-3.3 3.3-3.3-3.3zM577.2 297.6l3.3 3.3-3.3 3.3-3.3-3.3zM577.2 339.5l3.3 3.3-3.3 3.3-3.3-3.3zM577.8 308.4l3.3 3.3-3.3 3.3-3.3-3.3zM577.8 329.5l3.3 3.3-3.3 3.3-3.3-3.3zM578.0 328.1l3.3 3.3-3.3 3.3-3.3-3.3zM578.1 334.8l3.3 3.3-3.3 3.3-3.3-3.3zM578.2 341.2l3.3 3.3-3.3 3.3-3.3-3.3zM578.2 267.3l3.3 3.3-3.3 3.3-3.3-3.3zM578.3 324.1l3.3 3.3-3.3 3.3-3.3-3.3zM578.5 298.9l3.3 3.3-3.3 3.3-3.3-3.3zM578.6 285.1l3.3 3.3-3.3 3.3-3.3-3.3zM578.8 299.2l3.3 3.3-3.3 3.3-3.3-3.3zM579.0 323.0l3.3 3.3-3.3 3.3-3.3-3.3zM579.1 316.8l3.3 3.3-3.3 3.3-3.3-3.3zM579.2 292.0l3.3 3.3-3.3 3.3-3.3-3.3zM579.2 317.5l3.3 3.3-3.3 3.3-3.3-3.3zM579.3 282.1l3.3 3.3-3.3 3.3-3.3-3.3zM579.4 312.8l3.3 3.3-3.3 3.3-3.3-3.3zM579.5 311.8l3.3 3.3-3.3 3.3-3.3-3.3zM579.6 359.9l3.3 3.3-3.3 3.3-3.3-3.3zM579.7 316.7l3.3 3.3-3.3 3.3-3.3-3.3zM579.8 269.2l3.3 3.3-3.3 3.3-3.3-3.3zM580.1 336.7l3.3 3.3-3.3 3.3-3.3-3.3zM580.5 317.2l3.3 3.3-3.3 3.3-3.3-3.3zM580.7 311.0l3.3 3.3-3.3 3.3-3.3-3.3zM580.8 304.9l3.3 3.3-3.3 3.3-3.3-3.3zM580.8 291.4l3.3 3.3-3.3 3.3-3.3-3.3zM580.9 278.5l3.3 3.3-3.3 3.3-3.3-3.3zM581.0 315.3l3.3 3.3-3.3 3.3-3.3-3.3zM581.3 304.2l3.3 3.3-3.3 3.3-3.3-3.3zM581.4 298.8l3.3 3.3-3.3 3.3-3.3-3.3zM581.5 287.2l3.3 3.3-3.3 3.3-3.3-3.3zM581.8 319.1l3.3 3.3-3.3 3.3-3.3-3.3zM582.1 290.8l3.3 3.3-3.3 3.3-3.3-3.3zM582.1 339.6l3.3 3.3-3.3 3.3-3.3-3.3zM582.2 301.1l3.3 3.3-3.3 3.3-3.3-3.3zM582.3 282.2l3.3 3.3-3.3 3.3-3.3-3.3zM582.4 295.0l3.3 3.3-3.3 3.3-3.3-3.3zM582.4 348.6l3.3 3.3-3.3 3.3-3.3-3.3zM582.5 236.7l3.3 3.3-3.3 3.3-3.3-3.3zM582.6 295.1l3.3 3.3-3.3 3.3-3.3-3.3zM582.7 310.2l3.3 3.3-3.3 3.3-3.3-3.3zM582.9 287.6l3.3 3.3-3.3 3.3-3.3-3.3zM583.1 329.9l3.3 3.3-3.3 3.3-3.3-3.3zM583.2 323.8l3.3 3.3-3.3 3.3-3.3-3.3zM583.3 308.3l3.3 3.3-3.3 3.3-3.3-3.3zM583.9 254.0l3.3 3.3-3.3 3.3-3.3-3.3zM584.1 283.1l3.3 3.3-3.3 3.3-3.3-3.3zM584.2 253.0l3.3 3.3-3.3 3.3-3.3-3.3zM584.4 284.7l3.3 3.3-3.3 3.3-3.3-3.3zM584.5 313.0l3.3 3.3-3.3 3.3-3.3-3.3zM584.7 353.1l3.3 3.3-3.3 3.3-3.3-3.3zM584.8 268.2l3.3 3.3-3.3 3.3-3.3-3.3zM584.8 323.2l3.3 3.3-3.3 3.3-3.3-3.3zM584.9 299.6l3.3 3.3-3.3 3.3-3.3-3.3zM585.1 296.1l3.3 3.3-3.3 3.3-3.3-3.3zM585.1 325.5l3.3 3.3-3.3 3.3-3.3-3.3zM585.2 256.6l3.3 3.3-3.3 3.3-3.3-3.3zM585.4 323.6l3.3 3.3-3.3 3.3-3.3-3.3zM585.6 288.9l3.3 3.3-3.3 3.3-3.3-3.3zM585.6 252.9l3.3 3.3-3.3 3.3-3.3-3.3zM585.9 301.3l3.3 3.3-3.3 3.3-3.3-3.3zM586.4 292.2l3.3 3.3-3.3 3.3-3.3-3.3zM586.4 326.3l3.3 3.3-3.3 3.3-3.3-3.3zM586.4 316.9l3.3 3.3-3.3 3.3-3.3-3.3zM586.4 314.0l3.3 3.3-3.3 3.3-3.3-3.3zM586.5 270.1l3.3 3.3-3.3 3.3-3.3-3.3zM586.5 256.7l3.3 3.3-3.3 3.3-3.3-3.3zM586.5 316.2l3.3 3.3-3.3 3.3-3.3-3.3zM586.8 307.1l3.3 3.3-3.3 3.3-3.3-3.3zM586.8 305.3l3.3 3.3-3.3 3.3-3.3-3.3zM587.2 315.8l3.3 3.3-3.3 3.3-3.3-3.3zM587.3 352.8l3.3 3.3-3.3 3.3-3.3-3.3zM587.5 295.3l3.3 3.3-3.3 3.3-3.3-3.3zM587.6 321.2l3.3 3.3-3.3 3.3-3.3-3.3zM587.7 321.9l3.3 3.3-3.3 3.3-3.3-3.3zM587.9 317.7l3.3 3.3-3.3 3.3-3.3-3.3zM588.0 242.7l3.3 3.3-3.3 3.3-3.3-3.3zM588.6 346.1l3.3 3.3-3.3 3.3-3.3-3.3zM588.7 310.6l3.3 3.3-3.3 3.3-3.3-3.3zM588.8 325.6l3.3 3.3-3.3 3.3-3.3-3.3zM588.8 293.9l3.3 3.3-3.3 3.3-3.3-3.3zM588.8 316.4l3.3 3.3-3.3 3.3-3.3-3.3zM588.9 276.8l3.3 3.3-3.3 3.3-3.3-3.3zM588.9 303.1l3.3 3.3-3.3 3.3-3.3-3.3zM589.4 309.2l3.3 3.3-3.3 3.3-3.3-3.3zM589.4 316.7l3.3 3.3-3.3 3.3-3.3-3.3zM589.5 311.4l3.3 3.3-3.3 3.3-3.3-3.3zM589.7 312.6l3.3 3.3-3.3 3.3-3.3-3.3zM590.0 350.3l3.3 3.3-3.3 3.3-3.3-3.3zM590.2 285.2l3.3 3.3-3.3 3.3-3.3-3.3zM590.3 323.1l3.3 3.3-3.3 3.3-3.3-3.3zM590.3 266.6l3.3 3.3-3.3 3.3-3.3-3.3zM590.4 320.2l3.3 3.3-3.3 3.3-3.3-3.3zM590.5 327.0l3.3 3.3-3.3 3.3-3.3-3.3zM590.6 295.6l3.3 3.3-3.3 3.3-3.3-3.3zM590.7 315.8l3.3 3.3-3.3 3.3-3.3-3.3zM591.4 336.2l3.3 3.3-3.3 3.3-3.3-3.3zM591.6 310.5l3.3 3.3-3.3 3.3-3.3-3.3zM591.6 294.6l3.3 3.3-3.3 3.3-3.3-3.3zM591.7 287.8l3.3 3.3-3.3 3.3-3.3-3.3zM591.8 289.5l3.3 3.3-3.3 3.3-3.3-3.3zM591.8 278.9l3.3 3.3-3.3 3.3-3.3-3.3zM591.9 338.2l3.3 3.3-3.3 3.3-3.3-3.3zM592.1 275.1l3.3 3.3-3.3 3.3-3.3-3.3zM592.4 272.0l3.3 3.3-3.3 3.3-3.3-3.3zM592.5 311.8l3.3 3.3-3.3 3.3-3.3-3.3zM592.5 317.3l3.3 3.3-3.3 3.3-3.3-3.3zM592.5 306.2l3.3 3.3-3.3 3.3-3.3-3.3zM593.0 314.9l3.3 3.3-3.3 3.3-3.3-3.3zM593.0 265.2l3.3 3.3-3.3 3.3-3.3-3.3zM593.2 307.4l3.3 3.3-3.3 3.3-3.3-3.3zM593.4 326.7l3.3 3.3-3.3 3.3-3.3-3.3zM593.5 253.9l3.3 3.3-3.3 3.3-3.3-3.3zM593.7 303.1l3.3 3.3-3.3 3.3-3.3-3.3zM594.1 289.1l3.3 3.3-3.3 3.3-3.3-3.3zM594.1 324.2l3.3 3.3-3.3 3.3-3.3-3.3zM594.1 303.7l3.3 3.3-3.3 3.3-3.3-3.3zM594.4 264.4l3.3 3.3-3.3 3.3-3.3-3.3zM594.4 284.4l3.3 3.3-3.3 3.3-3.3-3.3zM594.8 295.1l3.3 3.3-3.3 3.3-3.3-3.3zM594.8 316.4l3.3 3.3-3.3 3.3-3.3-3.3zM595.0 301.2l3.3 3.3-3.3 3.3-3.3-3.3zM595.1 302.5l3.3 3.3-3.3 3.3-3.3-3.3zM595.2 274.2l3.3 3.3-3.3 3.3-3.3-3.3zM595.3 304.3l3.3 3.3-3.3 3.3-3.3-3.3zM595.6 307.1l3.3 3.3-3.3 3.3-3.3-3.3zM596.2 292.7l3.3 3.3-3.3 3.3-3.3-3.3zM596.3 295.2l3.3 3.3-3.3 3.3-3.3-3.3zM596.3 267.2l3.3 3.3-3.3 3.3-3.3-3.3zM596.4 294.8l3.3 3.3-3.3 3.3-3.3-3.3zM596.5 307.2l3.3 3.3-3.3 3.3-3.3-3.3zM596.7 302.6l3.3 3.3-3.3 3.3-3.3-3.3zM597.1 322.1l3.3 3.3-3.3 3.3-3.3-3.3zM597.3 307.1l3.3 3.3-3.3 3.3-3.3-3.3zM597.4 298.9l3.3 3.3-3.3 3.3-3.3-3.3zM597.5 296.1l3.3 3.3-3.3 3.3-3.3-3.3zM597.6 284.4l3.3 3.3-3.3 3.3-3.3-3.3zM597.7 350.5l3.3 3.3-3.3 3.3-3.3-3.3zM597.8 303.9l3.3 3.3-3.3 3.3-3.3-3.3zM598.1 297.5l3.3 3.3-3.3 3.3-3.3-3.3zM598.6 344.9l3.3 3.3-3.3 3.3-3.3-3.3zM598.7 320.5l3.3 3.3-3.3 3.3-3.3-3.3zM598.7 327.8l3.3 3.3-3.3 3.3-3.3-3.3zM598.7 320.7l3.3 3.3-3.3 3.3-3.3-3.3zM599.1 293.0l3.3 3.3-3.3 3.3-3.3-3.3zM599.2 384.5l3.3 3.3-3.3 3.3-3.3-3.3zM599.3 302.2l3.3 3.3-3.3 3.3-3.3-3.3zM599.6 281.8l3.3 3.3-3.3 3.3-3.3-3.3zM599.7 255.6l3.3 3.3-3.3 3.3-3.3-3.3zM599.8 336.6l3.3 3.3-3.3 3.3-3.3-3.3zM600.2 220.7l3.3 3.3-3.3 3.3-3.3-3.3zM600.3 343.5l3.3 3.3-3.3 3.3-3.3-3.3zM600.5 203.2l3.3 3.3-3.3 3.3-3.3-3.3zM600.5 377.8l3.3 3.3-3.3 3.3-3.3-3.3zM600.5 294.0l3.3 3.3-3.3 3.3-3.3-3.3zM600.6 320.6l3.3 3.3-3.3 3.3-3.3-3.3zM600.7 289.7l3.3 3.3-3.3 3.3-3.3-3.3zM600.9 311.6l3.3 3.3-3.3 3.3-3.3-3.3zM601.0 321.1l3.3 3.3-3.3 3.3-3.3-3.3zM601.0 279.3l3.3 3.3-3.3 3.3-3.3-3.3zM601.0 333.0l3.3 3.3-3.3 3.3-3.3-3.3zM601.1 287.4l3.3 3.3-3.3 3.3-3.3-3.3zM601.1 311.3l3.3 3.3-3.3 3.3-3.3-3.3zM601.2 328.6l3.3 3.3-3.3 3.3-3.3-3.3zM601.5 290.0l3.3 3.3-3.3 3.3-3.3-3.3zM601.5 308.6l3.3 3.3-3.3 3.3-3.3-3.3zM601.5 291.1l3.3 3.3-3.3 3.3-3.3-3.3zM601.7 324.7l3.3 3.3-3.3 3.3-3.3-3.3zM601.9 301.7l3.3 3.3-3.3 3.3-3.3-3.3zM601.9 309.6l3.3 3.3-3.3 3.3-3.3-3.3zM601.9 272.5l3.3 3.3-3.3 3.3-3.3-3.3zM602.1 358.3l3.3 3.3-3.3 3.3-3.3-3.3zM603.0 270.4l3.3 3.3-3.3 3.3-3.3-3.3zM603.1 304.9l3.3 3.3-3.3 3.3-3.3-3.3zM603.4 311.8l3.3 3.3-3.3 3.3-3.3-3.3zM603.5 282.5l3.3 3.3-3.3 3.3-3.3-3.3zM603.5 307.6l3.3 3.3-3.3 3.3-3.3-3.3zM603.8 221.7l3.3 3.3-3.3 3.3-3.3-3.3zM604.1 371.0l3.3 3.3-3.3 3.3-3.3-3.3zM604.4 315.0l3.3 3.3-3.3 3.3-3.3-3.3zM604.4 284.5l3.3 3.3-3.3 3.3-3.3-3.3zM604.6 345.3l3.3 3.3-3.3 3.3-3.3-3.3zM604.7 292.5l3.3 3.3-3.3 3.3-3.3-3.3zM604.8 308.9l3.3 3.3-3.3 3.3-3.3-3.3zM604.9 291.3l3.3 3.3-3.3 3.3-3.3-3.3zM605.0 297.2l3.3 3.3-3.3 3.3-3.3-3.3zM605.3 322.7l3.3 3.3-3.3 3.3-3.3-3.3zM605.4 286.6l3.3 3.3-3.3 3.3-3.3-3.3zM605.5 292.8l3.3 3.3-3.3 3.3-3.3-3.3zM605.7 306.1l3.3 3.3-3.3 3.3-3.3-3.3zM605.8 318.4l3.3 3.3-3.3 3.3-3.3-3.3zM605.8 299.0l3.3 3.3-3.3 3.3-3.3-3.3zM606.2 263.2l3.3 3.3-3.3 3.3-3.3-3.3zM606.2 279.8l3.3 3.3-3.3 3.3-3.3-3.3zM606.3 299.3l3.3 3.3-3.3 3.3-3.3-3.3zM606.8 274.5l3.3 3.3-3.3 3.3-3.3-3.3zM606.8 317.7l3.3 3.3-3.3 3.3-3.3-3.3zM607.1 301.2l3.3 3.3-3.3 3.3-3.3-3.3zM607.2 308.0l3.3 3.3-3.3 3.3-3.3-3.3zM607.6 278.1l3.3 3.3-3.3 3.3-3.3-3.3zM608.0 314.6l3.3 3.3-3.3 3.3-3.3-3.3zM608.2 328.9l3.3 3.3-3.3 3.3-3.3-3.3zM608.2 279.0l3.3 3.3-3.3 3.3-3.3-3.3zM608.5 273.4l3.3 3.3-3.3 3.3-3.3-3.3zM608.5 288.3l3.3 3.3-3.3 3.3-3.3-3.3zM608.9 285.4l3.3 3.3-3.3 3.3-3.3-3.3zM608.9 273.9l3.3 3.3-3.3 3.3-3.3-3.3zM609.0 284.2l3.3 3.3-3.3 3.3-3.3-3.3zM609.0 277.6l3.3 3.3-3.3 3.3-3.3-3.3zM609.1 310.1l3.3 3.3-3.3 3.3-3.3-3.3zM609.2 324.2l3.3 3.3-3.3 3.3-3.3-3.3zM609.4 315.8l3.3 3.3-3.3 3.3-3.3-3.3zM609.6 304.3l3.3 3.3-3.3 3.3-3.3-3.3zM609.6 300.3l3.3 3.3-3.3 3.3-3.3-3.3zM609.8 317.1l3.3 3.3-3.3 3.3-3.3-3.3zM610.1 343.0l3.3 3.3-3.3 3.3-3.3-3.3zM610.3 329.0l3.3 3.3-3.3 3.3-3.3-3.3zM610.3 380.6l3.3 3.3-3.3 3.3-3.3-3.3zM610.3 300.3l3.3 3.3-3.3 3.3-3.3-3.3zM610.4 331.9l3.3 3.3-3.3 3.3-3.3-3.3zM610.4 344.1l3.3 3.3-3.3 3.3-3.3-3.3zM610.5 262.4l3.3 3.3-3.3 3.3-3.3-3.3zM610.5 311.4l3.3 3.3-3.3 3.3-3.3-3.3zM610.6 280.9l3.3 3.3-3.3 3.3-3.3-3.3zM610.7 308.0l3.3 3.3-3.3 3.3-3.3-3.3zM610.8 289.7l3.3 3.3-3.3 3.3-3.3-3.3zM611.0 253.9l3.3 3.3-3.3 3.3-3.3-3.3zM611.0 302.5l3.3 3.3-3.3 3.3-3.3-3.3zM611.5 272.9l3.3 3.3-3.3 3.3-3.3-3.3zM611.8 283.4l3.3 3.3-3.3 3.3-3.3-3.3zM611.9 280.4l3.3 3.3-3.3 3.3-3.3-3.3zM612.2 294.0l3.3 3.3-3.3 3.3-3.3-3.3zM612.4 307.7l3.3 3.3-3.3 3.3-3.3-3.3zM612.6 314.9l3.3 3.3-3.3 3.3-3.3-3.3zM612.6 339.8l3.3 3.3-3.3 3.3-3.3-3.3zM613.4 277.6l3.3 3.3-3.3 3.3-3.3-3.3zM613.5 333.1l3.3 3.3-3.3 3.3-3.3-3.3zM613.6 286.0l3.3 3.3-3.3 3.3-3.3-3.3zM614.1 291.7l3.3 3.3-3.3 3.3-3.3-3.3zM614.1 325.0l3.3 3.3-3.3 3.3-3.3-3.3zM614.2 316.8l3.3 3.3-3.3 3.3-3.3-3.3zM614.6 310.3l3.3 3.3-3.3 3.3-3.3-3.3zM614.8 306.6l3.3 3.3-3.3 3.3-3.3-3.3zM615.0 340.6l3.3 3.3-3.3 3.3-3.3-3.3zM615.1 313.8l3.3 3.3-3.3 3.3-3.3-3.3zM615.8 311.0l3.3 3.3-3.3 3.3-3.3-3.3zM616.6 297.8l3.3 3.3-3.3 3.3-3.3-3.3zM616.7 291.8l3.3 3.3-3.3 3.3-3.3-3.3zM617.3 286.1l3.3 3.3-3.3 3.3-3.3-3.3zM617.3 317.7l3.3 3.3-3.3 3.3-3.3-3.3zM617.4 317.9l3.3 3.3-3.3 3.3-3.3-3.3zM617.4 312.0l3.3 3.3-3.3 3.3-3.3-3.3zM617.5 303.3l3.3 3.3-3.3 3.3-3.3-3.3zM617.9 247.8l3.3 3.3-3.3 3.3-3.3-3.3zM618.2 296.6l3.3 3.3-3.3 3.3-3.3-3.3zM618.2 298.1l3.3 3.3-3.3 3.3-3.3-3.3zM618.5 284.7l3.3 3.3-3.3 3.3-3.3-3.3zM618.7 308.0l3.3 3.3-3.3 3.3-3.3-3.3zM618.7 292.8l3.3 3.3-3.3 3.3-3.3-3.3zM618.8 287.8l3.3 3.3-3.3 3.3-3.3-3.3zM618.9 307.7l3.3 3.3-3.3 3.3-3.3-3.3zM619.3 338.8l3.3 3.3-3.3 3.3-3.3-3.3zM619.5 301.6l3.3 3.3-3.3 3.3-3.3-3.3zM619.5 318.6l3.3 3.3-3.3 3.3-3.3-3.3zM619.8 341.9l3.3 3.3-3.3 3.3-3.3-3.3zM619.9 311.3l3.3 3.3-3.3 3.3-3.3-3.3zM620.0 249.6l3.3 3.3-3.3 3.3-3.3-3.3zM620.0 316.0l3.3 3.3-3.3 3.3-3.3-3.3zM620.1 272.8l3.3 3.3-3.3 3.3-3.3-3.3zM620.3 308.7l3.3 3.3-3.3 3.3-3.3-3.3zM620.5 295.1l3.3 3.3-3.3 3.3-3.3-3.3zM620.6 296.2l3.3 3.3-3.3 3.3-3.3-3.3zM620.7 319.0l3.3 3.3-3.3 3.3-3.3-3.3zM620.7 272.4l3.3 3.3-3.3 3.3-3.3-3.3zM620.8 313.2l3.3 3.3-3.3 3.3-3.3-3.3zM620.8 264.4l3.3 3.3-3.3 3.3-3.3-3.3zM621.0 308.7l3.3 3.3-3.3 3.3-3.3-3.3zM621.1 352.2l3.3 3.3-3.3 3.3-3.3-3.3zM621.1 359.3l3.3 3.3-3.3 3.3-3.3-3.3zM621.2 291.1l3.3 3.3-3.3 3.3-3.3-3.3zM621.2 300.2l3.3 3.3-3.3 3.3-3.3-3.3zM621.8 321.5l3.3 3.3-3.3 3.3-3.3-3.3zM621.9 327.1l3.3 3.3-3.3 3.3-3.3-3.3zM622.2 305.6l3.3 3.3-3.3 3.3-3.3-3.3zM622.2 293.4l3.3 3.3-3.3 3.3-3.3-3.3zM622.4 303.9l3.3 3.3-3.3 3.3-3.3-3.3zM622.6 327.5l3.3 3.3-3.3 3.3-3.3-3.3zM622.9 300.3l3.3 3.3-3.3 3.3-3.3-3.3zM622.9 320.2l3.3 3.3-3.3 3.3-3.3-3.3zM623.0 302.4l3.3 3.3-3.3 3.3-3.3-3.3zM623.0 338.4l3.3 3.3-3.3 3.3-3.3-3.3zM623.1 284.9l3.3 3.3-3.3 3.3-3.3-3.3zM623.1 288.7l3.3 3.3-3.3 3.3-3.3-3.3zM623.3 299.7l3.3 3.3-3.3 3.3-3.3-3.3zM623.8 314.5l3.3 3.3-3.3 3.3-3.3-3.3zM623.8 342.8l3.3 3.3-3.3 3.3-3.3-3.3zM623.8 302.1l3.3 3.3-3.3 3.3-3.3-3.3zM624.0 297.1l3.3 3.3-3.3 3.3-3.3-3.3zM624.0 315.1l3.3 3.3-3.3 3.3-3.3-3.3zM624.0 235.4l3.3 3.3-3.3 3.3-3.3-3.3zM624.0 307.4l3.3 3.3-3.3 3.3-3.3-3.3zM624.2 301.7l3.3 3.3-3.3 3.3-3.3-3.3zM624.4 301.8l3.3 3.3-3.3 3.3-3.3-3.3zM624.5 425.2l3.3 3.3-3.3 3.3-3.3-3.3zM625.7 306.2l3.3 3.3-3.3 3.3-3.3-3.3zM625.9 334.4l3.3 3.3-3.3 3.3-3.3-3.3zM626.2 317.5l3.3 3.3-3.3 3.3-3.3-3.3zM626.4 288.8l3.3 3.3-3.3 3.3-3.3-3.3zM626.5 347.4l3.3 3.3-3.3 3.3-3.3-3.3zM627.3 307.2l3.3 3.3-3.3 3.3-3.3-3.3zM627.3 295.1l3.3 3.3-3.3 3.3-3.3-3.3zM628.3 286.4l3.3 3.3-3.3 3.3-3.3-3.3zM628.4 311.8l3.3 3.3-3.3 3.3-3.3-3.3zM628.4 316.3l3.3 3.3-3.3 3.3-3.3-3.3zM628.9 283.2l3.3 3.3-3.3 3.3-3.3-3.3zM629.0 307.0l3.3 3.3-3.3 3.3-3.3-3.3zM629.1 310.0l3.3 3.3-3.3 3.3-3.3-3.3zM629.6 306.4l3.3 3.3-3.3 3.3-3.3-3.3zM629.7 285.6l3.3 3.3-3.3 3.3-3.3-3.3zM629.7 303.9l3.3 3.3-3.3 3.3-3.3-3.3zM629.9 335.1l3.3 3.3-3.3 3.3-3.3-3.3zM630.1 341.8l3.3 3.3-3.3 3.3-3.3-3.3zM630.2 354.8l3.3 3.3-3.3 3.3-3.3-3.3zM630.7 323.8l3.3 3.3-3.3 3.3-3.3-3.3zM630.8 225.2l3.3 3.3-3.3 3.3-3.3-3.3zM631.0 271.5l3.3 3.3-3.3 3.3-3.3-3.3zM631.2 373.3l3.3 3.3-3.3 3.3-3.3-3.3zM631.7 297.7l3.3 3.3-3.3 3.3-3.3-3.3zM631.8 229.7l3.3 3.3-3.3 3.3-3.3-3.3zM632.0 253.5l3.3 3.3-3.3 3.3-3.3-3.3zM632.3 325.0l3.3 3.3-3.3 3.3-3.3-3.3zM632.3 346.8l3.3 3.3-3.3 3.3-3.3-3.3zM632.6 302.1l3.3 3.3-3.3 3.3-3.3-3.3zM633.0 307.3l3.3 3.3-3.3 3.3-3.3-3.3zM633.0 233.9l3.3 3.3-3.3 3.3-3.3-3.3zM633.2 306.0l3.3 3.3-3.3 3.3-3.3-3.3zM633.3 323.2l3.3 3.3-3.3 3.3-3.3-3.3zM634.3 274.0l3.3 3.3-3.3 3.3-3.3-3.3zM634.4 289.1l3.3 3.3-3.3 3.3-3.3-3.3zM634.7 300.9l3.3 3.3-3.3 3.3-3.3-3.3zM636.0 298.4l3.3 3.3-3.3 3.3-3.3-3.3zM636.0 305.0l3.3 3.3-3.3 3.3-3.3-3.3zM636.3 249.3l3.3 3.3-3.3 3.3-3.3-3.3zM636.3 290.8l3.3 3.3-3.3 3.3-3.3-3.3zM636.4 315.3l3.3 3.3-3.3 3.3-3.3-3.3zM636.5 306.9l3.3 3.3-3.3 3.3-3.3-3.3zM636.5 240.2l3.3 3.3-3.3 3.3-3.3-3.3zM636.5 318.0l3.3 3.3-3.3 3.3-3.3-3.3zM636.9 271.5l3.3 3.3-3.3 3.3-3.3-3.3zM637.2 292.4l3.3 3.3-3.3 3.3-3.3-3.3zM637.2 282.8l3.3 3.3-3.3 3.3-3.3-3.3zM637.3 288.7l3.3 3.3-3.3 3.3-3.3-3.3zM637.4 342.3l3.3 3.3-3.3 3.3-3.3-3.3zM637.9 296.9l3.3 3.3-3.3 3.3-3.3-3.3zM637.9 297.0l3.3 3.3-3.3 3.3-3.3-3.3zM638.0 316.6l3.3 3.3-3.3 3.3-3.3-3.3zM638.3 311.8l3.3 3.3-3.3 3.3-3.3-3.3zM638.7 269.7l3.3 3.3-3.3 3.3-3.3-3.3zM638.8 273.3l3.3 3.3-3.3 3.3-3.3-3.3zM639.0 272.6l3.3 3.3-3.3 3.3-3.3-3.3zM639.2 289.4l3.3 3.3-3.3 3.3-3.3-3.3zM639.5 333.4l3.3 3.3-3.3 3.3-3.3-3.3zM640.2 285.5l3.3 3.3-3.3 3.3-3.3-3.3zM640.3 314.4l3.3 3.3-3.3 3.3-3.3-3.3zM640.4 302.5l3.3 3.3-3.3 3.3-3.3-3.3zM641.2 302.4l3.3 3.3-3.3 3.3-3.3-3.3zM641.2 313.7l3.3 3.3-3.3 3.3-3.3-3.3zM641.4 297.8l3.3 3.3-3.3 3.3-3.3-3.3zM641.6 298.0l3.3 3.3-3.3 3.3-3.3-3.3zM641.7 339.7l3.3 3.3-3.3 3.3-3.3-3.3zM641.9 279.4l3.3 3.3-3.3 3.3-3.3-3.3zM642.0 140.2l3.3 3.3-3.3 3.3-3.3-3.3zM642.2 249.4l3.3 3.3-3.3 3.3-3.3-3.3zM642.4 287.4l3.3 3.3-3.3 3.3-3.3-3.3zM642.8 129.7l3.3 3.3-3.3 3.3-3.3-3.3zM642.9 406.3l3.3 3.3-3.3 3.3-3.3-3.3zM643.0 242.4l3.3 3.3-3.3 3.3-3.3-3.3zM643.2 311.8l3.3 3.3-3.3 3.3-3.3-3.3zM643.3 302.7l3.3 3.3-3.3 3.3-3.3-3.3zM643.3 306.8l3.3 3.3-3.3 3.3-3.3-3.3zM643.9 300.3l3.3 3.3-3.3 3.3-3.3-3.3zM644.2 310.7l3.3 3.3-3.3 3.3-3.3-3.3zM644.2 304.9l3.3 3.3-3.3 3.3-3.3-3.3zM644.5 137.7l3.3 3.3-3.3 3.3-3.3-3.3zM644.8 252.7l3.3 3.3-3.3 3.3-3.3-3.3zM645.2 296.3l3.3 3.3-3.3 3.3-3.3-3.3zM645.5 294.0l3.3 3.3-3.3 3.3-3.3-3.3zM646.5 294.2l3.3 3.3-3.3 3.3-3.3-3.3zM646.6 271.6l3.3 3.3-3.3 3.3-3.3-3.3zM647.0 356.3l3.3 3.3-3.3 3.3-3.3-3.3zM647.0 278.2l3.3 3.3-3.3 3.3-3.3-3.3zM648.2 297.3l3.3 3.3-3.3 3.3-3.3-3.3zM648.5 217.9l3.3 3.3-3.3 3.3-3.3-3.3zM648.5 301.1l3.3 3.3-3.3 3.3-3.3-3.3zM648.5 288.8l3.3 3.3-3.3 3.3-3.3-3.3zM648.5 314.2l3.3 3.3-3.3 3.3-3.3-3.3zM648.8 232.7l3.3 3.3-3.3 3.3-3.3-3.3zM648.8 298.7l3.3 3.3-3.3 3.3-3.3-3.3zM649.0 321.5l3.3 3.3-3.3 3.3-3.3-3.3zM649.8 316.8l3.3 3.3-3.3 3.3-3.3-3.3zM649.9 316.0l3.3 3.3-3.3 3.3-3.3-3.3zM650.0 313.7l3.3 3.3-3.3 3.3-3.3-3.3zM651.3 326.1l3.3 3.3-3.3 3.3-3.3-3.3zM651.8 295.0l3.3 3.3-3.3 3.3-3.3-3.3zM651.8 302.9l3.3 3.3-3.3 3.3-3.3-3.3zM652.2 287.9l3.3 3.3-3.3 3.3-3.3-3.3zM652.7 340.5l3.3 3.3-3.3 3.3-3.3-3.3zM652.9 263.7l3.3 3.3-3.3 3.3-3.3-3.3zM653.2 338.3l3.3 3.3-3.3 3.3-3.3-3.3zM653.4 313.2l3.3 3.3-3.3 3.3-3.3-3.3zM653.7 346.6l3.3 3.3-3.3 3.3-3.3-3.3zM653.8 314.2l3.3 3.3-3.3 3.3-3.3-3.3zM655.3 287.6l3.3 3.3-3.3 3.3-3.3-3.3zM656.2 295.2l3.3 3.3-3.3 3.3-3.3-3.3zM656.2 296.5l3.3 3.3-3.3 3.3-3.3-3.3zM656.4 292.8l3.3 3.3-3.3 3.3-3.3-3.3zM656.4 305.6l3.3 3.3-3.3 3.3-3.3-3.3zM656.5 255.2l3.3 3.3-3.3 3.3-3.3-3.3zM656.9 319.0l3.3 3.3-3.3 3.3-3.3-3.3zM657.1 308.4l3.3 3.3-3.3 3.3-3.3-3.3zM657.1 277.6l3.3 3.3-3.3 3.3-3.3-3.3zM657.3 278.8l3.3 3.3-3.3 3.3-3.3-3.3zM658.5 261.8l3.3 3.3-3.3 3.3-3.3-3.3zM659.6 302.6l3.3 3.3-3.3 3.3-3.3-3.3zM660.0 264.9l3.3 3.3-3.3 3.3-3.3-3.3zM660.1 290.1l3.3 3.3-3.3 3.3-3.3-3.3zM660.2 263.8l3.3 3.3-3.3 3.3-3.3-3.3zM660.2 292.6l3.3 3.3-3.3 3.3-3.3-3.3zM660.2 232.7l3.3 3.3-3.3 3.3-3.3-3.3zM660.5 293.7l3.3 3.3-3.3 3.3-3.3-3.3zM660.7 302.7l3.3 3.3-3.3 3.3-3.3-3.3zM661.3 264.1l3.3 3.3-3.3 3.3-3.3-3.3zM661.9 354.8l3.3 3.3-3.3 3.3-3.3-3.3zM662.5 318.2l3.3 3.3-3.3 3.3-3.3-3.3zM662.6 303.4l3.3 3.3-3.3 3.3-3.3-3.3zM662.9 296.6l3.3 3.3-3.3 3.3-3.3-3.3zM663.2 268.3l3.3 3.3-3.3 3.3-3.3-3.3zM663.5 298.7l3.3 3.3-3.3 3.3-3.3-3.3zM663.6 300.3l3.3 3.3-3.3 3.3-3.3-3.3zM664.8 271.7l3.3 3.3-3.3 3.3-3.3-3.3zM664.9 280.3l3.3 3.3-3.3 3.3-3.3-3.3zM665.0 313.0l3.3 3.3-3.3 3.3-3.3-3.3zM665.2 317.9l3.3 3.3-3.3 3.3-3.3-3.3zM666.0 332.2l3.3 3.3-3.3 3.3-3.3-3.3zM666.1 285.8l3.3 3.3-3.3 3.3-3.3-3.3zM666.1 322.4l3.3 3.3-3.3 3.3-3.3-3.3zM666.5 260.5l3.3 3.3-3.3 3.3-3.3-3.3zM666.5 246.9l3.3 3.3-3.3 3.3-3.3-3.3zM666.8 300.9l3.3 3.3-3.3 3.3-3.3-3.3zM667.3 335.5l3.3 3.3-3.3 3.3-3.3-3.3zM668.1 313.9l3.3 3.3-3.3 3.3-3.3-3.3zM668.2 258.3l3.3 3.3-3.3 3.3-3.3-3.3zM668.5 305.6l3.3 3.3-3.3 3.3-3.3-3.3zM668.7 263.9l3.3 3.3-3.3 3.3-3.3-3.3zM668.8 298.6l3.3 3.3-3.3 3.3-3.3-3.3zM669.3 311.5l3.3 3.3-3.3 3.3-3.3-3.3zM669.7 307.3l3.3 3.3-3.3 3.3-3.3-3.3zM669.8 314.3l3.3 3.3-3.3 3.3-3.3-3.3zM670.0 288.5l3.3 3.3-3.3 3.3-3.3-3.3zM670.4 303.2l3.3 3.3-3.3 3.3-3.3-3.3zM670.8 309.9l3.3 3.3-3.3 3.3-3.3-3.3zM670.9 299.6l3.3 3.3-3.3 3.3-3.3-3.3zM671.1 317.3l3.3 3.3-3.3 3.3-3.3-3.3zM671.1 313.2l3.3 3.3-3.3 3.3-3.3-3.3zM671.2 306.1l3.3 3.3-3.3 3.3-3.3-3.3zM671.3 308.8l3.3 3.3-3.3 3.3-3.3-3.3zM672.0 314.3l3.3 3.3-3.3 3.3-3.3-3.3zM672.3 302.7l3.3 3.3-3.3 3.3-3.3-3.3zM672.3 340.2l3.3 3.3-3.3 3.3-3.3-3.3zM673.8 323.0l3.3 3.3-3.3 3.3-3.3-3.3zM673.9 344.8l3.3 3.3-3.3 3.3-3.3-3.3zM673.9 318.5l3.3 3.3-3.3 3.3-3.3-3.3zM673.9 293.9l3.3 3.3-3.3 3.3-3.3-3.3zM674.3 287.9l3.3 3.3-3.3 3.3-3.3-3.3zM674.8 255.8l3.3 3.3-3.3 3.3-3.3-3.3zM675.6 280.6l3.3 3.3-3.3 3.3-3.3-3.3zM675.6 252.0l3.3 3.3-3.3 3.3-3.3-3.3zM675.8 281.3l3.3 3.3-3.3 3.3-3.3-3.3zM675.8 271.0l3.3 3.3-3.3 3.3-3.3-3.3zM676.0 251.7l3.3 3.3-3.3 3.3-3.3-3.3zM676.6 310.2l3.3 3.3-3.3 3.3-3.3-3.3zM676.8 302.0l3.3 3.3-3.3 3.3-3.3-3.3zM677.4 309.5l3.3 3.3-3.3 3.3-3.3-3.3zM678.5 229.7l3.3 3.3-3.3 3.3-3.3-3.3zM678.5 312.9l3.3 3.3-3.3 3.3-3.3-3.3zM678.7 297.9l3.3 3.3-3.3 3.3-3.3-3.3zM678.8 214.4l3.3 3.3-3.3 3.3-3.3-3.3zM679.1 355.4l3.3 3.3-3.3 3.3-3.3-3.3zM679.2 292.1l3.3 3.3-3.3 3.3-3.3-3.3zM679.3 306.4l3.3 3.3-3.3 3.3-3.3-3.3zM680.4 258.8l3.3 3.3-3.3 3.3-3.3-3.3zM681.5 210.2l3.3 3.3-3.3 3.3-3.3-3.3zM682.6 344.6l3.3 3.3-3.3 3.3-3.3-3.3zM682.7 305.1l3.3 3.3-3.3 3.3-3.3-3.3zM683.6 303.4l3.3 3.3-3.3 3.3-3.3-3.3zM683.9 310.2l3.3 3.3-3.3 3.3-3.3-3.3zM684.0 304.3l3.3 3.3-3.3 3.3-3.3-3.3zM684.5 310.0l3.3 3.3-3.3 3.3-3.3-3.3zM684.5 264.0l3.3 3.3-3.3 3.3-3.3-3.3zM684.6 277.9l3.3 3.3-3.3 3.3-3.3-3.3zM684.7 317.8l3.3 3.3-3.3 3.3-3.3-3.3zM685.3 312.2l3.3 3.3-3.3 3.3-3.3-3.3zM685.6 261.6l3.3 3.3-3.3 3.3-3.3-3.3zM686.7 292.2l3.3 3.3-3.3 3.3-3.3-3.3zM686.7 307.1l3.3 3.3-3.3 3.3-3.3-3.3zM686.8 293.4l3.3 3.3-3.3 3.3-3.3-3.3zM687.8 287.8l3.3 3.3-3.3 3.3-3.3-3.3zM687.9 303.8l3.3 3.3-3.3 3.3-3.3-3.3zM688.2 274.3l3.3 3.3-3.3 3.3-3.3-3.3zM688.4 307.8l3.3 3.3-3.3 3.3-3.3-3.3zM689.5 316.3l3.3 3.3-3.3 3.3-3.3-3.3zM690.0 308.9l3.3 3.3-3.3 3.3-3.3-3.3zM690.1 286.9l3.3 3.3-3.3 3.3-3.3-3.3zM690.9 260.2l3.3 3.3-3.3 3.3-3.3-3.3zM690.9 296.8l3.3 3.3-3.3 3.3-3.3-3.3zM691.7 308.1l3.3 3.3-3.3 3.3-3.3-3.3zM692.1 269.3l3.3 3.3-3.3 3.3-3.3-3.3zM692.2 319.1l3.3 3.3-3.3 3.3-3.3-3.3zM692.5 341.7l3.3 3.3-3.3 3.3-3.3-3.3zM692.6 342.0l3.3 3.3-3.3 3.3-3.3-3.3zM693.1 294.2l3.3 3.3-3.3 3.3-3.3-3.3zM693.2 302.8l3.3 3.3-3.3 3.3-3.3-3.3zM693.9 346.4l3.3 3.3-3.3 3.3-3.3-3.3zM694.6 300.8l3.3 3.3-3.3 3.3-3.3-3.3zM694.9 330.6l3.3 3.3-3.3 3.3-3.3-3.3zM695.4 247.6l3.3 3.3-3.3 3.3-3.3-3.3zM695.6 286.7l3.3 3.3-3.3 3.3-3.3-3.3zM698.1 311.5l3.3 3.3-3.3 3.3-3.3-3.3zM700.4 318.1l3.3 3.3-3.3 3.3-3.3-3.3zM700.5 329.8l3.3 3.3-3.3 3.3-3.3-3.3zM701.2 318.5l3.3 3.3-3.3 3.3-3.3-3.3zM701.4 268.0l3.3 3.3-3.3 3.3-3.3-3.3zM702.7 258.6l3.3 3.3-3.3 3.3-3.3-3.3zM703.8 302.8l3.3 3.3-3.3 3.3-3.3-3.3zM704.5 309.7l3.3 3.3-3.3 3.3-3.3-3.3zM704.6 310.2l3.3 3.3-3.3 3.3-3.3-3.3zM705.1 279.3l3.3 3.3-3.3 3.3-3.3-3.3zM705.9 270.5l3.3 3.3-3.3 3.3-3.3-3.3zM706.4 250.4l3.3 3.3-3.3 3.3-3.3-3.3zM706.5 229.4l3.3 3.3-3.3 3.3-3.3-3.3zM706.8 286.7l3.3 3.3-3.3 3.3-3.3-3.3zM706.8 281.5l3.3 3.3-3.3 3.3-3.3-3.3zM707.0 347.9l3.3 3.3-3.3 3.3-3.3-3.3zM707.3 285.4l3.3 3.3-3.3 3.3-3.3-3.3zM707.4 384.3l3.3 3.3-3.3 3.3-3.3-3.3zM708.3 272.1l3.3 3.3-3.3 3.3-3.3-3.3zM708.8 320.7l3.3 3.3-3.3 3.3-3.3-3.3zM709.1 298.4l3.3 3.3-3.3 3.3-3.3-3.3zM709.5 292.4l3.3 3.3-3.3 3.3-3.3-3.3zM709.8 311.2l3.3 3.3-3.3 3.3-3.3-3.3zM710.1 305.8l3.3 3.3-3.3 3.3-3.3-3.3zM710.5 352.6l3.3 3.3-3.3 3.3-3.3-3.3zM711.6 308.9l3.3 3.3-3.3 3.3-3.3-3.3zM711.9 294.6l3.3 3.3-3.3 3.3-3.3-3.3zM712.3 310.8l3.3 3.3-3.3 3.3-3.3-3.3zM712.8 284.9l3.3 3.3-3.3 3.3-3.3-3.3zM713.0 201.9l3.3 3.3-3.3 3.3-3.3-3.3zM713.4 338.9l3.3 3.3-3.3 3.3-3.3-3.3zM714.4 343.4l3.3 3.3-3.3 3.3-3.3-3.3zM716.4 306.8l3.3 3.3-3.3 3.3-3.3-3.3zM716.5 302.2l3.3 3.3-3.3 3.3-3.3-3.3zM717.8 292.0l3.3 3.3-3.3 3.3-3.3-3.3zM719.3 338.2l3.3 3.3-3.3 3.3-3.3-3.3zM719.4 287.5l3.3 3.3-3.3 3.3-3.3-3.3zM721.8 286.6l3.3 3.3-3.3 3.3-3.3-3.3zM723.0 250.2l3.3 3.3-3.3 3.3-3.3-3.3zM723.6 291.3l3.3 3.3-3.3 3.3-3.3-3.3zM723.6 309.0l3.3 3.3-3.3 3.3-3.3-3.3zM724.2 317.5l3.3 3.3-3.3 3.3-3.3-3.3zM724.3 259.1l3.3 3.3-3.3 3.3-3.3-3.3zM724.7 311.1l3.3 3.3-3.3 3.3-3.3-3.3zM725.1 299.8l3.3 3.3-3.3 3.3-3.3-3.3zM725.5 299.1l3.3 3.3-3.3 3.3-3.3-3.3zM725.9 297.2l3.3 3.3-3.3 3.3-3.3-3.3zM726.5 282.5l3.3 3.3-3.3 3.3-3.3-3.3zM727.2 253.9l3.3 3.3-3.3 3.3-3.3-3.3zM728.7 305.0l3.3 3.3-3.3 3.3-3.3-3.3zM729.1 309.4l3.3 3.3-3.3 3.3-3.3-3.3zM730.0 291.0l3.3 3.3-3.3 3.3-3.3-3.3zM730.5 310.9l3.3 3.3-3.3 3.3-3.3-3.3zM730.8 306.9l3.3 3.3-3.3 3.3-3.3-3.3zM730.9 319.2l3.3 3.3-3.3 3.3-3.3-3.3zM731.4 297.6l3.3 3.3-3.3 3.3-3.3-3.3zM731.6 313.0l3.3 3.3-3.3 3.3-3.3-3.3zM731.7 303.7l3.3 3.3-3.3 3.3-3.3-3.3zM732.7 281.3l3.3 3.3-3.3 3.3-3.3-3.3zM733.0 228.4l3.3 3.3-3.3 3.3-3.3-3.3zM734.6 339.1l3.3 3.3-3.3 3.3-3.3-3.3zM734.7 314.9l3.3 3.3-3.3 3.3-3.3-3.3zM734.9 274.1l3.3 3.3-3.3 3.3-3.3-3.3zM734.9 277.7l3.3 3.3-3.3 3.3-3.3-3.3zM736.4 291.5l3.3 3.3-3.3 3.3-3.3-3.3zM737.8 289.3l3.3 3.3-3.3 3.3-3.3-3.3zM738.2 321.6l3.3 3.3-3.3 3.3-3.3-3.3zM738.8 333.5l3.3 3.3-3.3 3.3-3.3-3.3zM739.3 293.2l3.3 3.3-3.3 3.3-3.3-3.3zM740.8 310.7l3.3 3.3-3.3 3.3-3.3-3.3zM741.5 239.4l3.3 3.3-3.3 3.3-3.3-3.3zM742.6 306.8l3.3 3.3-3.3 3.3-3.3-3.3zM743.7 251.4l3.3 3.3-3.3 3.3-3.3-3.3zM744.8 231.3l3.3 3.3-3.3 3.3-3.3-3.3zM746.3 298.5l3.3 3.3-3.3 3.3-3.3-3.3zM748.7 314.4l3.3 3.3-3.3 3.3-3.3-3.3zM749.8 322.5l3.3 3.3-3.3 3.3-3.3-3.3zM751.3 307.2l3.3 3.3-3.3 3.3-3.3-3.3zM753.5 239.6l3.3 3.3-3.3 3.3-3.3-3.3zM755.7 231.7l3.3 3.3-3.3 3.3-3.3-3.3zM759.0 316.0l3.3 3.3-3.3 3.3-3.3-3.3zM763.8 263.5l3.3 3.3-3.3 3.3-3.3-3.3zM765.5 250.5l3.3 3.3-3.3 3.3-3.3-3.3zM769.5 290.4l3.3 3.3-3.3 3.3-3.3-3.3zM769.5 299.1l3.3 3.3-3.3 3.3-3.3-3.3zM773.2 329.3l3.3 3.3-3.3 3.3-3.3-3.3zM774.7 261.9l3.3 3.3-3.3 3.3-3.3-3.3zM779.1 294.3l3.3 3.3-3.3 3.3-3.3-3.3zM779.8 321.6l3.3 3.3-3.3 3.3-3.3-3.3zM788.5 247.7l3.3 3.3-3.3 3.3-3.3-3.3zM791.1 234.1l3.3 3.3-3.3 3.3-3.3-3.3zM791.3 309.4l3.3 3.3-3.3 3.3-3.3-3.3zM796.2 325.4l3.3 3.3-3.3 3.3-3.3-3.3zM800.1 276.8l3.3 3.3-3.3 3.3-3.3-3.3zM800.1 282.7l3.3 3.3-3.3 3.3-3.3-3.3zM803.2 230.2l3.3 3.3-3.3 3.3-3.3-3.3zM805.4 251.9l3.3 3.3-3.3 3.3-3.3-3.3zM810.8 373.9l3.3 3.3-3.3 3.3-3.3-3.3zM813.2 312.2l3.3 3.3-3.3 3.3-3.3-3.3zM816.9 288.6l3.3 3.3-3.3 3.3-3.3-3.3zM824.6 303.5l3.3 3.3-3.3 3.3-3.3-3.3zM827.4 324.9l3.3 3.3-3.3 3.3-3.3-3.3zM832.7 307.2l3.3 3.3-3.3 3.3-3.3-3.3zM841.4 329.3l3.3 3.3-3.3 3.3-3.3-3.3zM857.4 304.6l3.3 3.3-3.3 3.3-3.3-3.3zM858.3 251.0l3.3 3.3-3.3 3.3-3.3-3.3zM860.0 323.2l3.3 3.3-3.3 3.3-3.3-3.3zM866.2 312.5l3.3 3.3-3.3 3.3-3.3-3.3zM872.7 289.7l3.3 3.3-3.3 3.3-3.3-3.3zM882.6 289.3l3.3 3.3-3.3 3.3-3.3-3.3zM896.4 291.9l3.3 3.3-3.3 3.3-3.3-3.3zM903.1 287.1l3.3 3.3-3.3 3.3-3.3-3.3zM904.2 275.7l3.3 3.3-3.3 3.3-3.3-3.3zM922.0 302.0l3.3 3.3-3.3 3.3-3.3-3.3zM924.8 294.1l3.3 3.3-3.3 3.3-3.3-3.3z"/>
<path d="M144.5 362.4L157.7 359.5L171.0 356.8L184.2 354.0L197.4 351.4L210.6 348.8L223.9 346.3L237.1 343.8L250.3 341.5L263.6 339.2L276.8 336.9L290.0 334.8L303.2 332.7L316.5 330.7L329.7 328.8L342.9 327.0L356.2 325.2L369.4 323.6L382.6 322.0L395.8 320.5L409.1 319.2L422.3 317.9L435.5 316.8L448.8 315.7L462.0 314.9L475.2 314.2L488.4 313.6L501.7 313.0L514.9 312.4L528.1 311.9L541.4 311.3L554.6 310.7L567.8 310.2L581.1 309.6L594.3 309.0L607.5 308.4L620.7 307.9L634.0 307.3L647.2 306.7L660.4 306.1L673.7 305.6L686.9 305.0L700.1 304.4L713.3 303.9L726.6 303.3L739.8 302.7L753.0 302.1L766.3 301.6L779.5 301.0L792.7 300.4L805.9 299.8L819.2 299.3L832.4 298.7L845.6 298.1L858.9 297.6L872.1 297.0L885.3 296.4L898.5 295.8L911.8 295.3L925.0 294.7" fill="none" stroke="#981a30" stroke-width="1.4"/>
</svg>
<div id="cap">From the NCI60 data set (Stanford web site)</div>
</body></html>
